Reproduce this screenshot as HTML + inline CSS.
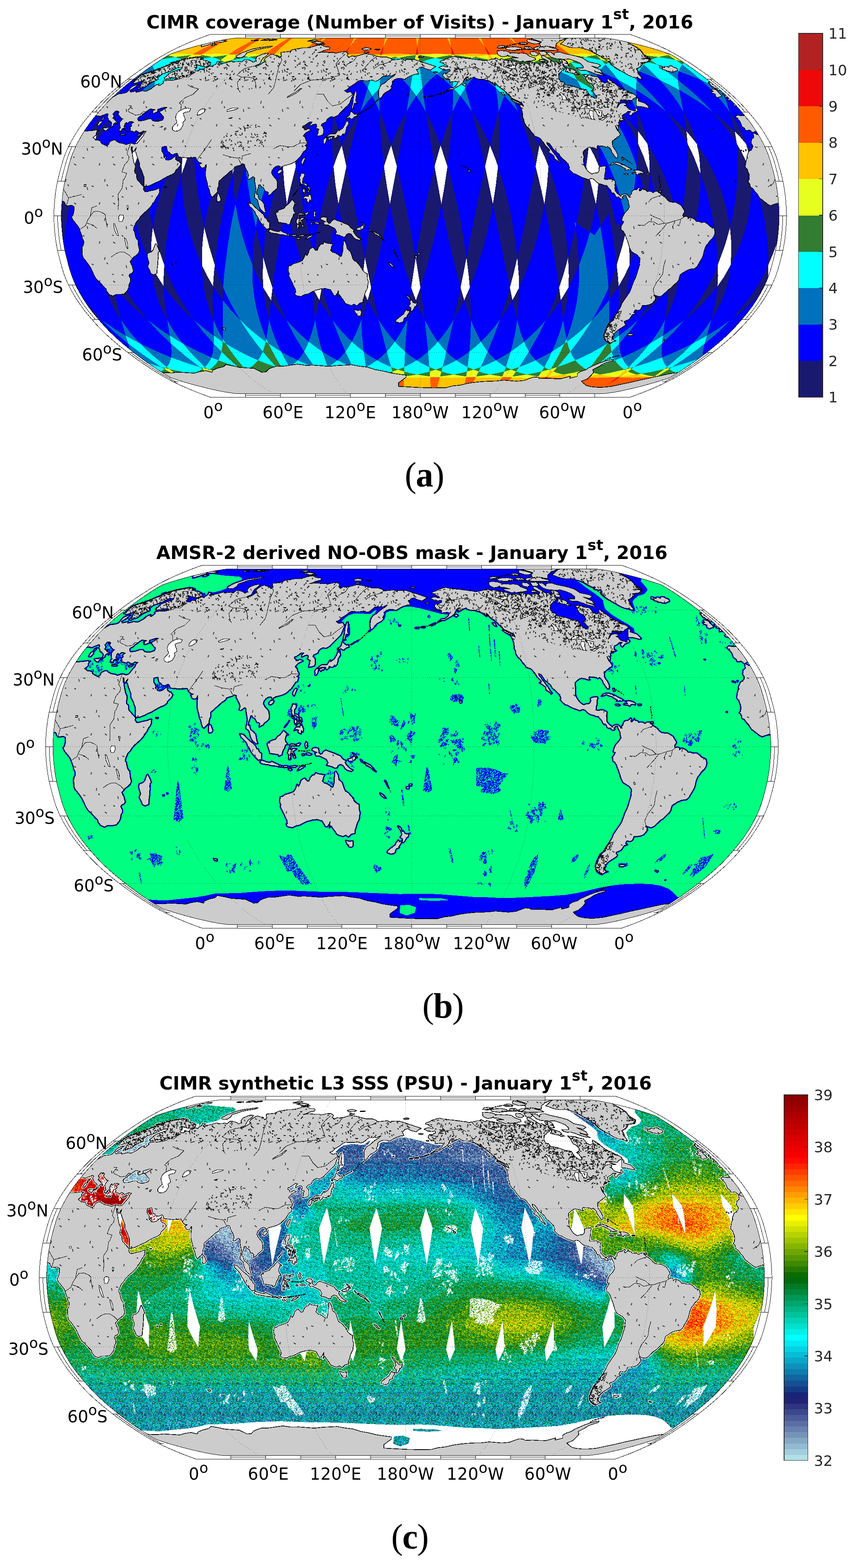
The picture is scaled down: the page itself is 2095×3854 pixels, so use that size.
<!DOCTYPE html>
<html lang="en"><head><meta charset="utf-8"><title>CIMR coverage, AMSR-2 NO-OBS mask and synthetic L3 SSS</title>
<style>
html,body{margin:0;padding:0;background:#fff}
body{width:2095px;height:3854px;overflow:hidden}
svg{display:block}
.t{font-family:"DejaVu Sans","Liberation Sans",sans-serif;font-weight:bold;font-size:45px;fill:#000;text-anchor:middle}
.l{font-family:"DejaVu Sans","Liberation Sans",sans-serif;font-size:40.3px;letter-spacing:0.6px;fill:#000}
.ll{letter-spacing:0}
.c{font-family:"DejaVu Sans","Liberation Sans",sans-serif;font-size:36px;fill:#262626}
.cap{font-family:"Liberation Serif","DejaVu Serif",serif;font-size:86px;fill:#000;text-anchor:middle;letter-spacing:-1.5px}
</style></head>
<body>
<svg width="2095" height="3854" viewBox="0 0 2095 3854">
<rect width="2095" height="3854" fill="#fff"/>
<defs>
<clipPath id="clip"><path d="M-882.6,-0 -882.5,-5.6 -882.4,-11.3 -882.1,-16.9 -881.8,-22.6 -881.4,-28.2 -880.9,-33.9 -880.4,-39.5 -879.9,-45.1 -879.2,-50.8 -878.6,-56.4 -877.8,-62.1 -876.9,-67.7 -876,-73.4 -875,-79 -873.8,-84.7 -872.6,-90.3 -871.3,-95.9 -869.9,-101.6 -868.5,-107.2 -867,-112.9 -865.5,-118.5 -864,-124.2 -862.4,-129.8 -860.7,-135.4 -858.9,-141.1 -857,-146.7 -854.9,-152.4 -852.6,-158 -850.2,-163.7 -847.6,-169.3 -844.9,-175 -842,-180.6 -838.9,-186.2 -835.8,-191.9 -832.5,-197.5 -829.1,-203.2 -825.6,-208.8 -821.9,-214.4 -818.1,-220 -814.1,-225.7 -809.9,-231.3 -805.6,-236.9 -801.1,-242.4 -796.5,-248 -791.8,-253.6 -787.1,-259.1 -782.3,-264.6 -777.4,-270.1 -772.3,-275.6 -767.1,-281.1 -761.7,-286.6 -756.1,-292 -750.3,-297.4 -744.4,-302.8 -738.3,-308.1 -732.2,-313.5 -725.9,-318.7 -719.5,-324 -713,-329.2 -706.5,-334.4 -699.8,-339.6 -693.1,-344.7 -686.2,-349.8 -679.3,-354.8 -672.4,-359.8 -665.3,-364.8 -658.2,-369.7 -651.1,-374.6 -643.8,-379.4 -636.4,-384.1 -628.9,-388.8 -621.2,-393.4 -613.3,-398 -601,-402.1 -588.7,-406 -576.3,-409.8 -564,-413.3 -551.7,-416.7 -539.3,-419.9 -527,-423 -514.7,-425.9 -502.3,-428.7 -490,-431.3 -477.7,-433.6 -465.3,-435.4 -453,-437 453,-437 465.3,-435.4 477.7,-433.6 490,-431.3 502.3,-428.7 514.7,-425.9 527,-423 539.3,-419.9 551.7,-416.7 564,-413.3 576.3,-409.8 588.7,-406 601,-402.1 613.3,-398 621.2,-393.4 628.9,-388.8 636.4,-384.1 643.8,-379.4 651.1,-374.6 658.2,-369.7 665.3,-364.8 672.4,-359.8 679.3,-354.8 686.2,-349.8 693.1,-344.7 699.8,-339.6 706.5,-334.4 713,-329.2 719.5,-324 725.9,-318.7 732.2,-313.5 738.3,-308.1 744.4,-302.8 750.3,-297.4 756.1,-292 761.7,-286.6 767.1,-281.1 772.3,-275.6 777.4,-270.1 782.3,-264.6 787.1,-259.1 791.8,-253.6 796.5,-248 801.1,-242.4 805.6,-236.9 809.9,-231.3 814.1,-225.7 818.1,-220 821.9,-214.4 825.6,-208.8 829.1,-203.2 832.5,-197.5 835.8,-191.9 838.9,-186.2 842,-180.6 844.9,-175 847.6,-169.3 850.2,-163.7 852.6,-158 854.9,-152.4 857,-146.7 858.9,-141.1 860.7,-135.4 862.4,-129.8 864,-124.2 865.5,-118.5 867,-112.9 868.5,-107.2 869.9,-101.6 871.3,-95.9 872.6,-90.3 873.8,-84.7 875,-79 876,-73.4 876.9,-67.7 877.8,-62.1 878.6,-56.4 879.2,-50.8 879.9,-45.1 880.4,-39.5 880.9,-33.9 881.4,-28.2 881.8,-22.6 882.1,-16.9 882.4,-11.3 882.5,-5.6 882.6,-0 882.5,5.6 882.4,11.3 882.1,16.9 881.8,22.6 881.4,28.2 880.9,33.9 880.4,39.5 879.9,45.1 879.2,50.8 878.6,56.4 877.8,62.1 876.9,67.7 876,73.4 875,79 873.8,84.7 872.6,90.3 871.3,95.9 869.9,101.6 868.5,107.2 867,112.9 865.5,118.5 864,124.2 862.4,129.8 860.7,135.4 858.9,141.1 857,146.7 854.9,152.4 852.6,158 850.2,163.7 847.6,169.3 844.9,175 842,180.6 838.9,186.2 835.8,191.9 832.5,197.5 829.1,203.2 825.6,208.8 821.9,214.4 818.1,220 814.1,225.7 809.9,231.3 805.6,236.9 801.1,242.4 796.5,248 791.8,253.6 787.1,259.1 782.3,264.6 777.4,270.1 772.3,275.6 767.1,281.1 761.7,286.6 756.1,292 750.3,297.4 744.4,302.8 738.3,308.1 732.2,313.5 725.9,318.7 719.5,324 713,329.2 706.5,334.4 699.8,339.6 693.1,344.7 686.2,349.8 679.3,354.8 672.4,359.8 665.3,364.8 658.2,369.7 651.1,374.6 643.8,379.4 636.4,384.1 628.9,388.8 621.2,393.4 613.3,398 601,402.1 588.7,406 576.3,409.8 564,413.3 551.7,416.7 539.3,419.9 527,423 514.7,425.9 502.3,428.7 490,431.3 477.7,433.6 465.3,435.4 453,437 -453,437 -465.3,435.4 -477.7,433.6 -490,431.3 -502.3,428.7 -514.7,425.9 -527,423 -539.3,419.9 -551.7,416.7 -564,413.3 -576.3,409.8 -588.7,406 -601,402.1 -613.3,398 -621.2,393.4 -628.9,388.8 -636.4,384.1 -643.8,379.4 -651.1,374.6 -658.2,369.7 -665.3,364.8 -672.4,359.8 -679.3,354.8 -686.2,349.8 -693.1,344.7 -699.8,339.6 -706.5,334.4 -713,329.2 -719.5,324 -725.9,318.7 -732.2,313.5 -738.3,308.1 -744.4,302.8 -750.3,297.4 -756.1,292 -761.7,286.6 -767.1,281.1 -772.3,275.6 -777.4,270.1 -782.3,264.6 -787.1,259.1 -791.8,253.6 -796.5,248 -801.1,242.4 -805.6,236.9 -809.9,231.3 -814.1,225.7 -818.1,220 -821.9,214.4 -825.6,208.8 -829.1,203.2 -832.5,197.5 -835.8,191.9 -838.9,186.2 -842,180.6 -844.9,175 -847.6,169.3 -850.2,163.7 -852.6,158 -854.9,152.4 -857,146.7 -858.9,141.1 -860.7,135.4 -862.4,129.8 -864,124.2 -865.5,118.5 -867,112.9 -868.5,107.2 -869.9,101.6 -871.3,95.9 -872.6,90.3 -873.8,84.7 -875,79 -876,73.4 -876.9,67.7 -877.8,62.1 -878.6,56.4 -879.2,50.8 -879.9,45.1 -880.4,39.5 -880.9,33.9 -881.4,28.2 -881.8,22.6 -882.1,16.9 -882.4,11.3 -882.5,5.6Z"/></clipPath>
<path id="lp" d="M-484.7,279.5 -487.7,275.1 -483.3,275.9 -478.9,276.8 -478.8,280.6 -481.7,280 -484.7,279.5ZM-612,118.4 -609.5,118.4 -609.1,120.7 -611.6,120.7 -612,118.4ZM-602.5,113.9 -600.6,113.9 -600.6,116.2 -602.2,115.6 -602.5,113.9ZM-646.8,130.3 -647.3,136 -647.6,141.7 -651.8,143.4 -656,145.1 -659.1,143.4 -662.2,141.7 -664.1,137.1 -665.9,132.6 -668,128.6 -670.1,124.7 -668.4,119.9 -666.7,115 -668.4,109.9 -670.2,104.8 -670.8,101.4 -671.5,98 -670.8,94.9 -670.2,91.8 -666,90.4 -661.8,89 -659.2,86.4 -656.6,83.9 -655.3,79.9 -653.8,75.9 -652,70.8 -649.9,68 -646.9,73.7 -643.9,79.3 -642.6,83.6 -641.1,87.8 -644.2,90.1 -644.5,94.6 -644.6,99.2 -644,102.6 -644.6,107.4 -645.1,112.2 -645.2,115.6 -645.3,119 -646.1,124.7 -646.8,130.3ZM-319.7,47 -315.7,47.6 -316.6,50.4 -319.1,49.9 -319.7,47ZM-326.8,45.9 -323.7,46.2 -320.7,46.5 -323.1,49.9 -326.7,48.2 -326.8,45.9ZM-326.6,49.3 -330.4,48.2 -334.2,47 -339.2,46.8 -344.2,46.5 -349.2,45.1 -354.3,43.6 -356.8,43.6 -361.8,42.8 -366.8,41.9 -370.1,40.2 -373.5,38.5 -369.6,33.4 -365.6,34.6 -361.1,36.3 -356.5,38 -352,38.5 -347.5,39.1 -344.6,36.3 -340.2,38.5 -335.9,40.8 -331.6,42.5 -327.3,44.2 -326.6,49.3ZM-375.2,13 -370.1,17 -370.2,22.3 -370.2,27.6 -370.2,32.9 -373.2,31.2 -377.1,33.4 -380.9,29.5 -384.7,25.5 -388.5,21.5 -391.9,17 -395.2,12.5 -396.8,9.1 -398.3,5.7 -401.1,1.4 -403.9,-2.8 -405.1,-6.2 -406.3,-9.6 -409.5,-13.3 -412.6,-17 -416.1,-20.1 -419.5,-23.2 -421.3,-27.5 -423.2,-31.7 -418.5,-30.6 -413.7,-29.5 -410.1,-25.5 -406.5,-21.5 -402.6,-17.9 -398.7,-14.2 -395.7,-11.9 -392.8,-9.6 -389.1,-6.2 -385.3,-2.8 -383.3,1.4 -381.3,5.7 -378.3,5.7 -376.8,9.4 -375.2,13ZM-311.6,-36.3 -309.2,-33.4 -306.5,-31.5 -303.8,-29.5 -308.3,-28.3 -310.5,-23.8 -312.1,-18.7 -311.1,-15 -310.2,-11.3 -305.3,-5.7 -308.3,-5.1 -311.3,-4.5 -312.3,-0.6 -313.3,3.4 -316.2,7.4 -317.5,10.8 -318.7,14.2 -320,19.8 -323.5,21.5 -327,23.2 -327.6,19.3 -331.3,18.7 -335.1,18.1 -338.3,17.6 -341.6,17 -345.4,16.7 -349.1,16.4 -349.7,13.3 -350.2,10.2 -352,5.1 -353.8,-0 -355.3,-5.7 -355.3,-7.9 -352,-8.8 -348.7,-9.6 -352.2,-11.3 -348.2,-13.3 -344.1,-15.3 -339.6,-16.7 -335.1,-18.1 -332.5,-21.5 -329.9,-24.9 -324.8,-28.3 -319.7,-34 -315.5,-39.7 -311.6,-36.3ZM-499.9,-45.3 -499,-51 -498.7,-55.5 -494.4,-52.7 -492.7,-48.2 -491.4,-44.8 -490.1,-41.4 -490.9,-36.8 -494.5,-34.6 -498.5,-34 -500,-39.1 -499.9,-42.2 -499.9,-45.3ZM-629.6,-71.4 -626.6,-71.4 -623.6,-71.4 -624.8,-69.7 -628.8,-69.7 -629.6,-71.4ZM-346.5,-113.3 -343.6,-113.6 -340.6,-113.9 -339.4,-111.1 -342.3,-106.5 -347.1,-103.1 -351.4,-104.8 -350.9,-108.8 -346.5,-113.3ZM-796.3,-204 -796.2,-199.5 -799.2,-196.6 -805,-192.1 -801.7,-190.4 -799.8,-188.1 -797.9,-185.9 -793.4,-186.4 -791.2,-185.6 -789,-184.7 -785.8,-183.6 -786,-180.2 -784,-178.5 -781.9,-176.8 -779.3,-175.7 -776.7,-174.5 -774.3,-173.1 -771.8,-171.7 -766.4,-175.1 -764.9,-178.5 -763.2,-181.9 -757.3,-185.3 -752.9,-186.4 -748.9,-185.9 -747.4,-183 -744.2,-181.9 -742,-180.5 -739.7,-179.1 -735.2,-178.5 -730.7,-177.9 -727.3,-176.5 -723.8,-175.1 -718.3,-176.8 -715.2,-177.9 -712,-179.1 -709.3,-178.2 -706.5,-177.4 -702.7,-176.2 -699.7,-177.1 -696.7,-177.9 -692.4,-182.5 -689.9,-185.9 -687.3,-189 -684.7,-192.1 -680.6,-196.6 -678.9,-201.2 -676,-205.1 -673.9,-207.4 -676.7,-207.4 -680.8,-208.5 -686.8,-205.1 -691.6,-204 -693.8,-206.8 -696.3,-208 -698.7,-209.1 -702,-205.7 -704.6,-206.5 -707.1,-207.4 -710.3,-208.5 -713.9,-209.7 -712.1,-213.6 -714.3,-217 -710.3,-219.8 -709.5,-222.6 -711.6,-223.8 -709.3,-226.6 -704.4,-230 -707.7,-230.5 -707.8,-231.1 -711,-231.4 -714.3,-231.6 -718,-228.8 -720.4,-226.6 -721.5,-227.7 -722.3,-230 -725.9,-226.6 -726.6,-222.6 -728.5,-220.4 -727.2,-218.4 -725.8,-216.4 -727.8,-213 -728.8,-215.3 -731.9,-214.7 -732.5,-211.3 -733.7,-212.5 -734.6,-209.4 -735.4,-206.3 -736,-208.5 -738.7,-206.3 -738.7,-209.7 -741.2,-208.5 -740.4,-213 -736.5,-216.4 -738.6,-217.6 -738.4,-220.9 -739.1,-224.9 -738.8,-229.4 -735.7,-233.9 -733.2,-236.7 -735.3,-240.1 -737.8,-242.9 -739,-244.5 -740.3,-246.2 -741.7,-247.9 -743.1,-249.6 -740.5,-254.6 -741.4,-256.3 -745.8,-254 -744.1,-257.4 -742.7,-257.9 -746.5,-257.4 -750.3,-256.8 -751.7,-254 -755.3,-250.7 -755.2,-249 -752.9,-246.8 -753.7,-243.7 -754.5,-240.6 -752.9,-237.3 -750.4,-237.3 -747.9,-237.3 -750.9,-235 -747.9,-232.8 -746.4,-231.4 -744.9,-230 -744.5,-227.1 -746.1,-225.5 -746.5,-228.3 -748.9,-229.4 -754.8,-224.9 -754.7,-221.5 -759.6,-218.1 -763.6,-214.7 -765.5,-215 -764.1,-217 -760.4,-219.8 -758.7,-223.2 -758.7,-226.6 -759.6,-230 -761.5,-231.1 -762.7,-233.3 -765.5,-233.9 -766.6,-236.7 -767.2,-239.5 -768.4,-241.2 -769.6,-242.9 -767.9,-246.2 -767.4,-249.6 -770.1,-251.2 -776,-248.5 -780.5,-247.3 -786,-244.5 -789.6,-244 -790.9,-245.1 -794.1,-245.7 -798.2,-245.7 -803.7,-242.9 -805,-239.5 -808.6,-236.7 -814,-234.5 -817,-233.6 -819.9,-232.8 -823.5,-230.5 -830.2,-226.6 -826.1,-231.9 -821.9,-237.2 -817.6,-242.5 -813.1,-247.8 -808.6,-253.1 -804,-258.3 -799.4,-263.6 -794.7,-268.8 -789.8,-274 -784.8,-279.2 -784.1,-279.5 -777.6,-281.7 -772.7,-284.4 -768,-287.7 -762.6,-288.8 -758.9,-289.9 -753.3,-293.2 -748.3,-295.9 -744.1,-298.6 -739.8,-300.2 -736.3,-300.5 -732.9,-300.7 -729.7,-301.3 -726.6,-301.8 -722.3,-303.4 -718.5,-306.1 -716.8,-308.8 -714.1,-312 -712.3,-314.7 -707.5,-318.4 -703.4,-320.5 -699.2,-321.8 -695,-323.2 -691.5,-323.7 -693.8,-322.1 -698.9,-318.4 -698.2,-316.8 -702.3,-315.7 -704.8,-313.6 -709.4,-310.9 -714.1,-308.3 -713.5,-306.1 -712.5,-304 -709.4,-304.5 -706.3,-305.1 -702,-306.1 -697.7,-307.2 -698.7,-303.4 -695.1,-304.2 -691.5,-305.1 -687.7,-306.1 -683.8,-307.2 -680.6,-306.7 -677.4,-306.1 -674,-306.1 -670.3,-307.7 -665.2,-310.4 -660.1,-313.1 -656,-317.3 -648.7,-322.1 -645.3,-323.2 -641.9,-324.2 -643.7,-320 -640.4,-320 -634.6,-324.2 -630.8,-327.4 -632.5,-329.5 -630.2,-331.5 -627.2,-332.1 -624.2,-332.6 -621,-333.1 -617.8,-333.6 -614.1,-333.4 -610.3,-333.1 -606.6,-333.8 -602.9,-334.5 -599.2,-335.2 -600.5,-336.2 -601.8,-337.3 -600.7,-339.3 -604.6,-338.8 -608.6,-338.3 -613.4,-337.5 -618.3,-336.7 -623.5,-335.7 -628.6,-334.7 -627.9,-337.8 -629.6,-339.3 -623.2,-343.5 -619.6,-348.1 -614.1,-351.6 -609.6,-353.4 -605.1,-355.2 -600.1,-356.9 -595.1,-358.7 -591.2,-359.9 -587.4,-361.2 -585.1,-363.7 -585.8,-365.1 -588.8,-365.1 -591.9,-365.1 -596.1,-364.2 -604.6,-360.2 -614.8,-355.2 -619.7,-353.4 -624.6,-351.6 -629.9,-349.8 -635.3,-348.1 -640.7,-344 -646.3,-339.3 -645.3,-338 -644.2,-336.7 -645.7,-334.2 -651.3,-332.1 -658.2,-328.9 -663.6,-326.3 -668.7,-322.4 -673.8,-318.4 -680,-315.7 -683.1,-315.2 -686.2,-314.7 -690.5,-311.5 -693,-311.5 -695.5,-311.5 -693.2,-314.7 -688.8,-317.9 -687.5,-320.8 -686.2,-323.7 -683.9,-326.8 -681.6,-330 -677.3,-335.2 -682.5,-331.5 -685.8,-330.5 -690.5,-328.9 -695.1,-327.4 -699.6,-325.8 -704.3,-325.3 -704.9,-326.6 -705.6,-327.9 -703.1,-330.5 -701.5,-333.1 -695.5,-337.8 -692.7,-340.9 -686.7,-345.5 -682.3,-347 -677.9,-348.6 -673,-350.1 -668,-351.6 -664.5,-352.6 -661.1,-353.6 -658,-353.6 -654.9,-353.6 -657,-354.6 -652.6,-356.4 -648.1,-358.2 -644,-358.7 -634.6,-363.7 -626.9,-367.6 -620.6,-370.1 -614.2,-372.5 -609.8,-374.2 -605.4,-375.9 -608.4,-375.9 -611.5,-375.9 -614.6,-375.9 -609.7,-377.4 -604.9,-378.8 -602.5,-378.6 -600.1,-378.3 -597.9,-378.1 -595.7,-377.8 -593.1,-380.7 -587,-382.4 -581,-384.1 -576.4,-384.8 -571.8,-385.5 -566.2,-386.9 -561.8,-387.8 -557.4,-388.8 -553.8,-389.6 -550.2,-390.3 -546.6,-391.1 -544.2,-390.6 -541.9,-390.2 -539.9,-389.7 -537.8,-389.2 -536.2,-388.6 -534.6,-388 -532.9,-387.4 -537.1,-386.4 -541.2,-385.5 -541.3,-384.1 -537.4,-384.3 -533.5,-384.5 -533.1,-383.3 -532.6,-382.2 -529.3,-381.9 -526,-381.7 -524.1,-380.9 -522.2,-380.1 -520.3,-379.3 -518.7,-378.3 -517,-377.4 -515.4,-376.4 -516,-373.7 -516.5,-371 -520.1,-368.6 -525.5,-367.1 -528.6,-366.9 -531.7,-366.6 -534.3,-367.1 -536.8,-367.6 -539.4,-368.1 -541.7,-368.8 -544,-369.4 -546.3,-370.1 -547.5,-370.8 -548.6,-371.5 -549,-369.6 -549.3,-367.6 -549.2,-365.6 -549.1,-363.7 -554.9,-358.7 -554.1,-357.4 -553.2,-356.2 -550.6,-355.9 -548,-355.7 -543.4,-357.7 -543.3,-359.7 -543.1,-361.7 -541.1,-360.9 -539.1,-360.2 -536.8,-359.7 -534.5,-359.2 -533.1,-358.7 -529.5,-363.7 -523.2,-365.9 -516.9,-368.1 -514.9,-367.4 -512.9,-366.8 -510.8,-366.1 -509.6,-368.6 -501.4,-373.5 -500.3,-376.4 -499.1,-379.3 -496.6,-378.6 -494,-378 -491.5,-377.4 -497.7,-373.5 -496.8,-371 -492.4,-373 -488,-374.9 -485.6,-374.5 -481.2,-375.6 -476.9,-376.7 -472.6,-377.8 -467.6,-379 -462.6,-380.2 -461.1,-378.3 -458.1,-378.6 -455.1,-378.8 -452.3,-378.8 -449.6,-378.8 -444.9,-379.8 -442.3,-378.8 -439.6,-377.8 -435.5,-381 -431.3,-384.1 -428.6,-384.1 -425.9,-384.1 -423.5,-383.4 -421.2,-382.8 -418.8,-382.2 -416.4,-381 -413.9,-379.8 -412.4,-378.6 -410.8,-377.4 -404.3,-380.2 -404.5,-382.9 -404.6,-385.5 -402.7,-388.5 -400.7,-391.6 -395,-394.1 -389.3,-396.7 -385.2,-398 -381,-399.4 -378.5,-399.1 -375.9,-398.8 -373.4,-398.5 -376,-395.5 -378.6,-392.5 -386.1,-387.8 -388.6,-384.3 -391.1,-380.7 -392.7,-377.1 -394.1,-373.5 -399.8,-371.3 -405.5,-369.1 -405.4,-367.1 -399.9,-369.1 -394.4,-371 -387.1,-375.9 -380.2,-380.7 -382.3,-381.4 -384.3,-382.2 -382.5,-385 -380.7,-387.8 -375.5,-391.3 -370.2,-394.8 -364.4,-397.1 -362.2,-396.7 -360.1,-396.2 -357.9,-394.8 -355.3,-394.5 -352.7,-394.2 -350.1,-393.9 -349,-391.9 -347.9,-389.9 -346.8,-387.8 -340.8,-392.5 -341.7,-394.4 -342.6,-396.2 -342.5,-398.9 -342.4,-401.7 -339.2,-402 -336,-402.3 -332.9,-402.6 -329,-403 -325.1,-403.5 -321.2,-403.9 -313.3,-408.4 -309.2,-409.1 -305.1,-409.8 -301,-410.6 -296.9,-411.3 -292.8,-412 -288.7,-412.8 -285.4,-412.8 -282.1,-412.8 -278.8,-412.8 -274.7,-413.5 -270.7,-414.2 -266.7,-414.9 -262.9,-416.1 -259,-417.2 -255.2,-418.4 -251.7,-418.9 -248.1,-419.5 -244.5,-420 -242.7,-419.5 -240.8,-418.9 -239,-418.4 -237.7,-417.1 -236.4,-415.8 -233.6,-415.7 -230.8,-415.6 -228,-415.5 -225.2,-415.4 -223.8,-414.1 -222.4,-412.8 -223,-409.7 -226.7,-408.8 -230.3,-407.9 -233.9,-407 -237.5,-406.2 -243.3,-403 -247.6,-401.9 -251.9,-400.8 -248.5,-401.2 -245.2,-401.7 -241.8,-402.1 -238.5,-402.6 -235.2,-402.4 -231.8,-402.3 -228.5,-402.1 -227.1,-401.7 -223.7,-401.7 -220.2,-401.7 -216.8,-401.7 -213.3,-401.7 -210.6,-400.5 -207.8,-399.4 -203.7,-400.5 -199.7,-401.5 -195.6,-402.6 -192.5,-402.8 -189.3,-403 -186.2,-403.2 -183.1,-403.5 -181.1,-401.8 -179.2,-400.2 -177.1,-398.5 -178.7,-395.7 -180.2,-393 -178.2,-392 -176.2,-391.1 -174.1,-390.2 -170.7,-391.8 -167.3,-393.4 -166,-392.5 -162.4,-392.7 -158.8,-392.8 -155.2,-393 -151.2,-394 -147.3,-395.1 -143.3,-396.2 -139.4,-397.3 -135.5,-398.5 -132.2,-398 -128.8,-397.6 -125.5,-397.1 -122.2,-396.7 -119,-395.8 -115.7,-395 -112.5,-394.2 -109.2,-393.3 -105.9,-392.5 -103.2,-391.7 -100.5,-391 -97.7,-390.2 -94.5,-390.2 -91.3,-390.2 -88.1,-390.2 -84.9,-390.2 -81.7,-390.2 -78.4,-388.9 -75.1,-387.7 -71.8,-386.4 -68.7,-383.1 -65.1,-383.4 -61.4,-383.7 -57.7,-384.1 -54.1,-384.4 -50.4,-384.8 -46.8,-385.1 -43.2,-385.5 -39.8,-383.1 -36.4,-380.7 -35,-384.1 -31.7,-384.2 -28.5,-384.4 -25.2,-384.5 -21.6,-384.4 -18,-384.2 -14.4,-384.1 -11.3,-383.1 -8.2,-382.2 -5,-381.2 -1.8,-380.2 1.2,-379.3 4.3,-378.3 7.3,-377.4 11,-376.1 14.8,-374.8 18.5,-373.5 22.3,-372.2 26.1,-370.9 29.9,-369.6 32.8,-368.6 35.7,-367.6 38.7,-366.6 36.4,-365.4 34,-364.2 31.3,-362.4 28.5,-360.7 26,-358.2 22.5,-358.9 19.1,-359.7 15.2,-360.9 11.4,-362.2 8.5,-364.2 5.6,-366.1 1.9,-364.9 -1.9,-363.7 -5.7,-359.2 -9.5,-359.7 -7.7,-356.7 -5.8,-353.6 -3.9,-348.6 -7.8,-348.3 -11.7,-348.1 -15,-347 -18.3,-346 -21.6,-345 -25.6,-342.9 -29.7,-340.9 -32.7,-339 -35.7,-337.1 -38.8,-335.2 -41.8,-336.1 -44.8,-336.9 -47.8,-337.8 -51.8,-337.8 -55.7,-337.8 -58.9,-336.5 -62,-335.2 -65.3,-332.9 -68.6,-330.5 -68.3,-327.4 -68.1,-324.2 -70.1,-320.8 -72.2,-317.3 -69.2,-314.7 -72.3,-311.5 -75.3,-308.3 -79.8,-306.1 -84.3,-304 -87.4,-301.3 -90.5,-298.6 -92.4,-295.3 -94.3,-292.1 -97.4,-289.6 -100.6,-287.2 -101.5,-291.5 -102.3,-295.9 -102.2,-300.4 -102.1,-304.9 -102,-309.3 -100.5,-313.3 -99,-317.3 -94.9,-322.6 -91.1,-324.5 -87.4,-326.3 -83.8,-329.7 -80.3,-333.1 -76.9,-335.7 -73.6,-338.3 -69.3,-340.9 -65,-343.5 -60.5,-348.6 -63.5,-347.3 -66.6,-346 -70.9,-343.5 -73.8,-344.2 -76.6,-345 -80.8,-343.5 -84,-343.5 -87.3,-343.5 -90.6,-343.5 -95.2,-339.6 -99.9,-335.7 -104.6,-332.1 -107.8,-331.3 -110.9,-330.5 -114,-332.1 -117.1,-333.6 -120.3,-333.1 -123.5,-332.6 -126.7,-332.1 -130.7,-332.1 -134.8,-332.1 -138.8,-332.1 -141.8,-332.2 -144.9,-332.4 -147.9,-332.6 -150.6,-331.5 -153.3,-330.5 -157.2,-327.4 -161.1,-324.2 -164.9,-321.9 -168.6,-319.6 -172.4,-317.3 -175.9,-313.9 -179.4,-310.4 -182.9,-309.1 -186.4,-307.7 -183.8,-305.9 -181.2,-304 -179.4,-302.9 -174.9,-304 -170.4,-305.1 -168.6,-302.1 -166.8,-299.1 -164.4,-298.6 -166.4,-294.5 -168.4,-290.4 -170.2,-285.9 -171.9,-281.3 -173.6,-276.8 -178.3,-271.2 -183.9,-265.7 -189.5,-260.2 -195.1,-254.6 -198.6,-251 -202,-247.3 -206.6,-244.8 -211.2,-242.3 -214,-242.3 -218.1,-244 -221,-242.6 -223.8,-241.2 -229.3,-236.7 -231,-231.1 -234.7,-229.2 -238.3,-227.3 -241.9,-225.5 -243.6,-222.1 -239.7,-218.1 -237.8,-213.6 -237.8,-208.8 -237.7,-204 -240,-198.9 -243.5,-197.8 -247,-196.6 -250.2,-196.1 -253.4,-195.5 -252.5,-200.6 -250.9,-204 -251.4,-208.5 -249.2,-212.5 -253.1,-214.2 -256.9,-215.9 -254.4,-219.3 -255.1,-224.3 -257.6,-225.5 -260.5,-224.9 -263.4,-224.3 -267.1,-222.4 -270.8,-220.4 -270.8,-224.3 -268.2,-227.4 -265.6,-230.5 -268.3,-230.8 -271,-231.1 -274.8,-228.6 -278.7,-226 -281.8,-223.8 -284.9,-221.5 -288.8,-220.9 -289.3,-217 -286.9,-215.3 -284.5,-213.6 -285.1,-210.8 -281.4,-210.8 -275.9,-214.2 -273.1,-213.3 -270.3,-212.5 -268.3,-210.8 -271.1,-209.4 -274,-208 -277.2,-206.3 -280.4,-204.6 -285.8,-198.9 -287.3,-196.1 -285,-194.4 -282.8,-192.7 -282,-189.3 -281.2,-185.9 -279.4,-182.8 -277.5,-179.6 -278.7,-175.7 -283.5,-172.8 -279,-170.6 -279.8,-165.5 -282,-160.4 -286.1,-158.7 -289.8,-153 -293.4,-147.3 -296.9,-142.8 -301.7,-138.8 -306.1,-134.3 -309.3,-132 -312.4,-130.3 -315.5,-128.6 -318.8,-127.5 -322.1,-126.4 -325.7,-125.2 -329.4,-124.4 -333.2,-123.5 -337.1,-121.8 -340.9,-120.1 -342.9,-115 -343.8,-118.4 -344.7,-121.8 -347.5,-122.4 -350.4,-123 -355.6,-120.7 -359.3,-117.9 -363.9,-112.2 -364.7,-109.1 -365.5,-106 -364.1,-102.9 -362.7,-99.7 -360.3,-96.6 -357.9,-93.5 -355.2,-91.2 -352.2,-86.1 -351.7,-82.2 -351.3,-78.2 -351.3,-74.8 -351.3,-71.4 -352.1,-67.4 -357.4,-62.3 -360.2,-60.4 -363.1,-58.4 -365.8,-53.8 -368.6,-52.4 -371.4,-51 -375,-48.7 -374.2,-54.4 -373.1,-56.7 -377.4,-60.1 -380.9,-60.1 -383.1,-64.6 -385.3,-69.1 -388.1,-70.6 -391,-72 -392.7,-75.9 -394.6,-76.5 -397.2,-75.4 -397.6,-70.8 -400,-65.2 -402.3,-59.5 -402.5,-56.1 -402.7,-52.7 -399.2,-52.7 -398.5,-47.6 -397.4,-44.2 -396.3,-40.8 -392.9,-39.1 -388.6,-35.1 -384.2,-30 -383.6,-25.8 -383,-21.5 -382.1,-17.6 -381.2,-13.6 -379.3,-7.9 -382.8,-7.4 -386,-9.9 -389.2,-12.5 -393.1,-17 -394.8,-20.4 -396.4,-23.8 -397.3,-27.2 -398.2,-30.6 -398.8,-34 -399.5,-37.4 -402.8,-41.4 -407.6,-44.8 -407.5,-47.9 -407.3,-51 -405.5,-56.7 -405,-60.9 -404.4,-65.2 -404.6,-70.3 -405.4,-75.1 -406.2,-79.9 -406.9,-83.9 -407.5,-87.8 -407.4,-93.5 -411,-96.3 -414.2,-94.1 -417.4,-91.8 -420.6,-89.5 -424.5,-90.7 -423.3,-94.9 -422,-99.2 -423.2,-103.4 -424.4,-107.7 -426.2,-110.8 -428.1,-113.9 -429.8,-117.6 -431.5,-121.3 -431.8,-126.4 -434.9,-127.2 -437.9,-128.1 -440.8,-124.7 -445.9,-123.5 -450,-122.4 -453.1,-121.3 -456.2,-120.1 -457.7,-116.2 -462.2,-112.2 -467.5,-109.4 -472.3,-104.8 -477.1,-100.3 -482.7,-95.8 -486.1,-92.7 -489.4,-89.5 -494.9,-85 -495.1,-79.6 -495.1,-74.2 -496.7,-70.8 -498.3,-67.4 -498.7,-62.9 -499,-58.4 -503.3,-53.8 -507.6,-49.9 -511.3,-45.9 -514.2,-48.2 -515.7,-52.1 -517.1,-56.1 -517.8,-59.8 -518.5,-63.5 -520.6,-68.3 -522.6,-73.1 -523.1,-77.1 -523.7,-81 -524.7,-84.4 -525.8,-87.8 -526.7,-92.1 -527.6,-96.3 -527.7,-102 -527.8,-107.7 -527.5,-111.1 -527.2,-114.5 -526.3,-120.1 -526.4,-125.8 -528.2,-123.5 -529.9,-119 -535.1,-117.3 -539.8,-119 -541.2,-122.4 -543.5,-125.8 -540.2,-127.8 -536.9,-129.8 -539.8,-130.1 -542.7,-130.3 -546,-133.7 -549,-136 -550.5,-140.5 -552.7,-143.9 -557.2,-143.4 -561.7,-142.8 -565.4,-142.6 -569.2,-142.4 -573,-142.2 -577,-142.8 -581,-143.4 -584.8,-143.7 -588.7,-143.9 -591.4,-144.5 -594.2,-145.1 -595.3,-148.5 -596.4,-151.9 -599.1,-154.1 -603,-152.4 -606.9,-150.7 -610.2,-151 -613.5,-151.3 -616.6,-155.8 -618.9,-157 -621.2,-158.1 -622.8,-163.8 -623.5,-167.5 -624.2,-171.1 -627.2,-170.6 -630.3,-170 -634.6,-168.9 -635.4,-166.6 -635.2,-162.6 -635.1,-158.7 -633.3,-155.8 -631.4,-153 -630,-149.6 -630.8,-144.5 -629.1,-141.7 -628.3,-145.1 -625.6,-147.9 -624.8,-143.4 -626.7,-139.4 -624.3,-137.1 -619.6,-136.6 -615.9,-137.7 -612.2,-138.8 -606.8,-143.4 -602.7,-146.2 -599.9,-149.6 -600.8,-145.9 -601.7,-142.2 -601.2,-138.3 -597,-134.9 -592.9,-133.7 -590.2,-129.8 -588.2,-127.5 -591.3,-121.8 -596.2,-116.2 -601.5,-111.6 -602.3,-107.1 -605.7,-104.6 -609.1,-102 -612.5,-100.6 -616,-99.2 -619.2,-97.8 -622.4,-96.3 -627.3,-93.5 -632.3,-90.7 -636.9,-87.8 -641.6,-85 -645.3,-83.6 -649,-82.2 -653.3,-79.9 -657.6,-77.6 -661.9,-75.9 -666.3,-74.2 -670.7,-72.5 -674.4,-72.3 -678.2,-72 -679.2,-75.4 -679.4,-79.6 -679.4,-83.9 -679.4,-87.3 -679.3,-90.7 -679.3,-95.8 -680.7,-98.9 -682.1,-102 -682.9,-105.1 -683.8,-108.2 -685.4,-111.4 -686.9,-114.5 -688.6,-118.2 -690.3,-121.8 -690.2,-125.5 -690.1,-129.2 -691.5,-132.9 -692.8,-136.6 -693.9,-139.7 -695,-142.8 -697.3,-148.5 -698,-151.6 -698.7,-154.7 -701.3,-158.7 -699.5,-162.9 -697.7,-167.2 -700.9,-163.8 -702.2,-161.5 -704.9,-157.1 -707.2,-159.8 -707.9,-163.2 -708,-166.6 -708.5,-169.7 -710.2,-167.2 -710.4,-161.5 -709.3,-157.8 -708.1,-154.1 -707.7,-150.2 -707.2,-146.2 -706.2,-141.1 -705.1,-136 -704.1,-130.3 -700.9,-124.7 -700.7,-119 -701.6,-115 -702.4,-111.1 -701.6,-105.4 -697.4,-102 -697.2,-97.8 -697.1,-93.5 -695.5,-88.4 -691.2,-84.4 -688.8,-81.3 -686.3,-78.2 -681.9,-73.7 -679.5,-69.7 -681,-65.7 -679.1,-62.6 -677.2,-59.5 -672.3,-58.9 -668.4,-60.1 -664.6,-61.2 -660.7,-62.1 -656.9,-62.9 -653.9,-63.5 -650.8,-64 -647.4,-65.7 -644,-67.4 -640,-66.9 -641.5,-62.3 -640.4,-58.9 -642.3,-55 -644.1,-51 -648.6,-45.3 -650.1,-41.9 -651.5,-38.5 -654.3,-34.6 -657,-30.6 -659.8,-26.6 -662.5,-22.7 -667.7,-17 -670.8,-14.2 -673.9,-11.3 -677.2,-8.5 -680.6,-5.7 -684.4,-1.7 -688.1,2.3 -690.3,6 -692.5,9.6 -695.9,13 -699.2,17 -701.5,22.7 -704.1,28.3 -704.7,31.7 -705.2,35.1 -702.5,38.5 -702,41.9 -701.4,45.3 -700.3,49.6 -699.2,53.8 -696.2,58.4 -694,60.6 -693.7,65 -693.3,69.3 -692.9,73.7 -691.5,79.3 -690.1,85 -691.5,88.4 -692.9,91.8 -695.8,94.6 -698.8,97.5 -702,99.7 -705.3,102 -709.1,107.1 -711.3,109.7 -713.5,112.2 -711.7,115.6 -710,119 -707.8,124.7 -706.6,130.1 -705.3,135.4 -707.5,140 -710.9,141.7 -714.3,143.4 -716.1,147.3 -714.3,150.7 -712.5,154.1 -712.4,157.8 -712.3,161.5 -714.5,164.9 -716.1,169.4 -716.5,173.1 -716.8,176.8 -718.3,179.9 -719.8,183 -721.5,185 -723.2,187 -725.2,189.3 -727.1,191.5 -731.3,192.7 -735,193 -738.6,193.2 -743.3,193.2 -748.1,193.2 -751.8,195.2 -755.4,197.2 -761.4,194.9 -765.4,192.7 -768.7,188.1 -771.1,185.3 -771.8,182.5 -772.4,179.6 -776,176.2 -779.4,172.8 -782.7,169.2 -786,165.5 -788.8,162.1 -795.2,157 -797.3,153.9 -799.4,150.7 -801.7,146.2 -803.9,141.7 -805.8,137.7 -807.6,133.7 -809.3,129.8 -811.8,125.8 -814.3,121.8 -818.4,116.2 -822.5,110.5 -825.3,107.4 -828,104.3 -829.5,100.3 -830.9,96.3 -831,91.2 -831.1,86.1 -831.1,81.3 -831,76.5 -827.8,71.4 -827.5,66.9 -827.2,62.3 -829.2,58.4 -831.2,54.4 -831.7,49.9 -833.1,46.2 -834.4,42.5 -836,38.3 -837.6,34 -839.6,28.3 -844,22.7 -846.7,19.3 -849.3,15.9 -854.1,10.2 -855.7,6.8 -857.2,3.4 -853.7,-2.3 -852.7,-6.2 -851.6,-10.8 -851.4,-13.9 -851.3,-17 -851.5,-22.7 -855.8,-25.5 -858.3,-25.5 -861.5,-25.2 -864.8,-24.9 -869.8,-24.4 -873.1,-28.3 -874.2,-32.9 -877,-35.7 -879.4,-36 -881.9,-36.3 -886.9,-35.7 -890,-35.1 -893,-34.6 -896.7,-32.9 -899.3,-31.7 -898.8,-37.2 -898.3,-42.8 -897.7,-48.3 -897,-53.9 -896.3,-59.4 -895.5,-65 -894.6,-70.5 -893.6,-76.1 -892.5,-81.7 -891.3,-87.2 -890,-92.8 -888.7,-98.3 -887.3,-103.9 -885.8,-109.4 -884.3,-115 -882.8,-120.6 -881.3,-126.1 -879.7,-131.7 -878,-137.2 -876.1,-142.8 -874.1,-148.3 -871.9,-153.9 -869.6,-159.4 -867.1,-165 -864.5,-170.6 -861.7,-176.1 -858.8,-181.7 -855.7,-187.2 -852.5,-192.8 -849.2,-198.3 -845.7,-203.9 -840,-206.3 -836.3,-207 -832.5,-207.8 -828.7,-208.5 -824,-208.5 -819.4,-208.5 -814.7,-208.8 -810.1,-209.1 -805.5,-209.7 -802.1,-210.2 -798.6,-210.8 -795.1,-211.3 -794.5,-208.5 -790.2,-210.2 -794.5,-206.3 -796.3,-204ZM-634.5,-246.8 -635.9,-248.7 -637.3,-250.7 -638.9,-252.9 -641.9,-255.2 -637.4,-257.7 -633,-260.2 -628,-263.2 -623,-266.3 -626.1,-266.8 -630.9,-266.3 -635.3,-264.9 -639.6,-263.5 -645.2,-261.8 -646.1,-257.4 -642.1,-256.8 -645.3,-255.7 -648.5,-254.6 -652.4,-252.9 -656.2,-251.2 -658.6,-252.4 -656.7,-255.7 -659.9,-256.8 -655.9,-258.8 -651.8,-260.7 -655.2,-261.3 -658.6,-261.8 -661,-262.4 -663.5,-262.9 -669.5,-259 -673.3,-255.7 -681.8,-250.1 -685.1,-246.2 -689.4,-244.5 -694,-240.6 -694.4,-236.7 -692.1,-233.3 -688.3,-233.5 -684.5,-233.7 -680.7,-233.9 -675.1,-235.9 -669.4,-237.8 -665.1,-237.8 -660.8,-237.8 -659.5,-235.9 -658.3,-233.9 -654.9,-233 -651.5,-232.2 -647.6,-232.2 -643.7,-232.2 -638.3,-233.9 -633,-235.6 -630.6,-240.1 -630.8,-243.4 -632.6,-245.1 -634.5,-246.8ZM-688.8,-198.3 -694.6,-196.1 -696.8,-198.3 -692.7,-200 -688.3,-201.2 -684,-202.3 -688.8,-198.3ZM-724.2,-200 -726.5,-198.3 -730.1,-198.3 -733.6,-198.3 -737.7,-199.5 -736.8,-201.2 -731.8,-201.7 -728,-200.9 -724.2,-200ZM-780.5,-215.3 -775.1,-216.4 -771.6,-216.6 -768.1,-216.8 -764.5,-217 -769.9,-211.3 -772.4,-208 -775.1,-209.7 -777.3,-211.1 -779.5,-212.5 -780.5,-215.3ZM-834.6,-219.3 -836,-218.6 -834.2,-221.1 -834.6,-219.3ZM-821.2,-224.3 -815.8,-226 -816.1,-224.3 -819.2,-222.6 -821.2,-224.3ZM-783,-229.4 -786,-225.7 -789,-222.1 -792.6,-220.9 -794.6,-222.1 -791.7,-226.9 -788.7,-231.6 -782.4,-233.9 -783,-229.4ZM-782,-234.5 -783,-236.1 -780.4,-240.1 -774.2,-243.4 -778.1,-237.8 -782,-234.5ZM-769.6,-288.3 -772.5,-287.2 -777,-286.1 -778,-286 -773.5,-290.3 -768.9,-294.6 -764.1,-298.9 -759.3,-303.2 -760.4,-301.8 -762.4,-299.1 -763.8,-298 -759.6,-298 -760,-295.9 -766,-292.1 -770.3,-290.4 -767.9,-289.9 -769.6,-288.3ZM-362.6,-417.1 -370,-414.1 -374.1,-413.4 -378.3,-412.8 -382.5,-412.1 -386.7,-411.5 -390.7,-410.7 -394.7,-409.9 -398.6,-409.1 -402.6,-408.4 -408.9,-406.2 -415.2,-403.9 -420.9,-402.1 -426.7,-400.3 -428.3,-397.6 -429.9,-394.8 -434,-392 -438.1,-389.2 -442.2,-388.8 -446.3,-388.3 -449.1,-389 -451.8,-389.7 -452.5,-391.1 -453.1,-392.5 -444.6,-397.1 -438.2,-400.8 -432.9,-402.6 -427.7,-404.4 -422.5,-406.2 -417.5,-407.9 -412.6,-409.7 -407.8,-410.7 -403,-411.8 -398.2,-412.8 -394.2,-413.3 -390.1,-413.9 -386,-414.4 -382,-414.9 -377.5,-415.8 -373,-416.7 -369.6,-416.8 -366.1,-416.9 -362.6,-417.1ZM-509.4,-422.1 -506.2,-422.1 -503,-422.1 -499.8,-422.1 -508.8,-418.4 -511.7,-418.6 -514.5,-418.8 -509.4,-422.1ZM-257.2,-421.3 -253.6,-421.6 -250.1,-422 -246.5,-422.3 -243,-422.6 -239.5,-422.9 -236.9,-422.3 -234.3,-421.7 -237.9,-421.3 -241.5,-420.9 -245.1,-420.5 -248.7,-420 -251.6,-420.5 -254.4,-420.9 -257.2,-421.3ZM-538.4,-414.9 -538.3,-416.4 -538.2,-417.8 -538,-419.2 -533.5,-422.1 -534.4,-422.9 -535.3,-423.8 -536.1,-424.6 -531.5,-427.4 -527.2,-428.5 -524.1,-428.5 -521,-428.5 -517.9,-428.5 -513.9,-428.9 -509.9,-429.3 -508.1,-428.7 -506.2,-428.1 -505.6,-427 -505,-425.8 -504.4,-424.6 -509.7,-423.6 -515,-422.5 -523.4,-419.2 -530.9,-417.1 -538.4,-414.9ZM-249.9,-422.1 -252.5,-422.7 -255.1,-423.4 -257.6,-424 -260.1,-424.6 -262.7,-425.1 -265.3,-425.6 -267.9,-426.2 -264.2,-426.7 -260.5,-427.1 -256.8,-427.6 -253.2,-428.1 -249.6,-428.5 -247.1,-427.9 -244.6,-427.3 -242.2,-426.7 -239.7,-426 -237.1,-425.4 -241.4,-424.3 -245.6,-423.2 -249.9,-422.1ZM-487.6,-426.6 -490.3,-426.7 -493,-426.7 -495.6,-426.8 -498.3,-426.9 -500.9,-427 -501.3,-428 -501.7,-429 -502,-430.1 -498.3,-430.4 -494.6,-430.6 -490.9,-430.9 -487.2,-431.2 -484.7,-430.9 -482.3,-430.6 -479.8,-430.3 -477.4,-430 -474.9,-429.7 -481.2,-428.1 -487.6,-426.6ZM-415.5,-431.6 -412.1,-431.8 -408.6,-432 -405.1,-432.2 -401.6,-432.5 -398.2,-432.7 -398.4,-430.8 -402,-430.5 -405.6,-430.3 -409.2,-430 -412.8,-429.7 -414.2,-430.6 -415.5,-431.6ZM-276.7,-429.3 -272.2,-430.5 -267.8,-431.6 -263.4,-432.7 -259,-433.8 -256.7,-433.2 -254.3,-432.6 -252,-432 -256.6,-430.6 -261.2,-429.3 -264.3,-429.3 -267.4,-429.3 -270.5,-429.3 -273.6,-429.3 -276.7,-429.3ZM-371.2,-430.5 -363.9,-433.1 -360.2,-433.4 -356.5,-433.8 -352.9,-434.1 -352.2,-432.7 -356,-432.2 -359.8,-431.8 -363.6,-431.4 -367.4,-430.9 -371.2,-430.5ZM-373.6,-434.5 -371.6,-433.9 -369.6,-433.3 -367.5,-432.7 -371.5,-432.1 -375.5,-431.6 -378.9,-431.4 -382.2,-431.3 -385.5,-431.1 -388.9,-431 -392.2,-430.8 -385.3,-433.1 -381.3,-433.5 -377.5,-434 -373.6,-434.5ZM-161.8,233.3 -162.2,230.5 -157.9,231.6 -153.6,232.8 -149.6,232.2 -145.5,231.6 -145.1,234.7 -144.7,237.8 -145.1,241.2 -145.5,244.5 -149.2,246.8 -153.8,246.2 -157.9,240.6 -159.9,237 -161.8,233.3ZM-151.1,119.6 -147.7,123.3 -144.4,126.9 -142.7,132.6 -140.1,135.4 -137.3,138 -134.5,140.5 -130.5,141.7 -130.3,146.2 -130,150.7 -129.7,155.3 -128.6,158.7 -127.4,162.1 -128.3,166.9 -129.1,171.7 -129.4,174.8 -129.6,177.9 -131.9,182.2 -134.1,186.4 -136,192.1 -136.9,195.5 -137.7,198.9 -139.2,202.9 -140.6,206.8 -140,212.5 -144.6,213.6 -149.1,214.7 -152.4,218.1 -155.7,221.5 -159.2,219.3 -162.8,217 -166,218.7 -169.3,220.4 -173.9,219 -178.5,217.6 -181.5,216.2 -184.5,214.7 -186.4,211.6 -188.2,208.5 -190.8,205.1 -193.4,201.7 -195.9,197.8 -198.8,193.8 -202.7,199.5 -202,196.1 -201.3,192.7 -201.2,188.4 -201,184.2 -202.5,187.3 -204,190.4 -206.2,193.5 -208.3,196.6 -212.7,195.5 -215.3,190.7 -217.9,185.9 -220.9,181.9 -225.2,180.8 -229.5,179.6 -233.8,178.5 -237.2,178.9 -240.7,179.3 -244.1,179.6 -248.5,180.8 -253,181.9 -257.4,183 -261.8,185 -266.3,187 -269.3,188.7 -272.3,190.4 -275.3,192.1 -278.9,192.9 -282.6,193.6 -286.2,194.4 -289.6,196.4 -293,198.3 -297.6,197.8 -302.2,197.2 -306.9,194.9 -308.5,189.8 -305.9,188.7 -306.4,185 -306.8,181.3 -309.6,175.7 -312.3,170 -313.8,166.6 -315.4,163.2 -316.8,160.1 -318.3,157 -320.7,152.2 -323.1,147.3 -321.4,141.7 -322.9,141.1 -323.9,137.1 -324.8,133.2 -324.1,128.4 -323.4,123.5 -320.8,123 -318.1,122.4 -314.5,119.9 -310.8,117.3 -306.2,116.2 -301.6,115 -297.9,113.5 -294.1,112 -290.3,110.5 -287.7,106.3 -285.1,102 -283.7,97.5 -282.3,92.9 -278.5,98 -276.5,94.4 -274.6,90.7 -273.6,87 -272.6,83.3 -267.9,79.3 -263.5,77.6 -260.3,81.3 -257.1,85 -252.7,84.4 -251.2,80.5 -249.7,76.5 -247.1,73.4 -244.5,70.3 -241.6,69.7 -238.6,69.1 -236.4,63.5 -231.3,66.9 -227.5,67.4 -223.7,68 -219.2,68.6 -214.8,69.1 -216.6,72.8 -218.4,76.5 -218.6,82.2 -221,83.9 -218.2,86.7 -215.3,89.5 -210.3,90.7 -206.4,92.9 -202.6,95.2 -197.4,99.7 -193.5,99.2 -192.1,93.5 -190.6,87.8 -190.6,82.2 -190.6,76.5 -189.3,71.4 -189.2,66.9 -189.1,62.3 -186.7,60.6 -184,65.7 -181.4,70.8 -180.5,75.9 -179.5,81 -175.7,84.4 -171.8,87.8 -170.4,91.8 -169,95.8 -167.5,100.3 -166.1,104.8 -163.4,109.4 -159.8,111.4 -156.3,113.3 -153.7,116.5 -151.1,119.6ZM-298.8,58.4 -303.9,55.5 -304,53.3 -301,53.3 -298,53.3 -294.9,56.7 -298.8,58.4ZM-276.6,52.1 -271.8,48.7 -267.3,48.2 -262.8,47.6 -266.7,51 -270.4,53 -274,55 -278.9,57.8 -281.4,58.4 -279,55.3 -276.6,52.1ZM-306.6,50.4 -310.4,50.7 -314.1,51 -315.7,47.6 -312.5,47 -309.3,46.5 -304.2,47.6 -306.6,50.4ZM-285.3,46.5 -285.2,49.9 -289.7,50.2 -294.2,50.4 -297.2,50.2 -300.2,49.9 -300.2,48.7 -297.2,48.2 -294.3,47.6 -289.8,47 -285.3,46.5ZM-205.1,11.3 -200.9,12.8 -196.6,14.2 -193.6,15.3 -189.7,17 -185.9,18.7 -182,20.4 -179,21.5 -176,22.7 -173.4,26.1 -170.9,29.5 -167.9,31.5 -164.8,33.4 -160.8,34 -164.8,38 -162.2,43.1 -159.6,46.2 -157.1,49.3 -152,53.8 -148.5,55.8 -144.9,57.8 -149.4,60.1 -154.4,58.7 -159.4,57.2 -163.5,53.8 -166.5,49.6 -169.6,45.3 -172.6,44.2 -175.7,43.1 -178.9,44.8 -182.1,46.5 -183.4,51.6 -186.4,51.9 -189.4,52.1 -193.5,50.2 -197.5,48.2 -201,47.3 -204.5,46.5 -209.5,45.3 -205.7,39.7 -207.8,35.4 -209.8,31.2 -214.9,28.6 -219.9,26.1 -223.7,24.1 -227.5,22.1 -231.2,22.4 -235,22.7 -236.8,19.6 -238.6,16.4 -235.6,15.3 -232.6,14.2 -236.4,12.8 -240.2,11.3 -242.9,9.6 -245.7,7.9 -244.2,4.5 -241,3.4 -237.7,2.3 -233.7,3.4 -229.7,4.5 -229.4,9.4 -229.1,14.2 -225,18.7 -221.1,18.1 -217.6,12.5 -214.4,10.5 -211.2,8.5 -208.1,9.9 -205.1,11.3ZM-136.4,27.2 -138.5,24.7 -139.2,27.9 -139.9,31.2 -143.6,33.2 -147.3,35.1 -151.1,35.1 -154.8,35.1 -157.4,31.2 -153.7,29.8 -149.9,28.3 -146.2,26.1 -142.5,23.8 -138.8,24.3 -142.5,19.8 -146.1,14.7 -143,16.7 -140,18.7 -137.5,22.1 -135,25.5 -136.4,27.2ZM-270.1,18.1 -265.1,17.6 -264,20.4 -269,21.5 -270.1,18.1ZM-250,20.4 -254.5,19.8 -259,19.3 -260.1,16.4 -256.3,16.2 -252.6,15.9 -249.3,17.3 -246.1,18.7 -250,20.4ZM-276.2,-9.1 -274.2,-7.9 -277.7,-2.8 -281.5,-2.6 -285.3,-2.3 -289,-2.6 -292.8,-2.8 -297.8,-2.3 -298.3,1.4 -298.7,5.1 -296.2,7.9 -292.2,5.1 -288.7,5.1 -285.2,5.1 -283.2,5.7 -286.7,7.9 -290.2,10.2 -292.7,11.3 -289.8,17 -287,22.7 -285.9,27.2 -289.9,27.2 -292,22.7 -293.6,19 -295.1,15.3 -299.1,17 -298.5,21.3 -297.9,25.5 -298.3,31.2 -302.8,31.2 -302.7,25.5 -302.5,19.8 -305.6,15.3 -303.5,9.6 -301.3,4 -300.8,-0 -300.3,-4 -296.2,-6.8 -293.2,-6.2 -290.2,-5.7 -285.2,-5.1 -280.7,-7.1 -276.2,-9.1ZM-260.1,-12.5 -256.7,-8.5 -258.7,-2.8 -255.7,-1.7 -258,1.4 -260.2,4.5 -261.7,-0 -262.7,-5.7 -261.4,-9.1 -260.1,-12.5ZM-272.8,-31.7 -276.2,-33.7 -279.7,-35.7 -278.5,-40.8 -283,-42.5 -286.3,-41.1 -289.5,-39.7 -286.9,-43.9 -284.3,-48.2 -280.3,-48.2 -276.3,-48.2 -273.9,-51.9 -271.5,-55.5 -269.5,-50.4 -267.4,-45.3 -267.1,-39.7 -268.7,-35.7 -271.6,-39.7 -272.2,-35.7 -272.8,-31.7ZM-304.8,-58.4 -302.9,-61.5 -301,-64.6 -303.7,-60.1 -306.4,-55.5 -309.8,-51.6 -313.2,-47.6 -311.6,-51 -308.2,-54.7 -304.8,-58.4ZM-282.8,-59.5 -283.5,-55.8 -284.1,-52.1 -287,-55.5 -288.8,-59.5 -288.6,-63.2 -288.4,-66.9 -283.6,-65.2 -282.8,-59.5ZM-274,-56.7 -277.3,-61.2 -277,-66 -276.8,-70.8 -271.8,-70.8 -271.1,-66.6 -270.3,-62.3 -274,-56.7ZM-295.9,-75.9 -291,-74.8 -291.8,-69.7 -294.2,-71.4 -295.9,-75.9ZM-277.8,-71.4 -280.4,-73.1 -283,-74.8 -287.8,-78.2 -292.8,-77.6 -294.6,-81 -295.9,-83.9 -295.9,-87.3 -295.9,-90.7 -297.7,-92.4 -295.9,-96.1 -294.1,-99.7 -292.7,-104.8 -287.8,-104.3 -284.8,-104.8 -284.9,-100.6 -285,-96.3 -288.9,-90.7 -289,-85.9 -289.1,-81 -285.9,-80.2 -282.8,-79.3 -278.9,-78.2 -278.3,-74.8 -277.8,-71.4ZM-284.7,-143.4 -282.4,-141.7 -285,-136 -287.2,-130.3 -289.5,-124.7 -292.5,-129.2 -292.6,-133.2 -290.8,-136.3 -289,-139.4 -287.3,-141.7 -284.7,-143.4ZM-252.4,-149.6 -254,-148.5 -250.7,-151.9 -252.4,-149.6ZM-235.3,-190.4 -232.7,-192.1 -229.1,-190.4 -230,-188.1 -231,-184.5 -232,-180.8 -236.1,-175.7 -238.3,-176.8 -237.6,-181.9 -238.9,-185.3 -235.3,-190.4ZM-227.9,-189.3 -224.1,-192.1 -220.9,-193.2 -217.6,-194.4 -215,-193.2 -217.6,-188.1 -220.7,-189.8 -223.7,-185.3 -225.7,-188.1 -227.9,-189.3ZM-191,-214.7 -187.9,-219.8 -184.8,-224.9 -183.4,-229.1 -182,-233.3 -180,-231.6 -176.7,-234.5 -176.7,-229.4 -175.6,-224.3 -178.5,-220.7 -181.4,-217 -181.9,-213.3 -182.4,-209.7 -183.4,-206 -184.4,-202.3 -189.3,-197.8 -189.2,-201.7 -194.2,-196.1 -197.5,-196.1 -200.7,-196.9 -203.9,-197.8 -203.9,-194.4 -206.9,-191.8 -209.8,-189.3 -212.5,-193.8 -211.2,-196.1 -214.3,-196.1 -217.4,-196.1 -221.3,-195.2 -225.2,-194.4 -229.7,-192.7 -232.6,-192.7 -229.8,-194.9 -225.6,-198.1 -221.3,-201.2 -218.5,-201.2 -215.6,-201.2 -211.8,-201.5 -208,-201.7 -204.6,-207.1 -201.2,-212.5 -199.3,-212.5 -200.4,-208.5 -195.7,-211.6 -191,-214.7ZM-156.3,-250.7 -154.9,-245.1 -158.2,-244.3 -161.5,-243.4 -164.8,-240.3 -168,-237.3 -171.3,-239.2 -174.6,-241.2 -177.7,-239.5 -180.7,-240.6 -179.5,-236.7 -182.5,-237.8 -182.8,-241.2 -179.8,-242.9 -176.8,-244.5 -173.3,-248.5 -172.4,-252.6 -171.4,-256.8 -170.4,-257.4 -167.3,-254.6 -164.2,-251.8 -161.1,-249 -156.3,-250.7ZM-146,-252.9 -149.4,-251.2 -144.5,-254.3 -139.5,-257.4 -142.8,-255.2 -146,-252.9ZM-134,-258.5 -136.1,-259 -131.3,-261.3 -134,-258.5ZM-166.6,-263.5 -169.4,-260.2 -168.6,-264.3 -167.8,-268.5 -166.8,-272.6 -165.7,-276.8 -165.3,-282.2 -164.7,-287.7 -164,-291.8 -163.3,-295.9 -161.2,-301.3 -159.7,-305.6 -156.6,-306.1 -156.8,-301 -156.9,-295.9 -157.5,-291.3 -158,-286.8 -158.5,-282.2 -156.5,-279.2 -154.5,-276.2 -158.1,-276.5 -161.8,-276.8 -163.3,-271.2 -164.8,-265.7 -162.7,-262.9 -166.6,-263.5ZM-136.9,-403.5 -134,-403.1 -131.2,-402.8 -128.3,-402.5 -125.4,-402.1 -128.3,-401.2 -131.3,-400.3 -134.6,-400.8 -137.8,-401.2 -136.9,-403.5ZM-111.3,-407.9 -110.8,-409.3 -107.9,-409.3 -105,-409.3 -102,-409.3 -99.1,-409.3 -101.4,-407.5 -104.7,-407.6 -108,-407.8 -111.3,-407.9ZM-124.8,-407.9 -128.3,-407.7 -131.8,-407.5 -135.3,-407.3 -138.7,-407 -141.3,-408.8 -143.8,-410.6 -140,-411.6 -136.1,-412.6 -132.3,-413.6 -129.4,-412.9 -126.4,-412.1 -123.4,-411.4 -120.4,-410.6 -124.8,-407.9ZM-542.6,383.1 -539.6,382.6 -536.6,382.2 -533.6,381.7 -530.6,381.2 -527.6,380.7 -522.3,382 -517.1,383.3 -511.9,384.5 -511.2,382.2 -510.6,379.8 -508.2,378.7 -505.8,377.7 -503.4,376.6 -500.9,375.5 -498.5,374.5 -495.6,373.8 -492.6,373.1 -489.7,372.4 -486.7,371.7 -483.8,371 -482,369.2 -480.1,367.4 -478.3,365.6 -473.6,366.5 -469,367.4 -464.3,368.2 -459.7,369.1 -454.8,370.2 -449.9,371.4 -445.1,372.5 -441.1,372.8 -437.1,373.1 -433.1,373.4 -429.1,373.7 -425.1,374 -421.2,374.2 -417.2,374.5 -413.3,374.7 -409.4,374.9 -402.5,378.3 -395.9,381.4 -389.3,384.5 -386,384.2 -382.7,383.9 -379.4,383.6 -377.5,381.7 -375.6,379.8 -373.7,377.8 -371.3,376.4 -368.8,374.9 -366,374 -363.1,373 -360.2,372 -357.2,371 -354.3,370.1 -350.6,370 -347,369.9 -343.3,369.8 -339.7,369.7 -336,369.6 -332.6,369.1 -329.3,368.6 -325.9,368.1 -322.5,367.6 -319.1,367.1 -315.6,366.6 -312.2,366.1 -308.8,365.6 -305.4,365.1 -301.9,364.6 -297.8,365.2 -293.6,365.8 -289.5,366.4 -285.3,367 -281.2,367.6 -277.5,367.5 -273.8,367.4 -270.1,367.3 -266.5,367.2 -262.8,367.1 -258.8,367.4 -254.9,367.7 -251,368 -247.1,368.3 -243.2,368.6 -239.3,368.9 -235.4,369.2 -231.5,369.5 -227.6,369.8 -223.8,370.1 -220.2,369.7 -216.7,369.3 -213.1,368.9 -209.6,368.5 -206,368.1 -202.3,367.9 -198.7,367.7 -195,367.5 -191.4,367.3 -187.7,367.1 -184,366.9 -180.3,366.7 -176.6,366.5 -173,366.3 -169.3,366.1 -165.3,366.8 -161.3,367.5 -157.3,368.2 -153.3,368.9 -149.3,369.6 -145.4,370.1 -141.6,370.6 -137.7,371 -133.8,371.5 -130,372 -125.9,373.3 -121.8,374.6 -117.8,375.8 -113.8,377.1 -109.8,378.3 -106,379 -102.1,379.7 -98.3,380.3 -94.5,381 -90.8,381.7 -86.9,382.6 -83.1,383.6 -79.3,384.5 -75.5,385.5 -71.8,386.4 -68.1,387 -64.4,387.6 -60.7,388.1 -57.1,388.7 -53.4,389.2 -50.3,389.6 -47.2,390 -44,390.4 -40.9,390.8 -37.8,391.2 -34.7,391.6 -34.8,394.4 -34.9,397.1 -38.1,399.4 -41.3,401.7 -44.4,403.9 -47.5,406.2 -50.5,408.4 -53.5,410.6 -53.5,414.9 -53.5,419.2 -50.5,419.4 -47.6,419.5 -44.6,419.7 -41.7,419.9 -38.8,420 -35.5,420.2 -32.3,420.4 -29,420.6 -25.8,420.8 -22.5,420.9 -19.3,421.1 -16.1,421.3 -12.8,421.5 -9.6,421.6 -6.4,421.8 -3.2,422 0,422.1 3.2,422.2 6.4,422.3 9.6,422.4 12.8,422.5 16,422.5 19.2,422.6 22.4,422.7 25.6,422.8 28.8,422.9 31.9,422.9 35.1,422.9 38.3,422.9 41.5,422.8 44.7,422.8 47.9,422.7 51.1,422.7 54.4,422.7 57.6,422.6 60.8,422.6 64,422.5 67.4,421.5 71,420.5 74.4,419.6 77.9,418.8 81.4,417.9 84.8,417.6 88.2,417.3 91.5,416.9 94.9,416.6 98.3,416.2 101.9,415.4 105.5,414.5 109.2,413.6 112.8,412.8 116.5,411.9 120.1,411.4 123.6,410.8 127.2,410.3 130.8,409.8 134.4,409.3 137.9,408.9 141.4,408.6 145,408.2 148.5,407.8 152,407.5 155.5,407.3 159,407.1 162.5,407 165.9,406.8 169.4,406.6 172.9,406.5 176.3,406.4 179.7,406.3 183.2,406.2 186.6,406.2 190.3,405.7 194,405.3 197.7,404.8 201.3,404.4 205,403.9 208.3,404.2 211.5,404.5 214.8,404.7 218,405 221.2,405.3 224.4,405.5 227.6,405.8 230.8,406.1 234,406.3 237.2,406.6 240.9,406.2 244.5,405.9 248.2,405.5 251.9,405.2 255.6,404.8 260.4,403 265.3,401.2 270.2,399.4 274.9,397.8 279.7,396.2 282.9,396.5 286.2,396.8 289.4,397.1 291.6,398.7 293.7,400.3 297.3,400.1 300.9,399.9 304.5,399.8 308.1,399.6 311.8,399.4 315.1,399.6 318.4,399.8 321.6,399.9 324.9,400.1 328.2,400.3 331.6,400.4 334.9,400.5 338.3,400.6 341.7,400.7 345,400.8 349.7,399.5 354.4,398.3 359.1,397.1 364.3,395.5 369.4,393.9 368.3,396.7 367.2,399.4 371.9,398.3 376.6,397.1 381.3,396 386,394.8 386.1,391.3 386.1,387.8 390.6,385 395.2,382.2 399.5,380.9 403.7,379.6 408,378.3 414.5,373.5 421,370.6 427.5,367.6 433.8,364.9 440.1,362.2 445.8,360.2 451.4,358.2 456.7,356.7 461.9,355.2 466.6,354.3 471.2,353.5 475.9,352.6 474.4,356.2 469.1,357.7 463.9,359.2 459.1,360.8 454.3,362.5 449.6,364.2 444.3,367.6 439.1,371 431.8,374.7 424.5,378.3 425.1,380.7 425.6,383.1 426.1,385.5 421.9,390.2 417.6,394.8 413.6,398.3 409.5,401.7 403,404.1 396.5,406.6 397.9,408.1 399.3,409.6 400.7,411 402.3,412.2 403.9,413.5 405.4,414.7 406.9,415.9 408.4,417.1 410.7,417.7 413.1,418.3 415.4,418.9 417.7,419.5 419.9,420 422.8,420.3 425.6,420.5 428.4,420.8 431.2,421 434,421.3 437.2,421.3 440.4,421.3 443.6,421.3 446.8,421.3 450,421.3 453.8,421 457.7,420.6 461.5,420.3 465.3,420 469.2,419.6 474.5,418.4 480,417.3 485.4,416.1 490.8,414.9 496.3,413.6 501.4,412.6 506.5,411.6 511.6,410.6 517.3,409.3 523,407.9 528.6,406.6 534.3,405.3 539.9,403.9 545.2,402.8 550.5,401.7 555.9,400.5 561.2,399.4 566.6,398.2 572.1,397 577.5,395.7 582.8,394.7 588,393.6 593.3,392.5 598.6,391.3 604,390.2 609.4,389 614.9,387.8 619.4,387.2 623.9,386.7 628.4,386.1 632.9,385.5 637.3,385 641.6,384.5 646,384.1 650.4,383.6 642.9,388.2 635.3,392.7 627.5,397.2 619.5,401.6 611.2,406 602.6,410.3 593.7,414.5 584.6,418.7 575.4,422.7 566.1,426.6 557,430.4 548,434 539.2,437.4 530.6,440.6 522.3,443.7 514.3,446.5 506.5,449.1 499.2,451.4 492.2,453.5 485.6,455.4 479.4,457 476.7,457 474.1,457 471.4,457 468.8,457 466.1,457 463.4,457 460.8,457 458.1,457 455.4,457 452.8,457 450.1,457 447.4,457 444.8,457 442.1,457 439.5,457 436.8,457 434.1,457 431.5,457 428.8,457 426.1,457 423.5,457 420.8,457 418.1,457 415.5,457 412.8,457 410.2,457 407.5,457 404.8,457 402.2,457 399.5,457 396.8,457 394.2,457 391.5,457 388.9,457 386.2,457 383.5,457 380.9,457 378.2,457 375.5,457 372.9,457 370.2,457 367.5,457 364.9,457 362.2,457 359.6,457 356.9,457 354.2,457 351.6,457 348.9,457 346.2,457 343.6,457 340.9,457 338.2,457 335.6,457 332.9,457 330.3,457 327.6,457 324.9,457 322.3,457 319.6,457 316.9,457 314.3,457 311.6,457 309,457 306.3,457 303.6,457 301,457 298.3,457 295.6,457 293,457 290.3,457 287.6,457 285,457 282.3,457 279.7,457 277,457 274.3,457 271.7,457 269,457 266.3,457 263.7,457 261,457 258.3,457 255.7,457 253,457 250.4,457 247.7,457 245,457 242.4,457 239.7,457 237,457 234.4,457 231.7,457 229,457 226.4,457 223.7,457 221.1,457 218.4,457 215.7,457 213.1,457 210.4,457 207.7,457 205.1,457 202.4,457 199.8,457 197.1,457 194.4,457 191.8,457 189.1,457 186.4,457 183.8,457 181.1,457 178.4,457 175.8,457 173.1,457 170.5,457 167.8,457 165.1,457 162.5,457 159.8,457 157.1,457 154.5,457 151.8,457 149.1,457 146.5,457 143.8,457 141.2,457 138.5,457 135.8,457 133.2,457 130.5,457 127.8,457 125.2,457 122.5,457 119.9,457 117.2,457 114.5,457 111.9,457 109.2,457 106.5,457 103.9,457 101.2,457 98.5,457 95.9,457 93.2,457 90.6,457 87.9,457 85.2,457 82.6,457 79.9,457 77.2,457 74.6,457 71.9,457 69.2,457 66.6,457 63.9,457 61.3,457 58.6,457 55.9,457 53.3,457 50.6,457 47.9,457 45.3,457 42.6,457 40,457 37.3,457 34.6,457 32,457 29.3,457 26.6,457 24,457 21.3,457 18.6,457 16,457 13.3,457 10.7,457 8,457 5.3,457 2.7,457 0,457 -2.7,457 -5.3,457 -8,457 -10.7,457 -13.3,457 -16,457 -18.6,457 -21.3,457 -24,457 -26.6,457 -29.3,457 -32,457 -34.6,457 -37.3,457 -40,457 -42.6,457 -45.3,457 -47.9,457 -50.6,457 -53.3,457 -55.9,457 -58.6,457 -61.3,457 -63.9,457 -66.6,457 -69.2,457 -71.9,457 -74.6,457 -77.2,457 -79.9,457 -82.6,457 -85.2,457 -87.9,457 -90.6,457 -93.2,457 -95.9,457 -98.5,457 -101.2,457 -103.9,457 -106.5,457 -109.2,457 -111.9,457 -114.5,457 -117.2,457 -119.9,457 -122.5,457 -125.2,457 -127.8,457 -130.5,457 -133.2,457 -135.8,457 -138.5,457 -141.2,457 -143.8,457 -146.5,457 -149.1,457 -151.8,457 -154.5,457 -157.1,457 -159.8,457 -162.5,457 -165.1,457 -167.8,457 -170.5,457 -173.1,457 -175.8,457 -178.4,457 -181.1,457 -183.8,457 -186.4,457 -189.1,457 -191.8,457 -194.4,457 -197.1,457 -199.8,457 -202.4,457 -205.1,457 -207.7,457 -210.4,457 -213.1,457 -215.7,457 -218.4,457 -221.1,457 -223.7,457 -226.4,457 -229,457 -231.7,457 -234.4,457 -237,457 -239.7,457 -242.4,457 -245,457 -247.7,457 -250.4,457 -253,457 -255.7,457 -258.3,457 -261,457 -263.7,457 -266.3,457 -269,457 -271.7,457 -274.3,457 -277,457 -279.7,457 -282.3,457 -285,457 -287.6,457 -290.3,457 -293,457 -295.6,457 -298.3,457 -301,457 -303.6,457 -306.3,457 -309,457 -311.6,457 -314.3,457 -316.9,457 -319.6,457 -322.3,457 -324.9,457 -327.6,457 -330.3,457 -332.9,457 -335.6,457 -338.2,457 -340.9,457 -343.6,457 -346.2,457 -348.9,457 -351.6,457 -354.2,457 -356.9,457 -359.6,457 -362.2,457 -364.9,457 -367.5,457 -370.2,457 -372.9,457 -375.5,457 -378.2,457 -380.9,457 -383.5,457 -386.2,457 -388.9,457 -391.5,457 -394.2,457 -396.8,457 -399.5,457 -402.2,457 -404.8,457 -407.5,457 -410.2,457 -412.8,457 -415.5,457 -418.1,457 -420.8,457 -423.5,457 -426.1,457 -428.8,457 -431.5,457 -434.1,457 -436.8,457 -439.5,457 -442.1,457 -444.8,457 -447.4,457 -450.1,457 -452.8,457 -455.4,457 -458.1,457 -460.8,457 -463.4,457 -466.1,457 -468.8,457 -471.4,457 -474.1,457 -476.7,457 -479.4,457 -485.6,455.4 -492.2,453.5 -499.2,451.4 -506.5,449.1 -514.3,446.5 -522.3,443.7 -530.6,440.6 -539.2,437.4 -548,434 -557,430.4 -566.1,426.6 -575.4,422.7 -584.6,418.7 -593.7,414.5 -602.6,410.3 -611.2,406 -619.5,401.6 -627.5,397.2 -635.3,392.7 -642.9,388.2 -650.4,383.6 -646.2,384 -641.9,384.3 -637.7,384.7 -633.5,385.1 -629.3,385.5 -625.6,385.6 -621.8,385.7 -618.1,385.8 -614.4,385.9 -610.6,386 -607.5,385.7 -604.3,385.4 -601.1,385.1 -598,384.8 -594.8,384.5 -590.9,384.7 -587,384.9 -583.1,385.1 -579.3,385.3 -575.4,385.5 -571.4,385.8 -567.4,386 -563.4,386.3 -559.4,386.6 -555.4,386.9 -552.9,386.1 -550.3,385.4 -547.8,384.6 -545.2,383.9 -542.6,383.1ZM-40.3,255.2 -41.5,259.6 -45.4,262.4 -48.7,262.9 -52,263.5 -55.7,261.3 -59.7,261.3 -60.3,258.5 -58.3,254.6 -54.8,252.4 -51.4,249 -49.7,248.5 -45.3,244.5 -40.9,241.7 -40.1,240.1 -38.4,236.1 -36.2,233.3 -33.6,229.4 -30.7,233.9 -26.2,232.2 -26.1,236.1 -28.7,240.1 -30.6,243.1 -32.6,246.2 -31.2,247.9 -35.2,249.6 -39.2,251.2 -40.3,255.2ZM-7,213.6 -9.3,219.3 -9.7,222.1 -14.3,223.8 -13.4,224.3 -15.2,227.7 -17,231.1 -21.5,235.6 -23.8,233.9 -23,231.6 -23.1,226 -25.9,224.3 -28.7,222.6 -27.3,220.9 -24.2,215.9 -25,212.8 -25.7,209.7 -27.2,206.3 -31.1,200.6 -33,197.8 -34.5,194.9 -33.1,194.9 -30.2,197.2 -27.3,199.5 -25.9,202.9 -24.3,208.5 -21.1,206.8 -19.4,209.9 -17.7,213 -15.2,213.9 -12.6,214.7 -9.8,214.2 -7,213.6ZM-68.6,125.2 -72.3,122.1 -76.1,119 -78.6,113.9 -74.9,115.9 -71.2,117.9 -67.4,122.1 -63.6,126.4 -68.6,125.2ZM-13.3,98.6 -10.1,98.9 -6.9,99.2 -7.4,103.1 -10.4,102.9 -13.3,102.6 -13.3,98.6ZM-5.9,92.4 -3,92.1 0,91.8 -1,95.8 -3.7,95.8 -6.4,95.8 -5.9,92.4ZM-57.2,100.9 -59.5,96.6 -61.8,92.4 -64.4,87.8 -66.9,83.3 -63.4,85 -61.9,89.3 -60.3,93.5 -58.8,97.2 -57.2,100.9ZM-102.3,45.3 -98.5,49.6 -94.7,53.8 -91.4,57.5 -88.1,61.2 -93.1,58.4 -96.9,54.7 -100.7,51 -104.6,49.1 -108.4,47.2 -112.3,45.3 -114.8,41.7 -117.3,38 -112.3,40.4 -107.3,42.9 -102.3,45.3ZM-126.9,31.2 -122.4,34 -120.3,38.5 -123.8,37.4 -125.4,34.3 -126.9,31.2ZM48.4,-377.4 50.3,-380.2 53.4,-381.2 56.6,-382.2 59.7,-383.1 62.3,-385 64.9,-386.9 67.6,-387.7 70.3,-388.5 73,-389.2 76.4,-390.2 79.8,-391.1 83.1,-392 86.9,-390.9 90.7,-389.7 93.7,-389.6 96.7,-389.4 99.7,-389.2 103.5,-388.5 107.2,-387.8 110,-387.6 112.7,-387.4 115.8,-387.1 118.9,-386.7 122,-386.4 125.7,-386 129.5,-385.5 133.3,-384.8 137.1,-384.2 140.9,-383.6 144.6,-383.3 148.3,-383.1 152.4,-381.9 156.5,-380.7 158.9,-381.4 161.4,-382.2 164.2,-382.5 167.1,-382.8 170,-383.1 173.1,-384.3 176.2,-385.5 178.9,-385.5 181.6,-385.5 183.6,-386.9 185.7,-388.3 190.6,-385.5 194,-384.1 197.4,-382.6 198.4,-386.4 202,-385.2 205.7,-384.1 209.6,-383.6 213.4,-383.1 217.5,-382.3 221.5,-381.5 225.6,-380.7 229.1,-379.9 232.5,-379.1 236,-378.3 239.4,-374.9 242.3,-374.8 245.2,-374.7 248.2,-374.6 251.1,-374.5 254.5,-374.9 257.9,-375.4 261.4,-374.2 264.9,-373 268.5,-370.1 268.3,-373.5 264.1,-377.4 267,-378.6 269.9,-379.8 273.8,-377.8 277.8,-375.9 281.1,-375.6 284.4,-375.3 287.7,-374.9 291.4,-374.9 295.1,-374.9 298.8,-374.9 302.4,-374.9 299.7,-378.8 300.4,-378.7 296.6,-379.7 292.9,-380.7 293.8,-384.5 296.8,-384.5 299.8,-384.5 302.8,-384.5 307.4,-380.7 304.9,-379.6 302.3,-378.5 303.7,-378.3 307.6,-375.4 311.5,-372.5 311,-375.9 312.8,-377.1 314.7,-378.3 309.3,-383.1 304.2,-385.5 299.2,-387.8 298.4,-392.5 300.1,-394.4 304,-393 308,-391.6 312.8,-387.8 319.4,-384.1 323.8,-380.7 330.1,-377.4 332.5,-377.8 334.8,-378.3 339.5,-375.9 344.2,-373.5 345.9,-375.9 343.9,-379.5 341.8,-383.1 344.2,-384.5 348.3,-384.1 352.3,-383.6 358.4,-380.7 363.2,-375.9 363.5,-372.5 366.7,-368.6 363.3,-368.1 360,-367.6 357,-367.9 354,-368.3 351,-368.6 355.5,-363.7 354.5,-361.2 353.5,-358.7 350.6,-357.4 347.7,-356.2 346.6,-354.4 345.5,-352.6 343.9,-351.4 342.2,-350.1 341,-346 340.1,-341.4 340.5,-338.6 340.9,-335.7 343.8,-332.6 346.8,-329.5 349.3,-329.2 351.9,-328.9 354.8,-325 357.5,-321 361.2,-321 364.9,-321 369.7,-320 374.6,-318.7 379.6,-317.3 384,-315.7 388.4,-314.1 392.9,-312.5 396.6,-312 400.2,-311.5 403.9,-310.9 407.6,-310.4 409.6,-307.2 411.6,-304 415,-298.6 421,-294.2 427.3,-289.3 430,-289.1 432.8,-288.8 433.9,-290.4 431.5,-295.9 428.5,-299.9 425.5,-304 420.1,-307.2 423.1,-309.1 426,-310.9 426.3,-314.1 426.6,-317.3 423,-321.3 419.3,-325.3 416.1,-326.6 413,-327.9 410.3,-331.8 407.6,-335.7 405.7,-340.9 402.2,-344.5 398.6,-348.1 401.9,-347.7 405.2,-347.4 408.4,-347 411.4,-346.7 414.5,-346.4 417.5,-346 422.9,-344.2 428.2,-342.4 432.4,-341.9 436.6,-341.4 439.5,-337.8 442.5,-334.2 445.4,-330.5 449.6,-328.2 453.9,-325.8 456.2,-327 458.5,-328.2 460.7,-329.5 459.7,-334.7 460.2,-337.8 467.8,-333.1 476.2,-327.9 482.1,-322.6 488.1,-317.3 494.3,-313.9 500.6,-310.4 506.5,-308.3 513.2,-305.1 510.4,-304.5 507.7,-304 511.6,-303.4 515.6,-302.9 519.5,-302.4 524.8,-299.1 530,-295.9 532.5,-293.2 530.5,-291.5 528.4,-289.9 526.2,-288.8 523.9,-287.7 522.2,-285.5 520.5,-283.3 516,-283.5 511.6,-283.7 507.1,-283.9 503.5,-283.7 499.9,-283.6 496.3,-283.5 492.7,-283.3 491.9,-280.9 491,-278.4 488.3,-277.9 486.8,-274.8 485.3,-271.8 484.2,-267.4 482.6,-264.6 484.4,-266.3 486.1,-267.9 487.7,-271 489.3,-274 492.3,-276.2 496.2,-277 500.1,-277.9 503.4,-276.8 506.7,-275.7 506.3,-271.2 501.9,-271.2 507.9,-268.5 509.5,-265.7 514.3,-261.3 518.2,-260.2 522.2,-259 525.9,-258.5 529.6,-257.9 528.9,-262.9 529.4,-265.7 534.3,-261.3 535.7,-259.6 534.2,-257.9 532.8,-256.3 529.6,-255 526.5,-253.7 523.3,-252.4 520.6,-249 517.9,-245.7 514.5,-247.9 513.4,-252.4 515.5,-254.3 517.5,-256.3 513.7,-256.3 509.9,-256.3 507.4,-253.5 505.5,-252.1 503.5,-250.7 499.9,-249 496.5,-246.8 497.6,-241.2 496.6,-239.5 499.5,-237.3 502.8,-236.1 500.1,-235 496.9,-235 494.3,-233.9 491.5,-233 488.6,-232.2 492.1,-232.2 495.5,-232.2 492.6,-231.1 489.7,-230 487.4,-230 487.9,-228.8 488.5,-223.2 487.4,-220.4 483.4,-223.2 486.7,-219.8 487.8,-217 487.1,-213.6 486.3,-210.2 484.6,-213.3 482.9,-216.4 479.7,-222.1 480.9,-218.7 482,-215.3 485.1,-209.7 488,-206.8 490.3,-203.1 492.6,-199.5 489.1,-196.1 486.3,-194.4 483.6,-192.7 483.5,-191.5 479.5,-189.3 476.3,-185.9 474.4,-183.6 472.4,-181.3 472.9,-176.5 473.2,-171.7 475,-168.6 476.8,-165.5 480.3,-160.9 482.7,-156.1 485,-151.3 485.6,-146.2 484.8,-142.8 481.5,-142.2 477,-147.9 474.1,-152.4 470.6,-157 469.6,-161.5 467.3,-164.9 461.1,-170.6 457,-167.7 452.9,-170.6 449.2,-171.1 445.4,-171.7 441.6,-171.7 436.6,-172.3 434.7,-168.3 437.6,-164.3 433.7,-164.3 431,-165.5 425.8,-167.2 420.9,-167.7 416.8,-168.9 413.5,-167.5 410.2,-166 407.8,-164.1 405.3,-162.1 402.9,-159.5 400.5,-157 400.5,-151.9 402.3,-146.8 402,-141.4 401.6,-136 402.1,-130.9 402.5,-125.8 404.2,-122.1 405.9,-118.4 410,-112.8 413,-108.8 417.8,-105.4 422.1,-102.6 426.3,-104.3 431.1,-105.4 434.6,-105.4 438.2,-107.7 440.1,-112.2 439.9,-115.6 439.7,-119 442.9,-120.7 446.9,-121.6 451,-122.4 455.4,-122.4 457.2,-119.6 455,-114.5 455.2,-109.4 454.9,-106.3 454.6,-103.1 453.1,-99.2 453.3,-94.1 452.3,-90.1 455.8,-89.5 458.5,-89.5 461.2,-89.5 465.1,-90.7 470.1,-90.1 475.3,-87.8 479.6,-85 479.2,-79.3 479.3,-73.7 478.8,-68 479.1,-64.9 479.3,-61.8 483.2,-56.7 487.5,-52.7 491.1,-50.4 493.6,-49.9 496.3,-51.6 498.9,-53.3 503.3,-54.4 508.4,-52.7 511.6,-49.3 514.4,-45.3 515.6,-49.9 519.3,-53.3 520.4,-58.9 523.5,-62.9 526.4,-64 530.9,-64 532.8,-65.2 536,-68 538.3,-70.3 540.6,-66.9 537.9,-63.5 539.7,-60.6 542,-61.8 545.7,-65.2 546.8,-69.1 548.8,-64.6 551.8,-64 554.8,-63.5 557.7,-59.5 560.4,-59.8 563.1,-60.1 567.6,-60.1 571.8,-57.2 574.3,-57.2 576.6,-59.5 579.5,-60.1 582.5,-60.6 585.2,-60.6 587.9,-60.6 585.2,-57.8 590.5,-54.4 593.3,-51 598.5,-48.2 603.7,-44.2 608.1,-38.5 611.2,-36.3 614.4,-34 618.9,-33.7 623.4,-33.4 626.4,-33.2 629.4,-32.9 633.8,-30.3 638.2,-27.8 642.4,-24.9 645.1,-19.8 648.8,-14.2 650.5,-9.6 646.5,-4.5 645.6,-0 648.1,2.8 653.1,1.1 658.1,2.8 658,7.9 663.1,3.4 666.8,4.8 670.5,6.2 673.5,8.2 676.5,10.2 678.8,14.2 681.6,13.9 684.4,13.6 687.8,15 691.3,16.4 695.8,16.2 700.3,15.9 703.9,18.4 707.5,21 710.4,23.8 713.2,26.6 716.4,27.8 719.6,28.9 723,31.2 724.1,36.8 724.8,40.2 723.8,45.9 721.4,51 719,55 715.4,58.4 711.8,61.8 709.4,65.5 706.9,69.1 702.8,73.7 700.8,78.8 698.8,83.9 697.7,88.4 696.7,92.9 695.7,96.6 694.7,100.3 692.8,104 690.8,107.7 688.6,111.4 686.3,115 683.6,119.9 680.9,124.7 674.8,129.8 671.8,130.1 668.8,130.3 665,131.2 661.1,132 656.8,134 652.4,136 648.9,138.3 645.5,140.5 639.6,144.5 637.6,150.2 636.9,153.3 636.2,156.4 633.2,161.5 628.7,165.8 624.1,170 620.7,173.4 617.3,176.8 613.8,179.1 610.3,181.3 605.4,186.2 600.3,191 595.6,195.5 589.7,198.3 587,198.1 584.3,197.8 581,196.6 577.7,195.5 575.5,193.8 574.6,196.1 576.5,197.8 578.4,199.5 578.4,201.7 578.5,205.7 574.5,210.5 570.5,215.3 566.9,217 563.3,218.7 558.7,219.5 554.1,220.4 550.2,220.4 546.3,220.4 544.4,224.9 542.4,229.4 537.4,232.8 534.4,232.2 531.3,231.6 528.2,231.1 526.5,234.5 524.8,237.8 527.3,239.2 529.7,240.6 524.4,242.9 522.4,242.3 520.5,245.1 518.2,248.5 516,251.8 513.5,254.6 507.7,257.1 501.8,259.6 502.2,262.9 503.7,264.6 505.2,266.3 503,270.1 496.5,274.3 490.1,278.4 484.3,282.2 480,286.6 475.7,291 476.6,294.8 473.8,296.4 474.1,299.7 473.9,302.9 475.3,304.5 476.7,306.1 479.2,306.7 481.7,307.2 478,308.3 474.3,309.3 467.4,314.1 464.6,313.1 461.9,312 459.7,310.2 457.5,308.5 455.3,306.7 454,304 452.6,301.3 452.2,297.2 451.6,293.2 453.2,287.7 454.7,282.2 456.7,278.1 458.5,274 460.9,269.3 463.1,264.6 468.5,261 474,257.4 476.4,251.8 478.7,246.2 482,241.5 485.2,236.7 488.2,231.1 492.1,225.5 494.1,220.4 496,215.3 498.3,211.9 500.5,208.5 503.6,204 506.7,199.5 509.7,195.3 512.5,191.2 515.4,187 517.1,182.8 518.7,178.5 520.2,174.3 521.7,170 523.2,165.8 524.6,161.5 526.9,157.3 529.2,153 531.2,147.3 533.2,141.7 534.2,137.7 535.2,133.7 536.8,129.2 538.3,124.7 538.9,119.6 539.5,114.5 540.1,109.7 540.6,104.8 536.4,99.7 533.5,96.3 530.1,94.4 526.7,92.4 522.8,89.8 518.9,87.3 516.8,82.7 514.6,78.2 513.1,73.1 511.6,68 510.3,63.8 508.9,59.5 507.2,55.5 505.5,51.6 503.8,45.9 501.8,42.2 499.8,38.5 496.9,36.3 494,34 494.2,28.9 493.3,26.6 495.5,23.2 497.6,19.8 500.7,14.2 498,13.3 495.3,12.5 496.1,8.8 496.9,5.1 497.9,2.3 500.4,-2.8 501.9,-5.7 506.3,-10.2 510.2,-14.7 512.4,-18.4 514.5,-22.1 513.3,-26.6 512.1,-31.2 512.4,-35.1 509.6,-40.8 506.8,-45.9 506,-51 501,-51 498.8,-47.6 496.4,-45.9 499.1,-42.5 494.7,-40.8 490.5,-43.1 487.8,-46.5 484.4,-45.3 480.3,-47.6 478.4,-53.3 474.2,-56.7 472.9,-54.4 469,-59.5 468.8,-62.3 465,-66.9 461.2,-70.8 458.3,-74.8 455.6,-74.8 452.9,-74.8 447.7,-77.1 443.4,-78.2 439,-79.3 433.7,-82.7 429.6,-86.7 425.5,-90.7 422.4,-91.2 419.4,-91.8 416.3,-90.4 413.3,-89 409.4,-90.4 405.6,-91.8 400.7,-93.5 395.8,-95.2 391.4,-97.5 386.9,-99.7 383.7,-102 380.4,-102.9 377.1,-103.7 372.7,-107.7 368.8,-111.6 365,-115.6 366.7,-117.3 366.2,-121.8 363.1,-127.5 359.7,-131.5 355.2,-136 350.8,-140 347.8,-142.5 344.8,-145.1 343.3,-148.2 341.9,-151.3 338,-154.7 334.1,-158.1 330.4,-161.2 326.7,-164.3 324.7,-167.7 322.6,-171.1 320.4,-174.3 318.1,-177.4 314.7,-178.8 311.4,-180.2 312.2,-175.7 317.1,-170 320.5,-164.3 325.3,-158.7 327.8,-154.7 330.8,-151 333.8,-147.3 337.4,-141.7 340,-137.1 344.5,-132 342.8,-129.8 340.5,-133.2 337.3,-135.4 334,-137.7 330.4,-139.4 329.7,-143.4 328.9,-147.3 325.7,-149.6 322.4,-151.9 318.1,-154.7 313.8,-157.5 318,-158.7 318,-162.1 312.8,-167.2 308,-172.3 305.4,-176.5 302.7,-180.8 299,-184.7 296.8,-188.7 291.9,-192.1 287.3,-193.8 284.3,-194.7 281.3,-195.5 278.8,-200.6 275.5,-204 272.3,-207.4 270.1,-210.8 268,-214.2 265.1,-217 261.1,-220.4 258.5,-224.6 255.9,-228.8 255.4,-232.8 254.9,-236.7 251.7,-242.3 252.2,-245.7 251.8,-249.6 251.5,-253.5 250.4,-257.4 249.3,-261.3 247.8,-264.3 246.3,-267.4 244.6,-270.4 242.8,-273.4 246.8,-272.6 250.8,-271.8 254.2,-269 252.8,-272.3 251.4,-275.7 247.9,-278.4 243.8,-280.3 239.8,-282.2 235.4,-284.4 231,-286.6 226.4,-287.7 224.1,-291 221.8,-294.2 217.9,-297.2 214,-300.2 208.9,-305.6 205.3,-308.3 201.7,-310.9 198,-313.6 194.2,-316.3 189.7,-321.6 185.1,-326.8 184.3,-323.7 183.4,-320.5 179.9,-323.4 176.4,-326.3 172.9,-328.4 169.4,-330.5 165.6,-331.8 161.8,-333.1 157.8,-334.4 153.9,-335.7 150.5,-335.7 147.2,-335.7 143.9,-335.7 139.9,-337 136,-338.3 133.3,-341.4 130.2,-340.1 127.2,-338.8 124.7,-337.5 122.2,-336.2 119.2,-334.7 116.2,-333.1 113.1,-331.5 113.5,-334.9 113.8,-338.3 116.4,-340.1 118.9,-341.9 115.9,-341.4 112.8,-340.9 109.7,-336.7 108.4,-333.1 106.6,-330 104.7,-326.8 102,-324.6 99.3,-322.3 96.5,-320 92.9,-318.1 89.3,-316.3 86,-314.3 82.6,-312.4 79.3,-310.4 75.7,-310.4 72.2,-310.4 69.5,-308.3 66.6,-307.5 63.8,-306.7 66.3,-308.3 68.9,-309.9 72.6,-313.6 76.7,-314.1 80.8,-314.7 84.4,-317.1 88,-319.5 89.8,-322.4 91.6,-325.3 93,-328.9 89.9,-329.7 86.7,-330.5 83.8,-330 80.8,-329.5 77.9,-329.1 75,-328.8 72.1,-328.4 73.2,-332.1 71.9,-335.7 67.9,-335.7 63.9,-335.7 59.5,-339.9 55,-345 56.6,-348.1 58.2,-351.1 62.1,-351.1 66,-351.1 69.5,-353.6 71.7,-354.6 73.8,-355.7 72.4,-360.2 68.7,-359.4 65,-358.7 61.9,-358.7 58.9,-358.7 55.8,-358.7 53.5,-360.4 51.2,-362.2 48.1,-363.2 45,-364.2 47.8,-365.6 50.7,-367.1 54.3,-367.9 58,-368.6 62,-366.6 65.2,-366.6 68.4,-366.6 64.8,-370.6 62.5,-371 60.2,-371.5 57.7,-373.7 55.2,-375.9 51.8,-376.6 48.4,-377.4ZM119.7,-107.1 118.1,-109.4 117.5,-112.2 120.2,-112.2 122.9,-112.2 123,-109.4 119.7,-107.1ZM231.5,-285 235.9,-282.8 240.3,-280.6 244.3,-277.3 248.4,-274 246,-273.7 243.7,-273.4 240.4,-275.1 237,-276.8 232.5,-279.5 228,-282.2 222.8,-286.6 227.2,-285.8 231.5,-285ZM-104.1,-283.3 -106.2,-283.9 -102.4,-286.6 -104.1,-283.3ZM8.6,-291 8.6,-292.6 12.8,-292.9 17.1,-293.2 17.2,-291 12.9,-291 8.6,-291ZM23.5,-294.8 27.7,-295.1 32,-295.3 32.1,-293.2 27.8,-293.2 23.5,-293.2 23.5,-294.8ZM-31.9,-298.6 -27.6,-298.6 -28.5,-297 -31.5,-297 -31.9,-298.6ZM198,-304 200.8,-304 203.5,-304 205.8,-299.9 208.1,-295.9 203.3,-297.5 200.7,-300.7 198,-304ZM57.1,-301.3 53,-299.7 48.9,-298 44.6,-298.6 48.7,-300.5 52.8,-302.4 55.5,-303.2 58.1,-304 57.1,-301.3ZM103.1,-322.6 106.5,-323.9 109.9,-325.3 113.7,-322.6 111.4,-320.8 109,-318.9 106,-320.8 103.1,-322.6ZM50.7,-336.7 53.2,-337.3 55.7,-337.8 57.6,-335.2 55.2,-334.9 52.9,-334.7 50.7,-336.7ZM31.7,-353.1 35.1,-353.9 38.5,-354.6 41.1,-353.6 43.7,-352.6 41.3,-351.9 38.8,-351.1 35.2,-352.1 31.7,-353.1ZM202.3,-390.6 197.8,-392.5 193.3,-394.4 190,-397.1 189.5,-401.2 188.9,-405.3 191.7,-405.5 194.6,-405.7 197.4,-405.9 200.2,-406.2 203.9,-405.7 207.6,-405.3 211.3,-404.8 215,-403.5 218.8,-402.1 222.5,-400.8 220.5,-399.1 222.9,-399.7 225.3,-400.2 227.7,-400.8 231.4,-400.4 235.1,-400.1 238.8,-399.7 242.5,-399.4 245.6,-399.8 248.7,-400.3 252.7,-399.7 256.6,-399.1 260.5,-398.5 264.4,-395.5 268.4,-392.5 273,-391 277.7,-389.4 282.4,-387.8 284,-383.1 281.2,-382.5 278.4,-381.9 275.7,-381.3 272.9,-380.7 269.6,-380.2 266.2,-379.8 262.9,-379.3 259.3,-379.1 255.8,-378.9 252.3,-378.7 248.7,-378.5 245.2,-378.3 240.6,-380 236,-381.7 231.4,-383.3 226.8,-385 223.4,-387.8 226.9,-388.1 230.3,-388.3 234,-388.1 237.6,-388 241.3,-387.8 237.6,-388.8 233.9,-389.7 230.2,-390.6 226.6,-391.6 222.8,-391.9 219.1,-392.2 215.4,-392.5 215.5,-395.3 213.7,-393.9 211.9,-392.5 208.7,-391.9 205.5,-391.3 202.3,-390.6ZM7.1,-389.2 3.6,-389.2 0,-389.2 -3.6,-389.2 -5.3,-390.2 -2.7,-391.3 0,-392.5 2.9,-392.2 5.9,-391.9 8.9,-391.6 7.1,-389.2ZM271.7,-403.9 275.4,-403.6 279,-403.3 282.7,-403 286.9,-400.1 291.1,-397.1 288.9,-395.6 286.6,-394 284.3,-392.5 280.7,-393.3 277.2,-394 273.7,-394.8 270.2,-399.4 271,-401.7 271.7,-403.9ZM311.8,-399.4 310.3,-397.1 308.8,-394.8 305.7,-394.8 302.7,-394.8 299.6,-394.8 296.5,-394.8 293.6,-399.4 290.5,-403.9 293.4,-404.1 296.3,-404.3 299.2,-404.5 302.1,-404.6 305,-404.8 308.4,-402.1 311.8,-399.4ZM209.1,-412.8 212,-413.4 214.8,-413.9 217.7,-414.5 220.8,-414.8 223.9,-415 226.9,-415.3 230,-415.5 233.1,-415.8 237,-415.1 241,-414.3 244.9,-413.5 248.9,-412.8 249.3,-408.4 246.2,-408 243.2,-407.6 240.1,-407.3 237,-406.9 233.9,-406.5 230.8,-406.2 227,-406.6 223.3,-407 219.6,-407.5 215.9,-407.9 212.2,-408.4 209.1,-412.8ZM269.6,-415.4 273.6,-413 277.6,-410.6 274.9,-409.8 272.2,-409.1 269.5,-408.4 266,-408.6 262.4,-408.8 258.8,-409 255.3,-409.3 255.9,-412.3 256.5,-415.4 259.7,-415.4 263,-415.4 266.3,-415.4 269.6,-415.4ZM214,-414.9 211.3,-414.2 208.6,-413.4 205.8,-412.7 203.1,-411.9 199.6,-412.1 196.1,-412.3 192.6,-412.6 189.2,-412.8 191,-414.9 192.8,-417.1 195.7,-417.5 198.7,-417.9 201.6,-418.4 204.5,-418.8 209.3,-416.9 214,-414.9ZM264.6,-423.4 262.4,-422.4 260.2,-421.4 258,-420.5 254.6,-420.7 251.1,-420.9 247.7,-421.1 244.3,-421.3 243.5,-425.4 246.3,-425.7 249.2,-426 252,-426.3 254.8,-426.6 259.7,-425 264.6,-423.4ZM622.7,328.4 622.7,327.4 623.9,327.4 622.7,328.4ZM598.3,304 601.8,304.8 605.2,305.6 603.6,308.3 601.3,306.9 598.9,305.6 598.3,304ZM518.9,294.8 514.8,294.5 510.7,294.2 511.7,289.9 516.1,289.6 520.6,289.3 522.9,290.2 525.1,291 518.9,294.8ZM587.9,-60.6 592.4,-61.2 592.7,-57.2 588.3,-57.2 587.9,-60.6ZM775.5,-84.4 772.8,-85.6 775.6,-86.1 775.5,-84.4ZM508.2,-100.9 505.1,-101.4 502.1,-102 500.8,-103.7 504.2,-104 507.6,-104.3 511.9,-102 508.2,-100.9ZM556,-104.3 559.9,-104.3 563.8,-104.3 563.7,-102 560,-102 556.3,-102 556,-104.3ZM536.9,-103.1 536,-99.7 533,-101.4 530,-103.1 526.8,-103.1 523.6,-103.1 520.1,-103.7 521.7,-105.7 526.2,-105.5 530.6,-105.4 528,-109.9 524.2,-112.2 527.1,-112.2 530.1,-112.2 532.9,-112.8 537.4,-112.2 541.4,-110.8 545.3,-109.4 550.3,-105.4 549.2,-103.1 545.9,-104 542.6,-104.8 539.7,-104 536.9,-103.1ZM889.2,-26.6 884.5,-28.9 879.4,-30 875.7,-29.5 872,-28.9 868.4,-27.5 864.7,-26.1 861.3,-24.9 857.9,-26.6 854.6,-28.3 849.2,-32.9 845,-35.7 841.2,-39.1 835.9,-42.5 831.9,-48.2 828.7,-53.8 823.6,-58.9 821.2,-62.3 817.5,-67.4 814.6,-68.9 811.6,-70.3 811.4,-73.4 811.1,-76.5 808.2,-81.6 805.4,-83.3 808.1,-87.3 808.9,-90.7 809.1,-96.3 808.9,-99.5 808.7,-102.6 807.2,-106 805.6,-109.4 804.4,-114.5 800.1,-117.9 799.1,-121.8 800.1,-127.5 800.7,-130.9 801.2,-134.3 802.4,-138 803.4,-141.7 803.7,-144.8 803.8,-147.9 805.2,-151 806.4,-154.1 807.8,-158.1 810.5,-159.8 813.2,-161.5 815.3,-164.1 817.3,-166.6 817.6,-172.3 815.6,-175.4 813.6,-178.5 814.2,-183 814.8,-188.1 817.8,-190.4 820.4,-192.7 819.5,-198.3 818.6,-202.9 821.1,-203.4 828.2,-199.5 831.1,-199.8 834,-200 839.4,-198.9 841.7,-200.6 843.9,-202.3 845.7,-203.9 849.2,-198.3 852.5,-192.8 855.7,-187.2 858.8,-181.7 861.7,-176.1 864.5,-170.6 867.1,-165 869.6,-159.4 871.9,-153.9 874.1,-148.3 876.1,-142.8 878,-137.2 879.7,-131.7 881.3,-126.1 882.8,-120.6 884.3,-115 885.8,-109.4 887.3,-103.9 888.7,-98.3 890,-92.8 891.3,-87.2 892.5,-81.7 893.6,-76.1 894.6,-70.5 895.5,-65 896.3,-59.4 897,-53.9 897.7,-48.3 898.3,-42.8 898.8,-37.2 899.3,-31.7 898.3,-31.2 894.5,-28.9 891.8,-27.8 889.2,-26.6ZM515.2,-112.8 512.2,-113.3 507.6,-112.8 503,-112.2 505.4,-115.6 501.7,-117.3 498.1,-119 492.5,-123 487.4,-124.7 483.8,-125.8 480.9,-127.2 477.9,-128.6 475.2,-127.2 472.5,-125.8 469.2,-125 465.9,-124.1 468.9,-126.9 471.9,-129.8 474.5,-130.3 477.1,-130.9 480,-131.2 482.9,-131.5 486.6,-130.3 490.4,-129.2 494.2,-128.1 498.2,-126.1 502.2,-124.1 507,-121.6 511.8,-119 516.1,-116.7 520.4,-114.5 517.8,-113.6 515.2,-112.8ZM494.5,-142.8 497.4,-142.8 499.4,-137.7 496.7,-136 495.6,-139.4 494.5,-142.8ZM795.5,-157.5 793.4,-159.2 795.3,-159.2 795.5,-157.5ZM790.2,-158.7 787.4,-160.9 790.5,-161.5 790.2,-158.7ZM800.6,-159.2 799.7,-162.6 801.9,-162.1 800.6,-159.2ZM720.5,-213.6 718.4,-214.7 721.6,-214.2 720.5,-213.6ZM822.5,-208 820.2,-204.6 819.4,-204 814.3,-206.8 812.5,-209.1 808.6,-210.8 805.1,-209.7 802.5,-209.7 799.9,-209.7 797.3,-215.3 791.4,-219.3 789.7,-223.2 788.3,-227.7 785.5,-232.8 780.8,-237.8 775,-242.9 776.9,-245.7 778.7,-247.3 783.7,-246.8 788.7,-246.2 793,-246.2 797.3,-246.2 801.8,-245.1 804.5,-245.1 807.2,-245.1 807.7,-246.2 805.5,-249.6 803.4,-252.9 799.5,-257.9 796.1,-261.3 791.2,-264.3 786.2,-267.4 781.3,-268.5 777.7,-269.3 774,-270.1 771.7,-271.2 769.3,-273.4 771.1,-274.5 772.9,-275.7 778,-274 780.5,-274.5 782.7,-274.5 779.6,-277.6 776.5,-280.6 779.8,-279 784.3,-278.4 784.8,-279.2 789.8,-274 794.7,-268.8 799.4,-263.6 804,-258.3 808.6,-253.1 813.1,-247.8 817.6,-242.5 821.9,-237.2 826.1,-231.9 830.2,-226.6 830.9,-223.8 834.2,-221.1 836,-218.6 834.8,-217 835.3,-214.2 835.1,-213 833.4,-211.3 832.8,-208 828.2,-208 825.3,-208 822.5,-208ZM559.1,-271.2 564,-265.7 561.5,-265.2 558.9,-264.6 554.9,-265.7 550.9,-266.8 545.8,-267.9 540.7,-269 536.9,-269 533.2,-269 531.3,-270.7 531.3,-273.7 531.4,-276.8 531.3,-280.9 531,-285 531.7,-288 532.4,-291 536.9,-287.7 536.4,-282.2 540.6,-280.9 544.8,-279.5 549,-278.1 553.2,-276.8 559.1,-271.2ZM502,-281.7 506.2,-280.8 510.4,-279.9 514.7,-279 517,-277.3 512.7,-277.9 508.5,-278.4 502,-281.7ZM725.4,-293.7 726,-296.4 725.1,-299.7 722,-300.2 718.9,-300.7 715.8,-304 714.5,-305.6 717.7,-305.6 720.8,-305.6 717.6,-307.7 716.3,-310.4 718.8,-311.5 722.1,-310.9 725.5,-310.4 730.8,-307.2 732.3,-304 736.8,-300.2 739.6,-297.2 742.3,-294.2 739.2,-293.2 736,-292.1 733.6,-291.3 731.2,-290.4 725.4,-293.7ZM759.6,-290.4 755.6,-291 752,-291.8 748.3,-292.6 749.2,-294.2 750,-295.9 745.3,-297.5 743.2,-300.2 746.3,-300.5 749.4,-300.7 745.6,-304.5 740.6,-306.7 737.7,-308.8 735.9,-308 734.1,-307.2 731.5,-308.8 730.1,-311.5 726.1,-314.1 726.1,-310.9 723.3,-313.9 720.5,-316.8 715.8,-318.4 715.5,-320 712.4,-322.6 711.2,-325.3 708.6,-328.4 712.6,-328.4 716.7,-328.4 717.6,-327.4 718,-324.7 718.9,-322.6 721.5,-323 724.1,-323.3 726.6,-323.7 728.7,-322.6 730.1,-320.5 733.1,-316.3 732.6,-314.7 735.7,-314.1 738.8,-313.6 746.3,-309.3 752.8,-306.7 757.4,-304.5 759.3,-303.2 764.1,-298.9 768.9,-294.6 773.5,-290.3 778,-286 775.4,-285.8 772.9,-285.5 770.8,-285.3 768.6,-285 766.9,-284.2 765.1,-283.3 761.4,-284.4 759,-283.6 756.5,-282.8 756.7,-285.3 756.8,-287.7 760,-288.8 761.7,-290.4 759.6,-290.4ZM359.2,-358.7 357.4,-362.4 355.5,-366.1 359.3,-364.9 363.1,-363.7 368.1,-362 373.2,-360.3 378.4,-358.7 384.2,-353.6 381.9,-352.2 379.6,-350.8 381.9,-350.9 384.2,-351.1 387.9,-349.3 391.6,-347.5 388.2,-347.4 384.8,-347.2 381.4,-347 377.9,-349.8 377.6,-349.6 373.7,-350.4 369.9,-351.3 366,-352.1 361.2,-353.4 356.4,-354.6 357.9,-356.7 359.2,-358.7ZM600.1,-366.6 603.2,-366.9 606.2,-367.1 611,-364.6 611.4,-365.9 611.8,-367.1 612.9,-368.6 616.2,-368.3 619.5,-368.1 622.8,-365.1 626.7,-363.9 630.6,-362.7 633.2,-358.2 632.6,-357.2 630,-356.2 627.5,-355.2 624.9,-354.1 622.3,-353.1 619.5,-353.4 616.7,-353.6 610.7,-355.7 608.1,-355.4 605.5,-355.2 605.7,-357.2 600,-358.7 594.3,-360.2 595.3,-361.7 596.3,-363.2 592.2,-363.4 588.1,-363.7 588.1,-365.9 588.1,-368.1 589.6,-368.3 595.5,-366 601.3,-363.7 600.1,-366.6ZM400.9,-363.7 400.3,-368.6 396.1,-372.3 391.9,-375.9 386.1,-378.3 380.2,-380.7 375.1,-382.3 370.1,-383.9 365,-385.5 362.1,-385.2 359.1,-385 356.2,-384.8 353.3,-384.5 349.4,-384.8 345.5,-385.2 341.6,-385.5 338.4,-385.8 335.1,-386.1 331.9,-386.4 326.7,-388.3 321.6,-390.2 317.7,-393.7 313.8,-397.1 312,-400.1 310.1,-403 314,-402.6 317.9,-402.1 321.7,-401.7 325.8,-398.3 329.9,-394.8 329.1,-399.4 331.5,-400.5 333.9,-401.5 336.3,-402.6 339.7,-402.6 343.2,-402.6 348.5,-400.8 353.8,-398.9 358.2,-398 362.6,-397.1 367.1,-396.2 371.1,-395.3 375.1,-394.4 379.1,-393.4 383.2,-392.5 388.3,-391 393.4,-389.4 398.6,-387.8 406.1,-383.1 413.5,-378.3 417.3,-377.5 421.2,-376.7 425.1,-375.9 428.9,-375.1 432.8,-374.3 436.7,-373.5 443.6,-369.1 441.8,-367.9 440,-366.6 438.2,-365.4 436.3,-364.2 431.3,-365.5 426.3,-366.8 421.4,-368.1 426.2,-365.9 431.1,-363.7 437.2,-361.2 443.3,-358.7 446,-354.6 448.7,-350.6 444.4,-351.1 439.5,-352.3 434.6,-353.5 429.7,-354.6 434.2,-353.1 438.8,-351.6 443.3,-350.1 448.5,-347 453.8,-344 449.8,-344.5 445.8,-345 440.9,-346.2 435.9,-347.4 431,-348.6 425,-351.1 419,-353.6 414.6,-355 410.3,-356.3 406,-357.7 402.9,-357.5 399.8,-357.3 396.8,-357.2 392.7,-358.2 388.7,-359.2 383.9,-363.7 387.3,-363.7 390.7,-363.7 394.1,-363.7 397.5,-363.7 400.9,-363.7ZM465.5,-375.9 464,-379.3 466.2,-380.5 468.3,-381.7 464.5,-385 460.8,-385.5 457.1,-386 453.4,-386.4 449.7,-386.9 447.2,-388.8 448.8,-389.6 450.4,-390.3 451.9,-391.1 448,-391.9 444.2,-392.7 440.3,-393.4 435.3,-396 430.3,-398.5 426.2,-401.2 422,-403.9 416.5,-406.2 411,-408.4 405.6,-409.8 400.3,-411.3 394.9,-412.8 391.9,-412.8 388.8,-412.8 385.8,-412.8 382.8,-412.8 379.7,-412.8 376.7,-412.8 372.7,-413.5 368.8,-414.2 364.9,-414.9 359,-417.1 353.3,-419.2 348.8,-420.7 344.4,-422.1 345.8,-423.2 347.2,-424.3 348.5,-425.3 349.9,-426.3 351.2,-427.4 352.3,-428.7 353.5,-429.9 354.6,-431.2 355.7,-432.4 356.7,-433.7 357.8,-434.9 359.8,-435.5 361.7,-436.1 363.7,-436.7 365.6,-437.3 368.4,-437.4 371.2,-437.6 373.9,-437.7 376.7,-437.8 379.4,-438 382.2,-438.1 384.9,-438.2 387.7,-438.3 390.1,-438.6 392.6,-438.9 395.1,-439.1 397.5,-439.4 399.9,-439.7 402.4,-439.9 404.9,-440 407.4,-440.2 409.8,-440.4 412.3,-440.6 414.7,-440.8 417.2,-441 419.6,-441.2 422.1,-441.4 424.5,-441.5 426.9,-441.7 429.4,-441.9 432.3,-441.8 435.3,-441.6 438.3,-441.5 441.3,-441.4 444.3,-441.2 447.3,-441.1 450.3,-441 454.2,-440.5 458.2,-440.1 462.2,-439.7 466.1,-439.2 470.1,-438.8 474.2,-438.3 477.9,-438 481.6,-437.6 485.3,-437.2 489.1,-436.8 492.8,-436.5 496.6,-436.1 500.4,-435.7 504.1,-435.3 508,-434.9 511.8,-434.5 510.6,-433.9 509.4,-433.2 508.1,-432.5 506.9,-431.9 505.7,-431.2 506.8,-429.3 507.9,-427.4 512.8,-424.4 517.5,-421.3 523.1,-418.8 528.7,-416.2 534,-412.3 539,-408.4 542.3,-405 545.4,-401.7 548,-398.9 550.6,-396.2 557.8,-392 564.8,-387.8 561.5,-387.7 558.1,-387.5 554.8,-387.4 550.8,-387.6 546.9,-387.8 551.6,-387.1 556.3,-386.3 561,-385.5 563.7,-385.5 566.4,-385.5 565.7,-383.7 565.1,-381.9 564.3,-380.1 563.5,-378.3 560.4,-377.9 557.2,-377.6 554.1,-377.2 550.9,-376.8 547.7,-376.4 546.9,-374.1 546,-371.9 545.1,-369.6 543.3,-368.3 541.5,-367.1 539.6,-365.9 537.8,-364.6 536,-363.5 534.1,-362.3 532.3,-361.2 534.5,-357.4 536.7,-353.6 537.9,-349.8 539,-346 542,-342.2 544.9,-338.3 545,-334.7 540.6,-336.2 536.3,-337.8 532,-339.3 527.2,-340.1 522.5,-340.9 516.6,-343.5 510.8,-346 502.6,-351.1 497.2,-354.1 491.9,-357.2 486.5,-360.2 481.2,-363.2 475.8,-366.9 470.5,-370.6 468,-373.2 465.5,-375.9ZM272.9,-434.9 274.7,-435.8 276.5,-436.7 278.3,-437.7 280.8,-438 283.3,-438.3 285.8,-438.7 288.3,-439 290.8,-439.3 293.3,-439.7 295.8,-440 298.7,-440 301.6,-440.1 304.5,-440.1 307.3,-440.2 310.2,-440.2 313.1,-440.2 316,-440.3 318.9,-440.3 322.1,-440.2 325.2,-440.1 328.4,-439.9 331.5,-439.8 334.7,-439.7 337.9,-439.6 341,-439.5 344.2,-439.3 348.7,-438.4 353.3,-437.5 357.8,-436.6 356.3,-435.8 354.8,-434.9 353.2,-434 351.6,-433.1 349.7,-432.3 347.8,-431.6 345.9,-430.8 344,-430.1 342,-429.3 340.8,-428 339.6,-426.7 338.3,-425.4 336.5,-424.4 334.8,-423.4 334.3,-421.3 333.8,-419.2 333.8,-416.7 333.6,-414.1 330.6,-414.1 327.6,-414.1 324.6,-414.1 321.6,-414.1 318.6,-414.1 322.5,-413.2 326.5,-412.3 330.4,-411.5 334.4,-410.6 340.1,-407 337.1,-406.9 334.1,-406.8 331,-406.7 328,-406.5 325,-406.4 322,-406.3 319,-406.2 315.5,-406.2 312,-406.3 308.6,-406.4 305.1,-406.4 301.7,-406.5 298.2,-406.6 294.8,-407 291.4,-407.3 288,-407.7 284.7,-408 281.3,-408.4 278.8,-412.8 281.2,-413.6 283.6,-414.5 286,-415.4 288.6,-415.6 291.2,-415.7 293.8,-415.9 296.4,-416.1 294.9,-419.2 293.3,-423.4 294.9,-424.7 296.4,-426 297.9,-427.4 292.3,-429.3 286.7,-431.2 282.1,-432.4 277.5,-433.7 272.9,-434.9ZM262.1,-431.2 263.4,-432.7 264.7,-434.1 268.6,-433.4 272.6,-432.7 276.6,-432 280.6,-431.2 284.7,-429.9 288.9,-428.7 293.2,-427.4 293.3,-425.4 293.3,-423.4 290.3,-423.2 287.3,-423 284.3,-422.9 281.3,-422.7 278.3,-422.5 273.3,-424.2 268.3,-425.8 263.4,-427.4 262.1,-431.2Z" fill-rule="evenodd" clip-rule="evenodd" stroke-linejoin="round"/>
<pattern id="sp1" width="96" height="96" patternUnits="userSpaceOnUse" shape-rendering="crispEdges"><path d="M12,48l1,0M89,7l-1,4M35,49l2,1M76,64l-1,3M94,20l1,2M57,23l3,1M45,27l1,4M14,65l3,2" stroke="#000" stroke-width="1.6" fill="none" stroke-linecap="square"/></pattern><pattern id="sp4" width="96" height="96" patternUnits="userSpaceOnUse" shape-rendering="crispEdges"><path d="M3,19l-2,1M67,33l-1,0M44,66l-1,1M56,30l1,1M2,81l-1,1M19,6l4,0M77,18l1,1M70,47l3,4M25,94l1,6M30,72l0,1M24,81l-1,2M66,75l-2,4M14,43l-3,3M3,35l4,2M23,34l-2,3M15,48l2,2M4,11l2,2M62,34l1,2M88,11l-3,0M87,67l-2,3M14,45l-2,3M77,73l2,2M13,37l-1,2M58,23l-1,2M28,77l-1,2M50,25l2,4M53,3l-3,2M61,87l-1,2M33,72l-1,1M66,71l1,3M54,6l-2,3M77,48l-4,2M36,9l1,2M82,13l0,2M48,13l3,2M1,6l4,1M95,51l2,1M69,52l-2,1M74,42l-3,0M8,15l2,1M5,21l-1,3M3,4l-3,1M35,85l-4,4M35,15l-1,1M78,88l-1,0M84,93l1,3M18,28l-1,2M48,43l0,5M15,90l2,1M57,38l0,1M56,50l-8,2M77,46l1,2M4,77l0,1M69,42l3,1M1,57l1,3M75,2l2,2M6,12l0,2M85,35l3,0M37,30l0,1M60,72l-3,5" stroke="#000" stroke-width="1.6" fill="none" stroke-linecap="square"/></pattern><pattern id="sp2" width="96" height="96" patternUnits="userSpaceOnUse" shape-rendering="crispEdges"><path d="M42,21l-8,1M79,88l1,1M40,66l-2,2M7,65l-1,1M66,39l2,3M3,24l3,1M94,20l2,2M36,10l1,1M87,27l-3,1M28,36l-1,3M17,17l-3,1M75,40l-2,3M55,65l0,2M46,68l3,8M36,89l3,1M43,50l3,2M59,60l-1,3M92,18l-1,2M58,49l1,2M86,44l1,1M92,30l-7,0M16,90l-2,2M69,43l2,0M65,46l-4,3M95,86l4,2M22,35l1,0M90,35l-2,2M77,37l1,1M21,30l1,2M31,80l1,0M83,61l3,2M88,23l-2,2M24,46l-2,0M87,56l2,3M94,43l-1,2M67,64l-3,1M64,94l3,1M86,42l-2,5M81,68l4,1M10,53l4,6M10,43l-1,2M26,85l1,1M90,15l2,3M81,4l4,3M71,95l-7,2M95,53l1,3M30,48l1,1M57,72l-8,1M61,70l1,0M73,19l2,0M54,43l1,1M33,68l-1,2M91,11l1,1M16,7l0,2M62,35l1,1M16,46l6,5M3,6l-1,2M8,24l0,3M87,11l-1,3M94,94l-2,3M13,58l2,1M1,82l2,3M40,17l-3,2M90,25l0,1M11,52l1,2M68,46l1,1M81,93l-3,1M21,26l-2,0M35,70l-1,1M32,11l-1,2M26,81l4,0M25,15l1,2M82,56l-2,1M48,72l1,7M25,88l3,2M42,85l0,3M21,36l-2,2M3,29l0,2M77,55l-3,3M54,32l2,1M12,4l-1,2M56,57l0,1M8,40l1,0M37,73l2,2M28,45l-1,2M79,5l-1,3M5,84l0,3M87,58l-3,5M55,49l1,2M62,8l2,1M55,64l2,0M57,8l0,2M3,91l2,2M57,34l-1,2M57,66l1,1M31,58l2,1M57,11l-1,3M15,34l-2,4M42,59l0,1M1,83l0,2M51,94l1,2M76,70l0,1M39,11l1,2M26,50l-2,0M46,24l-3,2M65,86l1,3M14,70l2,3M84,21l9,1M31,96l7,3M1,24l2,8M73,87l2,3" stroke="#000" stroke-width="1.6" fill="none" stroke-linecap="square"/></pattern><pattern id="sp3" width="96" height="96" patternUnits="userSpaceOnUse" shape-rendering="crispEdges"><path d="M32,4l3,0M52,16l1,1M26,56l-2,2M65,52l-1,1M39,62l2,1M34,70l3,1M37,39l-1,1M85,78l1,2M55,8l-2,0M2,40l-3,2M17,30l2,2M89,81l-3,1M21,87l-4,6M66,52l0,2M65,47l-2,1M69,9l2,0M12,31l2,1M74,36l-3,4M34,82l3,1M72,34l3,1M1,73l2,8M80,2l0,3M79,22l2,3M39,58l-3,4M40,38l-1,2M38,49l-1,3M37,92l-1,0M26,15l1,2M82,28l-2,0M41,35l0,4M78,25l2,2M26,18l-3,2M11,33l-1,4M70,23l1,3M23,3l3,0M50,90l1,0M42,37l4,3M90,2l2,0M28,58l-1,3M59,3l2,2M40,23l5,3M76,73l2,7M46,53l3,3M74,2l3,3M49,88l-1,2M94,90l1,1M14,73l1,0M31,66l-1,2M88,85l-2,2M87,40l1,2M38,77l-1,3M14,6l-2,3M76,60l-2,3M83,93l3,1M3,89l2,1M61,3l-1,1M87,66l-3,1M68,24l-1,3M6,53l-2,1M23,14l-2,1M63,12l-1,1M82,9l1,1M72,94l1,2M6,58l-2,2M14,57l2,3M66,62l-1,1M34,74l-1,2M33,73l-2,3M91,39l0,4M40,67l-3,3M62,28l-3,2M88,9l0,4M8,52l-1,0M80,61l0,3M12,28l2,2M12,33l3,2M38,52l0,2M5,91l-1,0M16,70l1,2M46,36l0,2M66,19l3,1M61,53l-5,2M13,16l0,1M65,12l-2,0M1,8l1,2M87,33l0,1M74,73l2,1M21,19l6,2M61,44l-4,1M25,80l-1,3M70,42l1,3M42,73l1,4M61,8l1,1M43,22l2,6M87,76l-3,3M29,92l1,4M32,46l-3,2M72,22l-1,1M4,38l-3,1M28,84l2,2M43,59l0,2M76,96l2,0M20,2l3,1M62,28l0,2M43,11l4,0M8,56l-2,0M30,88l1,1M7,52l4,0M3,26l-3,3M90,56l2,2M63,28l3,2M17,82l1,1M27,86l0,4M90,88l2,3M11,58l-1,2M74,86l0,4M60,44l2,0M80,64l1,1M60,72l-1,2M14,43l0,3M69,67l8,1M64,36l-2,1M76,10l-3,0M7,9l-2,2M19,47l1,2M3,77l-1,2M82,83l1,3M81,76l0,3M55,16l0,2M0,38l-1,3M24,63l1,3M15,53l2,3M27,43l-4,0M79,55l1,6M16,41l-1,7M51,61l0,2M10,43l1,1M77,13l3,1M29,87l-3,2M2,21l2,5M90,11l-3,7M0,61l2,0M13,7l3,1M39,38l0,3M20,76l-2,0M68,16l3,6M23,7l1,2M95,57l0,2M8,45l1,4M66,65l0,3M16,2l-4,2M35,8l2,7M80,68l-2,2M17,69l-6,4M95,76l-2,2M61,7l-2,1M21,31l1,1M25,5l1,2M32,6l1,1M69,33l0,2M30,44l0,1M78,96l-1,2M64,70l1,6M75,21l4,0M86,88l2,3M26,94l2,8M95,55l8,1M77,80l7,1M83,41l1,1M78,7l-3,3M22,49l3,2M45,58l1,1M90,12l-3,1M66,45l6,0M42,51l4,1M82,50l1,2M32,26l-2,1M17,43l-2,3M60,65l-3,2M54,11l1,1M28,79l1,2M18,55l-1,4M94,82l1,1M11,71l2,2M46,73l1,1M91,53l1,0M32,59l-3,0M55,33l-1,1M85,75l-2,2M40,81l0,3M76,40l3,1M35,45l0,2M65,65l-1,6M2,18l0,2M19,55l1,1M48,4l1,3M87,55l1,2M82,59l5,2M65,12l-1,2M35,72l0,2M58,14l-1,0M51,20l1,1M55,64l-1,2M53,28l-1,2M13,61l-1,1M78,74l-2,0M58,87l-5,0M8,61l0,1M20,75l2,0M66,61l-2,1M2,88l-1,0M9,72l-3,2M11,31l6,3M8,12l-2,1M43,9l0,2M62,65l3,0M74,75l-2,1M9,71l3,1M93,3l-1,2M17,28l1,6M11,55l2,2M35,63l6,5M6,32l-1,1M25,12l3,2M32,25l3,0M59,60l1,0M49,47l-1,1M31,69l-2,1M19,39l2,3M62,21l1,1M6,10l-2,2M94,18l2,3M7,44l-1,3M29,16l2,1M29,85l-1,1M34,49l-1,1M55,95l1,3M42,69l2,1M54,42l1,2M51,9l2,3M6,14l2,1M16,80l3,1M95,24l-2,0M61,53l0,3M44,15l-1,0M88,50l1,1M67,35l3,5M65,84l1,1M69,74l-5,4M65,53l1,1M30,37l-6,6M86,37l7,5M36,30l1,4M83,57l-2,1M31,28l-2,0M2,85l-2,1M89,93l-1,2M85,34l2,0M81,44l-2,2M68,32l0,2M78,1l-1,3M37,46l3,1M76,53l1,4M74,29l1,1M32,14l1,2M56,22l-1,3M41,71l-2,9M93,90l-1,1M51,67l2,4M96,27l2,2M39,64l-1,4M92,27l3,1M76,79l-2,3M35,77l-3,0M67,75l2,0M7,45l-6,1M28,14l-4,0M52,36l1,2M73,8l4,1M75,2l-2,0M5,44l-2,0M23,87l-2,2M65,78l5,1M44,10l0,4M16,11l-3,2M73,45l-4,6M0,47l1,1M55,7l2,1M92,63l0,1M74,49l1,1M76,15l2,7M18,45l3,3M7,69l4,5M93,56l5,3M7,26l0,3M26,86l-2,2M64,23l4,2" stroke="#000" stroke-width="1.6" fill="none" stroke-linecap="square"/></pattern><clipPath id="lc"><use href="#lp"/></clipPath><pattern id="pb" width="36" height="36" patternUnits="userSpaceOnUse"><path d="M4,1h14M22,1h4M32,1h4M2,3h6M10,3h2M16,3h2M22,3h2M26,3h10M2,5h4M8,5h2M12,5h4M18,5h8M28,5h2M32,5h2M0,7h2M4,7h4M14,7h4M20,7h2M26,7h2M30,7h4M0,9h2M4,9h2M14,9h2M20,9h6M28,9h8M6,11h2M10,11h2M14,11h6M24,11h12M2,13h12M18,13h4M26,13h2M30,13h4M0,15h2M6,15h16M24,15h6M0,17h2M4,17h2M8,17h2M12,17h2M16,17h14M32,17h4M0,19h4M6,19h12M20,19h2M28,19h8M0,21h4M6,21h2M10,21h6M18,21h10M30,21h2M34,21h2M0,23h6M8,23h14M26,23h4M32,23h2M0,25h2M4,25h2M8,25h4M16,25h4M22,25h2M26,25h10M0,27h12M14,27h4M20,27h4M26,27h4M34,27h2M0,29h4M8,29h8M20,29h8M32,29h4M0,31h4M6,31h8M16,31h4M22,31h2M26,31h2M30,31h4M0,33h8M10,33h2M14,33h2M22,33h2M26,33h10M0,35h2M4,35h2M8,35h6M18,35h2M22,35h8M32,35h4" stroke="#0000ff" stroke-width="2" fill="none" shape-rendering="crispEdges"/></pattern><pattern id="pw" width="36" height="36" patternUnits="userSpaceOnUse"><path d="M4,1h14M22,1h4M32,1h4M2,3h6M10,3h2M16,3h2M22,3h2M26,3h10M2,5h4M8,5h2M12,5h4M18,5h8M28,5h2M32,5h2M0,7h2M4,7h4M14,7h4M20,7h2M26,7h2M30,7h4M0,9h2M4,9h2M14,9h2M20,9h6M28,9h8M6,11h2M10,11h2M14,11h6M24,11h12M2,13h12M18,13h4M26,13h2M30,13h4M0,15h2M6,15h16M24,15h6M0,17h2M4,17h2M8,17h2M12,17h2M16,17h14M32,17h4M0,19h4M6,19h12M20,19h2M28,19h8M0,21h4M6,21h2M10,21h6M18,21h10M30,21h2M34,21h2M0,23h6M8,23h14M26,23h4M32,23h2M0,25h2M4,25h2M8,25h4M16,25h4M22,25h2M26,25h10M0,27h12M14,27h4M20,27h4M26,27h4M34,27h2M0,29h4M8,29h8M20,29h8M32,29h4M0,31h4M6,31h8M16,31h4M22,31h2M26,31h2M30,31h4M0,33h8M10,33h2M14,33h2M22,33h2M26,33h10M0,35h2M4,35h2M8,35h6M18,35h2M22,35h8M32,35h4" stroke="#fff" stroke-width="2" fill="none" shape-rendering="crispEdges"/></pattern><path id="rp" d="M-750,-252l-1,21 10,8 3-4 4-14-4-5 1-5-3-3-2,0-3-6-1,9zM-716,-204l6,5-4-7 5,4-2-3 2-1 1-10 3-1-5-5-6-3-3-6-3,5-10,23zM-762,-215l0-1-6-1 0,3-6,1 5,10 1-7 4,6 1-3 0-4 1,2 5,0-1-1-2-1 2-3zM-777,-211l-5,0 0,2 2,1zM-787,-203l-3-2 0,5-2-1-1,2 2,1 2-1 1,1 3-3-1-1 3,0 0-3 1-1-1-4-3,2 0-2zM-705,-206l-4,3 2,2zM-763,-206l-1,4 0,1 3-2zM-705,-199l2,0-3,2 1,0-1,0 2,9 4-1 0-3-1-5 0-3 1,1 6-3-1-1 0-3-6,0 0,6-1,0 0-4-4,2zM-694,-201l-1,4 1,1 2-1zM-766,-196l2,1-2,6-3-9-1,0-1,3-1,0 1-7-4,1-2,3 1,1-1,3 4,1-2,2 3,5-2,3 3,2 4-5 0-3 3,3 4-2 0-4-4,0-2,2 1-2 3-1-2-1 2,0 0-1 2-2 0-2-1-1zM-788,-198l0,1-1-1 1,1-1,2 3,1 1-2zM-792,-197l-3,1 3,2 3,0-1-3zM-789,-189l5,6 0,1 2-4 0-5zM-774,-184l-3-2-4,2 1,1 6,1zM-767,-181l-2,1 3,1 2-1-3-3zM-777,-181l-1,3 3,0zM-760,-179l1,4 0-1 2,0-1-2zM-607,-130l-3-10 14-3-7-15 8-4-11,4 3-10-31,18-6,2 16,7 8,9zM-549,-51l-1,2 3,3 5-2-2-4 0-1zM-539,-45l-6-1 1,5 3,0 0,2-2-1-4,16 3,0 3-3-3-5 3-1 1,2 1-4 1,5 5-1 0-4 2,0 2-3-1-3 1-1 2,1 0,6-1,0-2,3-3,2 0-1 1,5-2,0 2,2 4-1 1,3 4-8-1-2 1,0-4-3 5-5-1-4-3,1 0-1-2,0-2-2-1,2-3-7-1,6-3,4 2,1-2-1 3,6-6-6 3-2zM-637,-39l0,10 1-2 2-1-2-2 2-1-1-2 3,0 0-3zM-625,-38l-4,1 2,1 4-1zM-628,-33l-1,0 0,1-1,1 1,4-3-1 5,5 1-6-1-2 2-1zM-618,-33l-1,2-1-1 2,3 1,0 1-2zM-625,-27l1-1 0,1 0-8zM-546,-18l-2,5 4,0 1,1 6-1 1-3-2-2 0-1 0,1 4,1 0-2 3,1 0-2 2,1-4-5-2-1-3-2 0,2-1,0-2,2 3,1-3,3-3-4-2,2-1,1 4,2zM-541,35l5-2 0-3 1,0-1,2 2,2 2,0 0-3 4,3 0-3-3-2 0-3-2,2 0-1-4,1 1,1-2-3-2,2zM-541,49l-2,2 0,3 6-1-2-3zM-638,59l6-1-1-2-5,1zM-637,63l-2-3-2,0-2,4 3,0zM-632,65l4,1-1-2 1-4-2-1-2,2-1-1 0,4 1,0zM-562,175l-11-90-4,0-9,95 13,5zM-797,227l4,1 5-1 0,1 3-3-1-4 2-2-5-2-10,4-1,1 3,0 2,2zM-581,246l2,3 4-3-1,0zM-683,253l0,3 2,4 5-8zM-575,256l-4-1-1,3 3,0zM-575,265l-3-7 0,8 1,2 2-2 4,0 0-2 2-3-1-1 2-1-1-4-3-1zM-685,258l-9-2 0,5 7,5 0-5zM-671,271l-1,7 6-1 1-5-5-1 3-6-1-4-7,1-3,8 1,0 0,3 4,1 0-4zM-687,271l-2,2-2,6 2,2 2-2zM-623,289l6,3 5-9-4-1 2-14-24-8-8,1 4,11-12,6 9-1 12,20 3-8 8,4zM-663,335l-5-25-4,0 5,25zM-290,-81l-1-4-3,1-8-9-5,13 0,5 11,3 8-5-3-4zM-536,-58l-1,0 1,7 6-6-7-2zM-413,-14l-4,0 1,4 3,0zM-535,-17l1,10 5-2-1-4zM-520,-4l-1,1 1,1-1,0 3,4 7-8-2-3-2,1-1-1 0,4-2,2zM-536,-7l5,3 1-1-1-3zM-505,-7l-4,5 2,3 1,0 1,2 2-1 1,1 0-2 1,3 4-1-1-10-2-1-3,3 0,4-1-2 1-1zM-511,-6l0,2 2,0 0-2zM-526,-7l-3,3 0,5 5-2 0-5zM-395,0l1-4-5,6 6,8 3-5-3-3 0-2zM-400,7l-2-4-2-1-2,5-3-1-4,3 2,5 4,2 5-8zM-522,4l-2,2 2,3 1-6zM-417,6l-4,3 1,3 4,1 2-3zM-398,19l-4,1 0,2 2,5 2-1zM-416,21l2,8 0,5 3-3 2-9-6-7zM-407,27l-2,7 7,0-2-8 1-1zM-422,26l-5,4 3,4 9-3 0-4zM-529,35l-3,0 0,2 1,0zM-529,46l-7-2-1,2 2,1 2-1 1,1 2,1zM-536,52l4-2-5-2 0,4zM-528,65l0-4 3,0-1-5 1-5-1,0-2,2 0-2-4,0 1,3-2,1 2,0-1,2zM-529,70l-3-5 1,0-1-2-3-1-2,1 1,4 4-2 0,4zM-442,103l-9-56-3,0-8,59 11,4zM-378,291l5-1-1-2-2,0 3-3-3-5 0-1-3,4zM-418,283l-1,6 1-1 3,1-2-6zM-397,276l-4,6 4,14 2-4-1-4 2-2zM-391,285l-4,4 4,0zM-451,287l1,3 2,0 3-2 0-2zM-455,294l1,3 1-1-1-4 1-4-2-5-4,10 1,0 1,2zM-420,287l-3,3 0,4 4,0 0-7zM-444,304l-1,3-3-6 0,3-1-1 1,8 4,0 0-4 8,4 1-7-2-5 4-3 1-10-9,5 0,5-3,4 1,1-2,1zM-404,294l-3-2 0,3 2,3zM-411,295l-2,7 1,0 4-2-1-6zM-401,307l1-1 4,0 1-1-1-2-6,1zM-452,305l-5,0 2,3 3-1zM-269,-153l3,7 0,1 1-2-2-7zM-276,-149l-5-4 0,5 1,4 2,0zM-156,-141l0-3-2-7-3,1-1,7 2,5 1,0 1,1zM-144,-142l-3-1-3,5 5,2zM-272,-135l2-3-1-3 2-1-6,2-3,4zM-163,-142l-3,5 2,4 3,1 0-7zM-170,-139l-1-1 1,7 2,3-1-9zM-276,-135l-3-1 0,4 3-2zM-263,-130l-1-1 2-1-1-3-3,1-2,2 1,1zM-282,-105l-2,4 2,1 2-1 0-4zM-259,-101l4,4 1,2 0-5 1,0 1-3-3-1-3,3 1,1zM-239,-97l3-5-4-3-7,1 0,3-3,0 1,4-1,0 8-1zM-274,-103l-2,2-3,7-1,2 0,6-1,5 1-1 0,2-2,0-7,10-5,1 1,2 9,8 5-21 2,1 2-3 1-2 0-2 3-3 2,5 6,1 2-5-5-14-6,10 1,3-3-1 0-5-1,1 6-3-1-4zM-167,-75l-7-45-2,0 7,45zM-237,-96l4,2-1-3 3-1zM-235,-51l1-5-1-11 5-4-4-4-6,4-6,0 0,22 4,0 0,7zM-155,-50l-1,1 3,1 0-2zM-158,-42l3,6 8-4 0-2 2,1 1,2 1-1-2,4 1,1-3,7 5,1-5,0 0,3 4,0 0,4-3,1 3,1-1,4 4,1 3-3 1,4 6-6 1,0 2-3-6,1-4-2 0,3-1-3-2,1-1,0 0-2 1,2 2-3 1,2 1-5 3-1 3-3 1,5 3,0 2-3-2-5-1,1 0,2-2-2-3,0-2,5 1-4-1-2-3,1 0,1-2-5-1,0 1-1 4,0-3,3 3,1 2-6-2,1-2-3 4,0 0-5 0,1 4-3-4-2-2,1 0-2-1,0-1,8 1,0-2,2-4-1 2-2-1-4-2,1 0-1-6-2 1,5 1,1-2,0-2-2-3,5zM-169,-42l7,4 3,1-2-3 1-1-8-5zM-177,-36l-1,1 1,2-2,3 4,1 2-3 0,3 1-1 2,1 2,5 1-2 0-2-2-1 0-4 1,0-1-2 1-1-2-3 1-1-3-3-5,5zM-157,-39l-3,6 2,3 4-4zM-168,-32l3-1-1-2zM-161,-27l0,4 4-1-1-3zM-168,-21l3,3 2-2 6,2 0-2-5-1 0-4-1-3-2,2-1,4zM-150,-29l-5,1 5,7 2-7zM-176,-19l5,6 0-4 4,0-4-5 0,4 0-3-3,0zM-153,24l5,5 4,0-1,0 0,2 3,1 4-2-2,0 1-1 1,0 0,1 3,0-1-1 2-1 1,1 2-2-3,0 0,1-4-2 1-1 4,0-3-6 3,0 0-3-1-2-3,1 0,2-1-3-4,3 0,3-1,1-5,0 0,4-1-4 0,1 1-1 1-6-2,1 0-1-1,6-1-4 1-3-2-1 0,3-1,0 2,1zM-141,23l1,2-2,3-1-4zM-158,31l-1,3 4-1-1-1zM-155,40l2-3-1,3 3,3 3,1 0-4 4,1-7-10-2,5-2-1-1,1 0,2zM-158,45l-2,2-1,1 5-1 0-2zM-145,50l3,2 1-4-5-2-1-1-1,1-1,4 3,1zM-156,48l-1,2 2,4 1-5zM-202,64l1,6 3,1 1-5-2-1 1-3-4-5-1,2-2-1 0,3 1,0 0-1 1,0 0,5zM-196,64l0,2 3,0 0-4zM-214,68l3,2 0-2 4,0 3,1 1-4-2-2-6,4-2,0 0,1zM-204,79l-4-2 2,6-1,2 1,2 4,0-2-5 1-1 1,1-2-4 1,0 0,1 4,0 1,2 1-6-4,0 0-2-1,1-1-2-1,4-2,1zM-198,93l0-3 1,4 3,0 0-4-2-3 2-2-5,2 0-1-3-1 0,4zM-205,91l-3-4-5,4 3,1-1,0 5,2zM-295,305l9,18 2-3 13,18 20,2-4-6 9,5-39-54-12-20-10,0-2,8-19-8 21,42zM-44,-317l-1,9-1-2-2,1 2,4 1-3 5,0-1-5-1,1 0-4zM-60,-313l2,2 0-1 1,1 0-3-2,0zM-55,-312l2,6-1,1-1,2 3,2 1,2 2-2 0-3-4-3 1,0-1-4 2-2zM-77,-234l-1,4-1-1 2,11 3-7 0-6zM-84,-227l-4,4 3,6 6-6zM-97,-222l-2-1-4,10 6,5 1-7zM-92,-214l2,4-5-1 4,10 0-2 2,0-2,7 1,1-2,2-5,0 0,1 1,2 3,0-1-2 1,0 3,3 4-3 4,3 3-2-2-4-4,2-4-10 1-2-1-3 1,1 4-3 1-3-2-2zM-100,-201l1,5 0,1 1-1 1-8zM-79,-202l-3,1 0,5 4-2zM-94,-190l1,3 3-1-2-1zM-73,-192l-2,3-3,1 5,4 0-1 2-2-2-3zM-137,-140l-5-1-1,1 6,3-1-2zM-53,-78l-3,19 4-3 2,11 5-7 0,6 1,0 8,4 4-5 1-11-9-5-2-4-8-5zM-129,-43l-3,9 6,0 2-2 2,5 0-9-1,0 0-4-2,4-2-2 1-1 0-2-3-1zM-122,-23l-3,1 2,2 2-2zM-56,-28l3,18 13-4 1-7-10-8zM-48,9l-3,1 0,7 6-6-2-1zM-133,20l4,2 0-8-1,2 0-1-3,4zM-61,148l0,6 3,0 0-3zM-66,151l0,3 3-2-1,0 1-2zM-54,150l-2,0 3,5-1-1 2,0-1-1 1-1zM-65,158l-1,3 1,2 2,0 2-3zM-60,169l4-1-1,1 2,0 1-1-1-3 1-1-1-5-2,0 0,6-1-1zM-58,178l-3,0 2,5 3-4-1-2zM-60,207l0-1-2,3 0,3 4-3-1-1 5-2 1,1 2-3 2,1 0-4-4-1 0-3-2,1-8-3-3,8 4,3 2-4zM-65,209l-4,5 2,0 0,3 4-6zM-61,219l5,8 3-5-1-2 2-1-3,0 0-1-1,1-9-1 3,4zM-95,297l7,13 10-5 3-3-1-7-6,0-7-7-2,2-2-1zM37,-318l1,2 4-1 1,3 5-5-5-6-5,2zM-32,-315l-4,1 0,2 2,0 2,0zM-40,-308l1,5 3-3-2,0 1-3-2-2zM-33,-299l1-3-2-6-2,3 2,0-1,6zM93,-231l-5,3 0,5 5,12 3,0 5-9zM-10,-219l-2,5 3,1 3-2zM-33,-216l2,2 2-1-1-2-2-1zM-24,-218l0,6 4-1 1-2-4-5zM-29,-216l0,3 2-1zM-18,-217l0,5 3-2 0-2zM-37,-214l-2,2 1,1 3-1zM-21,-209l1-1 0,2 4,1 1-1-1-1 1-1-4-1-1,1 0-1-5,2 2,5-1,2zM-28,-205l2-1-4-4-3,0 0,3 3-1 0,2zM-9,-211l0-2-3,8 1,1zM112,-191l-9-3 0,7 4,8zM100,-160l3-2-1-1 0-7-5,2 0,5 0,1-1,2 3-1zM76,-168l2,1 4-2-5-1zM66,-167l0,3 2,1 4-5zM81,-162l-4,0 1,2 3,1zM110,-154l-1-3 1-1-4,2 1-4-3,4 1,1-1,3 4,0 1-2zM-6,-85l6,31 8-5-1-8 3-16-7,5zM-9,-65l-1,7 1,2 4-6zM-16,-59l-2-7-3,1-8,24 11-10zM86,-28l6-7-1-1 0-11-8,2-1-2-6,0-1,3 1,6-6,8 0,5-4,6-1,10 11-6 3-5 3-4 4-1zM106,-34l-1,2-1-2 0,2-1,0 3,8 2-2 2,0 2,3 2-12-4-4-3-1 0,9zM-13,-21l-3,0 3,1 9,9 2,8 0-6 2-1 1-11 8-14-14-5 1,5-1-1-2,3-3-1-1,5-2,2 1,1zM103,-31l-8-1 0,7 7-1 3-1zM-17,-15l2,0 1-1-1-1zM104,-20l-3,4-8-1 7,9 0-1 6,5 1-3-2-2 1-2 1,4 3,0 1-5 2,4-5,7 4,1-3,3 6,0 0,3 11,9 0-4 5-4-1-4 1-1-6-4 0-4-5-1 1-2 8-1-8-5-1-6-7,3-1,2 1-6-7,6-2,0zM-36,-12l-3,9 5,0 3-6 2-1-3,0-1-3 2,1-2-5-3,1 2,3-1,0zM70,1l13-3 5-3-2-2 6-12-2,0-4,2-2-3-1,11-5-5-9,12zM-19,5l1,1-2,1 5,6 3-4-2-6-4,0 5-1-3-2-5,1 2,1-5-2 3-9-5-3-3-4 3,20 1-3 3,4zM88,-7l2,5 2-4zM79,2l-1,1 5,3 2-4zM-33,1l-4,3 2,3 4-4zM109,5l-7,1-3,3 3,2 2,0 6-2zM97,17l0-1-6-7 0,11 3,0 1-1 1,5 3,2 1-6-2-3zM115,18l2,0-1-2-3,0 2,0 2-3-3,0 0-2-1,1 0-1-3,2-2-2 0,3-3,1 2,2 1,5 2,0 1-1 2,1-1-3zM65,18l2,2 2,3-1-8zM82,19l-3,6 1,2 2-4 2,0-1-3zM-4,22l8,9 0-2 1,1 4-10-13,1zM104,44l0-3 5-3 3,1-1-2 2,0 0,3 1,0 1,2 3-6-4,0-1,1-1-1 3,0-5-10-4,5-1,4 0-3 1,0 2-7-5,1-5,3 3,1 1,0-1,16zM-33,41l2-4 7-1-12-4 2-13-8,2-8,18 8,4 3,6 2-7 1-7 3,2zM-3,33l-4,4-1,2 8,1-1-8zM79,40l-3,2 4,2 0-2zM50,106l-10-56-4,0-9,59 13,3zM-18,145l-5-40-4,0 5,40zM-6,215l4,0-5-23-4,0zM103,285l-8-35-5,0 8,35zM143,-285l-2-30-3,0 3,30zM191,-300l-3,0 3,50 4,40 2,0-5-57zM204,-220l3,0-3-45-3,0zM168,-220l-3-30-2,0 3,30zM109,-198l-2,3 4-3 2,3 5-3-9-19-2,14zM109,-159l4,2-1-5 1,0 0-3-4,0 2,2-1-1 0,4zM116,-156l-3,0-1,1 4,3 1-3zM190,-130l2,0-2-25-2,0zM99,-113l3,3 17-3 6,2 3-11-5-6-8-2-13,1-3,1-5,6 0,7zM205,-58l-2,1-2,6 2-1-1,6-4,0-2-3-1,5-1-8-1,2-1,0-1-3-4,0-1-6-3,4 1,3-2,1 2,4 1,5 4-2 0,3-1,4-1,2-3-3-3,1-2-3-3,7-2,1 1,3 2-1 3,3 8,3 0-1 1,1-4,5 2,1 0,6 4,1-3,4 4,4 4-3 3,1-7-9-1,2 0-8 2,0 3-6 6,7-4-2-3,1 0,2 3,3 5,0-5,5-1,2 4,2 5-5 0,2 2,0 0,2 2,0 0,5 2,0-1-3 5-2-1-1 1,0 0-1-2,0 1-7-1,0-5,3 2-7-7,6-1-1 0-2 3-3 4,0-1-3 1,1 0,1 1,0 2-3-1-2-3,0 1,3-3-6-2-2 1,1-2-6 0,1-3,2-1-4 1,2 2,0 0-2-3-2-1-3 4-2 0,3 2,1 1,4 1-3 0,2 4-1-1-2 2-1 2-5-1-2 4-1 1-5-1,0-1-3-2,0-4-3 0,3-3,1 2-2-1,0 1-2-1-2-3,0zM208,-46l-1-7-2-1 2-2 2,1 0,6zM198,-29l-2,2 2-3-1-2 4-2 0,4-2,2zM194,-60l-2,2 2,2zM182,-56l-3,0 0,2 2,2zM170,-21l1,3 4,1 3,3 1-2 3,0-1-2-3,0 1-6-6-1zM125,-24l-1,8 4-1zM185,-19l-2,1 2,2 2-2zM185,-16l-4,1 1,2 3-2zM174,-1l4-1 2-3 4-4-4-1-1,1 2-2-8,6zM174,99l-6,12 29,5 1,2 22-10-7-10 25-33-13,0-22-11-7,0-8-3-30,1 0,44zM199,252l-4,0 2,13 3-5 0-9zM189,255l-3,3 3,6 3,1-1-9 0,1zM164,277l6,4 6-10 8,3-1-4 2-1-1-11-8,0-4,2 0,4-7,7 3,2zM183,276l1-1-1,0 0-1-1,1-4-2-3,8 0,5 8,3 1-4zM193,293l-4,10 3,2-1,4 5,1 0-17zM179,304l-5,9 5,7 3-4 2,1 1-7-2-1zM170,334l-6-1-4,4 16,2 1-1zM195,336l-4-2-4,2 6,9zM218,-200l-2-35-3,0 3,35zM491,-192l2-2 2,1-2-4 1-3 1,2 0-9-4-1-1,1-5,1 2,4-1,7zM490,-185l3-1 1,3 1,1-1,2 0,2 3,0-2-4 1-1-2-9-3,1-6-4-3,2 2,3-1,5 4,2 2-3zM491,-182l1,6 1-1 1,1-2-6zM309,-108l-2-2 2,3-2,1 1,2 0,3 1,2 2,1 2-1 0,1 1-3 3,0 0-3 2-2 2,1-2-2 0-10-4,1-5,0 0,2 0,4-1-1zM256,-85l2,3 7-3-1-3 3-3-2-2 1-3 0-1 2-2-4,0-2-5-2,2-3-4-11,4-3-1-2,6 5,9 0,1 2,1 3,5zM212,-33l0,6 2-1 2,1 0-2 2-1-1-5zM299,-36l4,2-12,8 3,2-2,0 1,2 8,11 2-1 0,1-2,2 16,0 4,2 1-2 2,0 4,2 4-9 8-2-7-5 11,0-12-5 4-7 1-5-7,0 0-1-7,2-3-4-9,1zM452,-22l0,3 2,0 0-3zM458,-19l-1-2 0,3-3,5 7,0 2-3zM421,-16l-3,7 0,3 7,1-2-3 1-4zM443,-8l-3-1-4,0 0,7 4,3 2-4 0,3 4,5 5-1 2-3-1-4 8-3 1-3-4-4-4,6-3,1-7-3zM470,-3l-6-4-2,5 1,4 6-4zM457,9l4,0-1-1 3,0-2-3-5-1zM430,8l3,3-1,3 1-3 3,0-2-7zM290,142l-2-3-2,2 2,4 2,0zM321,153l8-1 3-2-2-1 0-2-2-3-2,3 4-7-5,1-1-5-3-2-2,9-3-6-5-1 1,3-2,4 2,2-3,1 3,0-3,8-1-2-2,1 0,1-1-2-1,0 0-3-1-2-3,2 1,2-1,1-4-4-2,9-3,4 0,2 4-1 7,8 0,1 2,1-1-1 3,0-1,4 2,2-2,4 3,5 4-1-1-3 1-1-2-2 2,1 3-1-2-3 0-7-6-3-1,3-2-1-2-7-3,0 3-3 0,2 3-3 3,3 0-3 2-1 0,1 4,1-1,3 3-1-3,11 3-3 1,3 4-4 0-12-1-2-1-2 1,1 0-5 2,0-1,1zM285,155l-3,9-1,1 0,2-2,1 5,4 0,1-1,2 2,1 1-1 1,2 2,0 2,14 7-6 1-7-3-6 1,1 3-2 0-1-3-1-1,3-2-5-3,3-1,0 2-2-4-1-1-2 1-5-3-2zM373,178l-6-23-3,0-5,24 8,2zM240,187l4,6 3-5 0-3 2,10-2,1 2,1 1,3 2,0 0-3 1,1 0-3-2,1-9-41-2,0 6,27-6,2 1,2zM303,177l-3,1 0,2 2-1zM327,183l-1,0 2,1 1-1 0-1-3,1zM254,197l1,1 4,0 1-2-2-7zM244,199l-6-3-3,5 9,3zM256,204l-3,3 0,2 2,0-1,2 1-2 3,2 3-3-2-3 0-4zM392,285l10-3 8-14-2,2 2-3-2-2-2,1 0-1-12,9-1,4 1,1zM312,259l-7,13 0-5-12,18-5,11 1,3-5,5 1,8-9,15 1,18 3-6-2,11 9-12 12-27 1,1 10-33-2,0zM427,321l2-7 7-13 2-15-10,17-5,14 1,1-1,8 3-7zM567,-344l-3-2-2,2-3-1 1,3 1-1 1,2zM578,-346l-3-1-2,7 4,1zM547,-344l-5-1-1,2 1,2zM550,-342l3,2 1-1 0-3-3-2zM540,-345l0,2-3,0 1,4 3-2zM600,-344l-2,1 3,3 1-3zM566,-335l2,0 4,4-2,0 2,2 1-1 2,1 1,1 0-7-4,4 2-5-2-3 1-3-5-3 1,5zM557,-339l-3-3 0,1 1,4zM559,-337l-2,4 2,2 1-4-1,0zM590,-334l0,1 3,0-2-2zM539,-334l1,1-1,1 3-1 1-1zM583,-331l-1-3-2,1zM603,-331l-3-4-2,0-1,3 2,5 2,0 1,1-1-4zM561,-327l2,3 2,0 0-5 2,1 3-1-1-2-3,0 0-4-3,3 1-1 0,2 1,3zM546,-336l-2,5-2-1-1,2 3,3 0-2 4,2-1-2 1-1zM550,-332l4,2 2-2-5-1zM650,-220l-15-50-3,0 15,50zM595,-234l8,5-1-1 3-1-8-6zM565,-241l0,14 1-1 2,2 4-5-2-7zM547,-231l0,8 5,2 1-7-3-8zM588,-229l2,8 2-5 0-1 1,0-4-6zM580,-219l3,0 0-2 2,1 1-2 1,0 2,0-1-1 0-1-2,0-3-9-1,2-2-1 0,3-3-2 1,11 1,2zM596,-224l0-1-1,1 1,3 2,0-1-4zM569,-223l-4,2 5,5 1,0 1-7zM606,-221l-2,2 7,1 2,6 7-10-1-5-3,2-1-2-5,6zM589,-217l0-1-1,0-3,5-2,0 0,2 0,1 3,4-3,1 2,1-1,2 5,2 2,4 2-12-3,1 1-5 1,1-1,1 1,1 2,4 1-3 2,1 0-3 4-2-3,0-5-2 3-5-5-2-2,2zM553,-211l0,2 2-1 0,2 0-2-1-6zM574,-206l1,0 1-4-3,2zM606,-208l-3,3 6,6 0-2 5-3-4-4zM600,-199l2-2-2-1 2-5-9,4zM512,-201l-2-1-3,4 3,2zM497,-200l0,6 4,4 0-3 3-2-3-6-2-1zM507,-188l-2-2-2,4 5,4 1-1-2,0zM551,-130l2,0-2-20-3,0zM673,-125l-2-25-3,0 3,25zM682,-26l-1,0-1,4 6,1 0-5-1,0 3,0 1-4-2-3-2-1-3,1-2,4 2,1zM670,-28l3,2 1-1 2,0-2,5 0,3-2,1-2-3 2-4-4,3 0,4-3,1 2,6 4-1 1,5 6-4 1,6 2,3 7,0 1-3 3-3-1-3-2-2 1-1-1-1 0-3 1-1-1,2 3-2 3-6-5-3 1,2-3,0 1,8-2-1-2,3-1,0-1,0-3,4-3-5 0-2-2-1 2-2-1-5 1,1 1-4-2,2-3-5 0,2-3,0zM696,-15l1-1 2,5 4-3 0,1 3,1 1-2-1-4 4-1-3-2 2-1-2,0 1-2-2,0 1-2 5-1 0-1-5,0 0-1 6-4 0-9-13,3 3,3-1,5 2,3-2,5-3,1 4,4-1,1-5-6 0,3-1,0-1-2-2,4 3,1zM604,283l10-3 7-8 4-2-2-1 3-5-9,2-7,7-6,2 2,0-11,13zM520,296l7-1 3-2 2,0-2-8-22,1 1,2-2,0 0,2 4,5 6,1 1,2zM671,311l7-5 7-9 5-9-7,2-6,7 0,3-3,0-9,14 3-1-2,5zM698,-312l0,4 1,3 6-9-2,1 0-2-2-5 2,0 0-2-3,0 0,3-3,2 4,5zM723,-313l4,0 2-2-2-2-2-2-3,4-1,0 0,3 1,1 1-3zM724,-302l1-5-1-5 0,2-4,0 1,3-1,1zM704,-310l0,8 2,7 3-7zM723,-301l0,5 2-2 0,2 1-3zM700,-299l1,1 0,1 1,1 2-4-1-1zM714,-298l-2,0 2,1 0,3 3-5-3,0zM714,-281l-3-7-5,4 4,9zM719,-278l3,6 0,2 1,0 1,2 0-3 4-4-3-5-2,2-1-2-1,1-1,0zM711,-273l-6,1 2,1-1,0 3,2zM715,-269l-3-3-5,7 6,3 2,5 1-9 2-2-1,1zM724,-266l-2-1-2,3 1,11 5-2-2-12zM711,-261l-2-1 0,2 1,2 2-4zM781,-259l3,7 2-1-1-4 4,1 2,4 3-4-3-3-1,1-1-2 0,1-3,1-2-3-1,4zM757,-259l0,3 2,0 0-3-1-1zM769,-257l-1,1 4,2 1-1 0-1zM712,-259l-1,3 2,5 1-3 0-4zM763,-257l-1,4 1-1 3,0zM800,-251l-1-3-3,2 5,2 0-1zM790,-244l1,4 3-4-2-3 3-4-3-1-3,2 1,1-2,1-1-2-1,6 0,1zM801,-246l-1-3-1,3zM769,-247l-2,3 3,3 3-2zM697,-33l-3,0-1,5 2,0 0,4 4-3 0-4zM798,-19l-3-3-1,3 1,2 1,1zM806,-15l1,1-2,1 3,4 2-3 0-2zM802,-14l-1,6 2-1 0,1 1-9zM790,-6l-3,7 1-1 4,3 0-1-1,4 8-2-5-12-1,4zM807,0l-2-1-1,2 1,1-1,1zM806,18l0-4 3,1-3-5 0-3-2-2-2,5-1,0 0,2 0,2 3,1zM791,13l-2,6 0,1 2,0zM798,25l1-14 0-1-2,1-5,11zM814,21l-2-3 0,4zM796,146l-1-6-1,1-1-3-3,4 3,2-1,1zM782,140l-1,2 0,6 0,2 1,0 1-7 2-1 0-1-3,0zM771,144l2,2 1-3-1,0zM775,142l0,1 0,5 4-2-1-4zM795,149l1,2 3-2-1-5-2,2zM768,146l-2,2 3,1 2-1zM788,147l1,3 2,0 1-1zM776,151l1,2 1,1 1-2-1-3zM790,154l0,1 4,2-1-5-2,0zM719,225l2,0-5-50-2,0zM744,214l13,0 2-9-10-1-9,3 6,3-3,1 5,0zM688,319l1,2 32-25 6-8 16-26-15,7-18,3-8,13-11,6 8,2-12,6 6-2-10,21 11-7z"/>
<g id="land" shape-rendering="crispEdges"><use href="#lp" fill="#cccccc" stroke="#000" stroke-width="1.6"/><path d="M-724.4,68 -725.5,63.5 -726.5,58.9 -727.5,54.4 -723.8,56.7 -721.9,62.3 -720,68 -719.7,72.3 -719.4,76.7 -719.1,81 -721.8,79.3 -723.2,73.7 -724.4,68ZM-754.1,19.3 -751.1,20.4 -749.3,25.9 -747.4,31.4 -745.5,36.8 -744.4,40.8 -743.2,44.8 -742,48.7 -745.6,48.2 -747.7,43.4 -749.7,38.7 -751.7,34 -752.6,29.1 -753.4,24.2 -754.1,19.3ZM-741.6,2.8 -738.1,-2.3 -734.4,-2 -730.6,-1.7 -729.9,2 -729.1,5.7 -731,9.9 -732.9,14.2 -736.6,14.2 -740.4,14.2 -741,8.5 -741.6,2.8ZM-717.4,-24.4 -718.1,-19.6 -718.8,-14.7 -720.3,-15.9 -720.6,-20.7 -720.8,-25.5 -717.4,-24.4ZM-822.2,-72.5 -826.7,-72.5 -826.5,-76.5 -821.5,-76.5 -822.2,-72.5ZM-627.7,-210.8 -629.8,-211.3 -628.7,-215.3 -624.7,-215.9 -627.7,-210.8ZM-635.4,-217.6 -638.8,-218.1 -633,-220.4 -635.4,-217.6ZM-581.4,-246.2 -580.2,-243.4 -578.8,-240.6 -577.9,-235 -584.2,-229.4 -582.6,-223.8 -585.9,-218.1 -589,-212.5 -593,-210.5 -597,-208.5 -600.6,-208.2 -604.3,-208 -606.8,-209.9 -609.4,-211.9 -609.4,-217.6 -606.9,-220.7 -604.3,-223.8 -598.3,-228.8 -599,-233.3 -601,-237.8 -601.3,-243.4 -600.1,-247.1 -599,-250.7 -595.7,-254 -592.5,-257.4 -587.3,-260.2 -582.2,-262.9 -577,-264 -571.9,-265.2 -568.2,-264 -564.4,-262.9 -566.1,-259.6 -567.7,-256.3 -572.4,-255.4 -577.2,-254.6 -582.5,-251.8 -581.4,-246.2ZM-547.9,-251.8 -545.6,-255.4 -543.2,-259 -539.2,-261.3 -535.2,-263.5 -531.3,-262.7 -527.3,-261.8 -529.4,-258.2 -531.5,-254.6 -535.8,-251.8 -540,-249 -544.3,-247.9 -548.5,-246.8 -547.9,-251.8ZM-474.6,-256.3 -474.8,-260.2 -469.2,-262.4 -463.6,-264.6 -459.7,-264.6 -455.8,-264.6 -451.9,-264.6 -448,-264.6 -451.7,-261.8 -456.1,-260.7 -460.6,-259.6 -465,-258.5 -469.5,-257.4 -474.6,-256.3ZM-590.1,-342.4 -586.5,-342.9 -583,-343.5 -583.8,-339.9 -588.6,-337.8 -593.5,-335.7 -596.5,-335.7 -599.5,-335.7 -594.8,-339.1 -590.1,-342.4ZM-562,-347.5 -566,-344.2 -570,-340.9 -573,-340.9 -576,-340.9 -570.5,-345 -565,-349.1 -563.5,-348.3 -562,-347.5ZM550,91.8 547.3,92.9 544.5,88.4 546.7,86.7 550,91.8ZM444.4,-238.9 448.4,-240.3 452.3,-241.7 455.6,-242 458.8,-242.3 455.4,-239.9 451.9,-237.4 448.4,-235 444.9,-235.9 441.3,-236.7 444.4,-238.9ZM-471.5,-239.5 -467.1,-240.6 -462.7,-241.7 -464.9,-238.9 -468.2,-239.2 -471.5,-239.5ZM460.2,-249 464.2,-249 468.3,-249 466.6,-245.1 462.4,-245.1 458.1,-245.1 453.9,-245.1 457.1,-247.1 460.2,-249ZM421.2,-236.7 419.1,-241.7 416.9,-246.8 414.7,-251.8 415.9,-255.7 417.1,-259.6 420.9,-258.5 424.8,-257.4 425.1,-251.8 425.3,-246.2 426.3,-241.5 427.1,-236.7 424.2,-236.7 421.2,-236.7ZM435.4,-249 434.3,-252.4 433.2,-255.7 429.5,-257.9 425.7,-260.2 430.1,-260.4 434.4,-260.7 438.6,-259.6 442.9,-258.5 447.2,-257.4 446,-252.4 445.8,-248.5 445.6,-244.5 442.2,-244 435.4,-249ZM415.5,-262.9 410.5,-264.3 405.4,-265.7 401.3,-264.9 397.3,-264 393.8,-264.3 390.4,-264.6 393.1,-266.8 395.8,-269 398.4,-271.2 401.1,-272.6 403.7,-274 408.9,-272.3 414.1,-270.7 418.5,-267.9 422.9,-265.2 419.2,-264 415.5,-262.9ZM350.6,-285 349.7,-289.1 348.8,-293.2 345.7,-296.4 342.6,-299.7 344.4,-301.3 346.1,-302.9 351.7,-298 357.4,-293.2 358.5,-288.8 359.5,-284.4 355,-284.7 350.6,-285ZM-304.6,-301.3 -309.1,-299.1 -313.6,-297 -318.1,-294.8 -322.8,-292.6 -327.4,-290.4 -325.3,-293.2 -320.9,-295.9 -316.4,-298.6 -310.9,-301.3 -305.5,-304 -300.3,-308.3 -295.2,-312.5 -291.9,-312.5 -296.1,-308.8 -300.3,-305.1 -304.6,-301.3ZM285.1,-333.1 285.2,-330.5 282.4,-329.2 279.6,-327.9 277.1,-328.9 279.8,-330.3 282.4,-331.7 285.1,-333.1ZM266.6,-346 263.9,-343.5 261.3,-340.9 257.3,-340.9 253.3,-340.9 249.4,-340.9 251.1,-343.5 252.8,-346 256.3,-346 259.7,-346 263.1,-346 266.6,-346ZM206.9,-366.1 210.3,-366.9 213.7,-367.6 216.9,-368.8 220.1,-369.9 223.3,-371 226.5,-370.7 229.8,-370.4 233.1,-370.1 233.8,-366.9 234.5,-363.7 231.1,-362.8 227.7,-362 224.3,-361.2 219.9,-362.4 215.6,-363.7 211.2,-364.9 206.9,-366.1Z" fill="#fff" stroke="#000" stroke-width="1.3"/><g clip-path="url(#lc)"><path d="M-524,-443l1048,0 50,20 41,19 44,26 50,35 46,36 32,30 34,39 21,28 20,34 15,37 14,51 6,37 4,45-2,43-5,40-13,51-11,31-21,39-25,37-39,44-39,36-1492,0-44-41-42-50-30-48-17-43-16-65-6-68 6-68 15-62 17-43 27-45 39-48 39-38 56-45 62-41 52-27z" fill="url(#sp1)"/><path d="M-508,-376l84-9 45-17 138-19 54,15 49,4 67,12 64,5 45,19-30,2-39,18-129,10-64,11-58-6-91,16-66,6-54-11-59-16z" fill="url(#sp4)"/><path d="M438,-443l-122,6 28,14 59,12 41,21 34,24 47,28 25,5-15-26 40-26-66-50zM44,-378l4,47 34,11 38-13 51,8 65,48 26,0 7-38-49-21-47-30 6-22-35,3-59-8zM422,-263l-101-30-52-22 9,33 32,16 51,17 100,22 35-5-3-23-28-11zM-490,-187l-1,20 36,9 30-1 42-17 12-28-18-17-36-3-43,14zM-305,-11l0,45 35,0 0-45z" fill="url(#sp2)"/><path d="M-683,-349l-34,24 14,2 4,11 15-3 30-16 52-2 32-8 40-15 14-13 4-9-24-10-34-1-48,13zM251,-381l-72-7-6,22 47,30 93,40 59,19 50,14 43-3 30-16 26,0 8-17-60-39-61-13-24-15-44-22-31,7zM-290,-77l-2,26 25,0 1-26zM496,232l-21,0-25,50-3,27 16,7 20-7-6-16z" fill="url(#sp3)"/><path d="M648.1,2.8 640.5,8.5 625.4,12.5 610.2,17.6 600.2,18.1 585,21.5 575.2,15.3 562.8,14.2 549.9,23.8 535,22.7M600.2,18.1 590.4,8.5 575.5,2.8 565.5,-2.8M606.1,19.3 594.4,34 578.3,51M626.3,13.6 619.7,28.3M640.5,9.1 637.5,22.7M-837.6,34 -823.3,24.4 -818,11.3 -810.7,0 -803,-10.2 -794.7,-11 -790.5,-11.3 -778.1,-5.7 -774.2,-1.7 -773,11.3 -769.6,28.3M-811.7,2.8 -807.6,-19.8 -794.9,-24.4M-819.2,18.1 -805,22.7 -794.4,31.2M-869.8,-25.5 -864.7,-43.6 -877.8,-66.9 -886.1,-76.5 -890.5,-90.7M874.6,-95.2 868.2,-79.3 854.8,-70.8M-864.7,-44.2 -847.8,-48.2 -832.4,-52.7M-712.5,-177.9 -721.1,-153 -716,-144.5 -717.8,-136 -727.4,-124.7 -733.6,-107.7 -721.9,-104.8 -727.3,-90.7 -730.2,-88.4 -732.9,-68 -742.5,-53.8 -742.1,-28.3 -742.9,-14.2M-402.2,-368.6 -417.6,-366.1 -433.4,-361.2 -450.8,-346 -439.4,-340.9 -423.6,-340.9 -409.7,-338.3 -405.3,-327.9 -403.6,-312M-439.4,-340.9 -449.8,-327.9 -447.1,-309.3 -442.4,-304M-344.3,-392.5 -340,-383.1 -348,-366.1 -356.6,-327.9 -360.5,-314.7 -373.8,-298.6M-184.8,-397.1 -197.8,-385.5 -207.2,-373.5 -198,-346 -218.8,-338.3 -239.8,-335.7 -269,-333.1 -294.4,-322.6 -310.5,-306.7M-165.6,-298.6 -183.9,-285 -197.5,-274 -216,-270.1 -228,-282.2 -237.8,-298.6 -254.8,-298.6M-588.5,-260.2 -588,-274 -592.6,-276.8 -577.9,-290.4 -558.5,-298.6 -545.1,-312 -562.1,-316.3 -572.5,-322.6M-279.7,-178.5 -296.4,-178.5 -312.3,-170 -326.7,-170 -345.3,-172.8 -361.4,-164.3M-440.4,-127.5 -448,-141.7 -466.9,-144.5 -485.2,-150.2M-439.2,-136 -437.2,-147.3 -416.8,-153M-549,-136 -541.7,-147.3 -522.8,-172.8 -513.5,-187M163.7,-380.7 170.2,-373.5 206.4,-358.7 220.4,-348.6 237.1,-341.9M62.2,-350.1 78.4,-346 84.1,-358.7 135.4,-366.1 149.1,-358.7M575.5,192.7 572.6,181.3 580.7,164.3 588.3,154.7 596.1,143.4 598.6,124.7 603.2,107.7M593.3,-51 568.9,-42.5 561.9,-34M-708.1,104.8 -716.3,96.3 -727.5,89.5 -739.8,89.5 -749,93.5 -759.6,101.4M-674.2,-255.7 -680.5,-256.3 -688,-249 -700.5,-247.3 -708.5,-251.8 -715.4,-254.6 -718.6,-259 -709.7,-270.1 -717.6,-271.2M-68.7,-383.1 -81,-375.9 -100.5,-371 -114.1,-361.2M-106.2,-391.6 -119.4,-383.1 -130.2,-371 -142.1,-356.2M-155.4,-392.5 -163.7,-380.7 -182.3,-371" fill="none" stroke="#000" stroke-width="1.1"/></g><path d="M-710.5,-326.8 -686,-346 -630.1,-366.1 -596.7,-380.7 -579,-385.5 -564.1,-388.3 -547.2,-390.2 -538.5,-388.8M484.6,237.8 476,249 459.9,274 451.6,293.2 452.6,301.3 457.4,306.7 463.1,310.4 469.8,312.5" fill="none" stroke="#000" stroke-width="3.0" stroke-linejoin="round" stroke-dasharray="5,2,3,1.5,7,2"/><path d="M243.5,-274 234.5,-282.2 223.4,-290.4 213.6,-301.3 204.8,-309.3 193.9,-317.3 184,-322.6 176.3,-327.9 162.3,-334.2M491.7,-356.2 473.3,-368.6 464.7,-378.3 434.1,-397.1 417.4,-406.2M566.2,-386.9 550.9,-392.5 542.9,-406.2 530.2,-414.9 514.9,-423.4M538.3,-348.6 532.3,-361.2 541.7,-366.1 544.7,-375.9 559.9,-378.3 564.6,-385.5M-295.4,-76.5 -281.1,-65.2 -276.4,-59.5 -281.6,-53.8M-284.3,47.6 -274.4,46.5 -254.5,42.5 -244.6,39.7M-280.2,10.2 -270.2,10.2 -260.2,11.3 -250.2,8.5M453.3,356.2 461.8,351.1 478.2,346 488.5,343.5M286.4,-408.4 296.4,-414.9 310.4,-417.1 331.9,-412.8M199.1,-412.8 220.4,-419.2 239.1,-423.4 263.6,-421.3M235.8,-408.4 267.5,-410.6 288.4,-406.2" fill="none" stroke="#000" stroke-width="2.5" stroke-linejoin="round" stroke-dasharray="5,2,3,1.5,7,2"/><path d="M8.6,-292.1 25.6,-294.2 42.5,-297.5 59.1,-302.9 71.2,-308.3M-153.2,-250.1 -124.1,-265.7 -113.7,-276.8 -103.9,-285M718.9,-314.7 708.5,-326.8M-119.8,39.7 -109.8,45.3 -89.6,59.5M-66.9,82.2 -61.8,90.7 -51.6,112.2M587.4,-99.2 587.7,-87.8 590.7,-76.5 589.2,-68M-728.1,-212.5 -722,-206.8 -717.3,-206.8M496.1,-144.5 521.2,-127.5M119,-113.3 115.4,-117.9 100.4,-124.7" fill="none" stroke="#000" stroke-width="2.0" stroke-linejoin="round" stroke-dasharray="5,2,3,1.5,7,2"/></g>
<path id="cov1" d="M-519.6,444.6l1039.2,0 35.2-13.3 35.5-15.2 20.1-9.8 20.8-11.2 23-13.9 22.1-14.5 25.1-17.7 23.7-17.7 22.7-18.3 18.6-16.1 14.3-13.6 15.6-16.3 19.3-22.1 13.4-16.7 10.1-14.2 10.8-16.9 9.7-16.9 8.3-16.9 4.8-11.3 5-14.1-12,18-13.1,17 2.8-26.1 .4-25.6 11.3-27.1 7-18.4 6.9-21 7.2-25.6 2.5,32.2 .1,15.7-.6,15 4-19.1 3.2-21.9 3.1-38.3-1.2,.3 1.2-.3 .3-11.3-.6-19.7-1.7-22.6-2.4-19.7-2.9-17.4-4.4-19.8-8.1-30.4-5.4-16.9-5.6-14.1-6.9-14.8-8.8-16.2-10.3-16.9-9.6-14.1-10.6-14-13.9-16.7-15.3-17.3-13.2-13.8-14.3-13.5-15.9-13.9-18.8-15.4-19.9-15.4-42.9-30.2-20.3-13-18.7-11.2-22.7-12.2-25.5-11.9-31.8-13.4-30.7-11.5-1039.2,0-26.1,9.7-30.6,12.6-24.5,11.2-21,10.7-22.6,13.1-24.5,15.7-25.8,17.7-25.1,18.5-21.6,17-20.3,17.3-17.4,16.2-15.2,15.7-20.1,22.9-15.6,19.5-13.2,18.9-12,19.8-9.3,17.6-8.4,19.1-5.9,16.9-6.5,23.2-6.2,24.8-3.7,19.8-2.9,22.5-2.1,25.9-.6,22.5 .3,8.5 .9-.2-.9,.2 .3,5.5 2.2,27.3 2.9,21.9 4.9,24.6 12.3,29.2 .2,16.7 3.9,11.3 7.2,16.9 8.6,16.9 9.8,16.9 11,16.9 10.2,14 11.4,14.1 16.8,19.4 15.3,16.3 14.1,13.6 15.3,13.5 19,15.7 20.2,15.7 24,17.5 21.6,14.8 18.9,12.2 20.2,12 22.3,12 25.8,12.2 31.9,13.3zM-815.5,-185.2l20.8-22.2-5.6,30.8-9.3,15.7-8.3,15.7-7.2,15.8-11,26.4 3-30.8 4.5-23.7 5.7-19.1zM558.8,-176.6l2.8,18.3 1.5,15.8 .9,39.5-14.1-41.3-13.7-32.3-.1-30.8 11.7,15.3zM-385.8,103.3l12,42.1 10.5,31.2-3.5,30.8-19.1-30.8-1.4-32.5zM680.1,-176.6l4.5,20.9 2.2,15.8 2.2,36.9-15.8-41.3-7.2-15.8-8.5-16.5-2.7-30.8 13.1,15.3zM638.9,121.2l-15.4,29.5-14,22.2-.4-26.1-1.8-25.6 15.2-45.5 12.5-46.6 3.2,29.5 1.3,29zM483.3,120.4l13.4-44.7 10.6-42.1 1.9,1.3 3.5,31.6 1.5,23.7 .5,31-12.7,26.9-14.1,24.8-1.4-20.9zM431.9,-29.1l-12.6-52.1-11.3-40 4-28 2.6-23.7 13,24.5 12.1,27.2-.9,26-1.4,21-2.2,21.1zM-314.7,-172.9l8.8,51.7-11.8,47-10.1,45.1-6.3-46.9-3.4-45.2 10.3-25.4zM-261,103l10.4,42.4 8.6,31.2-6,30.8-16.6-30.8 .6-32.5zM-193.1,-172.9l11.5,51.7-19.6,92.1-7.1-46.9-4.9-45.2 9.2-25.4zM-136,103l15.2,73.6-8.5,30.8-14-30.8 2.5-32.5zM801.3,-176.6l6.5,23.5 2.4,13.2 3.7,36.9-17.5-41.3-8.1-15.8-9.6-16.5-5.1-30.8 14.4,15.3zM763.2,121.2l-16.7,29.5-15.5,22.2 1.3-26.1-.8-25.6 16.8-45.5 6.4-21 6.9-25.6 2.9,32.2 .4,28.9zM-71.6,-172.9l14.2,51.7-17.2,92.1-7.9-46.9-6.5-45.2 8.1-25.4zM-11.1,103l11.6,73.6-11.1,30.8-11.5-30.8zM50,-172.9l16.9,51.7-7,47-7.8,45.1-16.8-92.1zM113.8,103l5.5,45 2.5,28.6-13.6,30.8-9-30.8zM-687.3,-160.9l-10.8,23.6-13.1,34.3 1.4-25.5 1.6-15.8 2.6-15.8 4-16.5 13-16.3 12.7-14.5-3.1,30.8zM-753.6,121.2l-.4,32.1 1.4,19.6-9.6-13.2-8.6-12.9-14.5-25.6-1.8-27.1-.3-18.4 .8-21 2.5-25.6 6.6,24.3 6.4,21 6.5,18.4zM171.5,-172.9l11.9,29.7 7.8,22-5.5,47-7,45.1-19.2-92.1zM238.8,103l3.5,45 .8,28.6-16.2,30.8-6.4-30.8 8.6-32.5zM-566.1,-158.3l-8.4,21-11.7,34.3 .4-25.5 .9-15.8 1.7-15.8 2.9-16.5 11.7-16.3 11.4-14.5-.6,30.8zM-629.4,121.2l-1.8,34.7 .1,17-16.5-26.1-13.4-25.6-.8-27.1 .2-18.4 1.3-21 2.8-25.6 12.3,45.3zM293,-172.9l14.8,32.3 7.6,19.4-3.8,47-6.3,45.1-10.4-46.9-11.1-45.2zM363.7,103l1.7,45-1.1,28.6-18.6,30.8-4-30.8 10.6-32.5zM-444.6,-155.7l-7.1,21.1-9.6,31.6-.4-41.3 .9-15.8 1.7-16.5 20.7-30.8 1.9,30.8zM-507.3,140.3l-2.2,32.6-15-26.1-12.2-25.6 .1-27.1 .8-18.4 1.7-21 3.2-25.6 11.5,45.3 14.3,46.8z" fill-rule="evenodd" clip-rule="evenodd"/>
<clipPath id="covclip"><use href="#cov1"/></clipPath>
<g id="msk" shape-rendering="crispEdges"><use href="#lp" fill="none" stroke-width="4.6"/><path d="M575.6,-392.5l-12.3-13.7 .9-6.6-.3-6.4-4.3-6.2-18.2-5.1-46.4,0 23.7,15.6 11,11 10.4,13.7-12.5,9.5-12.2,14.6 8.5,15 2.6,10.2 13.1,7.3 10,0-1.7-7.3-5.5-15.3 3.2-5 10.7-9.8 9.9-2.5 6.6-3.4 4.4-4.8 1.4-2.8 .8-1.9zM-535.1,-355.2l28.1-18.3-1.6-4.8-24.3,4.8-14.8,0-8.3,19.9zM-613.2,-351.1l22.7-7.6 10.4-7.4-14.3,0-15.2,7.4-9.4,7.6zM-54.2,-333.6l10.1,0 8.3-5.2 20.1-5.2 15.7,0 19.8,3.6 53.3,14.1 16.5,1 8.4-20.7 55.7-10.2 89.8,11.1 84.2,9.4 8,0 15.3,26.4 12.5,24.3 69.3,0 4.5,8.2 49.7,1.6-2.7,4 6.1,11 48.1,2.3-7.6-10.6-.6-3.5 9.5,5.2 7.8-1.7-1.1-21.9-15.6-10.9-19.1-10.7-21.2-13.3-15.3-13-3.3-10.3-2.5-12.6-18.7-14.7-20.9-14.3-18.1-13.7-16.9-8.9-24.1-3.3 8.5-5.2 2.9-11.8 22.4-4.2 42-1.4 70.5,7.1 39.8,1.1-40.6-15.3-1032.6,0-40.6,15.3 31.9-.3 16.8,.7 13.6,2.3 10.8,4 17.7,2.5 42.7,3.4 6.5,4.3-3.8,6.1-26.7,12.7-8.5,5.6-13.8,5.6-20.1,4.8-10,3.9-10,3.9-12.1,7.3 3.3,7.5 39,20.5 299.8,0-11.3,37.1 12.4-2.1 13.2-15 10.2-7.5 13.3-4.2 16.4-.5 11.8,1.6 12.2,0 8.5-7.3 3.9-2.1 2.4,0-12.6,21-3.2,27 3.1,2.2 12.2-10.9 7.4-9.2 9-4.8 6-9.6 1-9.5zM-592.9,-339.9l-13.9,0-8.1,7.3 14,0zM-162.8,-266.8l9-6.1 2.1-6.6-1.1-23.4-11.2,1.1-7.1,38.9 4.2,3.9 4.8-2.3zM-590.7,-266.8l-10.9,16.7 31.5,0 10.4-16.7zM-534.5,370.6l-70,7.2-27.1-.9-33.8-2.9 34.1,21 29.4,15.6 41.8,18.5 43.8,16.7 1032.6,0 43.8-16.7 41.8-18.5 29.4-15.6 34.1-21-13.7-5.9-9-9.9-11.4-9.1-18.9-7.2-23.2-4.1-30.7-1.1-33,1.1-25.8,2.1-40,7.1-46.5,11.2-35.4,6-40,2.9-77.3,3.9-37.7,1-36.3-1.9-37-1-73.8-5.9-37.7-2-68.4,1-122.9-5-38.8-1-38.4,0-78.7-3.1-60.2,2.3-50.6,3.8-66.6,2-21.2,4.9zM-7.1,388.3l17.6,6.5-3.8,13.6-19.9,6.5-17.1-6.5 1.9-18.2zM18.6,372l55.5,1 17.7,3.9-37,1.9-36.4-1.9z" stroke="none"/></g>
<path id="grat" d="M-719.4,335.7 H719.4M-864.8,170 H864.8M-900.8,-0 H900.8M-864.8,-170 H864.8M-719.4,-335.7 H719.4M-343.6,446.1 -357.9,438.3 -373.1,429.3 -388.9,419.2 -404.3,408.4 -418.4,397.1 -431.5,385.5 -444.1,373.5 -456.2,361.2 -468.1,348.6 -479.6,335.7 -490.7,322.6 -501.4,309.3 -511.7,295.9 -521.2,282.2 -530,268.5 -538.2,254.6 -546.1,240.6 -553.5,226.6 -560.1,212.5 -566.1,198.3 -571.6,184.2 -576.5,170 -580.8,155.8 -584.3,141.7 -587.3,127.5 -589.8,113.3 -592.3,99.2 -594.5,85 -596.3,70.8 -597.8,56.7 -598.9,42.5 -599.7,28.3 -600.3,14.2 -600.5,-0 -600.3,-14.2 -599.7,-28.3 -598.9,-42.5 -597.8,-56.7 -596.3,-70.8 -594.5,-85 -592.3,-99.2 -589.8,-113.3 -587.3,-127.5 -584.3,-141.7 -580.8,-155.8 -576.5,-170 -571.6,-184.2 -566.1,-198.3 -560.1,-212.5 -553.5,-226.6 -546.1,-240.6 -538.2,-254.6 -530,-268.5 -521.2,-282.2 -511.7,-295.9 -501.4,-309.3 -490.7,-322.6 -479.6,-335.7 -468.1,-348.6 -456.2,-361.2 -444.1,-373.5 -431.5,-385.5 -418.4,-397.1 -404.3,-408.4 -388.9,-419.2 -373.1,-429.3 -357.9,-438.3 -343.6,-446.1M-171.8,446.1 -178.9,438.3 -186.6,429.3 -194.5,419.2 -202.1,408.4 -209.2,397.1 -215.8,385.5 -222,373.5 -228.1,361.2 -234,348.6 -239.8,335.7 -245.4,322.6 -250.7,309.3 -255.8,295.9 -260.6,282.2 -265,268.5 -269.1,254.6 -273,240.6 -276.7,226.6 -280.1,212.5 -283.1,198.3 -285.8,184.2 -288.3,170 -290.4,155.8 -292.2,141.7 -293.6,127.5 -294.9,113.3 -296.2,99.2 -297.3,85 -298.2,70.8 -298.9,56.7 -299.4,42.5 -299.8,28.3 -300.1,14.2 -300.3,-0 -300.1,-14.2 -299.8,-28.3 -299.4,-42.5 -298.9,-56.7 -298.2,-70.8 -297.3,-85 -296.2,-99.2 -294.9,-113.3 -293.6,-127.5 -292.2,-141.7 -290.4,-155.8 -288.3,-170 -285.8,-184.2 -283.1,-198.3 -280.1,-212.5 -276.7,-226.6 -273,-240.6 -269.1,-254.6 -265,-268.5 -260.6,-282.2 -255.8,-295.9 -250.7,-309.3 -245.4,-322.6 -239.8,-335.7 -234,-348.6 -228.1,-361.2 -222,-373.5 -215.8,-385.5 -209.2,-397.1 -202.1,-408.4 -194.5,-419.2 -186.6,-429.3 -178.9,-438.3 -171.8,-446.1M0,446.1 0,438.3 0,429.3 0,419.2 0,408.4 0,397.1 0,385.5 0,373.5 0,361.2 0,348.6 0,335.7 0,322.6 0,309.3 0,295.9 0,282.2 0,268.5 0,254.6 0,240.6 0,226.6 0,212.5 0,198.3 0,184.2 0,170 0,155.8 0,141.7 0,127.5 0,113.3 0,99.2 0,85 0,70.8 0,56.7 0,42.5 0,28.3 0,14.2 0,-0 0,-14.2 0,-28.3 0,-42.5 0,-56.7 0,-70.8 0,-85 0,-99.2 0,-113.3 0,-127.5 0,-141.7 0,-155.8 0,-170 0,-184.2 0,-198.3 0,-212.5 0,-226.6 0,-240.6 0,-254.6 0,-268.5 0,-282.2 0,-295.9 0,-309.3 0,-322.6 0,-335.7 0,-348.6 0,-361.2 0,-373.5 0,-385.5 0,-397.1 0,-408.4 0,-419.2 0,-429.3 0,-438.3 0,-446.1M171.8,446.1 178.9,438.3 186.6,429.3 194.5,419.2 202.1,408.4 209.2,397.1 215.8,385.5 222,373.5 228.1,361.2 234,348.6 239.8,335.7 245.4,322.6 250.7,309.3 255.8,295.9 260.6,282.2 265,268.5 269.1,254.6 273,240.6 276.7,226.6 280.1,212.5 283.1,198.3 285.8,184.2 288.3,170 290.4,155.8 292.2,141.7 293.6,127.5 294.9,113.3 296.2,99.2 297.3,85 298.2,70.8 298.9,56.7 299.4,42.5 299.8,28.3 300.1,14.2 300.3,-0 300.1,-14.2 299.8,-28.3 299.4,-42.5 298.9,-56.7 298.2,-70.8 297.3,-85 296.2,-99.2 294.9,-113.3 293.6,-127.5 292.2,-141.7 290.4,-155.8 288.3,-170 285.8,-184.2 283.1,-198.3 280.1,-212.5 276.7,-226.6 273,-240.6 269.1,-254.6 265,-268.5 260.6,-282.2 255.8,-295.9 250.7,-309.3 245.4,-322.6 239.8,-335.7 234,-348.6 228.1,-361.2 222,-373.5 215.8,-385.5 209.2,-397.1 202.1,-408.4 194.5,-419.2 186.6,-429.3 178.9,-438.3 171.8,-446.1M343.6,446.1 357.9,438.3 373.1,429.3 388.9,419.2 404.3,408.4 418.4,397.1 431.5,385.5 444.1,373.5 456.2,361.2 468.1,348.6 479.6,335.7 490.7,322.6 501.4,309.3 511.7,295.9 521.2,282.2 530,268.5 538.2,254.6 546.1,240.6 553.5,226.6 560.1,212.5 566.1,198.3 571.6,184.2 576.5,170 580.8,155.8 584.3,141.7 587.3,127.5 589.8,113.3 592.3,99.2 594.5,85 596.3,70.8 597.8,56.7 598.9,42.5 599.7,28.3 600.3,14.2 600.5,-0 600.3,-14.2 599.7,-28.3 598.9,-42.5 597.8,-56.7 596.3,-70.8 594.5,-85 592.3,-99.2 589.8,-113.3 587.3,-127.5 584.3,-141.7 580.8,-155.8 576.5,-170 571.6,-184.2 566.1,-198.3 560.1,-212.5 553.5,-226.6 546.1,-240.6 538.2,-254.6 530,-268.5 521.2,-282.2 511.7,-295.9 501.4,-309.3 490.7,-322.6 479.6,-335.7 468.1,-348.6 456.2,-361.2 444.1,-373.5 431.5,-385.5 418.4,-397.1 404.3,-408.4 388.9,-419.2 373.1,-429.3 357.9,-438.3 343.6,-446.1" fill="none" stroke="#000" stroke-width="0.8" stroke-dasharray="1,4.5" shape-rendering="crispEdges"/>
<g id="frame" shape-rendering="crispEdges"><path d="M-515.4,-446.1 -523.8,-443.1 -532.4,-440 -541.3,-436.6 -550.4,-433.1 -559.7,-429.3 -569.1,-425.4 -578.6,-421.3 -588.1,-417.1 -597.4,-412.8 -606.4,-408.4 -615.1,-403.9 -623.5,-399.4 -631.7,-394.8 -639.6,-390.2 -647.3,-385.5 -654.9,-380.7 -662.4,-375.9 -669.8,-371 -677.1,-366.1 -684.3,-361.2 -691.5,-356.2 -698.6,-351.1 -705.6,-346 -712.5,-340.9 -719.4,-335.7 -726.1,-330.5 -732.8,-325.3 -739.4,-320 -745.8,-314.7 -752.2,-309.3 -758.4,-304 -764.5,-298.6 -770.4,-293.2 -776.2,-287.7 -781.8,-282.2 -787.2,-276.8 -792.4,-271.2 -797.5,-265.7 -802.4,-260.2 -807.3,-254.6 -812.1,-249 -816.8,-243.4 -821.4,-237.8 -825.9,-232.2 -830.2,-226.6 -834.3,-220.9 -838.2,-215.3 -842,-209.7 -845.7,-204 -849.2,-198.3 -852.6,-192.7 -855.8,-187 -859,-181.3 -861.9,-175.7 -864.8,-170 -867.4,-164.3 -869.9,-158.7 -872.3,-153 -874.5,-147.3 -876.5,-141.7 -878.3,-136 -880.1,-130.3 -881.7,-124.7 -883.2,-119 -884.8,-113.3 -886.3,-107.7 -887.7,-102 -889.2,-96.3 -890.5,-90.7 -891.8,-85 -893,-79.3 -894,-73.7 -895,-68 -895.9,-62.3 -896.7,-56.7 -897.4,-51 -898,-45.3 -898.6,-39.7 -899.1,-34 -899.5,-28.3 -899.9,-22.7 -900.3,-17 -900.6,-11.3 -900.7,-5.7 -900.8,-0 -900.7,5.7 -900.6,11.3 -900.3,17 -899.9,22.7 -899.5,28.3 -899.1,34 -898.6,39.7 -898,45.3 -897.4,51 -896.7,56.7 -895.9,62.3 -895,68 -894,73.7 -893,79.3 -891.8,85 -890.5,90.7 -889.2,96.3 -887.7,102 -886.3,107.7 -884.8,113.3 -883.2,119 -881.7,124.7 -880.1,130.3 -878.3,136 -876.5,141.7 -874.5,147.3 -872.3,153 -869.9,158.7 -867.4,164.3 -864.8,170 -861.9,175.7 -859,181.3 -855.8,187 -852.6,192.7 -849.2,198.3 -845.7,204 -842,209.7 -838.2,215.3 -834.3,220.9 -830.2,226.6 -825.9,232.2 -821.4,237.8 -816.8,243.4 -812.1,249 -807.3,254.6 -802.4,260.2 -797.5,265.7 -792.4,271.2 -787.2,276.8 -781.8,282.2 -776.2,287.7 -770.4,293.2 -764.5,298.6 -758.4,304 -752.2,309.3 -745.8,314.7 -739.4,320 -732.8,325.3 -726.1,330.5 -719.4,335.7 -712.5,340.9 -705.6,346 -698.6,351.1 -691.5,356.2 -684.3,361.2 -677.1,366.1 -669.8,371 -662.4,375.9 -654.9,380.7 -647.3,385.5 -639.6,390.2 -631.7,394.8 -623.5,399.4 -615.1,403.9 -606.4,408.4 -597.4,412.8 -588.1,417.1 -578.6,421.3 -569.1,425.4 -559.7,429.3 -550.4,433.1 -541.3,436.6 -532.4,440 -523.8,443.1 -515.4,446.1 515.4,446.1 523.8,443.1 532.4,440 541.3,436.6 550.4,433.1 559.7,429.3 569.1,425.4 578.6,421.3 588.1,417.1 597.4,412.8 606.4,408.4 615.1,403.9 623.5,399.4 631.7,394.8 639.6,390.2 647.3,385.5 654.9,380.7 662.4,375.9 669.8,371 677.1,366.1 684.3,361.2 691.5,356.2 698.6,351.1 705.6,346 712.5,340.9 719.4,335.7 726.1,330.5 732.8,325.3 739.4,320 745.8,314.7 752.2,309.3 758.4,304 764.5,298.6 770.4,293.2 776.2,287.7 781.8,282.2 787.2,276.8 792.4,271.2 797.5,265.7 802.4,260.2 807.3,254.6 812.1,249 816.8,243.4 821.4,237.8 825.9,232.2 830.2,226.6 834.3,220.9 838.2,215.3 842,209.7 845.7,204 849.2,198.3 852.6,192.7 855.8,187 859,181.3 861.9,175.7 864.8,170 867.4,164.3 869.9,158.7 872.3,153 874.5,147.3 876.5,141.7 878.3,136 880.1,130.3 881.7,124.7 883.2,119 884.8,113.3 886.3,107.7 887.7,102 889.2,96.3 890.5,90.7 891.8,85 893,79.3 894,73.7 895,68 895.9,62.3 896.7,56.7 897.4,51 898,45.3 898.6,39.7 899.1,34 899.5,28.3 899.9,22.7 900.3,17 900.6,11.3 900.7,5.7 900.8,-0 900.7,-5.7 900.6,-11.3 900.3,-17 899.9,-22.7 899.5,-28.3 899.1,-34 898.6,-39.7 898,-45.3 897.4,-51 896.7,-56.7 895.9,-62.3 895,-68 894,-73.7 893,-79.3 891.8,-85 890.5,-90.7 889.2,-96.3 887.7,-102 886.3,-107.7 884.8,-113.3 883.2,-119 881.7,-124.7 880.1,-130.3 878.3,-136 876.5,-141.7 874.5,-147.3 872.3,-153 869.9,-158.7 867.4,-164.3 864.8,-170 861.9,-175.7 859,-181.3 855.8,-187 852.6,-192.7 849.2,-198.3 845.7,-204 842,-209.7 838.2,-215.3 834.3,-220.9 830.2,-226.6 825.9,-232.2 821.4,-237.8 816.8,-243.4 812.1,-249 807.3,-254.6 802.4,-260.2 797.5,-265.7 792.4,-271.2 787.2,-276.8 781.8,-282.2 776.2,-287.7 770.4,-293.2 764.5,-298.6 758.4,-304 752.2,-309.3 745.8,-314.7 739.4,-320 732.8,-325.3 726.1,-330.5 719.4,-335.7 712.5,-340.9 705.6,-346 698.6,-351.1 691.5,-356.2 684.3,-361.2 677.1,-366.1 669.8,-371 662.4,-375.9 654.9,-380.7 647.3,-385.5 639.6,-390.2 631.7,-394.8 623.5,-399.4 615.1,-403.9 606.4,-408.4 597.4,-412.8 588.1,-417.1 578.6,-421.3 569.1,-425.4 559.7,-429.3 550.4,-433.1 541.3,-436.6 532.4,-440 523.8,-443.1 515.4,-446.1ZM-882.6,-0 -882.5,-5.6 -882.4,-11.3 -882.1,-16.9 -881.8,-22.6 -881.4,-28.2 -880.9,-33.9 -880.4,-39.5 -879.9,-45.1 -879.2,-50.8 -878.6,-56.4 -877.8,-62.1 -876.9,-67.7 -876,-73.4 -875,-79 -873.8,-84.7 -872.6,-90.3 -871.3,-95.9 -869.9,-101.6 -868.5,-107.2 -867,-112.9 -865.5,-118.5 -864,-124.2 -862.4,-129.8 -860.7,-135.4 -858.9,-141.1 -857,-146.7 -854.9,-152.4 -852.6,-158 -850.2,-163.7 -847.6,-169.3 -844.9,-175 -842,-180.6 -838.9,-186.2 -835.8,-191.9 -832.5,-197.5 -829.1,-203.2 -825.6,-208.8 -821.9,-214.4 -818.1,-220 -814.1,-225.7 -809.9,-231.3 -805.6,-236.9 -801.1,-242.4 -796.5,-248 -791.8,-253.6 -787.1,-259.1 -782.3,-264.6 -777.4,-270.1 -772.3,-275.6 -767.1,-281.1 -761.7,-286.6 -756.1,-292 -750.3,-297.4 -744.4,-302.8 -738.3,-308.1 -732.2,-313.5 -725.9,-318.7 -719.5,-324 -713,-329.2 -706.5,-334.4 -699.8,-339.6 -693.1,-344.7 -686.2,-349.8 -679.3,-354.8 -672.4,-359.8 -665.3,-364.8 -658.2,-369.7 -651.1,-374.6 -643.8,-379.4 -636.4,-384.1 -628.9,-388.8 -621.2,-393.4 -613.3,-398 -601,-402.1 -588.7,-406 -576.3,-409.8 -564,-413.3 -551.7,-416.7 -539.3,-419.9 -527,-423 -514.7,-425.9 -502.3,-428.7 -490,-431.3 -477.7,-433.6 -465.3,-435.4 -453,-437 453,-437 465.3,-435.4 477.7,-433.6 490,-431.3 502.3,-428.7 514.7,-425.9 527,-423 539.3,-419.9 551.7,-416.7 564,-413.3 576.3,-409.8 588.7,-406 601,-402.1 613.3,-398 621.2,-393.4 628.9,-388.8 636.4,-384.1 643.8,-379.4 651.1,-374.6 658.2,-369.7 665.3,-364.8 672.4,-359.8 679.3,-354.8 686.2,-349.8 693.1,-344.7 699.8,-339.6 706.5,-334.4 713,-329.2 719.5,-324 725.9,-318.7 732.2,-313.5 738.3,-308.1 744.4,-302.8 750.3,-297.4 756.1,-292 761.7,-286.6 767.1,-281.1 772.3,-275.6 777.4,-270.1 782.3,-264.6 787.1,-259.1 791.8,-253.6 796.5,-248 801.1,-242.4 805.6,-236.9 809.9,-231.3 814.1,-225.7 818.1,-220 821.9,-214.4 825.6,-208.8 829.1,-203.2 832.5,-197.5 835.8,-191.9 838.9,-186.2 842,-180.6 844.9,-175 847.6,-169.3 850.2,-163.7 852.6,-158 854.9,-152.4 857,-146.7 858.9,-141.1 860.7,-135.4 862.4,-129.8 864,-124.2 865.5,-118.5 867,-112.9 868.5,-107.2 869.9,-101.6 871.3,-95.9 872.6,-90.3 873.8,-84.7 875,-79 876,-73.4 876.9,-67.7 877.8,-62.1 878.6,-56.4 879.2,-50.8 879.9,-45.1 880.4,-39.5 880.9,-33.9 881.4,-28.2 881.8,-22.6 882.1,-16.9 882.4,-11.3 882.5,-5.6 882.6,-0 882.5,5.6 882.4,11.3 882.1,16.9 881.8,22.6 881.4,28.2 880.9,33.9 880.4,39.5 879.9,45.1 879.2,50.8 878.6,56.4 877.8,62.1 876.9,67.7 876,73.4 875,79 873.8,84.7 872.6,90.3 871.3,95.9 869.9,101.6 868.5,107.2 867,112.9 865.5,118.5 864,124.2 862.4,129.8 860.7,135.4 858.9,141.1 857,146.7 854.9,152.4 852.6,158 850.2,163.7 847.6,169.3 844.9,175 842,180.6 838.9,186.2 835.8,191.9 832.5,197.5 829.1,203.2 825.6,208.8 821.9,214.4 818.1,220 814.1,225.7 809.9,231.3 805.6,236.9 801.1,242.4 796.5,248 791.8,253.6 787.1,259.1 782.3,264.6 777.4,270.1 772.3,275.6 767.1,281.1 761.7,286.6 756.1,292 750.3,297.4 744.4,302.8 738.3,308.1 732.2,313.5 725.9,318.7 719.5,324 713,329.2 706.5,334.4 699.8,339.6 693.1,344.7 686.2,349.8 679.3,354.8 672.4,359.8 665.3,364.8 658.2,369.7 651.1,374.6 643.8,379.4 636.4,384.1 628.9,388.8 621.2,393.4 613.3,398 601,402.1 588.7,406 576.3,409.8 564,413.3 551.7,416.7 539.3,419.9 527,423 514.7,425.9 502.3,428.7 490,431.3 477.7,433.6 465.3,435.4 453,437 -453,437 -465.3,435.4 -477.7,433.6 -490,431.3 -502.3,428.7 -514.7,425.9 -527,423 -539.3,419.9 -551.7,416.7 -564,413.3 -576.3,409.8 -588.7,406 -601,402.1 -613.3,398 -621.2,393.4 -628.9,388.8 -636.4,384.1 -643.8,379.4 -651.1,374.6 -658.2,369.7 -665.3,364.8 -672.4,359.8 -679.3,354.8 -686.2,349.8 -693.1,344.7 -699.8,339.6 -706.5,334.4 -713,329.2 -719.5,324 -725.9,318.7 -732.2,313.5 -738.3,308.1 -744.4,302.8 -750.3,297.4 -756.1,292 -761.7,286.6 -767.1,281.1 -772.3,275.6 -777.4,270.1 -782.3,264.6 -787.1,259.1 -791.8,253.6 -796.5,248 -801.1,242.4 -805.6,236.9 -809.9,231.3 -814.1,225.7 -818.1,220 -821.9,214.4 -825.6,208.8 -829.1,203.2 -832.5,197.5 -835.8,191.9 -838.9,186.2 -842,180.6 -844.9,175 -847.6,169.3 -850.2,163.7 -852.6,158 -854.9,152.4 -857,146.7 -858.9,141.1 -860.7,135.4 -862.4,129.8 -864,124.2 -865.5,118.5 -867,112.9 -868.5,107.2 -869.9,101.6 -871.3,95.9 -872.6,90.3 -873.8,84.7 -875,79 -876,73.4 -876.9,67.7 -877.8,62.1 -878.6,56.4 -879.2,50.8 -879.9,45.1 -880.4,39.5 -880.9,33.9 -881.4,28.2 -881.8,22.6 -882.1,16.9 -882.4,11.3 -882.5,5.6Z" fill="#fff" fill-rule="evenodd" stroke="none"/><path d="M-515.4,-446.1 -523.8,-443.1 -532.4,-440 -541.3,-436.6 -550.4,-433.1 -559.7,-429.3 -569.1,-425.4 -578.6,-421.3 -588.1,-417.1 -597.4,-412.8 -606.4,-408.4 -615.1,-403.9 -623.5,-399.4 -631.7,-394.8 -639.6,-390.2 -647.3,-385.5 -654.9,-380.7 -662.4,-375.9 -669.8,-371 -677.1,-366.1 -684.3,-361.2 -691.5,-356.2 -698.6,-351.1 -705.6,-346 -712.5,-340.9 -719.4,-335.7 -726.1,-330.5 -732.8,-325.3 -739.4,-320 -745.8,-314.7 -752.2,-309.3 -758.4,-304 -764.5,-298.6 -770.4,-293.2 -776.2,-287.7 -781.8,-282.2 -787.2,-276.8 -792.4,-271.2 -797.5,-265.7 -802.4,-260.2 -807.3,-254.6 -812.1,-249 -816.8,-243.4 -821.4,-237.8 -825.9,-232.2 -830.2,-226.6 -834.3,-220.9 -838.2,-215.3 -842,-209.7 -845.7,-204 -849.2,-198.3 -852.6,-192.7 -855.8,-187 -859,-181.3 -861.9,-175.7 -864.8,-170 -867.4,-164.3 -869.9,-158.7 -872.3,-153 -874.5,-147.3 -876.5,-141.7 -878.3,-136 -880.1,-130.3 -881.7,-124.7 -883.2,-119 -884.8,-113.3 -886.3,-107.7 -887.7,-102 -889.2,-96.3 -890.5,-90.7 -891.8,-85 -893,-79.3 -894,-73.7 -895,-68 -895.9,-62.3 -896.7,-56.7 -897.4,-51 -898,-45.3 -898.6,-39.7 -899.1,-34 -899.5,-28.3 -899.9,-22.7 -900.3,-17 -900.6,-11.3 -900.7,-5.7 -900.8,-0 -900.7,5.7 -900.6,11.3 -900.3,17 -899.9,22.7 -899.5,28.3 -899.1,34 -898.6,39.7 -898,45.3 -897.4,51 -896.7,56.7 -895.9,62.3 -895,68 -894,73.7 -893,79.3 -891.8,85 -890.5,90.7 -889.2,96.3 -887.7,102 -886.3,107.7 -884.8,113.3 -883.2,119 -881.7,124.7 -880.1,130.3 -878.3,136 -876.5,141.7 -874.5,147.3 -872.3,153 -869.9,158.7 -867.4,164.3 -864.8,170 -861.9,175.7 -859,181.3 -855.8,187 -852.6,192.7 -849.2,198.3 -845.7,204 -842,209.7 -838.2,215.3 -834.3,220.9 -830.2,226.6 -825.9,232.2 -821.4,237.8 -816.8,243.4 -812.1,249 -807.3,254.6 -802.4,260.2 -797.5,265.7 -792.4,271.2 -787.2,276.8 -781.8,282.2 -776.2,287.7 -770.4,293.2 -764.5,298.6 -758.4,304 -752.2,309.3 -745.8,314.7 -739.4,320 -732.8,325.3 -726.1,330.5 -719.4,335.7 -712.5,340.9 -705.6,346 -698.6,351.1 -691.5,356.2 -684.3,361.2 -677.1,366.1 -669.8,371 -662.4,375.9 -654.9,380.7 -647.3,385.5 -639.6,390.2 -631.7,394.8 -623.5,399.4 -615.1,403.9 -606.4,408.4 -597.4,412.8 -588.1,417.1 -578.6,421.3 -569.1,425.4 -559.7,429.3 -550.4,433.1 -541.3,436.6 -532.4,440 -523.8,443.1 -515.4,446.1 515.4,446.1 523.8,443.1 532.4,440 541.3,436.6 550.4,433.1 559.7,429.3 569.1,425.4 578.6,421.3 588.1,417.1 597.4,412.8 606.4,408.4 615.1,403.9 623.5,399.4 631.7,394.8 639.6,390.2 647.3,385.5 654.9,380.7 662.4,375.9 669.8,371 677.1,366.1 684.3,361.2 691.5,356.2 698.6,351.1 705.6,346 712.5,340.9 719.4,335.7 726.1,330.5 732.8,325.3 739.4,320 745.8,314.7 752.2,309.3 758.4,304 764.5,298.6 770.4,293.2 776.2,287.7 781.8,282.2 787.2,276.8 792.4,271.2 797.5,265.7 802.4,260.2 807.3,254.6 812.1,249 816.8,243.4 821.4,237.8 825.9,232.2 830.2,226.6 834.3,220.9 838.2,215.3 842,209.7 845.7,204 849.2,198.3 852.6,192.7 855.8,187 859,181.3 861.9,175.7 864.8,170 867.4,164.3 869.9,158.7 872.3,153 874.5,147.3 876.5,141.7 878.3,136 880.1,130.3 881.7,124.7 883.2,119 884.8,113.3 886.3,107.7 887.7,102 889.2,96.3 890.5,90.7 891.8,85 893,79.3 894,73.7 895,68 895.9,62.3 896.7,56.7 897.4,51 898,45.3 898.6,39.7 899.1,34 899.5,28.3 899.9,22.7 900.3,17 900.6,11.3 900.7,5.7 900.8,-0 900.7,-5.7 900.6,-11.3 900.3,-17 899.9,-22.7 899.5,-28.3 899.1,-34 898.6,-39.7 898,-45.3 897.4,-51 896.7,-56.7 895.9,-62.3 895,-68 894,-73.7 893,-79.3 891.8,-85 890.5,-90.7 889.2,-96.3 887.7,-102 886.3,-107.7 884.8,-113.3 883.2,-119 881.7,-124.7 880.1,-130.3 878.3,-136 876.5,-141.7 874.5,-147.3 872.3,-153 869.9,-158.7 867.4,-164.3 864.8,-170 861.9,-175.7 859,-181.3 855.8,-187 852.6,-192.7 849.2,-198.3 845.7,-204 842,-209.7 838.2,-215.3 834.3,-220.9 830.2,-226.6 825.9,-232.2 821.4,-237.8 816.8,-243.4 812.1,-249 807.3,-254.6 802.4,-260.2 797.5,-265.7 792.4,-271.2 787.2,-276.8 781.8,-282.2 776.2,-287.7 770.4,-293.2 764.5,-298.6 758.4,-304 752.2,-309.3 745.8,-314.7 739.4,-320 732.8,-325.3 726.1,-330.5 719.4,-335.7 712.5,-340.9 705.6,-346 698.6,-351.1 691.5,-356.2 684.3,-361.2 677.1,-366.1 669.8,-371 662.4,-375.9 654.9,-380.7 647.3,-385.5 639.6,-390.2 631.7,-394.8 623.5,-399.4 615.1,-403.9 606.4,-408.4 597.4,-412.8 588.1,-417.1 578.6,-421.3 569.1,-425.4 559.7,-429.3 550.4,-433.1 541.3,-436.6 532.4,-440 523.8,-443.1 515.4,-446.1Z" fill="none" stroke="#000" stroke-width="1"/><path d="M-882.6,-0 -882.5,-5.6 -882.4,-11.3 -882.1,-16.9 -881.8,-22.6 -881.4,-28.2 -880.9,-33.9 -880.4,-39.5 -879.9,-45.1 -879.2,-50.8 -878.6,-56.4 -877.8,-62.1 -876.9,-67.7 -876,-73.4 -875,-79 -873.8,-84.7 -872.6,-90.3 -871.3,-95.9 -869.9,-101.6 -868.5,-107.2 -867,-112.9 -865.5,-118.5 -864,-124.2 -862.4,-129.8 -860.7,-135.4 -858.9,-141.1 -857,-146.7 -854.9,-152.4 -852.6,-158 -850.2,-163.7 -847.6,-169.3 -844.9,-175 -842,-180.6 -838.9,-186.2 -835.8,-191.9 -832.5,-197.5 -829.1,-203.2 -825.6,-208.8 -821.9,-214.4 -818.1,-220 -814.1,-225.7 -809.9,-231.3 -805.6,-236.9 -801.1,-242.4 -796.5,-248 -791.8,-253.6 -787.1,-259.1 -782.3,-264.6 -777.4,-270.1 -772.3,-275.6 -767.1,-281.1 -761.7,-286.6 -756.1,-292 -750.3,-297.4 -744.4,-302.8 -738.3,-308.1 -732.2,-313.5 -725.9,-318.7 -719.5,-324 -713,-329.2 -706.5,-334.4 -699.8,-339.6 -693.1,-344.7 -686.2,-349.8 -679.3,-354.8 -672.4,-359.8 -665.3,-364.8 -658.2,-369.7 -651.1,-374.6 -643.8,-379.4 -636.4,-384.1 -628.9,-388.8 -621.2,-393.4 -613.3,-398 -601,-402.1 -588.7,-406 -576.3,-409.8 -564,-413.3 -551.7,-416.7 -539.3,-419.9 -527,-423 -514.7,-425.9 -502.3,-428.7 -490,-431.3 -477.7,-433.6 -465.3,-435.4 -453,-437 453,-437 465.3,-435.4 477.7,-433.6 490,-431.3 502.3,-428.7 514.7,-425.9 527,-423 539.3,-419.9 551.7,-416.7 564,-413.3 576.3,-409.8 588.7,-406 601,-402.1 613.3,-398 621.2,-393.4 628.9,-388.8 636.4,-384.1 643.8,-379.4 651.1,-374.6 658.2,-369.7 665.3,-364.8 672.4,-359.8 679.3,-354.8 686.2,-349.8 693.1,-344.7 699.8,-339.6 706.5,-334.4 713,-329.2 719.5,-324 725.9,-318.7 732.2,-313.5 738.3,-308.1 744.4,-302.8 750.3,-297.4 756.1,-292 761.7,-286.6 767.1,-281.1 772.3,-275.6 777.4,-270.1 782.3,-264.6 787.1,-259.1 791.8,-253.6 796.5,-248 801.1,-242.4 805.6,-236.9 809.9,-231.3 814.1,-225.7 818.1,-220 821.9,-214.4 825.6,-208.8 829.1,-203.2 832.5,-197.5 835.8,-191.9 838.9,-186.2 842,-180.6 844.9,-175 847.6,-169.3 850.2,-163.7 852.6,-158 854.9,-152.4 857,-146.7 858.9,-141.1 860.7,-135.4 862.4,-129.8 864,-124.2 865.5,-118.5 867,-112.9 868.5,-107.2 869.9,-101.6 871.3,-95.9 872.6,-90.3 873.8,-84.7 875,-79 876,-73.4 876.9,-67.7 877.8,-62.1 878.6,-56.4 879.2,-50.8 879.9,-45.1 880.4,-39.5 880.9,-33.9 881.4,-28.2 881.8,-22.6 882.1,-16.9 882.4,-11.3 882.5,-5.6 882.6,-0 882.5,5.6 882.4,11.3 882.1,16.9 881.8,22.6 881.4,28.2 880.9,33.9 880.4,39.5 879.9,45.1 879.2,50.8 878.6,56.4 877.8,62.1 876.9,67.7 876,73.4 875,79 873.8,84.7 872.6,90.3 871.3,95.9 869.9,101.6 868.5,107.2 867,112.9 865.5,118.5 864,124.2 862.4,129.8 860.7,135.4 858.9,141.1 857,146.7 854.9,152.4 852.6,158 850.2,163.7 847.6,169.3 844.9,175 842,180.6 838.9,186.2 835.8,191.9 832.5,197.5 829.1,203.2 825.6,208.8 821.9,214.4 818.1,220 814.1,225.7 809.9,231.3 805.6,236.9 801.1,242.4 796.5,248 791.8,253.6 787.1,259.1 782.3,264.6 777.4,270.1 772.3,275.6 767.1,281.1 761.7,286.6 756.1,292 750.3,297.4 744.4,302.8 738.3,308.1 732.2,313.5 725.9,318.7 719.5,324 713,329.2 706.5,334.4 699.8,339.6 693.1,344.7 686.2,349.8 679.3,354.8 672.4,359.8 665.3,364.8 658.2,369.7 651.1,374.6 643.8,379.4 636.4,384.1 628.9,388.8 621.2,393.4 613.3,398 601,402.1 588.7,406 576.3,409.8 564,413.3 551.7,416.7 539.3,419.9 527,423 514.7,425.9 502.3,428.7 490,431.3 477.7,433.6 465.3,435.4 453,437 -453,437 -465.3,435.4 -477.7,433.6 -490,431.3 -502.3,428.7 -514.7,425.9 -527,423 -539.3,419.9 -551.7,416.7 -564,413.3 -576.3,409.8 -588.7,406 -601,402.1 -613.3,398 -621.2,393.4 -628.9,388.8 -636.4,384.1 -643.8,379.4 -651.1,374.6 -658.2,369.7 -665.3,364.8 -672.4,359.8 -679.3,354.8 -686.2,349.8 -693.1,344.7 -699.8,339.6 -706.5,334.4 -713,329.2 -719.5,324 -725.9,318.7 -732.2,313.5 -738.3,308.1 -744.4,302.8 -750.3,297.4 -756.1,292 -761.7,286.6 -767.1,281.1 -772.3,275.6 -777.4,270.1 -782.3,264.6 -787.1,259.1 -791.8,253.6 -796.5,248 -801.1,242.4 -805.6,236.9 -809.9,231.3 -814.1,225.7 -818.1,220 -821.9,214.4 -825.6,208.8 -829.1,203.2 -832.5,197.5 -835.8,191.9 -838.9,186.2 -842,180.6 -844.9,175 -847.6,169.3 -850.2,163.7 -852.6,158 -854.9,152.4 -857,146.7 -858.9,141.1 -860.7,135.4 -862.4,129.8 -864,124.2 -865.5,118.5 -867,112.9 -868.5,107.2 -869.9,101.6 -871.3,95.9 -872.6,90.3 -873.8,84.7 -875,79 -876,73.4 -876.9,67.7 -877.8,62.1 -878.6,56.4 -879.2,50.8 -879.9,45.1 -880.4,39.5 -880.9,33.9 -881.4,28.2 -881.8,22.6 -882.1,16.9 -882.4,11.3 -882.5,5.6Z" fill="none" stroke="#000" stroke-width="1"/><path d="M-606.4,408.4 L-594.2,408.4M-600.3,408.4 -608.9,403.9 -617.2,399.4 -625.3,394.8 -633.1,390.2 -640.8,385.5 -648.3,380.7 -655.7,375.9 -663,371 -670.3,366.1 -677.4,361.2 -684.5,356.2 -691.5,351.1 -698.5,346 -705.3,340.9 -712.1,335.7M-719.4,335.7 L-704.8,335.7M-807.3,254.6 L-791,254.6M-799.1,254.6 -803.9,249 -808.5,243.4 -813.1,237.8 -817.5,232.2 -821.8,226.6 -825.9,220.9 -829.8,215.3 -833.5,209.7 -837.1,204 -840.6,198.3 -844,192.7 -847.2,187 -850.3,181.3 -853.2,175.7 -856,170M-864.8,170 L-847.3,170M-891.8,85 L-873.8,85M-882.8,85 -883.9,79.3 -885,73.7 -885.9,68 -886.8,62.3 -887.6,56.7 -888.3,51 -888.9,45.3 -889.5,39.7 -890,34 -890.4,28.3 -890.8,22.7 -891.2,17 -891.5,11.3 -891.6,5.7 -891.7,-0M-900.8,-0 L-882.6,-0M-891.8,-85 L-873.8,-85M-882.8,-85 -881.5,-90.7 -880.2,-96.3 -878.8,-102 -877.3,-107.7 -875.8,-113.3 -874.3,-119 -872.8,-124.7 -871.2,-130.3 -869.5,-136 -867.6,-141.7 -865.6,-147.3 -863.5,-153 -861.1,-158.7 -858.7,-164.3 -856,-170M-864.8,-170 L-847.3,-170M-807.3,-254.6 L-791,-254.6M-799.1,-254.6 -794.3,-260.2 -789.4,-265.7 -784.4,-271.2 -779.2,-276.8 -773.9,-282.2 -768.4,-287.7 -762.6,-293.2 -756.8,-298.6 -750.7,-304 -744.6,-309.3 -738.3,-314.7 -731.9,-320 -725.4,-325.3 -718.8,-330.5 -712.1,-335.7M-719.4,-335.7 L-704.8,-335.7M606.4,408.4 L594.2,408.4M600.3,408.4 608.9,403.9 617.2,399.4 625.3,394.8 633.1,390.2 640.8,385.5 648.3,380.7 655.7,375.9 663,371 670.3,366.1 677.4,361.2 684.5,356.2 691.5,351.1 698.5,346 705.3,340.9 712.1,335.7M719.4,335.7 L704.8,335.7M807.3,254.6 L791,254.6M799.1,254.6 803.9,249 808.5,243.4 813.1,237.8 817.5,232.2 821.8,226.6 825.9,220.9 829.8,215.3 833.5,209.7 837.1,204 840.6,198.3 844,192.7 847.2,187 850.3,181.3 853.2,175.7 856,170M864.8,170 L847.3,170M891.8,85 L873.8,85M882.8,85 883.9,79.3 885,73.7 885.9,68 886.8,62.3 887.6,56.7 888.3,51 888.9,45.3 889.5,39.7 890,34 890.4,28.3 890.8,22.7 891.2,17 891.5,11.3 891.6,5.7 891.7,-0M900.8,-0 L882.6,-0M891.8,-85 L873.8,-85M882.8,-85 881.5,-90.7 880.2,-96.3 878.8,-102 877.3,-107.7 875.8,-113.3 874.3,-119 872.8,-124.7 871.2,-130.3 869.5,-136 867.6,-141.7 865.6,-147.3 863.5,-153 861.1,-158.7 858.7,-164.3 856,-170M864.8,-170 L847.3,-170M807.3,-254.6 L791,-254.6M799.1,-254.6 794.3,-260.2 789.4,-265.7 784.4,-271.2 779.2,-276.8 773.9,-282.2 768.4,-287.7 762.6,-293.2 756.8,-298.6 750.7,-304 744.6,-309.3 738.3,-314.7 731.9,-320 725.4,-325.3 718.8,-330.5 712.1,-335.7M719.4,-335.7 L704.8,-335.7M-429.5,446.1 V437M-429.5,441.5 H-343.6M-343.6,446.1 V437M-257.7,446.1 V437M-257.7,441.5 H-171.8M-171.8,446.1 V437M-85.9,446.1 V437M-85.9,441.5 H0M0,446.1 V437M85.9,446.1 V437M85.9,441.5 H171.8M171.8,446.1 V437M257.7,446.1 V437M257.7,441.5 H343.6M343.6,446.1 V437M429.5,446.1 V437M-429.5,-446.1 V-437M-429.5,-441.5 H-343.6M-343.6,-446.1 V-437M-257.7,-446.1 V-437M-257.7,-441.5 H-171.8M-171.8,-446.1 V-437M-85.9,-446.1 V-437M-85.9,-441.5 H0M0,-446.1 V-437M85.9,-446.1 V-437M85.9,-441.5 H171.8M171.8,-446.1 V-437M257.7,-446.1 V-437M257.7,-441.5 H343.6M343.6,-446.1 V-437M429.5,-446.1 V-437" fill="none" stroke="#000" stroke-width="1"/></g>
<path id="n1" d="M6,.75h1.5M12,.75h1.5M16.5,.75h1.5M46.5,.75h1.5M13.5,2.25h1.5M16.5,2.25h1.5M37.5,2.25h1.5M40.5,2.25h1.5M0,3.75h1.5M3,3.75h1.5M7.5,3.75h1.5M39,3.75h1.5M42,3.75h3M9,5.25h1.5M13.5,5.25h1.5M27,5.25h1.5M43.5,5.25h3M22.5,6.75h1.5M30,6.75h1.5M45,6.75h1.5M18,8.25h1.5M21,8.25h1.5M28.5,8.25h1.5M36,8.25h3M1.5,9.75h1.5M25.5,9.75h4.5M31.5,9.75h1.5M36,9.75h1.5M33,11.25h1.5M36,11.25h1.5M6,12.75h1.5M31.5,12.75h1.5M43.5,12.75h1.5M0,14.25h1.5M16.5,14.25h1.5M31.5,14.25h3M42,14.25h1.5M19.5,15.75h1.5M36,15.75h1.5M46.5,15.75h1.5M9,17.25h1.5M13.5,17.25h1.5M25.5,17.25h1.5M39,17.25h1.5M45,17.25h1.5M12,18.75h1.5M22.5,18.75h1.5M30,18.75h1.5M1.5,20.25h1.5M10.5,20.25h1.5M39,20.25h1.5M28.5,21.75h1.5M43.5,21.75h1.5M13.5,23.25h1.5M33,23.25h3M1.5,24.75h1.5M30,24.75h3M46.5,24.75h1.5M7.5,26.25h1.5M18,26.25h1.5M25.5,26.25h1.5M42,26.25h1.5M0,27.75h1.5M13.5,27.75h1.5M19.5,29.25h1.5M34.5,29.25h3M40.5,29.25h1.5M7.5,30.75h1.5M15,30.75h1.5M25.5,30.75h1.5M45,30.75h1.5M1.5,32.25h1.5M7.5,32.25h3M45,32.25h1.5M15,33.75h1.5M30,33.75h1.5M36,33.75h1.5M4.5,35.25h1.5M10.5,35.25h1.5M22.5,35.25h1.5M7.5,36.75h1.5M22.5,36.75h1.5M33,36.75h1.5M18,38.25h1.5M22.5,38.25h4.5M28.5,38.25h1.5M34.5,38.25h1.5M37.5,38.25h3M10.5,39.75h1.5M22.5,39.75h1.5M27,39.75h1.5M39,39.75h1.5M42,39.75h1.5M3,41.25h1.5M6,41.25h1.5M15,41.25h3M19.5,41.25h1.5M25.5,41.25h1.5M30,41.25h3M45,42.75h1.5M25.5,44.25h1.5M31.5,44.25h1.5M39,44.25h1.5M3,45.75h1.5M6,45.75h1.5M21,45.75h1.5M34.5,45.75h1.5M37.5,45.75h1.5M3,47.25h1.5M7.5,47.25h1.5M21,47.25h1.5M25.5,47.25h1.5M36,47.25h1.5" stroke-width="1.5" fill="none" shape-rendering="crispEdges"/>
<path id="n2" d="M37.5,.75h1.5M19.5,2.25h3M24,2.25h1.5M10.5,3.75h1.5M18,3.75h1.5M0,5.25h1.5M6,5.25h1.5M15,5.25h1.5M22.5,5.25h1.5M28.5,5.25h3M12,6.75h3M16.5,6.75h1.5M19.5,6.75h1.5M19.5,8.25h1.5M34.5,8.25h1.5M42,8.25h1.5M46.5,8.25h1.5M0,11.25h1.5M21,11.25h1.5M34.5,11.25h1.5M4.5,12.75h1.5M12,12.75h1.5M19.5,12.75h3M40.5,12.75h1.5M1.5,14.25h3M7.5,14.25h1.5M12,14.25h1.5M33,15.75h1.5M37.5,15.75h1.5M0,17.25h1.5M7.5,17.25h1.5M36,17.25h1.5M25.5,18.75h1.5M31.5,18.75h1.5M39,18.75h3M45,18.75h1.5M3,20.25h1.5M7.5,20.25h3M24,20.25h1.5M27,20.25h1.5M43.5,20.25h3M10.5,21.75h1.5M24,21.75h1.5M42,21.75h1.5M45,21.75h1.5M6,23.25h1.5M15,23.25h1.5M25.5,23.25h1.5M31.5,23.25h1.5M36,23.25h1.5M45,23.25h3M3,24.75h1.5M7.5,24.75h1.5M22.5,24.75h1.5M16.5,26.25h1.5M22.5,26.25h1.5M33,26.25h1.5M39,26.25h1.5M46.5,26.25h1.5M4.5,27.75h1.5M10.5,27.75h3M30,27.75h1.5M39,27.75h3M46.5,27.75h1.5M3,29.25h3M37.5,29.25h3M4.5,30.75h1.5M18,30.75h1.5M33,30.75h3M46.5,30.75h1.5M19.5,32.25h1.5M25.5,32.25h3M30,32.25h3M43.5,32.25h1.5M1.5,33.75h1.5M13.5,33.75h1.5M1.5,35.25h1.5M6,35.25h1.5M46.5,35.25h1.5M1.5,36.75h1.5M9,36.75h3M13.5,36.75h1.5M27,36.75h3M6,38.25h1.5M21,38.25h1.5M31.5,38.25h3M0,39.75h3M4.5,39.75h1.5M19.5,39.75h1.5M25.5,39.75h1.5M34.5,39.75h1.5M43.5,39.75h1.5M10.5,41.25h1.5M45,41.25h1.5M13.5,42.75h1.5M25.5,42.75h1.5M7.5,44.25h3M13.5,44.25h1.5M30,44.25h1.5M34.5,44.25h1.5M42,44.25h1.5M45,44.25h1.5M27,45.75h1.5M6,47.25h1.5M22.5,47.25h1.5M27,47.25h3" stroke-width="1.5" fill="none" shape-rendering="crispEdges"/>
<path id="n3" d="M24,.75h1.5M39,.75h1.5M43.5,.75h3M0,2.25h1.5M3,2.25h1.5M10.5,2.25h1.5M27,2.25h1.5M31.5,2.25h1.5M34.5,2.25h1.5M42,2.25h1.5M4.5,3.75h3M9,3.75h1.5M27,3.75h1.5M30,3.75h1.5M36,3.75h1.5M40.5,3.75h1.5M24,5.25h1.5M39,5.25h1.5M6,6.75h1.5M18,6.75h1.5M0,8.25h3M22.5,8.25h1.5M30,9.75h1.5M28.5,11.25h1.5M31.5,11.25h1.5M7.5,12.75h4.5M13.5,12.75h1.5M24,12.75h1.5M27,12.75h1.5M18,14.25h1.5M3,15.75h1.5M9,15.75h1.5M15,15.75h1.5M21,15.75h1.5M34.5,15.75h1.5M45,15.75h1.5M3,17.25h1.5M10.5,17.25h1.5M27,17.25h1.5M31.5,17.25h1.5M37.5,17.25h1.5M42,17.25h1.5M13.5,18.75h1.5M27,18.75h1.5M33,18.75h1.5M0,21.75h1.5M33,21.75h1.5M36,21.75h1.5M16.5,23.25h1.5M27,23.25h1.5M40.5,23.25h1.5M43.5,23.25h1.5M9,24.75h1.5M21,24.75h1.5M28.5,24.75h1.5M43.5,24.75h1.5M0,26.25h3M7.5,27.75h1.5M16.5,27.75h1.5M42,27.75h1.5M45,27.75h1.5M0,29.25h1.5M10.5,29.25h1.5M13.5,29.25h1.5M27,29.25h1.5M30,29.25h1.5M3,30.75h1.5M24,30.75h1.5M27,30.75h1.5M30,30.75h1.5M16.5,32.25h1.5M0,33.75h1.5M9,33.75h1.5M19.5,33.75h1.5M39,33.75h1.5M45,33.75h1.5M9,35.25h1.5M15,35.25h1.5M33,35.25h4.5M39,35.25h3M18,36.75h1.5M21,36.75h1.5M25.5,36.75h1.5M31.5,36.75h1.5M36,36.75h4.5M1.5,38.25h1.5M10.5,38.25h1.5M13.5,38.25h1.5M27,38.25h1.5M30,38.25h1.5M40.5,38.25h1.5M7.5,39.75h3M18,39.75h1.5M21,39.75h1.5M31.5,39.75h3M46.5,39.75h1.5M4.5,41.25h1.5M9,41.25h1.5M24,41.25h1.5M36,41.25h1.5M0,42.75h1.5M12,42.75h1.5M15,42.75h1.5M21,42.75h1.5M24,42.75h1.5M39,42.75h1.5M4.5,44.25h1.5M22.5,44.25h1.5M15,45.75h3M36,45.75h1.5M39,45.75h1.5M15,47.25h1.5M30,47.25h1.5M45,47.25h1.5" stroke-width="1.5" fill="none" shape-rendering="crispEdges"/>
<path id="n4" d="M4.5,.75h1.5M19.5,.75h1.5M25.5,.75h1.5M36,.75h1.5M1.5,2.25h1.5M6,2.25h1.5M9,2.25h1.5M18,2.25h1.5M22.5,2.25h1.5M28.5,2.25h1.5M36,2.25h1.5M43.5,2.25h1.5M22.5,3.75h1.5M4.5,5.25h1.5M25.5,5.25h1.5M33,5.25h1.5M37.5,5.25h1.5M9,6.75h1.5M37.5,6.75h1.5M42,6.75h3M3,8.25h1.5M9,8.25h3M31.5,8.25h3M40.5,8.25h1.5M4.5,9.75h1.5M12,9.75h1.5M18,9.75h1.5M37.5,9.75h1.5M42,9.75h1.5M39,11.25h1.5M45,11.25h1.5M16.5,12.75h3M28.5,12.75h1.5M33,12.75h1.5M36,12.75h1.5M45,12.75h1.5M9,14.25h1.5M25.5,14.25h1.5M43.5,14.25h3M6,15.75h1.5M10.5,15.75h1.5M28.5,15.75h1.5M31.5,15.75h1.5M6,17.25h1.5M15,17.25h1.5M18,17.25h1.5M21,17.25h1.5M40.5,17.25h1.5M46.5,17.25h1.5M4.5,18.75h1.5M7.5,18.75h1.5M15,18.75h1.5M18,18.75h4.5M37.5,18.75h1.5M42,18.75h3M15,20.25h1.5M36,20.25h1.5M40.5,20.25h1.5M9,21.75h1.5M15,21.75h1.5M22.5,21.75h1.5M25.5,21.75h3M30,21.75h1.5M0,23.25h1.5M28.5,23.25h3M6,24.75h1.5M12,24.75h3M25.5,24.75h1.5M33,24.75h1.5M36,24.75h1.5M39,24.75h1.5M3,26.25h3M12,26.25h1.5M15,26.25h1.5M30,26.25h3M15,27.75h1.5M19.5,27.75h1.5M6,29.25h1.5M19.5,30.75h1.5M37.5,30.75h1.5M43.5,30.75h1.5M15,32.25h1.5M34.5,32.25h1.5M42,32.25h1.5M4.5,33.75h3M16.5,33.75h3M31.5,33.75h1.5M42,33.75h1.5M27,35.25h1.5M43.5,35.25h1.5M42,36.75h1.5M46.5,36.75h1.5M4.5,38.25h1.5M36,38.25h1.5M43.5,38.25h1.5M46.5,38.25h1.5M3,39.75h1.5M6,39.75h1.5M15,39.75h1.5M24,39.75h1.5M30,39.75h1.5M27,41.25h1.5M4.5,42.75h1.5M16.5,42.75h1.5M42,42.75h1.5M10.5,44.25h1.5M16.5,44.25h1.5M27,44.25h1.5M0,45.75h1.5M13.5,45.75h1.5M33,45.75h1.5M45,45.75h1.5M37.5,47.25h1.5" stroke-width="1.5" fill="none" shape-rendering="crispEdges"/>
<path id="n5" d="M3,.75h1.5M9,.75h1.5M22.5,.75h1.5M30,.75h1.5M40.5,.75h1.5M25.5,2.25h1.5M30,2.25h1.5M33,2.25h1.5M46.5,2.25h1.5M12,3.75h3M16.5,3.75h1.5M34.5,3.75h1.5M45,3.75h1.5M3,5.25h1.5M18,5.25h1.5M42,5.25h1.5M46.5,5.25h1.5M10.5,6.75h1.5M15,6.75h1.5M24,6.75h3M33,6.75h1.5M4.5,8.25h3M15,8.25h1.5M25.5,8.25h1.5M30,8.25h1.5M39,8.25h1.5M7.5,9.75h1.5M19.5,9.75h1.5M22.5,9.75h1.5M46.5,9.75h1.5M4.5,11.25h1.5M10.5,11.25h1.5M16.5,11.25h3M37.5,11.25h1.5M40.5,11.25h1.5M15,12.75h1.5M42,12.75h1.5M46.5,12.75h1.5M15,14.25h1.5M37.5,14.25h1.5M40.5,14.25h1.5M1.5,15.75h1.5M13.5,15.75h1.5M22.5,15.75h1.5M25.5,15.75h1.5M43.5,15.75h1.5M1.5,17.25h1.5M4.5,17.25h1.5M16.5,17.25h1.5M19.5,17.25h1.5M22.5,17.25h1.5M28.5,17.25h1.5M6,18.75h1.5M24,18.75h1.5M13.5,20.25h1.5M25.5,20.25h1.5M28.5,20.25h1.5M33,20.25h3M1.5,21.75h1.5M12,21.75h1.5M18,21.75h1.5M40.5,21.75h1.5M19.5,23.25h3M0,24.75h1.5M19.5,24.75h1.5M34.5,24.75h1.5M24,26.25h1.5M27,26.25h1.5M34.5,26.25h1.5M27,27.75h3M33,27.75h6M21,29.25h1.5M31.5,29.25h1.5M43.5,29.25h1.5M0,30.75h1.5M9,30.75h1.5M12,30.75h1.5M4.5,32.25h1.5M24,32.25h1.5M28.5,32.25h1.5M33,32.25h1.5M39,32.25h1.5M46.5,32.25h1.5M21,33.75h1.5M27,33.75h1.5M33,33.75h1.5M7.5,35.25h1.5M19.5,35.25h1.5M24,35.25h1.5M4.5,36.75h1.5M34.5,36.75h1.5M40.5,36.75h1.5M45,36.75h1.5M9,38.25h1.5M16.5,38.25h1.5M45,38.25h1.5M1.5,41.25h1.5M13.5,41.25h1.5M18,41.25h1.5M39,41.25h1.5M46.5,41.25h1.5M9,42.75h1.5M18,42.75h1.5M22.5,42.75h1.5M6,44.25h1.5M21,44.25h1.5M24,44.25h1.5M37.5,44.25h1.5M40.5,44.25h1.5M22.5,45.75h3M30,45.75h3M40.5,45.75h1.5M43.5,45.75h1.5M16.5,47.25h1.5M42,47.25h3" stroke-width="1.5" fill="none" shape-rendering="crispEdges"/>
<path id="n6" d="M7.5,.75h1.5M15,.75h1.5M21,.75h1.5M28.5,.75h1.5M31.5,.75h3M7.5,2.25h1.5M21,3.75h1.5M24,3.75h1.5M31.5,3.75h1.5M7.5,5.25h1.5M12,5.25h1.5M1.5,6.75h1.5M4.5,6.75h1.5M7.5,6.75h1.5M31.5,6.75h1.5M34.5,6.75h1.5M40.5,6.75h1.5M6,9.75h1.5M15,9.75h1.5M21,9.75h1.5M33,9.75h1.5M43.5,9.75h1.5M3,11.25h1.5M6,11.25h1.5M9,11.25h1.5M13.5,11.25h3M19.5,11.25h1.5M22.5,11.25h1.5M25.5,11.25h1.5M42,11.25h3M0,12.75h1.5M22.5,12.75h1.5M30,12.75h1.5M37.5,12.75h1.5M6,14.25h1.5M21,14.25h3M27,14.25h1.5M30,14.25h1.5M4.5,15.75h1.5M7.5,15.75h1.5M16.5,15.75h3M24,15.75h1.5M30,17.25h1.5M0,18.75h1.5M9,18.75h1.5M36,18.75h1.5M19.5,20.25h1.5M22.5,20.25h1.5M30,20.25h1.5M37.5,20.25h1.5M42,20.25h1.5M3,21.75h6M13.5,21.75h1.5M19.5,21.75h1.5M3,23.25h3M24,23.25h1.5M27,24.75h1.5M40.5,24.75h1.5M6,26.25h1.5M6,27.75h1.5M21,27.75h3M25.5,27.75h1.5M31.5,27.75h1.5M15,29.25h1.5M24,29.25h3M28.5,29.25h1.5M33,29.25h1.5M46.5,29.25h1.5M10.5,30.75h1.5M22.5,30.75h1.5M36,30.75h1.5M39,30.75h1.5M3,32.25h1.5M21,32.25h3M7.5,33.75h1.5M25.5,33.75h1.5M37.5,33.75h1.5M46.5,33.75h1.5M0,35.25h1.5M3,35.25h1.5M30,35.25h1.5M45,35.25h1.5M0,36.75h1.5M12,36.75h1.5M19.5,36.75h1.5M7.5,38.25h1.5M15,38.25h1.5M19.5,38.25h1.5M42,38.25h1.5M16.5,39.75h1.5M36,39.75h1.5M45,39.75h1.5M12,41.25h1.5M22.5,41.25h1.5M28.5,41.25h1.5M33,41.25h1.5M40.5,41.25h1.5M43.5,41.25h1.5M10.5,42.75h1.5M19.5,42.75h1.5M33,42.75h1.5M40.5,42.75h1.5M43.5,42.75h1.5M46.5,42.75h1.5M0,44.25h1.5M12,44.25h1.5M15,44.25h1.5M36,44.25h1.5M43.5,44.25h1.5M4.5,45.75h1.5M12,45.75h1.5M18,45.75h1.5M4.5,47.25h1.5M24,47.25h1.5M34.5,47.25h1.5M40.5,47.25h1.5" stroke-width="1.5" fill="none" shape-rendering="crispEdges"/>
<path id="n7" d="M1.5,.75h1.5M10.5,.75h1.5M13.5,.75h1.5M18,.75h1.5M27,.75h1.5M4.5,2.25h1.5M39,2.25h1.5M1.5,3.75h1.5M19.5,3.75h1.5M25.5,3.75h1.5M28.5,3.75h1.5M33,3.75h1.5M46.5,3.75h1.5M19.5,5.25h1.5M39,6.75h1.5M12,8.25h1.5M16.5,8.25h1.5M24,8.25h1.5M43.5,8.25h3M0,9.75h1.5M3,9.75h1.5M9,9.75h1.5M13.5,9.75h1.5M34.5,9.75h1.5M45,9.75h1.5M7.5,11.25h1.5M12,11.25h1.5M27,11.25h1.5M30,11.25h1.5M46.5,11.25h1.5M1.5,12.75h1.5M4.5,14.25h1.5M19.5,14.25h1.5M34.5,14.25h3M12,15.75h1.5M39,15.75h4.5M43.5,17.25h1.5M10.5,18.75h1.5M16.5,18.75h1.5M34.5,18.75h1.5M46.5,18.75h1.5M0,20.25h1.5M4.5,20.25h3M12,20.25h1.5M16.5,20.25h3M21,20.25h1.5M16.5,21.75h1.5M21,21.75h1.5M37.5,21.75h3M46.5,21.75h1.5M7.5,23.25h1.5M22.5,23.25h1.5M39,23.25h1.5M10.5,24.75h1.5M15,24.75h1.5M37.5,24.75h1.5M42,24.75h1.5M45,24.75h1.5M36,26.25h1.5M43.5,26.25h3M1.5,29.25h1.5M7.5,29.25h3M16.5,29.25h1.5M22.5,29.25h1.5M42,29.25h1.5M45,29.25h1.5M28.5,30.75h1.5M42,30.75h1.5M6,32.25h1.5M10.5,32.25h1.5M13.5,32.25h1.5M18,32.25h1.5M37.5,32.25h1.5M3,33.75h1.5M10.5,33.75h3M28.5,33.75h1.5M43.5,33.75h1.5M12,35.25h1.5M18,35.25h1.5M21,35.25h1.5M31.5,35.25h1.5M42,35.25h1.5M15,36.75h3M30,36.75h1.5M0,38.25h1.5M3,38.25h1.5M12,39.75h1.5M28.5,39.75h1.5M0,41.25h1.5M34.5,41.25h1.5M42,41.25h1.5M1.5,42.75h1.5M6,42.75h3M27,42.75h6M36,42.75h3M1.5,44.25h3M18,44.25h3M33,44.25h1.5M1.5,45.75h1.5M7.5,45.75h4.5M19.5,45.75h1.5M25.5,45.75h1.5M28.5,45.75h1.5M0,47.25h1.5M9,47.25h1.5M19.5,47.25h1.5M31.5,47.25h1.5M39,47.25h1.5" stroke-width="1.5" fill="none" shape-rendering="crispEdges"/>

<path id="s1" d="M-906,-450l775,0-3,6-7,5-21,1-15,5-9,11-17,8-19,12-9,11-15,26-13,26-1,3 1,3 19,0 48-41 15-6 12,3 54,1 9,3 12-2 18,7 9-3 15,4 15-5 12,1 18-9 15,4 27,0 15,5 12-4 6-1 6,3 6,4 6,2 15,0 12-3 9,3 18,0 12,5 15,0 9,4 12,1 21,9 15,2 9,4 12,0 12-2 12,4 6,3 19,22 32,41 12,10 21,7 33,0 21,0 12-5 12-2 12-16 2-11-1-6-31-30-9-15-18-21-18-5-9-1-12-4-9-1-42-23-21-30-20-23 641,0 0,900-1812,0zM-585,-366l-24,5-36,15-19,13-19,15-16,9-12,14-6,11 3,2 9,0 6,2 9,7 1,3-2,6-8,12-1,3 1,9 4,9 1,9 13,1 12-4 8,6 10,13 5,2 4,0 90-42 28-21 2-3-1-3-17-19-43-29 5-27-5-15zM-450,-231l-6,11-5,13-10,15-9,30 3,10 15,21 3-3 6-34-1-12 2-12 0-12 3-12 0-12zM-437,-120l-16,3-1,3 7,10 6,5 6,2 2-5-2-15zM-378,-72l-6,5-9,2-3,2-1,12 4,4 6,1 9-10 5-13-2-2zM-285,-322l-72,33-12,6-2,4-2,21 3,12 0,18 6,21 12,15 22,10 5-1 10-9 30-17 12,0 5-4 0-6-9-15-2-6 1-36 6-42-1-4-3-2zM507,-42l-15,5-14,1 4,6 12,12 4,6 3,3 6,0 6-3 2-6-4-9zM-348,-7l-5,4 5,6 3,0 1-6-1-4zM-288,-187l-12,7 0,1 3,2 12,0 3-3 0-6z"/>
<path id="s2" d="M-906,-450l772,0-7,8-18,1-19,6-11,12-41,21-18,30-17,33-2,6 7,3 17,0 6-1 45-39 15-7 12,4 54,1 9,3 12-3 18,6 9-3 12,4 18-5 9,2 6,0 15-8 12,4 30,0 15,5 6-1 6-3 6-1 18,7 15,1 12-4 9,3 18,0 12,5 13,0 11,4 12,1 21,9 12,1 12,5 21,0 15,4 5,3 25,30 18,25 21,17 12,2 9,4 36,1 21-1 9-5 12-1 6-6 8-12 3-12-1-6-33-33-7-12-18-24-18-7-12-1-21-6-39-21-16-16-8-12-18-21 639,0 0,900-1812,0zM-585,-367l-24,5-34,14-56,36-14,18-6,9 1,3 16,2 9,5 3,5-2,6-7,10-1,5 0,9 4,9 0,9 3,1 12,0 12-3 7,5 11,14 3,1 6,0 87-39 33-24 0-7-18-20-42-27 0-6 3-6 1-18-5-15zM-501,-101l-2,5 2,3 3,0 1-3-1-3zM-444,-241l-9,10-10,24-8,10-9,26-2,12 1,6 19,33-1,6-4,6 2,11 9,9 32,25 4,8 2,19 8,6 8,12 6,2 3-2-1-6-2-3-9-4-3-5 2-12-3-9-2-19-5-14-6-6-6-9-7-18-15,1-6-4 6-42-1-12 2-12 0-12 3-12 1-12 3-9 0-3zM-378,-75l-6,4-12,5-2,3-2,12 2,3 8,5 6,1 3-3 10-21-1-6-3-3zM-285,-325l-21,10-9,2-42,20-12,8-3,4-2,23 3,12 1,18 5,21 11,16 24,11 6-1 9-10 30-16 3-1 9,1 7-3 1-3-2-6-11-21 1-36 6-45-2-6zM453,-68l-3,2 0,3 3,15 3,6 15,17 21,17 9,4 15-3 3,1 6,8 7,4 11,2 13,1-1-11-3-7-6-6-24-2-7-7-8-20-12,4-12-1-17-13-7-10zM528,-277l-6,4-10,3 4,4 6,2 3-3 4-9zM-501,-80l-3,2-2,6 2,4 3,1 3-11 0-2zM-345,-10l-10,4-2,3 6,7 6,1 3-3 0-8zM-288,-190l-21,12-5,1 5,3 27-2 3-3 1-4-1-6-3-1z"/>
<path id="s3" d="M-906,-450l587,0-2,3 3,3 12-2 6-4 163,0-1,3-6,3-15,1-21,7-9,11-33,18-6-1-6-9-12,3-33,0-9,3-9,9-11,18-37,54-28,48-2,24 3,12 1,18 5,24 9,14 6,3 12,3 9,5 7,2 11,5 31-2 5-6 1-9-1-3-3-2-3,0-9,3-18,10-9,1-2-3 5-7 33-17 9,5 6,1 13-6 3-3-4-3-6,0-3-3-9-15-4-9 2-51 6-36 5-2 24,1 6-2 40-36 14-8 15,3 54,1 9,4 12-4 18,6 9-3 12,3 15-3 9,2 12,0 12-8 12,4 27-1 12,6 6,1 18-7 12,6 9,1 12,1 12-3 6,2 21,0 12,5 12,0 12,4 12,1 21,10 12,0 12,5 21,0 15,5 29,33 5,9 12,15 23,17 12,2 9,3 54,0 6-1 6-4 12-1 6-5 9-14 3-18-33-33-21-30-6-14-16-16-5-3-30-11-12,0-33-5-9-8-8-12-18-21 638,0 0,900-1812,0zM-585,-368l-24,5-30,12-18,11-22,10-23,16-5,11-13,18 0,3 18,3 9,6 2,3-2,6-6,9-2,6 1,9 4,9 0,10 12,1 15-3 6,4 6,9 6,6 9,1 88-40 33-24 1-3-2-5-16-19-26-18-16-9-1-3 3-9 2-18-6-16zM-501,-103l-3,4 0,6 5,6-8,12 0,3 3,8 3,4 2-3 6-18-2-6 1-9-4-6zM-441,-248l-15,20-9,21-7,9-11,34 0,17 12,22 1,5-4,9 0,8-6,7 0,5 13,13 38,27 3,3 4,12 11,8 6,10 6,4 6,1 2-5 0-6-2-3-12-9 0-6 3-4 3,0 15,9 6,7 4,0 1-3-3-12 8-21-2-6-5-6-3-1-9,7-14,6-1,3-10-27-8-8-7-10-5-15-5-3-13,1-4-4 5-39 0-12 2-12 0-12 3-12 1-12 4-12zM-345,-13l-15,6-2,4 2,3 9,7 6,1 3-2 2-3 0-9-2-5zM-9,-359l0,3 3,2 0-5zM450,-75l-15,0-2,6 1,12 4,9 14,18 24,21 15,9 22,4 9,5 30,3 9,3-3-17-5-10-6-6-7-3-15,0-6-2-6-9-4-13-2-1-15,5-9-2-16-14-5-10-5-5zM411,-430l-2,1 15,24 23,11 23,16 11,3 0-3-4-5-12-13zM528,-280l-9,7-6,0-4,3 8,6 8,1 8-13-2-3z"/>
<path id="s4" d="M-336,-447l4,0 6-3-11,0zM17,-363l19,11 3,0 3-1 1-4-2-6-5-4-15,0-2,1zM-282,-205l-31,16-3,3 0,3 7,0 24-12 5-6 0-3zM-906,-450l0,900 1812,0 0-900-637,0 31,37 6,2 27,1 3-1 1-3-1-9 1-3 2,0 18,13 24,11 9,12 12,12 1,12 3,6 22,30 32,33-4,21-8,12-7,5-12,1-6,4-6,1-51,1-15-5-9-1-12-8-15-7-44-57-37-4-6-5-6-2-12,1-19-11-14-1-9-3-15,0-9-5-3,0-12,0-6,3 2,9 4,4 12,5 18,1 18,6 6,5 18,7 5,8 4,15 12,5 3,10 7,9 0,3-31-2-27-5-42-11-39-15-1-3 7-5 6-7 2-9-2-4-18-14-2-6 2-6-1-3-13-6-4,0-7,6 1,12 1,3 8,5 6,10 12,4 3,2 2,6-1,3-58,20-24-3-9-8-15-9-22-18 0-6 4-5 3-1 9,2 4-2 1-6-5-10-12,0-6-2-33,4-9-2-9-5-15,4-12-5-27,0-39-4-10,5-18,15-6,6-8,12-9,7-30-2-6,2-2,2-5,33-3,51 4,8 9,13 3,2 9,2 4,5-1,2-6,4-9,13-6,4-6,11-6,3-33,3-27-12-6-1-3,1-3,8 5,36 2,9-1,9-6,0-6,3-9,12-6,5-3-2-6-24 3-28 8-14 6-30-2-21-3-9-1-18-2-12 0-24 27-48 37-54 5-10 10-14 14-8 39-1 9-3 3,1 4,8 5,2 30-15 10-11 4-3 22-7 12-1 4-4-155,0-11,8-42,6-8-2 0-3 11-6 2-3zM-582,-368l7,20-2,15-3,9 1,3 9,4 33,23 16,18 2,6-1,3-33,24-89,40-9-1-6-5-6-9-6-4-15,3-12-1-1-2 0-9-4-9-1-9 2-6 7-9 1-6-2-3-8-6-19-3 0-3 13-18 6-15 24-15 21-8 23-13 25-10 21-5zM-434,-258l-3,9-1,9-4,12 0,12-4,12 1,9-3,15 1,9-4,36 0,6 4,2 12-1 3,2 6,17 15,16 9,21 3,1 6-2 12-9 3-1 6,5 5,6 1,6-4,9-2,12 18,27 9,1 5,5 1,18-3,6-9-1-18-10-5-7-5-15-8-15-9-6-6,0-1,3 1,4 9,5 5,6 0,9-2,3-3,1-10-4-9-12-10-6-13-12-48-27-6-1-3,2-6,14-6-3-3-9-1-6 5-9-2-9 1-9 3-3 3,1 9,11 3-2 7-13 1-9-6-18-1-21 2-12 9-28 8-11 10-24 8-9 13-21zM-70,-339l2,3 1,6-4,9-7,6-3,0-6-3-2-3 2-6 9-11 3-2zM258,-262l39-1 6,2-2,3-19,9-21,2-7-2-3-6 1-3zM420,-94l16,13 14,4 9,4 6,7 5,9 13,13 9,2 9-2 6-3 3,1 3,11 6,9 6,2 15,1 9,5 6,6 9,27-3,3-9-4-30-2-12-5-24-2-24-14-27-24-14-18-4-12-1-18-6-9 1-3zM402,-437l21,11 45,30 18,21-1,3-5,1-11-4-22-15-27-12-6-15-15-18zM525,-280l9,1 2,3-8,12-3,2-9-2-8-6 0-3 11-2zM588,188l1,7-7,3-1-3 1-5 3-4z"/>
<path id="s5" d="M-285,-201l-11,6 8-2 3-1zM-393,-34l1-2-3-3-5,0 1,3zM-183,-366l-23,18-2,3 1,2 21,12 10,7 8,0 11-12 7-27-27-4zM213,-315l1,6 2,3 3,0 2-6-2-14zM-89,-306l5,4 2-4-5-4-2,1zM246,-298l-10,10 1,4 6,5 3,0 3-5 6-15 0-5zM-906,-450l0,900 1812,0 0-900-635,0 26,33 6,4 21,1 6-2 1-3 0-9-6-9 2-2 30,21 12,6 42,6 4-4-1-6-19-24 1-2 6,1 23,13 42,27 19,21 3,6-3,3-6,0-12-4-24-14-18-5-18,2-2,3 5,6-6,12 2,9 22,29 26,25 7,9-5,21-8,12-5,4-15,3-11,5-55,0-12-5-9,0-12-8-6-1-12,8-30,15-24,5-2,1-4,9-3,1-24-4-63-22-57-16-30-7-12-1-9-3-15,2-8-10-7-2-13,2-14,5-12,1-9-1-15-6-27,1-21-3-24,2-6,3-9,7-8,12-16,8-9,2 0-7 6-12 0-6-5-9-2-9-2-2-15,6-18,10-6,0-15-8-5-6-10-9-4-12-3-3-8-2-18,0-3,1-1,4-6,30-2,51 6,12 6,7 3,2 6-2 6,6 3,5-1,3-9,6-3,15-8,4-9,9-6,2-21,0-20,6-4,24-3-5-8-28-4-4-3,0-2,4 2,6-1,9 7,42-6,8-12,7-12,5-6,7 2,6 8,12 3,9-4,6 0,2 3,3 3-2 3,16 13,8 7,15 2,33 9,15-7,0-9,3-4,0-17-9-1-9-14-17-6-10-6,1-12-5-6-5-6-9-3-1-9-4-12-3-30-18-12-3-6,1-3,13-3,1-3-1-2-9-7-7-5-14 4-12-1-12 1-6 4-4 3,0 9,6 3-2 3-6 1-9-4-15 0-25 3-14 9-27 8-9 10-24 7-9 11-21 3-3 3,1 0,5-3,9-1,12-4,12 0,9-4,12 1,9-3,15 1,9-3,39 1,2 12-1 3,2 4,6 3,12 14,15 9,18 3,3 6-2 12-13-1-15-6-21 4-30 8-15 8-33-2-15-3-9-1-18-2-9-1-27 26-47 38-55 12-21 11-9 11-4 36-1 12-3 6,11 6,0 28-15 11-12 15-5 9-5 6,0 6-2-148,0-14,11-39,5-10-1-5-3 1-3 12-9zM-579,-366l5,18-2,15-3,9 42,29 17,19 2,3-2,6-32,24-90,41-9-1-6-5-6-10-6-4-12,3-15-1-2-2 0-9-4-9 0-9 2-6 6-9 2-6-10-8-18-2-3-2 14-21 5-15 29-18 15-4 18-11 33-14 24-5 3,1zM-324,-9l0,6-3,1-4-7 0-6 4-2zM363,-164l6,11-1,3-5,8-3,0-6-8 0-3zM393,-96l28,0 17,13 20,8 7,6 6,12 13,12 5,2 6,0 12-5 3,1 4,11 5,7 18,3 10,5 8,8 6,13 4,18-4,1-12-5-27-1-18-5-9,0-9,4-3,0-26-15-42-33-9-9-5-9-3-12 2-18zM537,-279l2,3-6,6-2,6-6,4-11-4-7-6-1-3 13-3 9-6zM590,189l0,6-1,3-7,3-3,0 0-6 6-12z"/>
<path id="s6" d="M-354,-95l-12,2-4,3 0,3 4,10 6,7 3,1 6-2 3-4 1-12 4-9-2-2zM-906,-450l0,900 1812,0 0-900-595,0 1,5-6-2-3-3-30,0 24,31 6,4 18,0 6-2 0-9-1-3-13-15 2-1 9,4 33,23 12,6 18,2 12,0 12,2 2-3-2-6-20-24 2-1 7,1 23,12 45,30 20,21 3,6-1,3-4,3-6-1-33-14-12-2-18,4-6,4-4,6 0,6 1,3 18,23 36,37 1,3-4,18-12,18-4,3-14,2-9,4-54,1-6-1-9-4-9,0-12-8-6,0-9,7-18,8-12,7-12,4-9,7-2,6 1,6 7,9 4,9-1,9-6,2-15-2-15-5-57-30-33-12-51-13-39-7-18,0-15-5-12,1-18-2-42,0-51,3-24-2-18,5-18,6-4-2-1-6 7-18-2-5-6-5-9-4-21,10-9-1-13-7-14-14-7-16-3-3-8-2-15,1-4,4-5,30-2,51 5,11 6,6 3,1 6-2 3,0 7,14 0,3-9,6-2,3 2,12-2,6-8,1-12,8-30,2-8,4-1,3-1,12 7,15-5,9 3,9-5,9 1,3 6,5 6-1 3,2 1,6-3,9 2,12-17,24 1,12-8,12 4,24-10,4-2,11 2,6 9,7 6-1 9-9 3,0 3,3 0,3-3,10-3,4-18,1-9-2-15,0-16-7-2-3-2-9-16-19-21-12-8-11-4-3-9-2-9,3-6,0-33-19-6,0-9,7-3,0-5-4-2-9-7-9-4-12 4-12-1-12 1-6 5-5 6,0 6,3 3-4 1-6-3-15 1-30 10-32 3-8 7-8 11-26 8-10 10-20 3-3 3,0 3,2 1,3-10,35 0,10-4,12-3,66 1,3 9,1 3,2 5,6 4,15 8,6 16,24 3,0 9-8 2-4 1-12-7-21 6-33 7-12 8-33-1-15-3-9-1-18-2-9-1-27 13-27 22-36 28-39 14-24 8-6 14-6 36,0 12-4 3,3 3,7 3,2 3,0 27-14 12-13 15-5 8-6-133,0-13,13-45,4-9-1-6-4 0-3 13-9zM-588,-371l6,0 2,2 7,18-2,18-3,9 41,27 18,21 1,3-1,6-33,24-90,41-9-1-6-5-6-9-6-4-12,3-15-1-3-3 1-9-4-8-1-10 2-6 7-9 1-6-9-7-18-3-4-2 14-21 4-15 28-18 18-5 24-14 27-10zM363,-169l9,16 0,3-6,11-6,2-9-8-1-5 10-16zM384,-104l6,0 6,4 27,3 17,13 19,8 6,5 8,14 13,12 9,1 12-5 3,1 5,12 4,5 21,4 15,12 6,13 5,20-5,2-9-4-30-2-18-5-10,3-5,8-9-1-18-10-64-42-19-15-6-12 0-9 9-21-4-12zM528,-283l9,3 4,4-13,16-3,1-6-2-10-6-5-6 14-3zM585,180l3,2 3,6 1,7-4,6-9,5-2-5 1-6 4-11z"/>
<path id="s7" d="M276,-450l24,30 6,3 9,0 6-1 2-2-3-12-6-6-11-7-4-5zM-906,-450l0,900 1812,0 0-900-525,0-3,1-3-1-62,0 50,34 12,3 21,0 12,3 2-1-1-6-22-27 6,0 9,3 22,12 46,30 19,21 4,6-2,6-8,2-42-13-12-1-12,1-9,8 0,6 1,3 17,21 15,13 23,26-5,24-8,12-7,6-12,2-12,5-57,1-12-5-9,1-15-9-42,24-9,2-9,9-1,6 13,16 5,11 14,9 9,9 4,9 9,3 1,3-3,3-6,2-9-6-27,10-9,0-9-2-18-11-46-35-23-13-36-13-51-11-51-7-42-3-36,0-39,3-21,0-9-2-12-8-6-2-9,1-15,5-6,0-4-4-1-3 1-6 6-15-2-4-12-7-21,9-9,0-15-8-13-14-2-3-5-15-4-3-21,0-3,4-5,29-2,51 4,9 6,7 3,0 9-2 5,4 4,12-1,3-9,6-1,3 2,8 6,7 6-9 3-2 2,2 1,3-3,7-6,2-9,10-3,1-6-4-3,0-9,4-27,0-6,1-4,3-1,3 3,9 8,10 6,5 1,9-3,9 1,27-1,12 3,15-17,18-2,6 1,9-7,6-3,9 1,9 2,5 3,2 11,2 4,3 3,18-5,18-4,2-18,1-12-4-15-1-15-6-5-13-9-9-6-9-19-12-12-13-6-1-9,7-12,1-6-2-21-16-6-1-15,1-6-6-3-9-6-9-3-12 3-12-1-12 3-9 12-9 4-18 2-30 10-30 3-8 7-10 9-21 10-12 10-22 3-3 6,0 9,3 15,0 12-5 0,4-13,32-12,36-7,24-6,33 1,6 5,9 5,15 10,6 8,16 6,1 6-3 3-5 1-6-7-18 0-6 6-33 7-12 9-36-1-11-3-10-1-18-2-12 0-15-2-9 10-21 23-39 30-42 14-24 8-6 13-6 39-2 12-3 3,1 5,10 4,1 27-14 9-11 18-7 6-5-129,0-9,9 2,6-2,2-21-1-27,2-12-1-9-5-1-3 15-9zM-856,-102l19,6-27,46-3-1 6-36 3-12zM-785,-6l-7,6-27,15-3,1-3-1 6-10 12-5 9-2 8-4zM-588,-371l6-1 3,3 7,18-2,18-3,9 40,26 19,22 1,3-1,6-34,25-90,41-9-1-6-5-6-9-6-5-12,3-16-1-2-3 0-9-3-6-1-12 1-5 7-10 1-6-11-8-16-1-4-3 14-21 3-15 3-3 30-18 15-3 18-11 33-13zM-483,-437l5,2-3,3-8,2-5-2zM-284,-60l4,3 1,3-3,3-6,2-3-5 0-3 3-3zM366,-170l7,20-2,12-5,5-3,0-9-4-7-7 0-3 13-22 3-3zM513,-302l4,2 1,3-10-3-1-3zM531,-284l10,5 2,3 0,3-6,4-4,8-5,3-9-2-11-7-6-6 5-2 9-1 9-8zM588,179l5,13-1,6-4,5-12,9-2-2 4-18 7-15zM372,-116l6,8 3,1 9,1 9,5 24,3 18,12 18,9 6,5 9,15 12,11 9,2 12-5 3,0 3,4 3,9 3,3 18,3 18,14 6,13 6,21-3,3-3,0-12-5-27-1-12-4-6,0-6,1-2,3 2,4 6,2 2,3-2,1-12,3-15-3-15-7-54-32-60-28-10-6-7-6-3-6 1-9 8-9 29-22 2-5 1-9zM495,289l1,5-5,9-5,2-6-4-1-4 1-3 9-5 3-1zM-330,12l0,6 6,6 6,1 5-4 1-6-6-7-3-1-6,0z"/>
<path id="s8" d="M316,-450l41,29 12,5 12,2 15-2 9,3 3-1-5-9-19-20-11-7zM-384,-278l-27,71-10,33-6,33 0,6 4,6 6,17 6,2 9-3-2,14 2,6 3,1 6-1 4-6 0-6-7-15 0-3 7-36 6-12 10-36-1-12-3-9-4-45zM-906,-450l0,900 599,0-47-32-39-34-15-6-18-5-20-1-22-5-24,4-11,10-1,3 6,7 18,14 0,1-18-7-24-14-6-2-33-1-21-4-4-3-3-12 1-12 3-3 7-3 14-1 39,2 24,0 42-7 21-1 72,7 30,0 39-4 21,1 36,6 26,9 3,3-14,3-117,2-6,1-20,12-1,3 2,6 19,18 22,18 35,24 2,3 1195,0 0-900-522,0 4,3 14,5 12,6 57,37 22,24 2,9 15,12 3,6-3,2-3,0-15-10-6-3-9-1-12,1-6-1-18-12-9-4-15,1-7,6-1,3 2,6 18,21 6,3 14,3 6,3 2,9 9,21-7,24-9,14-6,5-12,1-9,5-21,2-39-1-12-4-12,0-9-6-3-1-39,23-12,4-6,9 7,12 6,6 4,9 13,8 12,11 3,7 6,3 3,3 0,4-5,12 3,12-9,15 0,6 2,2 6,1 6,0 9-3 5-3 1-3-9-9-1-3 7-2 6,5 3,0 1-3-6-9 1-3 19-28 3,2 9,20-1,12-2,10-3,6-3,1-9-5-6,0 6,12 3,1 3-1 3-5 6,0 3,2 4,9 2,2 9,0 9,6 24,4 41,24 9,15 13,13 9,2 12-5 3,0 3,2 3,10 3,4 21,4 16,15 6,12 6,18-2,6-5,1-12-5-30-1-15-4-5,3 2,3 7,3-1,4-3,2-15,4-12,1-6-2-48-26-27-13-21-8-33-10-33-14-12-3-30-2-12-5-6-6-4-9 3-9 14-21 1-6-4-9-55-63-21-18-21-12-18-7-27-7-66-11-39-3-48-1-51,4-15-1-10-4-26-15-21,1-3-1-5-3-3-6 0-6 6-12-1-4-12-3-6,1-12,5-9,0-15-9-12-12-5-8-3-12-4-4-9-2-12,1-5,14-2,18-3,51 4,8 6,6 12-2 7,3 2,3 2,6 0,6-3,6-8,5 0,5 3,2 3,0 12-6 2,6-5,14-11,13-3,9-4,3-3-2-6-10-9,0-12-3-16,0-6,3 1,6 6,9 11,9-4,21 1,12-2,30 8,12 7,6 2,6-11,13-12,2-3,6-12,7-3,3-1,11 1,4 3,3 15-2 4,1 2,30-6,17-6,2-18,1-12-4-15-1-15-6-3-3-3-11-9-8-8-11-7-6-12-6-9-10-5,1 0,9-4,4-9,2-6,0-15-6-18-15-18-7-6-5-3-10-6-9-4-14 3-12-1-9 2-9 10-12 2-8 4-10 5-36 10-30 8-10 11-26 8-9 11-25 6-4 30-2 9-4 9-1 7-18 21-36 53-78 21-10 39-2 12-4 3,1 4,9 2,2 3,0 27-14 9-10 18-7 4-4-126,0-8,9 4,6 0,3-6,2-24-2-33,1-6-1-9-6 0-4 14-8zM-855,-107l9,4 12,2 4,2-1,3-17,27-16,29-6,5-4-4 0-6 7-46 5-14zM-780,-9l0,4-45,25-6,5-3,0 13-22 14-6 9-1 9-5zM-582,-373l5,4 6,18-4,27 38,25 20,23 1,3-1,6-35,25-90,41-9,0-7-6-5-9-6-4-15,2-14-1-2-3 1-9-3-6-2-12 2-6 7-9 1-6-11-8-18-1-3-3 14-21 2-15 5-5 30-17 15-3 15-9 36-15zM-480,-439l4,1 1,3-3,3-11,4-8-1 0-3 4-3zM540,241l0,17 3,0 6-5 3,0 2,2-12,18-12,9-11,5-3,4-1,6 3,15-5,10-12,15-16,14-5,2-12,1-3-3 5-9 0-9 5-18-3-12 1-9 16-16 11-5 9-12 19-15zM510,-307l12,7 1,3-1,4-12-4-5-3-1-7zM525,-285l15,3 5,6 0,3-7,6-3,6-4,3-3,1-6,0-15-10-6-6 3-3 12-1zM588,174l6,18 0,6-12,17-3,2-3,0-6-4 1-3 11-31 3-5zM654,-19l9,4 8,12-2,1-6,0-13-7-2-3-1-6 1-1zM-328,18l7,5 6-2 0-3-3-6-6-3-4,3z"/>
<path id="s9" d="M-267,-313l-5,37-1,36 3,6 6,6 9-2 12,1 2-2 7-21 1-36-7-27-3-6-15-2-6,2zM-240,-205l-10,7 1,2 8-2 4-6zM-384,-264l-24,60-9,32-6,30 0,5 4,5 5,13 3,3 6-4 6-8 7-34 7-12 9-33zM-399,-98l3,1 3-2 0-6-3-1-1,1-2,3zM-318,-15l3,7 5-1 3-6 0-6-2-3-3-1-3,2zM-327,16l6,6 3-1 1-3-4-6-3-1-3,3zM318,-450l39,27 13,6 14,1 9-4 9,3 0-3-2-3-13-14-17-13zM-216,-258l-3,15 3,3 3,0 3-4 1-5-4-12zM-906,-450l0,746 183,1 117-2 45-3 60,0 12-3 9-5 21,5 18,2 78,4 63,0 108,15 30-1 57,2 48-2 216-19 189-9 33-7 69-23 15-1 5,2 1,3-3,9 0,12 12-1 18-6 8-14 7-2 21-18 9-5 4-5 3-6-1-12 3-5 12,8 3,0 6-8 9-26 3-4 3,0 8,23-2,21-4,15-18,42-1,6 2,6 3,4 7,5 11,4 9,9 6,1 12-6 6-2 42-3 72-2 165,1 0-746-519,0 24,11 60,39 23,25 4,9 14,12 5,9-4,4-3,1-18-5-15,2-6-1-12-6-24-22-9-2-9,1-6,6 0,4 15,19 6,4 27,3 2,4-1,9 8,24-5,9-3,15-10,14-6,5-12,2-9,5-18,1-42,0-12-5-12,2-9-5-3-1-36,23-12,3-4,7 5,9 8,6 3,9 24,19 5,8 4,4 2,8-3,9 1,4 6,6 3,2 6-1 21-32 3-3 3,1 5,14 5,9 0,21 5,20 3,1 6-1 9,8 26,5 34,19 7,5 8,15 12,12 9,2 12-5 3,0 3,3 6,12 21,5 15,13 8,15 5,18-1,6-3,2-6-1-9-4-30-1-9-3-6,0-1,1 7,6-3,6-24,10-9,1-15-5-48-24-33-14-33-9-39-12-12-2-30,2-9-2-12-5-35-21-9-9 2-9 16-21 5-12 0-9-2-9-10-21-13-18-17-17-18-12-18-8-36-9-60-8-72-3-60,3-15,0-30-10-21-9-3-2-3-6-15-8-3,1-8,10-1,12-6,12-15,5-9,7-6,1-9,7-10,25 0,9-4,6-4,3-12,7-3-1-6-8-6-1-5-9-4-2-15,0-7,2 1,6 6,9 11,6 1,3-5,21 1,12-4,27 3,6 15,18 0,3-6,9-1,3 3,12 6,12-9,18-9,3 0,21-4,9 1,6-3,3-6,2-21,1-6,0-6-4-15-1-18-7-4-12-10-9-9-12-10-7-5,1 7,24-2,4-18,0-21-7-24-18-16-18-18-18-3-9-6-9-4-15 4-12-1-9 1-9 10-12 3-12 3-6 4-30 12-36 8-12 10-24 8-9 8-15 2-9-1-3-3-2-42-1-3,0 0-3 33-47 54-61 1-6-8-6-2-3 3-4 18-6 6,0 2,1-12,12-2,6 5,15 7,3 6-3 22-21 10-6 15-6 28-6 21-9 42-2 9-3 3,0 3,2 3,9 3,1 26-13 10-12 17-6 3-3-122,0-7,9 3,6 1,3-3,3-6,1-63-2-9-5-5-6 3-3 11-6zM-852,-108l9,5 13,1 2,3-1,3-12,18-23,41-6,5-3,0-4-4-1-6 5-36 6-24 1-3 5-3zM-777,-9l0,3-3,3-45,25-9,7-3-1 0-4 9-12 3-9 3-2 24-7 9-5 9-1zM-582,-374l6,5 6,18-2,18-2,6 1,3 39,26 19,22 0,3-2,6-5,5-30,21-90,41-9-1-7-6-5-8-6-4-15,2-9,0-6-2-1-12-3-6-1-12 2-6 6-9 1-6-10-7-18-2-4-3 14-21 1-12 3-6 34-20 17-4 10-7 12-5 27-11zM-480,-441l10,3-1,3-6,5-9,3-9,1-5-3 0-3 4-3zM510,-312l15,10 2,5-3,6-2,1-16-7-3-3-2-6 0-5 3-2zM660,-28l9,7 5,6 5,9 1,6-8,2-12-2-13-9-3-6 1-9 9-5zM-849,3l-3,1-3-4 3,0zM525,-288l15,4 3,3 4,5 0,3-1,3-5,3-4,7-6,5-9-1-19-14-5-6 18-1 5-5zM-168,375l-28,3-1,3 17,32 26,37 47,0-27-69-4-1-7,7-2,16-3-3-12-23z"/>
<path id="s10" d="M323,-450l34,24 12,6 12,1 1-1 1-6 7,0 1-3-5-6-14-9-5-6zM420,-372l-7,6 1,6 15,16 6,1 15,0 1-2-3-6-9-9-5-9-8-3zM-264,-319l-6,28-2,48 2,7 6,6 18-4 1-3 3-12 0-27 3-24-2-15-4-6-16,0zM-177,-241l0,6 3,2 9-5 2-5-2-3-6-2zM-302,-162l8,12 9,1 3-4 2-9-2-3-3-1-15,1zM-906,-450l0,722 114,0 135,5 114-5 57,6 33-5 30-1 99,3 126,14 39-5 15,3 48,1 39-8 3-4 0-9 2-3 4-4 6-2 3,0 2,3 1,7 6,3 27,6 30-1 147-18 45-4 102-12 42-9 75-21 24-4 30-1 6,2 8,10-5,21 4,6 5,4 12-7 7-9 0-3-3-12 2-5 4,2 5,10 3,1 5-5 1-6-2-21 2-5 3,1 12,14 6,2 3-2 2-4 2-9 7-18 4-4 3,0 3,4 7,30 7,9 0,12-4,24 1,12 4,7 9,5 15,3 12,1 114-5 150,0 0-722-516,0 24,11 57,38 22,23 8,12 21,20 10,4 2,3-3,11-15,7 0,3 12,10 5,8 0,3-5,6 2,3 10,1 8,8 1,6-2,9 4,6-2,2-3-3-3,0-4,4 5,6-8,6-5,1-3,0 2-7-28-21-8-9 10,2 12-1 5-4 1-6-6-5-12-4-4-6-6-15-3-3-20-11-3,0-3,1-2,7 7,24-6,9-5,18-12,15-6,3-9,1-9,4-15,2-45-1-12-4-5,1-4,3 0,3 4,15-1,8-19,34-4,9 6,15-3,12 5,7 6,2 6-6 18-27 3-2 3,1 10,25 2,18 6,21 6,0 9,9 27,5 24,13 17,12 8,15 12,12 11,1 9-5 3,0 4,4 5,10 21,6 18,17 5,12 6,21-2,4-3,2-6-1-9-4-33-1-3,1-4,8-18,9-8,8-15,1-18-7-65-29-43-12-27-9-18-3-30,2-12-1-42-18-60-19-9-2-15,3-12-2-8-5-4-9 3-6 6-7 12-3 3,0 9,9 3,1 12-2 18-9 12-8 11-11 5-9 1-9-1-9-8-18-14-18-19-15-14-7-18-6-57-9-24-2-63-2-60,4-21-1-27-4-33-11-9-1-18,7-12,2-12,9-9,2-6,4-5,6-4,15 0,4 6,8-3,9-5,3-14,3-6,6-2,7-3,1-9-5-12,2-3,4-2,9 1,15-5,27 3,6 8,6 7,12 1,3-6,9 1,6 4,7 11,5 2,9-4,9 3,7-3,3-3-2-2-5-4,1-7,14 0,6 4,5 9-1 9,2 6,0 9-5 3,1 3,7 8,9-1,12 1,6 10,11 2,4-2,4-9,10-3,0-5-17 0-6-4-5-18-3-9-3-12,2-12-4-36,3-12-5-15-1-15-5-4-3-2-11-13-10-4-9-4-3-3,0 1,6 21,33 1,6-4,3-25,4-24-2-21-8-15-15-15-24-9-18-3-12-9-12-3-9-5-9-3-15 3-12-1-9 1-9 9-12 2-9 6-11 2-25 12-36 2-6 7-9 10-23 9-11 9-20-1-3-5-3-42,0-3,0-2-3 10-18 24-33 53-60 1-3-1-3-7-3-6-9 3-3 30-9 6,0 6,3 0,3-12,9-4,6 2,12 2,4 3,1 6-4 15-15 12-9 21-8 15-5 15-1 18-6 42-2 12-4 3,1 3,9 3,2 23-11 13-13 18-8-118,0-7,9 4,9-2,3-6,3-60-2-9-1-9-4-6-8 3-5 9-4zM-855,-109l12,4 15,3 1,6-19,30-17,30-12,12 13,9 13,12 6,3 12,1 30-8 9-5 12-2 3,0 2,5-2,6-36,19-12,8-9,7-3,1-3-5 11-18-2-5-15,4-6,0-6-2-4-3-5-10-13-11-4-6 3-9 5-39 6-30 5-6zM-750,172l10,14-1,4-6,2-6-2-1-4 1-13zM-579,-375l7,9 4,15-5,24 39,27 20,24 0,6-2,3-6,6-30,20-90,41-10-1-7-6-4-7-6-5-18,2-12-2-6-30 2-6 7-9 0-6-9-7-18-1-3-1-2-3 14-21-1-12 3-6 34-20 6-2 12-2 24-14 48-16zM-483,-443l21,0 3,2-5,6-16,8-15,3-7-2 0-6 3-3zM-277,117l13,15 0,3-2,3-7,4-7-1-7-9-1-12 6-4zM-256,84l15,33 1,3-3,3-6,1-4-1-16-18-1-12 2-6 7-5zM-210,39l-3,1-1-1 1-5zM-183,102l1,6-8,18-1,15 1,6 7,9 0,6-13,18-4,3-3,0-4-3 0-6 9-30-1-6-8-9 1-3 2-6 15-20 3-3zM-161,201l3,6-1,1-3,3-6,0-1-4 1-7 3-3zM660,-37l12,8 9,11 7,15 1,6-2,3-27-4-12-8-3-4-3-11 2-6 7-10 3-1zM-282,168l5,12-1,3-4,2-3-1-3-7 2-6zM-321,19l1-1-1-3-3-1 0,3zM489,259l-10,2-2,3 0,3 3,2 3-1 6-3 6,0 3-4 0-5-3-2z"/>
<path id="s11" d="M-286,-441l3,6 1,8 42-2 15-5 4,5 2,8 19-8 5-3 12-13 13-5-111,0zM-264,-316l-6,40-1,33 1,4 6,6 4-4 13-45 4-18 0-15-3-4-3-1-12,0zM-294,-153l3,1 4-1 2-3 2-6-8-2-8,2zM-228,18l6,0 1-3-7-5zM-351,48l12,5 8-2-8-7-14,1zM-274,60l7,1 4-4 0-3-4-4-6,1-3,6zM-312,49l-9,2 2,3 10,3 12,8 6,0 7-5 0-6-7-7zM417,-363l12,14 9,1 0-3-6-6-3-9-3-2-3,0-5,2zM-906,-450l0,419 15,1 6-3 3-6 5-39 7-27 2-3 4-1 12-1 9,5 15,2 2,7-40,66-1,6 11,9 8,9 5,2 27-1 15-4 9-4 12-4 3,0 3,2 1,6-1,6-9,3-39,23-15,11-3-1-2-6 9-15-1-3-18,2-24-4-8-10-7-7-15,0 0,262 99,0 141,10 48-3 75-2 39,2 57-2 93,2 153,14 6,0 12-5 30-5 12,4 9-1 45,3 27-6 18-10 9-9 6-2 12,2 15,9 30-1 66-10 39-3 45-7 45-3 75-10 60-11 57-16 36-5 51-3 3,2 5,9 4,1 3-2 6-10 3-3 18,0 6,4 9,16 6,4 4-4 1-9 8-21 5-3 3,0 4,3 2,9 6,18 3,4 12,8 4,27 3,9 5,6 12,5 24,2 111-7 132,0 0-262-6-2-5-6 0-3 5-8 6-2 0-419-511,0 22,11 22,16 32,21 23,24 7,10 15,15 6,4 15,5 12,12 15,11 10,12 0,3-7,9-7,15-8,5-1,7 1,6 13,6 3,3-1,3-9,9-15,10-18,6-9,0-5-4 1-15 1-3 6,0 3-3-5-6-16-12-9-9 3-2 9,3 12-1 5-6 0-3-8-5-11-4-7-10-9-9-18-11-2,3 6,18 1,6-8,9-5,18-13,16-6,2-9,1-9,5-15,1-45,0-12-4-3,0-3,3 4,18 0,9-22,42 3,15-2,12 5,6 3,0 3-2 21-30 3-2 3,2 6,16 4,7 3,21 5,15 8,6 5,6 17,5 12,2 27,14 16,12 7,15 10,10 9,3 12-5 3,0 5,4 5,9 20,6 18,18 6,12 6,18 0,3-3,5-6,2-15-6-30,1-6,7-16,9-8,15-6,3-12,0-12-3-69-29-72-22-18-3-30,2-12-1-45-16-45-10-42,0-39-5-12,2-27,9-12,0-21-4-12,0-36,10-15,2-10-1-17-6-12-6-2-3 3-6 9-9 13-9 31-16 18-4 30-3 87-14 6-4 7-10 5-3 6,0 9,10 6,2 9,0 15-6 12-9 5-9 0-12-4-12-6-9-8-9-20-13-24-8-39-6-30-3-60-1-66,4-45-1-36-7-18-5-6-5-9-2-6,1-12,10-11,3-7,6-3,15 10,9 1,3 0,9-2,6-3,4-6,3-12-5-6,2-2,5 3,15-1,6-6,7-6,4-12-2-9,6-3,3-3,18 2,3 7,3 11,15 0,6-8,9 3,6 3,2 3-1 9-6 15-6 12-1 23,15 8,9 3,6 4,27-2,3-3,1-6,0-3,1 0,4 9,2 5,10 1,3-10,18 1,3 11,9 4,8 5,13-1,12 5,12-1,6-7,18-1,15 7,12 0,6-14,21-5,4-3,0-6-2-4-8 8-33-1-3-7-6-2-6 2-9 14-18 2-6-6-19-5-5-4,0-3,2-23,25-1,6 3,12-1,6-11,6-18,15-6,2-6,1-6-3-21-14-7-10 4-5 18-6 6-13 1-6-2-6-11-8-9-3-15-3-81,3-30-2-24-5-18-5-14-7-9-9-4-12-3-39 3-21-11-27-4-15 3-15-1-12 3-9 7-9 3-11 5-10 3-27 12-36 9-12 10-24 9-11 6-13 1-6-1-3-3-1-45-1-4-1-1-3 1-3 18-27 18-24 49-57 1-3-4-1-3,0-9,6-6,2-4-1-4-3 3-3 13-6 0-3-6-9 4-6 18-6 15-2 12,0 9,4 2,4-1,3-13,10-4,5 0,6 4,7 6-3 24-23 6-4 33-11 14-2-94-6 8-3 4-3 0-6-4-6 1-3-29,0-44,20-30,9-12,1-3,0-3-3 1-6 3-6 17-11 10-4zM-732,-314l9,2-5,9-4,3-3,1-9-3-9,0 0-2 6-8zM-521,-381l-4,6-12,7-24,20-6,9-2,9 1,3 34,23 19,22 3,6 0,3-6,9-34,24-21,8-69,32-6,1-5-2-6-6-4-7-6-4-24,2-7-3-1-12-3-6-1-12 2-6 6-9 1-6-9-6-18-2-4-1-2-3 1-3 12-18-1-8-5-4 6-6 19-9 22-14 15-3 21-12 51-18 9,0 12,9 39-17 6,1zM-477,-383l3,2-9,3-6,0-2-3 5-2zM-279,165l6,12 1,6-4,3-9,2-4-5-1-9 1-3 7-8zM-165,191l12,14 2,5-5,3-15,1-2-4 1-6 4-13zM-143,24l-4,2-5-2 1-3 4-1 5,1zM573,39l15,15 4,12 5,7 0,8-1,6-23,8-21-1-5-7-8-6 13-15 17-27zM654,-47l17,8 13,13 6,10 4,10 1,9-2,5-9,1-9-3-17-3-13-11-4-10 0-9 1-6-2-9 2-4 3-2zM848,-72l-11,17-4,1-2-3 6-10 9-5zM-750,167l15,16 1,3 0,3-4,4-12,2-5-3-2-3 2-18 2-3zM-147,246l2,6-2,4-6-5-3-5 1-3 2-1zM510,201l-3-1-2,4 2,2 2-2zM529,204l5,6 6,9 2-3-2-16-3-2-3,0zM510,225l-5,15 2,4 6,2 9-6 3-9-6-14-3-1z"/>
<path id="s12" d="M-520,-429l-1,3 5,2 3-1 2-4-2-4zM-547,-423l3-3-2-3-6,3 1,3zM-366,-408l-18,15 0,4 3,3 17-16 2-3-1-3zM-906,-408l0,76 168,0 27,3 8-1 7-3 21-14 12-1 18-11 21-7 21-9 9-7 30-8 3-3-6-5-21-8-21-2-48,0zM-264,-309l-3,33 0,34 3-4 18-59 0-10-3-3-9,0-3,2zM-294,57l3-1 2-2-2-4-6-1-5,2 1,3zM487,-432l5,5 6,3 6,0 3-2-3-9-6-4-12,0-1,1zM557,-264l13,0 2-3 0-3-17-4-2,4 0,3zM-205,-198l-14,5-6,4-3,6 1,6 2,1 18,1 6-5 9-11 3-7 1-6-4-2-3,0zM-15,-179l-114,7-45-2-18,1-4,5-15,42-5,4-6,1-1,4 10,15 15,7 51,14 21,2 102-15 84-10 42-6 12-3 24,2 10-6 5-6 2-6-1-12-9-12-13-9-18-7-39-6-24-3zM438,-426l36,25 22,23 8,11 15,14 6,3 6-1 8-6 5-6 11-7 9-1 3-1 9-9 9,2 21,10 2,3-3,3-5,1-30-2-3,3-1,4 1,6 4,6 20,18 8,9 7,21 0,9-10,21-8,12-34,30-8,4-24,5-24,1-1-1 4-9 1-9 9-15 5-3 2-3-27-24 1-3 12,3 9,0 6-3 1-3-1-3-3-3-15-5-9-9-15-10-1,15-11,9-4,18-9,12-8,6-12,2-9,4-18,2-42,0-12-4-4,2 4,18 0,12-3,9-18,33 3,12-1,12 4,2 3-2 21-30 6,2 3,5 3,11 5,9 3,21 5,12 14,15 15,5 12,1 30,15 14,12 7,14 12,12 9,1 6-4 6-1 4,2 8,12 18,5 18,18 7,13 1,9 4,9 0,6-3,4-6,1-15-6-29,1-7,8-13,7-4,6-1,12-5,6-7,3-12,0-24-5-63-25-72-22-15-1-30,1-12-1-42-14-36-6-18-1-30,4-33,0-12,2-13,5-65,41-42,15-9,5-18,11 0,9-6,10-3,2-6-4-8-11 2-9-3-9-12-9-18-9-15-6-9,6-6,1-15-1-9-3-11,3-2,3 7,12 0,12 5,12-1,9 5,15-1,9-6,18-2,12 8,18-2,6-13,18-8,7-3,0-6-3-6-5-3-5-1-9 4-24-6-8-4-10-5-4-6,0-12,5-11,14-2,6 2,21-2,3-5,2-3-2-1-15-2-6-12-4-38-26-2-6 2-9-3-3-13-7-24-5-105-9-21-4-42-11-12-7-6-8-1-9 3-9 12-21 22-48-7-36 3-15-1-12 3-9 7-9 3-12 5-9 1-15 3-15 11-33 9-12 10-24 10-12 6-15 0-4-3-1-48-2-4-2-1-6 24-36 48-60-1-1-24,24-22,25-26,36-10,18-8,8-33,22-21,9-69,32-6,0-5-2-7-6-3-6-6-5-24,2-7-3-1-12-3-6-1-12 1-6 8-12-1-3-8-6-18-1-5-2-3-3 0-3 8-12 0-3-21,17-2-2 2-6-1-3-14,2-6-7-6-2-135,0 0,262 12,6 6-1 3-2 7-45 6-24 2-3 6-2 12-1 9,5 15,2 2,2 1,6-39,66-1,6 11,6 8,9 3,2 27-1 15-3 9-5 15-4 5,2 2,9-1,6-3,2-9,2-39,23-15,13-4-1-3-6 0-3 5-9 0-3-1-1-9-1-18,3-9,5-6,1-18-12-6-1 0,223 105,1 123,16 51-4 39,1 42-2 48,2 54-2 42,3 51,0 141,12 12,0 30-11 8-8 7-2 18,6 24,5 18,1 21,0 12,8 14-6 10-11 12-4 9-12 6-2 3,1 6,6 3,1 15,0 87-13 183-15 78-14 54-16 33-5 66-4 15,4 21,8 3,0 12-9 6-11 3-1 4,7 10,6 7,24 9,7 12,5 5,6 10,22 6,5 9,4 15,2 21-1 117-9 102-1 0-224-6-1-6-5-13-14-1-6 11-7 4-5-3-12-5-36-5-21 0-5 3-1 8,6 2,6 8,48 3,5 0-261-138,0-32-11-5-6-5-9 0-3 6-1 174-1 0-76-288,0-30-2-27,2-9,3-18-7-6,0-1,1 8,12 10,9-2,3-7-3-20-14-66-26-15-4-2,2zM653,-54l10,3 11,6 16,15 7,12 3,12 2,9-3,6-12,2-27-6-5-2-10-9-3-6-4-21-4-12 3-6 5-4zM854,-75l-17,24-6,3-3-1-3-5 1-3 11-14 18-10zM861,-36l-2,6-1,1-3-1-2-3 0-3 5-10zM-750,164l21,16 1,3-1,6-5,6-4,2-9,1-9-2-4-4-1-3 3-9 1-12 4-4zM-278,156l5,12 7,9-2,6-2,3-6,3-9,1-3-1-4-12 0-6 10-14zM-165,182l18,19 1,12-4,2-21,3-3-1-2-4 3-18-2-9 4-5zM576,35l15,14 12,23 0,6-2,12-4,4-12,2-9,5-27,0-6-1-2-7-10-7 0-5 17-18 4-9 7-9 5-9 3-3 3,0zM495,-209l-3,2-1-3 1-4 3-1 2,2zM564,201l4,0 1-3-2-4-3,2zM510,231l-3,9 2,3 4,1 7-4 2-6-3-10-3-1z"/>
<path id="s13" d="M442,-426l35,25 22,23 6,9 14,13 6,1 2-2 6-12 6-6 1-3-6-6-29-18-43-19-15-5zM-18,-161l-45,6-33,2-18,4-29,11-3,3-2,6 7,9 12,6 15,3 24,0 69-5 39-6 36-3 21-7 9-6 1-3-2-6-8-6-21-6-39,0zM621,-353l10,8 8,22 0,14-4,15-7,12-25,30-24,20-10,10-14,7-27,7-24,3-9,3-3-1-3-3 0-9 8-10 2-9 11-17 6-4-5-6-19-15-2-3 0-3 5-1 9,3 9,1 5-3 1-3-1-3-4-3-11-3-14-8-6,0-15,9-3,5-4,15-8,12-9,7-12,1-9,5-15,2-45-1-12-3-3,1 0,3 5,15 2,21 4,15 2,6 8,10 4,14 5,9 4,21 5,12 12,14 15,5 12,1 30,14 15,13 6,13 11,12 7,2 12-5 6,1 9,11 6,4 12,3 15,14 5,6 5,12 2,9 4,9-1,6-3,6 18,12 6,6 5,6 3,9 6,9 1,6-1,12-2,6-3,3-24,9-33,0-5-3-3-6-10-9 1-6 18-18 6-12 15-21-16-8-24-1-9,3-6,7-9,4-4,4 0,6 3,12-2,7-12,9-12,3-18-2-21-6-54-21-69-21-60-4-54-9-21-1-18,2-39,10-42,18-48,29-18,10-24,18-6,1-9-3-15,7-6,1-12-4-1,13-5,3-9-4-15-14-9-1-9-4-9,0-38,8 0,6 4,6 6,6 1,3-1,3-11,4-9,6-7,8-1,6 2,3 12,2 15,6 7,7 1,6-5,18 2,24-2,4-15-1-11,3-2,3 4,6 3,3 6,1 12-2 6-5 3-1 33,4 36-6 12,6 12-4 6,7 6,1 6-3 9-11 21-12 54-9 48-5 114-2 75-5 75-15 66-22 30-5 63-8 1,9-4,6 0,6 15,8 12,3 8-5 5-6-1-6-2-3 20-5 3-10 9,3 16,30 2,6-1,12 1,6 7,3 5,7 12,8 11,12 13,5 12,2 18-1 144-16 69-1 0-188-6-1-6-3-27-23-18-12-5-8 0-3 8-13 3-9 3-2 3,5 3,18 3,3 15,0 10-5-6-42-7-33 6-3 21,2 0-188-132,0-9-1-24-10-15,4-3-2-5-6-5-18-8-6-24-10-15-3-18-1-10-7-8-3-7,0zM859,-81l-7,14-19,25-1,6 4,9 0,6-5,6-3,1-4-1-10-9-3-9 2-12 5-9 19-20 18-11 3-1zM642,-62l13,2 14,5 13,7 11,10 8,11 5,12 2,18-2,6-7,3-15,0-12-4-15-3-12-9-3-5-6-24-9-9-4-6 7-12zM-906,-294l0,188 15,1 2,3-7,39-2,24 4,3 3,1 5-4 6-39 6-27 2-3 5-2 15-1 9,4 15,2 3,3 1,6-39,66-1,3 3,4 12,4 6,0 51-50 3,1 3,5 7,27 8,8 33,1 19-3 11,6 23,18-2,5-9,9-10,25 0,6 4,9-1,6-11,7-9,2-39-12-2-15-5-9-2-21-3-4-9,0-39,23-18,16-12-1-18-10-9,4-6,0-12-8-9-3 0,188 93-1 30,2 24,3 54,16 21,3 45-3 42,2 42-2 48,3 48-3 54,3 42-1 51,5 36,1 54,7 21-1 12-3 4-2 5-12 4-3-2-9 1-14-3-2-18,2-4-1-3-3-11-21-5-42-4-6-3-1-12,2-5,5-2,9 3,27-2,6-15,5-9,8-18,3-4-4-3-15 3-6 5-6 5-12-7-6-23-14-9-1-9-7-9-5-30-7-39-7-57-3-66-9-45-2-9,1-11,6-7,5-3,7-6,1-4-1-2-3-2-6-7-11-18-9-3-4 2-6 10-16 18-12 33-16 21-14 18-17 30-37 3-8-2-21 3-12 0-15 4-9 5-6 3-12 5-9 1-24 16-42 7-9 10-24 11-14 5-13 0-3-5-2-42,0-15-4-45,31-21,8-66,31-9,1-6-2-6-6-3-6-6-5-24,2-6-1-2-2 0-9-3-9-2-12 2-6 7-12-1-3-7-5-21-2-9-6-12,5-15-1-10,3-1-3 3-6 0-6-7-2zM-762,150l2,9-11,10-3,1-2-5 8-15 3-3zM-749,162l25,18-1,6-2,6-8,8-21,1-6-2-4-4 0-6 6-9 2-18 5-1zM-846,21l1-3-5,0 1,4zM-174,49l6,8 15,5 3-1 4-4 1-3-2-3-9-4-15-3-2,1zM603,186l4-3-1-3-3,2zM510,236l0,4 3,1 3-1 3-3 0-6-3-3-3,2z"/>
<path id="s14" d="M483,-402l24,18 6,2 2-2 0-3-7-6-25-11zM-747,-276l-12,1-12,4-18,2-6-4-6-1-105,0 0,165 18,1 3,3 0,3-8,42-1,20 3,2 3-4 5-33 7-30 2-3 6-3 10-1 6,0 12,5 12,1 4,4 1,6-38,66 0,4 6,3 6,1 6-3 51-50 3,1 6,9 5,14 1,12 9,9 30,1 21-5 12,5 9,8 21,13 9-4 5,9 13,3 30,1 30-7 15-7 12-7 31-25 11-4 4-8-1-15 4-30 3-6 5-6 3-12 6-12-3-12 1-6 11-24 7-21 8-10 10-23 11-16 4-8-1-5-45-2-12-3-6,1-42,28-20,8-67,32-9,1-6-3-6-5-4-7-5-4-24,2-6-2-2-2-1-9-3-9-1-12 2-6 6-9 1-3-2-4-9-5-15,0-12-5zM-655,-45l-5,26-3,5-8-10 0-12 7-9 7-2zM729,-295l-30,1-15,4-15,6-18,9-18,13-51,43-30,14-30,8-18,1-12-5-4-3-1-6 1-6 6-9 4-11 11-16 5-3-1-3-3-3-19-15-2-6 3-2 12,3 9,1 4-2 1-3-1-3-4-3-12-2-9-6-6-1-18,8-3,5-3,14-9,12-9,7-12,2-9,4-18,3-42-1-12-3-2,3 13,51 9,18 4,14 4,7 4,21 6,12 10,12 15,6 12,1 18,7 12,6 16,13 7,15 8,9 8,4 12-5 6,1 12,12 18,8 17,19 12,30-2,12 22,15 7,9 3,9 6,9 2,9-3,15-4,6-8,6-3,21 10,12 4,12 14,24 2,12 11,12 12,4 18,11 12,2 12,1 84-11 84-16 51,0 0-152-9-2-36-22-12,0-7-1-23-7-15-8-9-7-6-8-4-9-2-9 3-12 7-9 8-4 24-4 9-10 24-14 3,5-1,6-8,15-12,15-1,6 1,3 3,2 3,0 3-3 5-11 4-5 3,4 4,19 2,4 12,2 9-3 2-3-5-36-8-36 1-3 4-2 24,1 0-165-102,0-15-1-12,1-12-6-3-2-6-12-12-7-6,0zM807,-243l0,8-3,0-8-8 8-2zM640,-69l17,3 18,7 15,9 13,11 8,12 5,12 0,18-1,6-3,3-10,2-18,0-13-5-15-3-13-9-10-31-16-8-15-12-1-3 2-4 3-1 12-2 12-5zM513,30l-10,6-1,3 8,15 4,3 0,9 5,12 7-3 14-13 3-5 0-6 12-11 4-10-10-6-18-1-12,1zM-657,91l2,2 10,4 3-1 0-6-6-5-6,0zM-780,3l-43,24-14,16-6,5-3,9-3,2-12,1-36-22-9-1 0,152 48,0 21-6 18-8 18-12 18-6 18-17 4,1 8,16 21,15 11,2 1,6-4,21 1,2 12,6 15,4 45,0 45,5 48-1 48,3 48-2 51,2 51-2 42,4 33,0 39,9 21,2 12-1 15-4 4-3 2-6 9-4 2-5-1-3-1-1-15,3-6-3-4-5-9-21-6-42-2-6-3-2-12,2-4,6 2,36-1,5-14,4-13,10-18,4-9,6-3-1-3-1-2-6 2-4 7-5 1-3-5-9 0-3 11-9 4-12-6-5-21-11-24,6-48-16-21-5-24-2-42-1-46-5-68,1-27,4-6-1-12-9-9-3-6,4-15-11-3-1-9,2-6,11-10-6-3-15-5-7-21-12-9,0-24-10-12-2-3-4-2-13-5-12-2-21-2-3zM-718,156l1,3-3,4-3-1-6-6 3-3 3,0zM207,37l-36,3-33,10-52,25-44,30-18,8-9,1-6-1-6-8-3-2-3,0-9,5-2,9-3,3-16,8-15-1-9,1-30-5-36,8-3,2-3,11-3,3-11,6 12,15 1,9-2,9 1,3 5,5 15,3 18-2 39-7 15,2 17,17 1,6-4,6 1,4 15-14 3-11 0-15 3-4 3-1 33-5 36-2 144,8 63-2 27-2 66-15 18-6 20-10 33-21 12-9 4-6-1-6-5-6-31-18-35-16-54-16-24-5-51-5zM-162,140l-5,7 2,2 12,1 6-9 1-6-7,0z"/>
<path id="s15" d="M-906,-264l96,0 6-1 4-2-7-1-99,0zM-744,-276l-36,7-21,14-12,6-93,0 0,136 18,0 9,4 15-3 12-1 9,5 15,2 3,2 2,5-1,9-22,36-13,24 0,3 7,2 6-1 46-46 8-6 3,0 8,15 4,10 2,14 7,7 6,1 27,0 17-5 16,2 12-7 18-2 6-5 9-4 12-11 3,0 0,6-6,15 3,6 24,7 24,3 15-3 12-5 33-20 16-3 2-3 2-9 3-30 3-9 7-9 2-9 5-9-1-8-3,0-21,19-3,1 0-7 9-16 18-16 6-8 12-31 9-12 10-24 8-9 6-15-6-2-39,0-12-3-6,0-42,28-19,7-68,32-9,1-6-2-15-17-24,2-6-1-3-3 0-9-3-9-2-12 2-6 6-9 1-3-1-3-9-5-15-1-12-4zM-624,-112l10,1 0,3-7,5-3-1-2-4zM-780,4l-41,23-11,12-7,12-1,24 3,5 4,1-4,3-6-1-18-9-33-22-12-2 0,116 33,0 9-2 13-11 23-23 12-4 9-6 16-18 8-6 6-2 9,2 3,3 4,12-2,9-2,3-6,2-33,0-5,4 2,5 15,4 3,6 3,3 18-13 6-1 6,5 6,15 18,13 3-1-11-12 0-6 5-3 9,4 12-1 7-6 2-3-1-3-14-11-2-7 2-3 15-12 6-12 0-3-18-12-12-3-33-12-5-6-2-15-4-9-3-24zM-662,114l-2,15 4,9-6,18 1,12 5,6 15,10 12,6 18,5 99,8 48-2 48,1 24-4 33-7 11-5 4-6 0-3-5-6-15-12-17-9-26-8-102-9-60,1-12-3-12-8-6-1-13,1-8,5-12,1-5-3-4-6-3-2-3-10-3-4-6-1-3,2zM-317,141l4,9-8,9 6,21 3,6 3,0 1-3-2-6 0-9 4-3 14-3 4-9-3-5-18-10-4,0zM-241,135l-2,6 3,33-1,6-2,2-12,3-9,9-11,7 8,6 21,8 15,2 15-2 5-2 2-3-11-33-5-40-3-5-3-1-6,1zM738,-294l12,7 4-1 0-3-4-3-9-3zM786,-262l9,1 15-3 96,0 0-4-99,0-18-4-7,2-2,3zM846,-52l-3,7 3,3 3-3 3-12zM489,-297l-21,6-6,20-9,11-9,7-10,1-11,5-18,3-42-1-9-2-3,1 14,54 6,12 4,15 6,9 3,21 6,12 9,10 15,6 15,3 15,4 15,8 16,14 5,12 10,12 5,2 9-4 9,0 15,14 12,5 21,22 11,30 0,12 16,9 9-1 27-29 4-3 8-1 3-6-1-14-5-13-6-4-12-3-6-7-13-9-5-18 2-3 43-1 21,4 18,6 22,12 25,18 7,9 5,12 0,6-7,15-5,9-5,3-33-3-18-6-12-2-9-5-5,1-1,6-6,13-20,38 0,9 2,5 3,2 27,5 6,8 2,7 15,27-2,2-18,2-15,12-15,2-9-2-2,2-1,3 3,7 6,11 7,6 8,15 9,7 10,2 17,9 12,3 15,0 45-6 57-10 36-9 36-12 39-1 0-116-9-2-27-14-51-14-24-10-12-7-15-12-8-9-3-9 1-6 4-9 12-16 6-12 2-2 16-2 12,3 15-1 8-6 25-13 3,1 2,9-6,12 0,6 4,6 6,24 3,3 6,1 6-1 5-3-4-42-4-17-6-16 2-3 4-2 27,0 0-136-90,0-4,3-2,12-2,3-4,1-24-17-30-13-24-4-21-1-36,4-12,4-18,9-40,29-38,20-30,10-24,3-6-3-4-6-11-7-1-8 1-6 6-9 5-12 14-18 1-3-22-18-2-6 4-4 12,5 9,0 4-4-4-5-12-2zM516,-105l19,0 5,3 3,4 13,2 4,3 1,6-6,1-6-1-9-7-21-4-5-4zM243,50l-72,12-15,5-16,8-21,15-16,15-6,12 0,6 2,6 7,9 14,9 15,5 30,6 30,5 27,3 63-1 30-4 63-19 12-6 8-7 8-9 4-9 1-6-2-9-4-6-9-8-15-7-42-14-24-5-57-6z"/>
<path id="s16" d="M489,-295l-21,5-6,20-15,17-15,2-6,4-9,1-12,5-51-4 0,5 12,44 11,31 5,9 4,21 7,12 9,10 12,5 30,3 3,0 4-3 2-8 3,5-3,9 1,3 8,6 8,9 4,1 12-2 9-9 3-5 1-9 2-4 6,0 18,5 9,0 15,6 13,2 14,10 54,5 18,4 27,8 39,17 15,3 12-2 9-4 25-23 5-3 15,0 18,9 9,1 18-8 15-9 6-2 3,3 0,9-5,15 4,9 4,20 3,4 3,1 9-1 3-2 0-13-3-22-6-27-3-4-15-6-10-7-13-12-13-20-1-4 7,0 37,18 9,6 8,9 24,1 0-131-87,0-6,4-3,14-9,4-6-9-15-7-12,1-54-6-39,1-12,3-18,7-26,16-67,33-24,8-24,2-6-5-4-14-10-6-1-3 3-15 4-6 5-12 16-21-22-18-2-6 2-4 3-1 16,5 5,0 3-3-3-4-12-1zM488,-126l-2,4-3,0-2-4 2-4 3-1zM-750,-273l-9,1-9,3-12,2-18,12-15,8-93,0 0,131 21,1 9,3 24-1 12,5 12,1 3,2 4,9 0,6-19,30-12,22-4,8 1,1 3,1 5-2 46-46 9-4 4,2 8,13 4,11 3,15 5,5 6,2 24,0 9-1 9-4 18,0 12-7 15-2 15-8 15-14 9-4 6,3 4,9 14,13 9,3 24-3 15-5 21-10 21-5 3-3 1-5-2-12 1-6 6-15 6-7 7-20-1-2-3,2-15,14-6,2-3-1-2-3 2-9 8-15 22-19 6-7 10-28 8-9 10-24 11-14 4-10-1-3-42,0-18-3-21,12-21,14-19,7-68,32-9,1-6-1-15-17-27,1-6-4 0-9-4-9-1-12 2-6 7-12-6-6-4-2-18-1-9-3zM-645,-95l1,8-4,3-6-6 0-6 3-3 3,0zM-625,-114l16,1 0,5-9,9-6,1-5-7-1-3 1-3zM536,-66l-4,6-8,6 0,3 9,9 10,6 17,18 12,30 1,13 9,7 6,2 3-1 32-33 13-6 1-12-5-12-5-3-9-2-6-3-6-6-13-10-3-9-5-4-6-2-12,4-21-6zM-780,6l-42,23-9,13-1,6 4,6 0,12 7,9-1,3-10,12-1,6 2,4 9,10 6,3 6-2 12-9 15-13 12-2 2-3-1-9 5-12-4-9-2-15-5-9-2-21zM648,7l-29,59 0,3 8,6 15,1 6,4 5,7 3,9 16,27-3,5-21,5-12,9-12,3-5,5 1,3 7,3 2,3 1,12 12,10 33,12 15,1 18-1 60-11 42-10 33-12 33-16 30-1 0-79-12-3-15-10-13-6-56-14-54-21-9,1-21,13-4,3 0,9-5,4-2-1-1-3 3-9-3-3-15-6-21-3-12-5zM-906,64l0,79 24,0 6-1 9-10 7-15 1-9-2-9-11-15-22-18zM246,64l-66,17-15,6-11,9-7,9-2,9 2,6 5,6 8,6 19,9 19,6 36,5 48,1 27-3 24-8 36-17 9-6 5-8 0-9-6-9-15-9-29-11-15-3-57-7zM-301,156l6,0-1-3-3,0zM-241,138l4,42-3,6-7,3 1,3 9,3 15,1 2-4-8-57-3-1-8,1z"/>
<path id="s17" d="M-747,-273l-33,7-20,14-13,6-93,0 0,128 21,0 12,5 21-1 9,4 12,2 6,2 9,15 9,6 18,4 3,3 11,24 3,15 4,4 6,2 27,0 15-6 18-1 15-9 12-2 12-6 17-18-8-6-4-9 1-6 9-10 7,1 3,6-2,21 10,1 27,14 12,1 15-1 47-15 6-18 14-24-1-3-7,6-5,2-9-3-2-5-1-18 3-5 18-13 21-20 8-22 10-15 7-18 11-14 3-7-3-3-36,0-12-4-8,1-18,9-22,15-18,6-69,33-9,1-6-2-15-17-27,2-6-4-5-31 1-6 7-12-6-6-21-2-9-3zM-618,-116l12,0 2,2-1,3-3,6-7,8-3,2-6,2-3-2-5-7-1-6 5-6zM-783,10l-36,20-6,6-2,6 5,9-1,12 4,3 39,1 6-1 3-3-2-21-6-12-1-18zM-822,86l-3,2-2,5 2,5 7,4 5,0 12-3 6-6 0-3-6-5-12-1zM-906,86l0,28 15,0 5-3 2-6-1-6-3-6-6-6zM237,84l-25,12-11,9-2,9 5,9 12,7 20,5 28,2 30,0 18-4 15-7 11-9 5-9-2-9-5-6-9-5-9-3-57-6-12,1zM-238,147l4,30 3,4 3,1 2-2 1-4-3-28-3-11-6,1zM513,-284l1-1-1-2-3-1-4,0-1,3zM467,-288l-4,18-16,17-15,3-6,4-12,2-3,4 29,42 8,18 1,6-9,9 0,9-2,3-12,0-12,7-3,0-3-2-2-5 2-5 3-2 9,1 6-2 3-3 0-4-13-27-17-27-6-15-3-3-9-2-24,1 12,45 8,19 1,8 7,13 2,13 3,8 12,18 15,6 24,0 2-3-1-6 2-3 6-5 6-1 9,2 17-8 4,0 3,3 3,13 9,1 18,8 18,2 18,6 54,6 45,11 51,17 21,2 18-4 45-23 9,2 14,13 7,2 6-1 6-4 9-3 6-5 17-7 2-3-3-3-19-12-12-12-4-9-13-18 2-2 15,2 36,18 9,6 6,9 3,1 21,1 0-128-87,1-4,2-4,15-10,8-15-3-12,0-48-5-12,3-21-5-21,2-18,6-45,18-66,32-18,6-18,3-15-9-1-5 2-15-2-3-8-4-2-5 3-15 6-9 3-9 16-21-21-18-2-6 2-6-1-3-16,0zM479,-159l-2,5-3,1-5-3-2-3 1-3 6-3 5,3zM831,-190l24,25 0,6-12-6-13-12-4-6 0-6 2-2zM868,-96l-2,15-5,12 1,3 8,30 3,1 6,0 4-4-1-12-6-38-3-7zM543,-66l-8,15 1,6 26,30 12,30 0,9 8,6 6,1 3-1 30-31 12-5 3-3 0-9-6-12-12-2-6-3-9-9-11-7-2-3-2-6-3-4-6-1-12,4-15-6-6-1zM651,18l-22,42-3,9 4,4 12,1 7,4 5,6 4,12 16,27 0,3-5,4-21,6-12,9-10,2-2,3 6,6 4,9 26,14 21,6 21-1 24-4 60-14 30-9 27-11 18-11 27-20 18-1 0-28-12-1-17-19-9-6-13-6-42-10-48-16-15-3-9,1-9,5-8,8-8,3-6-3-3-9-7-9-4-2-21-2-12-6-8,1z"/>
<path id="s18" d="M467,-285l-3,15-14,16-6,4-9,0-9,5-11,2-1,3 30,40 15,26 6,4 6,1 9-2 9-18 0-3-10-9 0-6 4-12 6-11 4-10 14-18-20-18-4-12-6-2-6,0zM816,-242l-3,14-12,15-3,9-12,1-54-9-30-2-27,2-27,6-45,15-54,30-51,22-5,4-1,9 3,3 6,1 21,11 15,1 21,6 7-1 11-5 12,1 24,5 78,23 21,5 21-1 24-9 12-2 4-2 8-10 6-4 6-1 6,4 8,14 7,7 6,3 6-2 15-7 4-4 8-3 8-6-21-15-9-9-12-21-8-9 0-3 2-3 19,1 27,13 12,8 15,16 21,1 0-124-84,0zM831,-193l26,28 2,6-1,7-3,1-24-16-14-13-2-6 2-6 8-3zM-745,-273l-35,8-18,13-15,7-93,1 0,124 18,0 15,6 21-1 12,6 9,0 6,2 9,13 9,6 21,8 12,26 1,12 5,6 6,2 27,0 15-6 19-2 8-6 14-15 14-9 3-6 2-15 9-14 3-1 12,0 6-6 6-2 18-3 5,2 0,6-6,15 7,3 7,9 5,3 12,1 12-2 27-7 9-6 5-10-1-3-10-9-3-11-11-19 0-6 15-48 25-54-2-1-18,4-24,15-21,8-66,31-9,1-6-1-15-17-27,1-6-3-2-5 1-6-4-9-1-12 2-6 6-9 1-3-3-3-6-4-15,0-12-3zM866,-69l3,12 1,10 3,3 0-10-3-18-3,0zM544,-63l-6,12 1,6 10,14 14,16 7,18 5,9 1,11 6,5 6,1 33-32 13-6 1-9-5-10-3-1-9,0-9-5-6-8-15-9-3-9-3-2-6,1-6,4-3,0-6-5-12-4zM658,15l-25,45-2,9 14,4 6,5 6,9 3,9 15,24 1,6-7,7-19,5-11,7-11,5 8,11 12,1 18,10 18,4 27-2 45-10 42-13 25-10 21-12 17-15 8-12 2-12-4-9-9-9-13-6-98-31-9,1-18,7-15-1-9,4-6,0-2-1 0-3 11-15 0-3-3-3-24-1-5-5-4-2z"/>
<path id="s19" d="M468,-285l-3,17-15,16-3,2-12,1-9,5-6,1-2,3 29,39 12,21 3,4 6,2 6-3 10-15-7-9 0-6 5-15 7-12 2-12 7-4 7-8-2-3-17-15-3-9-3-3-9-1zM816,-240l-2,12-7,15 2,6 7,5 15,5 16,17 13,15 5,18 20,23 3,1 18,0 0-120-81,0-6,0zM-735,-276l-33,10-12,2-18,13-15,7-93,1 0,120 18,1 15,7 21,0 12,5 9,0 6,2 12,14 9,5 18,7 13,28 2,13 5,5 7,1 24,0 15-7 15-1 5-2 16-18 16-12 8-21 9-13 12,0 12-8 27-4 3,1 3,7 3,2 12,5 18,1 13-3 6-3 2-6-1-6-8-16-6-2-27,0-3-1-2-5 2-7 13-17 5-13 9-11 6-13 7-8 14-27 6-6-6,0-21,13-21,7-66,31-12,1-9-6-9-12-27,1-6-2-2-3 0-9-3-9-1-12 1-6 6-9 1-3-3-3-5-3zM717,-199l-42,2-24,3-21,5-26,9-21,12-21,15-16,14-9,4-9,9-6,9 33,10 4-1 5-9 3-2 18-2 87,28 24,6 18,1 18-2 27-8 3-2 4-10 23-12 3,1 10,8 7,24 5,6 5,2 6-1 14-7 4-5 9-3 4-4-7-7-18-8-14-30-9-9-4-6-9-3-2-3 1-9-3-3-32-14-15-4zM546,-61l-5,10 0,6 8,13 13,14 11,23 5,7 1,9 4,3 5-1 17-17 16-12 9-3 3-3 0-6-3-6-3-3-9,4-2-1-10-9-6-9-6-3-6-1-3-4-3-9-6,1-9,6-6-8-9-3-3,0zM657,24l-21,42 12,7 7,8 7,15 16,24 1,6-4,5-9,6-15,4-16,9-1,3 5,4 12-4 3,1 15,9 21,4 21-2 21-5 44-13 29-12 23-15 13-15 2-9-4-9-12-9-19-9-40-16-27-9-24,1-9-1-12,5-9,0-5-4 1-3 10-13 1-5-13-2-9,3-9-7z"/>
<path id="s20" d="M471,-287l-3,11 2,9 7,9 15,5 3,0 4-2 2-3-1-3-16-15-4-9-6-3zM462,-261l-15,13-12,2-12,6 33,50 6,8 3,2 3,0 4-3 6-9-3-9-1-6 4-15 8-12 0-6-6-11-12-9zM818,-240l-7,24 2,7 3,3 15,5 18,19 11,14 8,18 17,22 6,1 15,0 0-115-84,0zM-750,-270l-30,7-18,13-15,8-93,0 0,115 18,1 15,10 21,0 12,5 15,3 9,10 9,6 21,9 14,29 2,12 5,5 6,1 24-1 15-7 12-1 6-3 18-20 12-8 12-22 9-12 15-2 8-5 19-4 14-5 4-3 2-6-1-9 2-9 13-18 7-15 7-9 7-15 8-9 12-24-3-1-3,1-12,8-21,7-66,31-12,1-9-7-9-11-27,1-6-3-2-3 0-9-4-9-1-12 2-6 6-9 0-3-4-4-4-2-26-2zM651,-182l-27,7-18,8-18,14-4,6-1,6 6,6 9,6 51,21 32,9 30,3 21-4 17-8 7-12 17-15 5-9 0-6-2-3-9-9-15-9-16-6-28-6-30-1zM789,-150l9,18 1,9 2,4 6,3 6,0 5-1 3-3-1-12-3-9-4-5-9-6-12,0zM810,-105l1,9 0,9 5,6 3,1 5-1 13-7 6-7 8-4-5-6-12-2-21,0zM549,-61l-7,13 5,12 17,18 9,19 3,0 24-28 2-6-2-6-6-4-6,2-3-1-4-12-2-2-12,9-3-2-3-8-6-4zM615,-15l-2,6 2,3 14-6 1-6-3-4zM696,51l-9,0-9-2-3,1-18,10-8,6-1,3 12,15 3,11 19,28-2,6-13,12-1,3 9,8 15,4 15,0 18-3 24-7 38-17 16-12 6-9 2-9-5-9-10-9-20-12-54-21-12-2z"/>
<path id="s21" d="M470,-279l2,6 8,8 9,5 3,1 2-2-17-23-5-1zM459,-247l15,11 6,1 1-2-2-6-14-12-3-2-3,2-2,3zM819,-239l-2,17 2,6 7,0 17,9 33,61 9,7 21,1 0-103-81,0zM-735,-274l-33,11-12,2-15,10-18,10-93,0 0,103 18,0 3,3 4,12 8,5 24,2 9,4 12,2 4,2 11,11 9,6 18,7 15,30 2,12 4,4 6,1 18,0 10-2 16-12 25-24 12-4 6-3 18-27 3-2 15-2 6-4 21-5 12-7 4-6 1-12 3-9 14-18 5-12 9-12 5-12 8-9 11-21-3-2-12,7-21,7-66,31-12,1-3-1-6-5-9-12-27,1-7-3-6-33 1-6 6-9 0-3-3-3-6-3zM810,-137l3,0 1-4-1-3-6-2-3,2 1,3zM642,-167l-15,5-9,6-6,9 1,6 6,6 14,9 29,12 28,6 12,1 12-2 18-8 4-6 5-12 1-9-4-8-8-7-13-6-15-4-18-2-21,1zM806,-120l7,1 3-1 1-3-4-4-6-1-3,2 0,3zM813,-87l3,4 6,1 13-8-1-3-3-1-12-1-6,5zM544,-48l5,12 17,18 7,15 6-5 19-22 0-6-1-3-3-1-9,8-3,1-3-1-1-4 2-6-1-7-3-1-6,5-6,1-6-13-3-1-6,0zM711,48l-15,6-16,0-20,10-6,5 0,3 11,15 1,6 18,27 1,6-4,9 0,4 6,3 12,2 23-3 25-9 11-6 12-9 5-6 2-9-1-6-7-9-13-10-27-14-9-13zM687,108l-4,0-2-3 3-5 3,0 1,2 1,3z"/>
<path id="s22" d="M820,-237l-1,10 3,5 18,7 66,1 0-26-81,0zM-735,-274l-30,12-12,1-33,20-96,1 0,26 60,0 4,1 2,3-13,15-21,42-6,21 0,6 2,3 8,5 18,0 12,5 15,3 11,11 10,7 18,7 3,2 13,26 2,14 3,3 6,2 21-1 6-2 42-39 12-2 6-4 17-25 16-1 9-6 20-5 10-6 4-6 5-21 14-18 7-15 7-9 7-15 8-9 7-15-2-2-9,5-20,6-67,32-12,1-6-3-12-15-27,1-8-4-6-33 1-6 6-9 0-3-3-3-5-2zM-690,-138l3,3-6,6-7,0 1-6 3-3zM655,-147l-2,3 0,3 4,6 10,6 9,3 11,1 12-1 6-3 3-6 0-6-2-3-4-3-9-3-18-2-13,2zM816,-88l2,4 4,0 4-3-3-3-4,0zM548,-48l4,12 6,5 2-5-5-18-3-1-2,1zM576,-21l-2,6 2,3 11-12-2-1-5,1zM705,54l-9,9-15-2-18,8-2,3 4,3 28,2 6,3 0,4-5,15-2,9-3,6 1,7 3,3 3,1 15-1 15-4 12-9 3-9-2-6-5-6-17-13-5-5 0-9 5-6 0-3-6-3z"/>
<path id="s23" d="M822,-236l0,8 2,3 14,6 68,1 0-19-78,0zM-735,-273l-21,9-12,11-3,1-3-6-6,0-24,16-9,4-93,1 0,19 66,0 6,2 3,6 7,6-2,6-26,24-12,16-8,14-5,12-1,6 2,3 6,4 21,0 9,5 12,2 24,18 9,3 12,6 16,31 2,11 6,2 24-1 42-41 6-2 9,0 6-4 6-7 9-15 6-2 12,0 9-5 18-6 12-8 3-6 4-18 14-18 6-15 9-11 6-13 9-10 5-11-2-1-24,6-69,33-12,1-6-2-13-16-26,1-6-2-3-2-6-33 1-6 6-9 0-3-3-3zM-699,-168l3,3-3,3-7,0 1-4zM-696,-140l12,1 1,4-10,9-9,0-1-3 1-3 3-6z"/>
<path id="s24" d="M-751,-264l16-7 24,1 5,3 1,3-6,9 0,6 6,33 3,3 6,2 24-2 5,3 4,7 9,9 15-2 69-32 12-3 6,0 2,3-11,15-6,13-7,8-7,15-13,18-8,24-9,9-31,12-18-1-6-6-3-1-9,8-1,3 2,6 2,2 9-2 0,6-9,10-3,2-5,0-5-3-5-6-3,0-69,35-6-2-12-23-21-9-24-19-12-3-9-4-18,0-6-4-1-4 7-15 9-12 11-12 30-27 17-21-1-11-12-3 1-4 29-17 1,2-2,9 4,1 6-2 9-7zM-705,-168l-4,3-1,3 2,1 9,1 6-5 0-3-3-1zM-696,-141l-6,5-4,7 1,4 6,2 6-1 10-8 3-6-4-3z"/>
<path id="s25" d="M-741,-267l9-2 23,2 2,3-6,12 7,36 7,5 27-1 3,1 6,9 9,9 18-3 68-32 7-1 4,1-3,6-7,8-6,10-15,18-19,51-6,9-29,11-12,0-4-2-8-10-6,1-13,12-2,9-3,2-9,2-69,36-6-7-5-12-3-3-10-5-9-3-11-7-14-12-2-6 5-15 7-9 4-12 8-9 7-15 0-3-7-6-1-3 2-15 14-12 8-3 0-6 3-3 13-11 15-19zM-702,-171l-9,6-1,3 3,3 10,0 8-6 1-3-3-2zM-699,-142l-8,13-1,4 3,3 9,1 6-2 10-9 3-6-2-3-5-2z"/>
<path id="s26" d="M-729,-240l12-8 3,1 5,19 1,9 3,6 6,3 27-1 3,1 12,18 21-4 66-31 6-1 3,3-9,11-4,7-18,21-18,51-6,9-23,10-12,0-6-3-9-11-6-3-3-8-3-2-9-2-12,1-3,3-7,12-2,6 3,6 12,2 1,1-1,4-67,35-5,1-3-2-4-8-3-3-14-8-9-2-15-10-8-10 2-9 2-6 7-9 4-12 10-12 6-15 1-6-4-6-3-15 10-7 15-2 27-19zM-705,-172l-8,7-1,3 3,4 12,1 7-5 4-6-2-4-9-1zM-735,-220l-4,4 1,4 4-4z"/>
<path id="s27" d="M-750,-227l-16,11-8,9 3,3 9-1 9-6 9-9 4-8-4-1zM-717,-241l-11,13 0,9-2,6-5,8-6,5-3,2-6-4-6-1-18,6-3-5-3-1-3,1-3,4-1,15-6,15-5,9-6,7-6,14-6,9-3,9 0,5 3,4 12,9 6,3 7-3 11-43 9-20 3,15 1,18-4,10-8,11-4,12-1,3 4,3 12-3 29-15 10-2 12-7 13-21 5-5 18,0 9,2 3,9 13,15 5,3 12,0 21-9 6-9 18-51 18-21 12-18-3-1-5,1-67,31-11,2-5,3-5,8-8,7-13,2-8,10-7,5-12,2-6-2-2-5 1-3 7-8 6-3 9,2 6-2 5-7 17-12 1-3-5-11-3-1-24,1-9-2-5-5-4-24z"/>
<path id="s28" d="M-570,-225l-66,31-12,3-3,2-6,10-9,9-6,2-9,2-12,11-4,2 1,3 24,1 3,3 4,11 14,17 12,0 18-8 7-9 20-54 16-18 9-15zM-720,-211l-9,9-6,10-12,6-5,6-2,6 0,18-4,27-12,21-1,3 1,3 11-4 18-10 9-1 15-9 12-20 3-3 4-1-16-4-3-2-2-6 2-6 8-9 4-3 6,0 6,1 3-1 6-7 16-11 1-3-2-6-3-2-27,1-12-3z"/>
<clipPath id="zl"><rect x="-910" y="-204.0" width="1820" height="402.3"/></clipPath>
<pattern id="pl0" width="48" height="48" patternUnits="userSpaceOnUse"><rect width="48" height="48" fill="#a2cddb"/><use href="#n1" stroke="#b0e0e6"/><use href="#n2" stroke="#93bad0"/><use href="#n3" stroke="#b0e0e6"/><use href="#n4" stroke="#7694b9"/><use href="#n5" stroke="#b0e0e6"/><use href="#n6" stroke="#4b5b97"/><use href="#n7" stroke="#b0e0e6"/></pattern>
<pattern id="pl1" width="48" height="48" patternUnits="userSpaceOnUse"><rect width="48" height="48" fill="#85a7c4"/><use href="#n1" stroke="#93bad0"/><use href="#n2" stroke="#7694b9"/><use href="#n3" stroke="#b0e0e6"/><use href="#n4" stroke="#5a6ea3"/><use href="#n5" stroke="#b0e0e6"/><use href="#n6" stroke="#2f3581"/><use href="#n7" stroke="#b0e0e6"/></pattern>
<pattern id="pl2" width="48" height="48" patternUnits="userSpaceOnUse"><rect width="48" height="48" fill="#6881ae"/><use href="#n1" stroke="#7694b9"/><use href="#n2" stroke="#5a6ea3"/><use href="#n3" stroke="#85a7c4"/><use href="#n4" stroke="#3d488c"/><use href="#n5" stroke="#a2cddb"/><use href="#n6" stroke="#182477"/><use href="#n7" stroke="#b0e0e6"/></pattern>
<pattern id="pl3" width="48" height="48" patternUnits="userSpaceOnUse"><rect width="48" height="48" fill="#4b5b97"/><use href="#n1" stroke="#5a6ea3"/><use href="#n2" stroke="#2f3581"/><use href="#n3" stroke="#6881ae"/><use href="#n4" stroke="#202276"/><use href="#n5" stroke="#85a7c4"/><use href="#n6" stroke="#135092"/><use href="#n7" stroke="#b0e0e6"/></pattern>
<pattern id="pl4" width="48" height="48" patternUnits="userSpaceOnUse"><rect width="48" height="48" fill="#202276"/><use href="#n1" stroke="#3d488c"/><use href="#n2" stroke="#182477"/><use href="#n3" stroke="#4b5b97"/><use href="#n4" stroke="#135092"/><use href="#n5" stroke="#6881ae"/><use href="#n6" stroke="#0c91bb"/><use href="#n7" stroke="#93bad0"/></pattern>
<pattern id="pl5" width="48" height="48" patternUnits="userSpaceOnUse"><rect width="48" height="48" fill="#153a84"/><use href="#n1" stroke="#182477"/><use href="#n2" stroke="#135092"/><use href="#n3" stroke="#2f3581"/><use href="#n4" stroke="#0e7cad"/><use href="#n5" stroke="#3d488c"/><use href="#n6" stroke="#07bdd6"/><use href="#n7" stroke="#6881ae"/></pattern>
<pattern id="pl6" width="48" height="48" patternUnits="userSpaceOnUse"><rect width="48" height="48" fill="#1166a0"/><use href="#n1" stroke="#135092"/><use href="#n2" stroke="#0e7cad"/><use href="#n3" stroke="#153a84"/><use href="#n4" stroke="#0aa7c9"/><use href="#n5" stroke="#202276"/><use href="#n6" stroke="#02e9f1"/><use href="#n7" stroke="#4b5b97"/></pattern>
<pattern id="pl7" width="48" height="48" patternUnits="userSpaceOnUse"><rect width="48" height="48" fill="#0c91bb"/><use href="#n1" stroke="#0e7cad"/><use href="#n2" stroke="#07bdd6"/><use href="#n3" stroke="#1166a0"/><use href="#n4" stroke="#05d3e4"/><use href="#n5" stroke="#153a84"/><use href="#n6" stroke="#00f0e7"/><use href="#n7" stroke="#2f3581"/></pattern>
<pattern id="pl8" width="48" height="48" patternUnits="userSpaceOnUse"><rect width="48" height="48" fill="#05d3e4"/><use href="#n1" stroke="#0aa7c9"/><use href="#n2" stroke="#02e9f1"/><use href="#n3" stroke="#0c91bb"/><use href="#n4" stroke="#00f0e7"/><use href="#n5" stroke="#1166a0"/><use href="#n6" stroke="#00c49e"/><use href="#n7" stroke="#182477"/></pattern>
<pattern id="pl9" width="48" height="48" patternUnits="userSpaceOnUse"><rect width="48" height="48" fill="#00ffff"/><use href="#n1" stroke="#02e9f1"/><use href="#n2" stroke="#00f0e7"/><use href="#n3" stroke="#07bdd6"/><use href="#n4" stroke="#00d3b6"/><use href="#n5" stroke="#0aa7c9"/><use href="#n6" stroke="#00a66d"/><use href="#n7" stroke="#1166a0"/></pattern>
<pattern id="pl10" width="48" height="48" patternUnits="userSpaceOnUse"><rect width="48" height="48" fill="#00e1ce"/><use href="#n1" stroke="#00f0e7"/><use href="#n2" stroke="#00d3b6"/><use href="#n3" stroke="#00ffff"/><use href="#n4" stroke="#00b586"/><use href="#n5" stroke="#05d3e4"/><use href="#n6" stroke="#00893d"/><use href="#n7" stroke="#0c91bb"/></pattern>
<pattern id="pl11" width="48" height="48" patternUnits="userSpaceOnUse"><rect width="48" height="48" fill="#00c49e"/><use href="#n1" stroke="#00d3b6"/><use href="#n2" stroke="#00a66d"/><use href="#n3" stroke="#00e1ce"/><use href="#n4" stroke="#009855"/><use href="#n5" stroke="#00ffff"/><use href="#n6" stroke="#006b0c"/><use href="#n7" stroke="#07bdd6"/></pattern>
<pattern id="pl12" width="48" height="48" patternUnits="userSpaceOnUse"><rect width="48" height="48" fill="#009855"/><use href="#n1" stroke="#00b586"/><use href="#n2" stroke="#00893d"/><use href="#n3" stroke="#00c49e"/><use href="#n4" stroke="#006b0c"/><use href="#n5" stroke="#00e1ce"/><use href="#n6" stroke="#3d8900"/><use href="#n7" stroke="#02e9f1"/></pattern>
<pattern id="pl13" width="48" height="48" patternUnits="userSpaceOnUse"><rect width="48" height="48" fill="#007a24"/><use href="#n1" stroke="#00893d"/><use href="#n2" stroke="#006b0c"/><use href="#n3" stroke="#00a66d"/><use href="#n4" stroke="#247a00"/><use href="#n5" stroke="#00b586"/><use href="#n6" stroke="#6da600"/><use href="#n7" stroke="#00e1ce"/></pattern>
<pattern id="pl14" width="48" height="48" patternUnits="userSpaceOnUse"><rect width="48" height="48" fill="#0c6b00"/><use href="#n1" stroke="#006b0c"/><use href="#n2" stroke="#247a00"/><use href="#n3" stroke="#007a24"/><use href="#n4" stroke="#559800"/><use href="#n5" stroke="#009855"/><use href="#n6" stroke="#9ec400"/><use href="#n7" stroke="#00c49e"/></pattern>
<pattern id="pl15" width="48" height="48" patternUnits="userSpaceOnUse"><rect width="48" height="48" fill="#3d8900"/><use href="#n1" stroke="#247a00"/><use href="#n2" stroke="#6da600"/><use href="#n3" stroke="#0c6b00"/><use href="#n4" stroke="#86b500"/><use href="#n5" stroke="#007a24"/><use href="#n6" stroke="#cee100"/><use href="#n7" stroke="#00a66d"/></pattern>
<pattern id="pl16" width="48" height="48" patternUnits="userSpaceOnUse"><rect width="48" height="48" fill="#86b500"/><use href="#n1" stroke="#559800"/><use href="#n2" stroke="#9ec400"/><use href="#n3" stroke="#3d8900"/><use href="#n4" stroke="#cee100"/><use href="#n5" stroke="#0c6b00"/><use href="#n6" stroke="#ffe700"/><use href="#n7" stroke="#00893d"/></pattern>
<pattern id="pl17" width="48" height="48" patternUnits="userSpaceOnUse"><rect width="48" height="48" fill="#b6d300"/><use href="#n1" stroke="#9ec400"/><use href="#n2" stroke="#cee100"/><use href="#n3" stroke="#6da600"/><use href="#n4" stroke="#ffff00"/><use href="#n5" stroke="#559800"/><use href="#n6" stroke="#ffb600"/><use href="#n7" stroke="#0c6b00"/></pattern>
<pattern id="pl18" width="48" height="48" patternUnits="userSpaceOnUse"><rect width="48" height="48" fill="#e7f000"/><use href="#n1" stroke="#cee100"/><use href="#n2" stroke="#ffff00"/><use href="#n3" stroke="#b6d300"/><use href="#n4" stroke="#ffce00"/><use href="#n5" stroke="#86b500"/><use href="#n6" stroke="#ff8600"/><use href="#n7" stroke="#3d8900"/></pattern>
<pattern id="pl19" width="48" height="48" patternUnits="userSpaceOnUse"><rect width="48" height="48" fill="#ffe700"/><use href="#n1" stroke="#ffff00"/><use href="#n2" stroke="#ffb600"/><use href="#n3" stroke="#e7f000"/><use href="#n4" stroke="#ff9e00"/><use href="#n5" stroke="#b6d300"/><use href="#n6" stroke="#ff5500"/><use href="#n7" stroke="#6da600"/></pattern>
<pattern id="pl20" width="48" height="48" patternUnits="userSpaceOnUse"><rect width="48" height="48" fill="#ff9e00"/><use href="#n1" stroke="#ffce00"/><use href="#n2" stroke="#ff8600"/><use href="#n3" stroke="#ffe700"/><use href="#n4" stroke="#ff5500"/><use href="#n5" stroke="#e7f000"/><use href="#n6" stroke="#ff0c00"/><use href="#n7" stroke="#9ec400"/></pattern>
<pattern id="pl21" width="48" height="48" patternUnits="userSpaceOnUse"><rect width="48" height="48" fill="#ff6d00"/><use href="#n1" stroke="#ff8600"/><use href="#n2" stroke="#ff5500"/><use href="#n3" stroke="#ffb600"/><use href="#n4" stroke="#ff2400"/><use href="#n5" stroke="#ffce00"/><use href="#n6" stroke="#ee0000"/><use href="#n7" stroke="#e7f000"/></pattern>
<pattern id="pl22" width="48" height="48" patternUnits="userSpaceOnUse"><rect width="48" height="48" fill="#ff3d00"/><use href="#n1" stroke="#ff5500"/><use href="#n2" stroke="#ff2400"/><use href="#n3" stroke="#ff6d00"/><use href="#n4" stroke="#f90000"/><use href="#n5" stroke="#ff9e00"/><use href="#n6" stroke="#d80000"/><use href="#n7" stroke="#ffe700"/></pattern>
<pattern id="pl23" width="48" height="48" patternUnits="userSpaceOnUse"><rect width="48" height="48" fill="#ff0c00"/><use href="#n1" stroke="#ff2400"/><use href="#n2" stroke="#ee0000"/><use href="#n3" stroke="#ff3d00"/><use href="#n4" stroke="#e30000"/><use href="#n5" stroke="#ff6d00"/><use href="#n6" stroke="#c20000"/><use href="#n7" stroke="#ffb600"/></pattern>
<pattern id="pl24" width="48" height="48" patternUnits="userSpaceOnUse"><rect width="48" height="48" fill="#e30000"/><use href="#n1" stroke="#f90000"/><use href="#n2" stroke="#d80000"/><use href="#n3" stroke="#ff0c00"/><use href="#n4" stroke="#c20000"/><use href="#n5" stroke="#ff3d00"/><use href="#n6" stroke="#a10000"/><use href="#n7" stroke="#ff8600"/></pattern>
<pattern id="pl25" width="48" height="48" patternUnits="userSpaceOnUse"><rect width="48" height="48" fill="#cd0000"/><use href="#n1" stroke="#d80000"/><use href="#n2" stroke="#c20000"/><use href="#n3" stroke="#ee0000"/><use href="#n4" stroke="#ac0000"/><use href="#n5" stroke="#f90000"/><use href="#n6" stroke="#8b0000"/><use href="#n7" stroke="#ff3d00"/></pattern>
<pattern id="pl26" width="48" height="48" patternUnits="userSpaceOnUse"><rect width="48" height="48" fill="#b70000"/><use href="#n1" stroke="#c20000"/><use href="#n2" stroke="#ac0000"/><use href="#n3" stroke="#cd0000"/><use href="#n4" stroke="#960000"/><use href="#n5" stroke="#e30000"/><use href="#n6" stroke="#8b0000"/><use href="#n7" stroke="#ff0c00"/></pattern>
<pattern id="pl27" width="48" height="48" patternUnits="userSpaceOnUse"><rect width="48" height="48" fill="#a10000"/><use href="#n1" stroke="#ac0000"/><use href="#n2" stroke="#8b0000"/><use href="#n3" stroke="#b70000"/><use href="#n4" stroke="#8b0000"/><use href="#n5" stroke="#cd0000"/><use href="#n6" stroke="#8b0000"/><use href="#n7" stroke="#ee0000"/></pattern>
<pattern id="pl28" width="48" height="48" patternUnits="userSpaceOnUse"><rect width="48" height="48" fill="#8b0000"/><use href="#n1" stroke="#960000"/><use href="#n2" stroke="#8b0000"/><use href="#n3" stroke="#a10000"/><use href="#n4" stroke="#8b0000"/><use href="#n5" stroke="#b70000"/><use href="#n6" stroke="#8b0000"/><use href="#n7" stroke="#d80000"/></pattern>
<clipPath id="zn"><rect x="-910" y="-456.8" width="1820" height="252.9"/></clipPath>
<pattern id="pn0" width="48" height="48" patternUnits="userSpaceOnUse"><rect width="48" height="48" fill="#a2cddb"/><use href="#n1" stroke="#b0e0e6"/><use href="#n2" stroke="#93bad0"/><use href="#n3" stroke="#b0e0e6"/><use href="#n4" stroke="#7694b9"/><use href="#n5" stroke="#b0e0e6"/><use href="#n6" stroke="#4b5b97"/><use href="#n7" stroke="#b0e0e6"/></pattern>
<pattern id="pn1" width="48" height="48" patternUnits="userSpaceOnUse"><rect width="48" height="48" fill="#85a7c4"/><use href="#n1" stroke="#93bad0"/><use href="#n2" stroke="#7694b9"/><use href="#n3" stroke="#b0e0e6"/><use href="#n4" stroke="#5a6ea3"/><use href="#n5" stroke="#b0e0e6"/><use href="#n6" stroke="#202276"/><use href="#n7" stroke="#b0e0e6"/></pattern>
<pattern id="pn2" width="48" height="48" patternUnits="userSpaceOnUse"><rect width="48" height="48" fill="#6881ae"/><use href="#n1" stroke="#7694b9"/><use href="#n2" stroke="#4b5b97"/><use href="#n3" stroke="#93bad0"/><use href="#n4" stroke="#3d488c"/><use href="#n5" stroke="#a2cddb"/><use href="#n6" stroke="#153a84"/><use href="#n7" stroke="#b0e0e6"/></pattern>
<pattern id="pn3" width="48" height="48" patternUnits="userSpaceOnUse"><rect width="48" height="48" fill="#4b5b97"/><use href="#n1" stroke="#5a6ea3"/><use href="#n2" stroke="#2f3581"/><use href="#n3" stroke="#6881ae"/><use href="#n4" stroke="#182477"/><use href="#n5" stroke="#85a7c4"/><use href="#n6" stroke="#1166a0"/><use href="#n7" stroke="#b0e0e6"/></pattern>
<pattern id="pn4" width="48" height="48" patternUnits="userSpaceOnUse"><rect width="48" height="48" fill="#202276"/><use href="#n1" stroke="#3d488c"/><use href="#n2" stroke="#182477"/><use href="#n3" stroke="#4b5b97"/><use href="#n4" stroke="#135092"/><use href="#n5" stroke="#6881ae"/><use href="#n6" stroke="#0c91bb"/><use href="#n7" stroke="#93bad0"/></pattern>
<pattern id="pn5" width="48" height="48" patternUnits="userSpaceOnUse"><rect width="48" height="48" fill="#153a84"/><use href="#n1" stroke="#182477"/><use href="#n2" stroke="#135092"/><use href="#n3" stroke="#2f3581"/><use href="#n4" stroke="#0e7cad"/><use href="#n5" stroke="#4b5b97"/><use href="#n6" stroke="#05d3e4"/><use href="#n7" stroke="#7694b9"/></pattern>
<pattern id="pn6" width="48" height="48" patternUnits="userSpaceOnUse"><rect width="48" height="48" fill="#1166a0"/><use href="#n1" stroke="#135092"/><use href="#n2" stroke="#0c91bb"/><use href="#n3" stroke="#182477"/><use href="#n4" stroke="#0aa7c9"/><use href="#n5" stroke="#202276"/><use href="#n6" stroke="#00ffff"/><use href="#n7" stroke="#5a6ea3"/></pattern>
<pattern id="pn7" width="48" height="48" patternUnits="userSpaceOnUse"><rect width="48" height="48" fill="#0c91bb"/><use href="#n1" stroke="#0e7cad"/><use href="#n2" stroke="#07bdd6"/><use href="#n3" stroke="#1166a0"/><use href="#n4" stroke="#02e9f1"/><use href="#n5" stroke="#153a84"/><use href="#n6" stroke="#00e1ce"/><use href="#n7" stroke="#3d488c"/></pattern>
<pattern id="pn8" width="48" height="48" patternUnits="userSpaceOnUse"><rect width="48" height="48" fill="#05d3e4"/><use href="#n1" stroke="#0aa7c9"/><use href="#n2" stroke="#02e9f1"/><use href="#n3" stroke="#0c91bb"/><use href="#n4" stroke="#00f0e7"/><use href="#n5" stroke="#1166a0"/><use href="#n6" stroke="#00c49e"/><use href="#n7" stroke="#182477"/></pattern>
<pattern id="pn9" width="48" height="48" patternUnits="userSpaceOnUse"><rect width="48" height="48" fill="#00ffff"/><use href="#n1" stroke="#02e9f1"/><use href="#n2" stroke="#00f0e7"/><use href="#n3" stroke="#07bdd6"/><use href="#n4" stroke="#00d3b6"/><use href="#n5" stroke="#0c91bb"/><use href="#n6" stroke="#009855"/><use href="#n7" stroke="#135092"/></pattern>
<pattern id="pn10" width="48" height="48" patternUnits="userSpaceOnUse"><rect width="48" height="48" fill="#00e1ce"/><use href="#n1" stroke="#00f0e7"/><use href="#n2" stroke="#00c49e"/><use href="#n3" stroke="#02e9f1"/><use href="#n4" stroke="#00b586"/><use href="#n5" stroke="#05d3e4"/><use href="#n6" stroke="#007a24"/><use href="#n7" stroke="#0e7cad"/></pattern>
<pattern id="pn11" width="48" height="48" patternUnits="userSpaceOnUse"><rect width="48" height="48" fill="#00c49e"/><use href="#n1" stroke="#00d3b6"/><use href="#n2" stroke="#00a66d"/><use href="#n3" stroke="#00e1ce"/><use href="#n4" stroke="#00893d"/><use href="#n5" stroke="#00ffff"/><use href="#n6" stroke="#0c6b00"/><use href="#n7" stroke="#0aa7c9"/></pattern>
<pattern id="pn12" width="48" height="48" patternUnits="userSpaceOnUse"><rect width="48" height="48" fill="#009855"/><use href="#n1" stroke="#00b586"/><use href="#n2" stroke="#00893d"/><use href="#n3" stroke="#00c49e"/><use href="#n4" stroke="#006b0c"/><use href="#n5" stroke="#00e1ce"/><use href="#n6" stroke="#3d8900"/><use href="#n7" stroke="#02e9f1"/></pattern>
<pattern id="pn13" width="48" height="48" patternUnits="userSpaceOnUse"><rect width="48" height="48" fill="#007a24"/><use href="#n1" stroke="#00893d"/><use href="#n2" stroke="#006b0c"/><use href="#n3" stroke="#00a66d"/><use href="#n4" stroke="#247a00"/><use href="#n5" stroke="#00c49e"/><use href="#n6" stroke="#86b500"/><use href="#n7" stroke="#00f0e7"/></pattern>
<pattern id="pn14" width="48" height="48" patternUnits="userSpaceOnUse"><rect width="48" height="48" fill="#0c6b00"/><use href="#n1" stroke="#006b0c"/><use href="#n2" stroke="#3d8900"/><use href="#n3" stroke="#00893d"/><use href="#n4" stroke="#559800"/><use href="#n5" stroke="#009855"/><use href="#n6" stroke="#b6d300"/><use href="#n7" stroke="#00d3b6"/></pattern>
<pattern id="pn15" width="48" height="48" patternUnits="userSpaceOnUse"><rect width="48" height="48" fill="#3d8900"/><use href="#n1" stroke="#247a00"/><use href="#n2" stroke="#6da600"/><use href="#n3" stroke="#0c6b00"/><use href="#n4" stroke="#9ec400"/><use href="#n5" stroke="#007a24"/><use href="#n6" stroke="#e7f000"/><use href="#n7" stroke="#00b586"/></pattern>
<pattern id="pn16" width="48" height="48" patternUnits="userSpaceOnUse"><rect width="48" height="48" fill="#86b500"/><use href="#n1" stroke="#559800"/><use href="#n2" stroke="#9ec400"/><use href="#n3" stroke="#3d8900"/><use href="#n4" stroke="#cee100"/><use href="#n5" stroke="#0c6b00"/><use href="#n6" stroke="#ffe700"/><use href="#n7" stroke="#00893d"/></pattern>
<pattern id="pn17" width="48" height="48" patternUnits="userSpaceOnUse"><rect width="48" height="48" fill="#b6d300"/><use href="#n1" stroke="#9ec400"/><use href="#n2" stroke="#cee100"/><use href="#n3" stroke="#6da600"/><use href="#n4" stroke="#ffff00"/><use href="#n5" stroke="#3d8900"/><use href="#n6" stroke="#ff9e00"/><use href="#n7" stroke="#006b0c"/></pattern>
<pattern id="pn18" width="48" height="48" patternUnits="userSpaceOnUse"><rect width="48" height="48" fill="#e7f000"/><use href="#n1" stroke="#cee100"/><use href="#n2" stroke="#ffe700"/><use href="#n3" stroke="#9ec400"/><use href="#n4" stroke="#ffce00"/><use href="#n5" stroke="#86b500"/><use href="#n6" stroke="#ff6d00"/><use href="#n7" stroke="#247a00"/></pattern>
<pattern id="pn19" width="48" height="48" patternUnits="userSpaceOnUse"><rect width="48" height="48" fill="#ffe700"/><use href="#n1" stroke="#ffff00"/><use href="#n2" stroke="#ffb600"/><use href="#n3" stroke="#e7f000"/><use href="#n4" stroke="#ff8600"/><use href="#n5" stroke="#b6d300"/><use href="#n6" stroke="#ff3d00"/><use href="#n7" stroke="#559800"/></pattern>
<pattern id="pn20" width="48" height="48" patternUnits="userSpaceOnUse"><rect width="48" height="48" fill="#ff9e00"/><use href="#n1" stroke="#ffce00"/><use href="#n2" stroke="#ff8600"/><use href="#n3" stroke="#ffe700"/><use href="#n4" stroke="#ff5500"/><use href="#n5" stroke="#e7f000"/><use href="#n6" stroke="#ff0c00"/><use href="#n7" stroke="#9ec400"/></pattern>
<pattern id="pn21" width="48" height="48" patternUnits="userSpaceOnUse"><rect width="48" height="48" fill="#ff6d00"/><use href="#n1" stroke="#ff8600"/><use href="#n2" stroke="#ff5500"/><use href="#n3" stroke="#ffb600"/><use href="#n4" stroke="#ff2400"/><use href="#n5" stroke="#ffe700"/><use href="#n6" stroke="#e30000"/><use href="#n7" stroke="#cee100"/></pattern>
<pattern id="pn22" width="48" height="48" patternUnits="userSpaceOnUse"><rect width="48" height="48" fill="#ff3d00"/><use href="#n1" stroke="#ff5500"/><use href="#n2" stroke="#ff0c00"/><use href="#n3" stroke="#ff8600"/><use href="#n4" stroke="#f90000"/><use href="#n5" stroke="#ff9e00"/><use href="#n6" stroke="#cd0000"/><use href="#n7" stroke="#ffff00"/></pattern>
<pattern id="pn23" width="48" height="48" patternUnits="userSpaceOnUse"><rect width="48" height="48" fill="#ff0c00"/><use href="#n1" stroke="#ff2400"/><use href="#n2" stroke="#ee0000"/><use href="#n3" stroke="#ff3d00"/><use href="#n4" stroke="#d80000"/><use href="#n5" stroke="#ff6d00"/><use href="#n6" stroke="#b70000"/><use href="#n7" stroke="#ffce00"/></pattern>
<pattern id="pn24" width="48" height="48" patternUnits="userSpaceOnUse"><rect width="48" height="48" fill="#e30000"/><use href="#n1" stroke="#f90000"/><use href="#n2" stroke="#d80000"/><use href="#n3" stroke="#ff0c00"/><use href="#n4" stroke="#c20000"/><use href="#n5" stroke="#ff3d00"/><use href="#n6" stroke="#a10000"/><use href="#n7" stroke="#ff8600"/></pattern>
<pattern id="pn25" width="48" height="48" patternUnits="userSpaceOnUse"><rect width="48" height="48" fill="#cd0000"/><use href="#n1" stroke="#d80000"/><use href="#n2" stroke="#c20000"/><use href="#n3" stroke="#ee0000"/><use href="#n4" stroke="#ac0000"/><use href="#n5" stroke="#ff0c00"/><use href="#n6" stroke="#8b0000"/><use href="#n7" stroke="#ff5500"/></pattern>
<pattern id="pn26" width="48" height="48" patternUnits="userSpaceOnUse"><rect width="48" height="48" fill="#b70000"/><use href="#n1" stroke="#c20000"/><use href="#n2" stroke="#a10000"/><use href="#n3" stroke="#d80000"/><use href="#n4" stroke="#960000"/><use href="#n5" stroke="#e30000"/><use href="#n6" stroke="#8b0000"/><use href="#n7" stroke="#ff2400"/></pattern>
<pattern id="pn27" width="48" height="48" patternUnits="userSpaceOnUse"><rect width="48" height="48" fill="#a10000"/><use href="#n1" stroke="#ac0000"/><use href="#n2" stroke="#8b0000"/><use href="#n3" stroke="#b70000"/><use href="#n4" stroke="#8b0000"/><use href="#n5" stroke="#cd0000"/><use href="#n6" stroke="#8b0000"/><use href="#n7" stroke="#f90000"/></pattern>
<pattern id="pn28" width="48" height="48" patternUnits="userSpaceOnUse"><rect width="48" height="48" fill="#8b0000"/><use href="#n1" stroke="#960000"/><use href="#n2" stroke="#8b0000"/><use href="#n3" stroke="#a10000"/><use href="#n4" stroke="#8b0000"/><use href="#n5" stroke="#b70000"/><use href="#n6" stroke="#8b0000"/><use href="#n7" stroke="#d80000"/></pattern>
<clipPath id="za"><rect x="-910" y="198.3" width="1820" height="28.2"/></clipPath>
<pattern id="pa4" width="48" height="48" patternUnits="userSpaceOnUse"><rect width="48" height="48" fill="#202276"/><use href="#n1" stroke="#3d488c"/><use href="#n2" stroke="#182477"/><use href="#n3" stroke="#4b5b97"/><use href="#n4" stroke="#135092"/><use href="#n5" stroke="#6881ae"/><use href="#n6" stroke="#0aa7c9"/><use href="#n7" stroke="#a2cddb"/></pattern>
<pattern id="pa5" width="48" height="48" patternUnits="userSpaceOnUse"><rect width="48" height="48" fill="#153a84"/><use href="#n1" stroke="#202276"/><use href="#n2" stroke="#1166a0"/><use href="#n3" stroke="#2f3581"/><use href="#n4" stroke="#0c91bb"/><use href="#n5" stroke="#4b5b97"/><use href="#n6" stroke="#05d3e4"/><use href="#n7" stroke="#85a7c4"/></pattern>
<pattern id="pa6" width="48" height="48" patternUnits="userSpaceOnUse"><rect width="48" height="48" fill="#1166a0"/><use href="#n1" stroke="#135092"/><use href="#n2" stroke="#0c91bb"/><use href="#n3" stroke="#182477"/><use href="#n4" stroke="#07bdd6"/><use href="#n5" stroke="#2f3581"/><use href="#n6" stroke="#00f0e7"/><use href="#n7" stroke="#6881ae"/></pattern>
<pattern id="pa7" width="48" height="48" patternUnits="userSpaceOnUse"><rect width="48" height="48" fill="#0aa7c9"/><use href="#n1" stroke="#0e7cad"/><use href="#n2" stroke="#07bdd6"/><use href="#n3" stroke="#135092"/><use href="#n4" stroke="#02e9f1"/><use href="#n5" stroke="#182477"/><use href="#n6" stroke="#00d3b6"/><use href="#n7" stroke="#3d488c"/></pattern>
<pattern id="pa8" width="48" height="48" patternUnits="userSpaceOnUse"><rect width="48" height="48" fill="#05d3e4"/><use href="#n1" stroke="#0aa7c9"/><use href="#n2" stroke="#02e9f1"/><use href="#n3" stroke="#0c91bb"/><use href="#n4" stroke="#00f0e7"/><use href="#n5" stroke="#1166a0"/><use href="#n6" stroke="#00b586"/><use href="#n7" stroke="#202276"/></pattern>
<pattern id="pa9" width="48" height="48" patternUnits="userSpaceOnUse"><rect width="48" height="48" fill="#00ffff"/><use href="#n1" stroke="#05d3e4"/><use href="#n2" stroke="#00e1ce"/><use href="#n3" stroke="#07bdd6"/><use href="#n4" stroke="#00c49e"/><use href="#n5" stroke="#0c91bb"/><use href="#n6" stroke="#009855"/><use href="#n7" stroke="#153a84"/></pattern>
<pattern id="pa10" width="48" height="48" patternUnits="userSpaceOnUse"><rect width="48" height="48" fill="#00e1ce"/><use href="#n1" stroke="#00f0e7"/><use href="#n2" stroke="#00c49e"/><use href="#n3" stroke="#02e9f1"/><use href="#n4" stroke="#00a66d"/><use href="#n5" stroke="#07bdd6"/><use href="#n6" stroke="#006b0c"/><use href="#n7" stroke="#1166a0"/></pattern>
<pattern id="pa11" width="48" height="48" patternUnits="userSpaceOnUse"><rect width="48" height="48" fill="#00b586"/><use href="#n1" stroke="#00d3b6"/><use href="#n2" stroke="#00a66d"/><use href="#n3" stroke="#00f0e7"/><use href="#n4" stroke="#00893d"/><use href="#n5" stroke="#02e9f1"/><use href="#n6" stroke="#247a00"/><use href="#n7" stroke="#0aa7c9"/></pattern>
<pattern id="pa12" width="48" height="48" patternUnits="userSpaceOnUse"><rect width="48" height="48" fill="#009855"/><use href="#n1" stroke="#00b586"/><use href="#n2" stroke="#00893d"/><use href="#n3" stroke="#00c49e"/><use href="#n4" stroke="#006b0c"/><use href="#n5" stroke="#00e1ce"/><use href="#n6" stroke="#559800"/><use href="#n7" stroke="#05d3e4"/></pattern>
<pattern id="pa13" width="48" height="48" patternUnits="userSpaceOnUse"><rect width="48" height="48" fill="#007a24"/><use href="#n1" stroke="#009855"/><use href="#n2" stroke="#0c6b00"/><use href="#n3" stroke="#00a66d"/><use href="#n4" stroke="#3d8900"/><use href="#n5" stroke="#00c49e"/><use href="#n6" stroke="#86b500"/><use href="#n7" stroke="#00ffff"/></pattern>
<pattern id="pa14" width="48" height="48" patternUnits="userSpaceOnUse"><rect width="48" height="48" fill="#0c6b00"/><use href="#n1" stroke="#006b0c"/><use href="#n2" stroke="#3d8900"/><use href="#n3" stroke="#00893d"/><use href="#n4" stroke="#6da600"/><use href="#n5" stroke="#00a66d"/><use href="#n6" stroke="#cee100"/><use href="#n7" stroke="#00e1ce"/></pattern>
<pattern id="pa15" width="48" height="48" patternUnits="userSpaceOnUse"><rect width="48" height="48" fill="#559800"/><use href="#n1" stroke="#247a00"/><use href="#n2" stroke="#6da600"/><use href="#n3" stroke="#006b0c"/><use href="#n4" stroke="#9ec400"/><use href="#n5" stroke="#00893d"/><use href="#n6" stroke="#ffff00"/><use href="#n7" stroke="#00b586"/></pattern>
<clipPath id="zb"><rect x="-910" y="226.6" width="1820" height="28.0"/></clipPath>
<pattern id="pb7" width="48" height="48" patternUnits="userSpaceOnUse"><rect width="48" height="48" fill="#0aa7c9"/><use href="#n1" stroke="#0e7cad"/><use href="#n2" stroke="#05d3e4"/><use href="#n3" stroke="#135092"/><use href="#n4" stroke="#00ffff"/><use href="#n5" stroke="#202276"/><use href="#n6" stroke="#00b586"/><use href="#n7" stroke="#5a6ea3"/></pattern>
<pattern id="pb8" width="48" height="48" patternUnits="userSpaceOnUse"><rect width="48" height="48" fill="#05d3e4"/><use href="#n1" stroke="#0aa7c9"/><use href="#n2" stroke="#00ffff"/><use href="#n3" stroke="#0e7cad"/><use href="#n4" stroke="#00e1ce"/><use href="#n5" stroke="#135092"/><use href="#n6" stroke="#009855"/><use href="#n7" stroke="#3d488c"/></pattern>
<pattern id="pb9" width="48" height="48" patternUnits="userSpaceOnUse"><rect width="48" height="48" fill="#00ffff"/><use href="#n1" stroke="#05d3e4"/><use href="#n2" stroke="#00e1ce"/><use href="#n3" stroke="#0aa7c9"/><use href="#n4" stroke="#00b586"/><use href="#n5" stroke="#0e7cad"/><use href="#n6" stroke="#007a24"/><use href="#n7" stroke="#202276"/></pattern>
<pattern id="pb10" width="48" height="48" patternUnits="userSpaceOnUse"><rect width="48" height="48" fill="#00e1ce"/><use href="#n1" stroke="#00f0e7"/><use href="#n2" stroke="#00c49e"/><use href="#n3" stroke="#02e9f1"/><use href="#n4" stroke="#009855"/><use href="#n5" stroke="#0aa7c9"/><use href="#n6" stroke="#247a00"/><use href="#n7" stroke="#153a84"/></pattern>
<pattern id="pb11" width="48" height="48" patternUnits="userSpaceOnUse"><rect width="48" height="48" fill="#00b586"/><use href="#n1" stroke="#00d3b6"/><use href="#n2" stroke="#009855"/><use href="#n3" stroke="#00f0e7"/><use href="#n4" stroke="#007a24"/><use href="#n5" stroke="#05d3e4"/><use href="#n6" stroke="#559800"/><use href="#n7" stroke="#0e7cad"/></pattern>
<pattern id="pb12" width="48" height="48" patternUnits="userSpaceOnUse"><rect width="48" height="48" fill="#009855"/><use href="#n1" stroke="#00b586"/><use href="#n2" stroke="#007a24"/><use href="#n3" stroke="#00d3b6"/><use href="#n4" stroke="#0c6b00"/><use href="#n5" stroke="#00f0e7"/><use href="#n6" stroke="#86b500"/><use href="#n7" stroke="#0aa7c9"/></pattern>
<pattern id="pb13" width="48" height="48" patternUnits="userSpaceOnUse"><rect width="48" height="48" fill="#007a24"/><use href="#n1" stroke="#009855"/><use href="#n2" stroke="#0c6b00"/><use href="#n3" stroke="#00b586"/><use href="#n4" stroke="#559800"/><use href="#n5" stroke="#00d3b6"/><use href="#n6" stroke="#b6d300"/><use href="#n7" stroke="#05d3e4"/></pattern>
<pattern id="pb14" width="48" height="48" patternUnits="userSpaceOnUse"><rect width="48" height="48" fill="#0c6b00"/><use href="#n1" stroke="#006b0c"/><use href="#n2" stroke="#3d8900"/><use href="#n3" stroke="#00893d"/><use href="#n4" stroke="#86b500"/><use href="#n5" stroke="#00b586"/><use href="#n6" stroke="#ffff00"/><use href="#n7" stroke="#00ffff"/></pattern>
<clipPath id="zc"><rect x="-910" y="254.6" width="1820" height="33.1"/></clipPath>
<pattern id="pc7" width="48" height="48" patternUnits="userSpaceOnUse"><rect width="48" height="48" fill="#0aa7c9"/><use href="#n1" stroke="#0e7cad"/><use href="#n2" stroke="#05d3e4"/><use href="#n3" stroke="#153a84"/><use href="#n4" stroke="#00f0e7"/><use href="#n5" stroke="#2f3581"/><use href="#n6" stroke="#009855"/><use href="#n7" stroke="#7694b9"/></pattern>
<pattern id="pc8" width="48" height="48" patternUnits="userSpaceOnUse"><rect width="48" height="48" fill="#05d3e4"/><use href="#n1" stroke="#0aa7c9"/><use href="#n2" stroke="#00f0e7"/><use href="#n3" stroke="#1166a0"/><use href="#n4" stroke="#00d3b6"/><use href="#n5" stroke="#153a84"/><use href="#n6" stroke="#007a24"/><use href="#n7" stroke="#5a6ea3"/></pattern>
<pattern id="pc9" width="48" height="48" patternUnits="userSpaceOnUse"><rect width="48" height="48" fill="#00ffff"/><use href="#n1" stroke="#05d3e4"/><use href="#n2" stroke="#00d3b6"/><use href="#n3" stroke="#0aa7c9"/><use href="#n4" stroke="#00a66d"/><use href="#n5" stroke="#1166a0"/><use href="#n6" stroke="#0c6b00"/><use href="#n7" stroke="#3d488c"/></pattern>
<pattern id="pc10" width="48" height="48" patternUnits="userSpaceOnUse"><rect width="48" height="48" fill="#00d3b6"/><use href="#n1" stroke="#00ffff"/><use href="#n2" stroke="#00b586"/><use href="#n3" stroke="#05d3e4"/><use href="#n4" stroke="#00893d"/><use href="#n5" stroke="#0c91bb"/><use href="#n6" stroke="#3d8900"/><use href="#n7" stroke="#182477"/></pattern>
<pattern id="pc11" width="48" height="48" patternUnits="userSpaceOnUse"><rect width="48" height="48" fill="#00b586"/><use href="#n1" stroke="#00d3b6"/><use href="#n2" stroke="#009855"/><use href="#n3" stroke="#00ffff"/><use href="#n4" stroke="#006b0c"/><use href="#n5" stroke="#07bdd6"/><use href="#n6" stroke="#86b500"/><use href="#n7" stroke="#135092"/></pattern>
<pattern id="pc12" width="48" height="48" patternUnits="userSpaceOnUse"><rect width="48" height="48" fill="#009855"/><use href="#n1" stroke="#00b586"/><use href="#n2" stroke="#006b0c"/><use href="#n3" stroke="#00e1ce"/><use href="#n4" stroke="#247a00"/><use href="#n5" stroke="#00ffff"/><use href="#n6" stroke="#b6d300"/><use href="#n7" stroke="#0e7cad"/></pattern>
<clipPath id="zh"><rect x="-910" y="287.7" width="1820" height="169.1"/></clipPath>
<pattern id="ph6" width="48" height="48" patternUnits="userSpaceOnUse"><rect width="48" height="48" fill="#0e7cad"/><use href="#n1" stroke="#153a84"/><use href="#n2" stroke="#0aa7c9"/><use href="#n3" stroke="#202276"/><use href="#n4" stroke="#00ffff"/><use href="#n5" stroke="#5a6ea3"/><use href="#n6" stroke="#00a66d"/><use href="#n7" stroke="#b0e0e6"/></pattern>
<pattern id="ph7" width="48" height="48" patternUnits="userSpaceOnUse"><rect width="48" height="48" fill="#0aa7c9"/><use href="#n1" stroke="#1166a0"/><use href="#n2" stroke="#02e9f1"/><use href="#n3" stroke="#153a84"/><use href="#n4" stroke="#00e1ce"/><use href="#n5" stroke="#2f3581"/><use href="#n6" stroke="#00893d"/><use href="#n7" stroke="#93bad0"/></pattern>
<pattern id="ph8" width="48" height="48" patternUnits="userSpaceOnUse"><rect width="48" height="48" fill="#05d3e4"/><use href="#n1" stroke="#0aa7c9"/><use href="#n2" stroke="#00f0e7"/><use href="#n3" stroke="#1166a0"/><use href="#n4" stroke="#00c49e"/><use href="#n5" stroke="#182477"/><use href="#n6" stroke="#006b0c"/><use href="#n7" stroke="#6881ae"/></pattern>
<pattern id="ph9" width="48" height="48" patternUnits="userSpaceOnUse"><rect width="48" height="48" fill="#00f0e7"/><use href="#n1" stroke="#05d3e4"/><use href="#n2" stroke="#00d3b6"/><use href="#n3" stroke="#0c91bb"/><use href="#n4" stroke="#00a66d"/><use href="#n5" stroke="#135092"/><use href="#n6" stroke="#3d8900"/><use href="#n7" stroke="#4b5b97"/></pattern>
<pattern id="ph10" width="48" height="48" patternUnits="userSpaceOnUse"><rect width="48" height="48" fill="#00d3b6"/><use href="#n1" stroke="#00ffff"/><use href="#n2" stroke="#00b586"/><use href="#n3" stroke="#05d3e4"/><use href="#n4" stroke="#007a24"/><use href="#n5" stroke="#0e7cad"/><use href="#n6" stroke="#6da600"/><use href="#n7" stroke="#2f3581"/></pattern>
</defs>
<g transform="translate(1033.3,530.4)">
<g clip-path="url(#clip)">
<g shape-rendering="crispEdges" fill-rule="evenodd"><use href="#cov1" fill="#191970"/><path fill="#0000ff" d="M519.6,-444.6l-1039.2,0-35.3,13.4-37.7,16.2-27.7,13.8-28.3,16.5-28.1,18.3-31.9,22.6-27,20.7-25.6,21.6-18.9,17.6-17,17.8-22.7,26.3-16.1,21.1-12.9,19.7-12,21.1-8.8,18.3-7.5,19.8-8.9,31-6.7,28.2-4.1,25.4-2.8,28 7.2-23 6.7-18.3 7.9-18.3 9-18.3 12.6-23.4 9.3-15.5 10.6-15.5 13.4-17.1 8-20.3 10.1-21 9.1-15.7 13.9-20.8 1.3-1.8-9.1,28.6-5.1,20.2 25.3-23.5 31.4-25.3-17.4,19.2-15.2,18.2-15.6,21-14.1,21.2-2.2,20.5-.6,18.1 .9,41.6 1.3,23.5 2.7,26.1 4.5,31.4 4,21 5.6,23.5 1.9-14.3-1,.3 1-.3 2.7-15.3 4.3-18.3 9.1-31.4 9.4-26.2 11.5-26.1 17.1-33.7 12.5-20.7 14-19.7 5.4-17.7 6.9-18.4 7.1-15.7 8.1-15.6 7-12.2-5.7,28.6-3.1,20.2 22.9-23.5 28.4-25.3-15.1,19.2-13.2,18.2-13.7,21-12.4,21.2-.9,20.5 .4,20.7 3,46.8 2.6,26.1 7,47.1 6.3,31.5 5.2-1.3 3.8-20.5 5.8-23.6 6.9-23.6 8-23.5 10.7-26.1 15.8-33.7 11.4-20.7 12.7-19.7 4.7-20.3 6.3-21 6.8-18.3 8.9-20-2.5,28.6-1.1,20.2 20.6-23.5 25.5-25.3-14.5,21.8-9.7,15.6-11.7,21-10.8,21.2 .4,17.9 1.2,18.1 7,67.7 9.5,60.2 8.8,41.8 2.2-14.3-1,.3-1,.2 2-.5 3.3-17.9 4.3-18.3 11.7-41.9 10-28.7 15.1-36.5 11.1-23.3 14.1-24.8 3.2-20.3 4.3-21 5-18.3 6.4-20 1.8,48.8 18.2-23.5 22.5-25.3-19.9,37.4-9.8,21-9.1,21.2 2.4,25.7 4,29.7-13.4,47-10.9,45.1-4.8-39-2.1-34.9-11,39.3-9.5,39.5-6.1,28.7-.9,.2 .9-.2-6.5,36.8-4.8,31.4-5.9,48.5 10,29.5 10.5,25.9-.9,30.8-12.3-16.8-11.7-17.7-.6,41.9 1.5,41.4-7.1-17.6-5.4-15.7-4.5-15.7-4.3-18.4-3.4-18.4-1.9-15.8-1.2-15.8-.3-17.6-12.3-28.9-9.5-26.1-8.7-28.8-7.8-31.4-4.9-26.8-4-31.5-1.9-26.3-.4-24.4-7.6,23.6-7.4,26.3-8.5,34.1-5,23.5 1.9-.5-1.9,.6-5.3,31.5-4.2,28.8-2.3,20.8-2.9,35.5 7.1,18.9 6.6,15.8 15.6,31.6 20,34.1 24,34.6-21.4-20.1-19.2-20-17.2-20.4-17.2-22.8 1,19 2,22.9 6,41.4-9.1-17.6-6-13.1-9.8-26.2-7.4-26.3-2.7-13.1-1.9-13.2-2-25.5-14.4-31.5-9.1-23.5-9.2-28.8-7.5-28.8-5-26.8-3.8-31.5-1.5-26.3 .3-27-7.5,20.9-6.6,21.1-9.8,36.8-6.4,28.7-1.2,.3 1.2-.3-5.5,34.2-3.7,31.4-1.5,18.3-1.4,32.8 7.8,18.9 7.4,15.8 8.5,15.8 9.3,15.8 12,18.4 11.1,15.7 12.2,15.7 15.7,18.9-23.7-20.1-21.4-20-19-20.4-18.9-22.8 2.4,19 4,22.9 4.1,17.6 6.5,23.8-14.2-22.8-11-21-9.8-23.6-7.5-23.7-4.5-21-2.7-22.9-14.3-28.9-10-23.5-9-26.2-8.8-31.4-5.2-26.7-3.7-34.2-1-26.3 1.2-27-9.1,23.6-8.6,26.3-9.3,34.1-5.2,23.5 1.9-.5-1.9,.6-4.8,31.5-3.2,28.8-1.3,23.5-.3,32.8 8.6,18.9 8.3,15.8 9.4,15.8 10.6,15.8 13.5,18.4 12.6,15.7 13.9,15.7 18,18.9-19.9-15.1-15.4-12.5-14.3-12.5-13.8-13.2 11.2,16.8 12.7,16.8 18.8,22.2 17.6,19.2 16.8,16.3 18.2,16.1 19.4,15.8 23.4,17.9 24.8,17.7 21.8,14.7 22.7,14.1 21,11.9 21.1,10.6 23.4,10.5 27.9,11.4 26,9.7 1039.2,0 35.2-13.3 37.5-16.2 29.8-14.9 28.4-16.7 33-21.8 31.5-22.7 29.7-23.4 24.6-21.4 22-21.8 22-24.8 17.8-22.3 15.3-22.4 6.2-30-19.2,21.5-23.1,22.9-20.2,17.6-27.2,21.3 16.4-17.6 13.6-15.7 12.5-15.7 13.3-18.4 12.1-18.4 9.1-15.8 8-15.8 7.9-17.6-.8-39.4-2.3-28.7-5.7-41.9-6.9-32-6.2-23.6-6.3-21-6.3-18.4-7.4-19.2 1,20.9-.2,18.4-1.7,23.7-2.9,23.6-3.7,20.9-8.6,2.2 8.6-2.2-1.2,5.4-8.6,31.4-8.9,26.2-9.8,23.5-14.7,30.2-2.7,24.2-4.4,21-7.4,23.7-9.6,23.7-10.7,20.9-13,21.5 6.3-25.1 3.2-15 3.8-22.9 2.3-20.3-17.5,21.5-21,22.9-18.4,17.6-24.7,21.3 14.4-17.6 11.9-15.7 10.9-15.7 11.8-18.4 10.6-18.4 8.2-15.8 7.2-15.8 7.1-17.6-1.7-34.1-1.9-20.9-4-31.4-5.2-31.5-5.3-24.1-8.8-34.1-7.1-23.7-8.5-24.4 .3,20.9-.9,21.1-3.5,34.1-5.3,31.4 1.9-.5-1.9,.5-8.8,34.2-10.1,31.4-9.3,23.5-12.5,27.6-1.9,26.8-4.5,26.3-7.9,29-9.8,26.2-12.9,26.7 5.1-40.1 1.7-22.9 .8-20.3-15.8,21.5-19,22.9-16.5,17.6-22.3,21.3 17.5-25.5 12.9-20.9 14.5-26.3 12.6-26.3 6.5-15.8 7.4-20.2-2.1-23.7-5.1-44.4-9.2-55-12.6-53-12.3-42.1-2-6-.3,18.3-1,18.4-4.1,37.2-12.1-46.9-14.2-45.2 2.7-28 1.2-27.4-10-20.3-11.4-21-10.9-18.3-12.9-20 25.6,26.1 19.5,22.7-2.6-48.8 8,19.2 6.6,18.2 6,21 4.7,21.2 12.9,20.5 12.5,23.3 15.3,33.8 11.2,28.7 8.4,26.1 7.7,28.8 4.5,21 3.7,23.5 3.4-14.3 1-.2-1,.2 7-36.2 4.4-28.8 3-23.6 4.9-65 .4-18.1-.6-19.7-11.7-20.3-13.2-21-12.9-18.3-15.3-20 28.7,26.1 21.7,22.7-2.8-21-5.1-27.8 3.5,6.2 9.5,18.2 7,15.7 7.7,21 5.5,18.5 14.2,20.5 12.2,20.7 15.6,31.2 11.5,26 9.4,26.2 9.2,31.4 5.4,23.6 4,26.1 3.5-14.3 1.1-.2 2.1-.6-3.2,.8 3.9-17.9 3.5-21 3.6-26.1 2.5-23.6 1.4-23.4 1.2-41.6-.6-18.1-1.9-19.7-13.2-20.3-15.2-21-14.8-18.3-17.6-20 31.7,26.1 24,22.7-5-21-8.2-27.8 15.8,24.4 7.2,13 6.4,13.2 6.7,15.7 4.8,13.3 15.6,20.5 13.3,20.7 16.8,31.2 12.3,26 10.1,26.2 9.6,31.4 5.5,23.6 3.7,26.1 3.7-14.3-1.1,.3 1.1-.3 3.4-15.3 4.3-26.7-3.5-33.6-2.8-17-3.1-14.1-11.3-42.3-4.3-12.7-5-12.7-11.8-23.9-10.8-18.4-12.1-18.2-11.7-15.5-16.3-19.4-16.1-18-14.9-15-17.8-16.2-19.3-16.2-23.3-18.3-24.8-18-27.2-18.5-24.1-15.1-20.2-11.5-20.4-10.3-22.9-10.4-26-10.8zM-260.7,-256.2l-13.9,34.8-12,34.2-9.9,31.5-9.4,34.5 10.4,58.7 11.9,62.9 12.4,58.2 10.2,44.4 2.8-27.3 3.6-26.3 5.1-31.5 5.1-26.2 6.6-28.9 7.4-28.7 7.6-26.1 9.6-29.2-2.6-33.6-.8-34.2 .8-34.2 2.5-33 9.3,36.1 10.9,47.2 10.6-22.6 10.6-20.3 11.6-20.1 13-20.3-9.9,34.8-9,34.2-15.4,66 28,137.3 2.1-.5-2.1,.5 17.6,86.9 8.2-56.2 10.7-57.8 13.4-57.5 14.7-52.7-4.1-33.6-3.2-34.2-2.3-34.2-1.2-33 14.2,38.7 14,44.6 8.9-22.6 9.9-22.8 9.6-20.1 9.4-17.8-23.6,135 11.7,48.3 12,54.9 11.4,58.2 11.2,62.8 8.2-48.3 8.8-46.8-1.4,.4-.4,.1 1.8-.5 14.6-68.6 14.8-60.5-11.7-70.5-10-64.5 9.4,18.6 9.2,20.1 9.5,22.8 8.3,21.8 14.9-45.4 14.7-37.9-1.8,32.2-2.8,34.1-3.6,34.2-4.5,34.5 9.2,32.6 8.6,34 8.3,36.6 6.9,34.1 7.4-1.8-7.4,1.8 7.8,45.2 6.1,41.7 18.9-95.1 .7-.2 2.1-.5-2.8,.7 13.9-68.6 12.9-60.5-14.5-65.2-17.9-69.8 11.6,18.6 11.3,20.1 11.6,22.8 9.9,21.8 11.1-45.4 10.5-37.9 1.8,32.2 .4,34.1-1.3,34.2-2.8,34.5 9.6,30 8.1,28.7 10.3,41.9 7.4,36.7 1.1-.2-1.1,.2 7.3,45.2 4.9,41.7 9.7-43.1 12.7-60.4 22.6-120.7-8.8-33.6-9.5-31.6-12.4-36.8-12.5-33 13.7,18.6 13.5,20.1 13.6,22.8 11.6,21.8 13.5-83.3 5.9,34.8 3.3,34.2 1,31.5-1.3,34.5 10.7,30 7.4,23.5 7.9,28.8 7.4,31.4 5.1,26.7 4.8,31.6 3,26.2 2,26 9.1-35.2 8.9-38.7 3.8,26.9 2.5,23.7 2.4,41.5-12.7,29.5-13.4,25.9-2,21.4-2.9,21-3.5,18.3-4.4,18.9-5.8-48.8-17.6,25-19.1,23.8 17.1-38.5 15.6-41.1-4.7-32.4-13.2-78-10.7-57.6-7.8-37.7-4.6,25.9-5,23.6-7.7,31.4-7.4,26.1-9.3,28.7-10.3,28.6-8.4,20.7-9.5,20.7-1.4,42.4-3.6,37.2-11.2-48.8-15,25-16.3,23.8 12.7-38.5 12.2-41.1-14.5-68.7-22.4-112.9-.9,.2 .9-.2-4.9-24.1-4.9,26.6-.7,.1-2.1,.6 2.8-.7-9,41.2-10,39.2-7.6,26.1-9,28.6-8.3,23.3-8.1,20.7 2.2,39.8 .6,39.8-8-22.6-8.4-26.2-12.5,25-13.6,23.8 17.1-79.6-12.8-47.9-10-41.6-9.8-44.5-9.8-47.6-1.1,.2 1.1-.2-4.7-24.1-5.1,26.6-.7,.1-1.4,.4 2.1-.5-9.3,43.8-9.3,39.2-13.3,49.5-14.6,46.6 10.7,79.6-10.7-22.6-11.1-26.2-10,25-10.7,23.8 4.1-38.5 5.1-41.1-14.7-45.3-14.3-52.1-12.9-54.9-10.6-53.4-12.5,62.6-11.9,54.9-9.1,39-12.7,49.2 18.5,79.6-14.7-25.1-12.3-23.7-8.3,27.5-7.2,21.3-.2-38.5 1.7-41.1-8.9-22-7.5-20.7-9.3-28.6-7.8-26.1-7-26.1-6.8-28.8-5.6-26.2-5-27.2-40.8,205.7 13.2,42.4 13.1,37.2-17.7-25.1-14.6-23.7-10.2,48.8-4.6-38.5-1.8-41.1-10.3-22-8.6-20.7-10.4-28.6-8.6-26.1-7.6-26.1-7.8-31.4-5.4-25.2-4.5-25.6-5.6,26.6 1.4-.4 1.3-.3-2.7,.7-13,70-12.3,75.4-4.6,33.7 16.8,42.4 17.3,37.2-20.6-25.1-17-23.7-4.9,48.8-5.1-20.2-3.7-18.3-3.2-21-2.2-20.1-14.3-27.2-12.3-28.2 2.5-45.5 2.2-21 3.6-25.6 9.3,40.1 9,33.8 1.9-27.3 3-26.3 6.6-41.5 .6-.2 .5-.1-1.1,.3 3.2-16.2 6.8-28.9 7.9-28.7 8.4-26.1 10.6-29.2-1-28.4 .7-27 18.1-30.8 5,34.5 12.4-22.6 14.1-22.8 12.1-17.6zM384,18.9l6.1-29.9 7.5-41.9 10.4-68.3-10.3-33.6-11.7-31.6-15.7-36.8-16.3-33 16,18.6 15.6,20.1 15.7,22.8 13.3,21.8 2.7-34.5 20.2,30.8 2.1,26.2 .1,29.2 13.6,35.2 10.2,31.4 10.3,39.2 6.3,31.5 27.2,17.5 1.1-4.5 .8,5.8 19.6,12.7 21.3-31.2-7.2,27.5-8.1,26.2-8.6,23.5-11.5,27.6-.4,18.9-1,15.8-1.9,15.8-2.6,15.8-4,18.4-4.2,15.7-5,15.7-7.1,18.9 .6-42.7-1.2-40.6-10.6,16.4-12.9,18.1-1.4-30.8 10.7-27.3 9.3-28.1-7.9-60.2-11.7-66-20.3,31.2-5.3-28.1-5.9-27.2-4.5,26.6-.6,.1-2.1,.6 2.7-.7-4.4,20.2-5.6,22.7zM-660.6,16.1l1.4,5.8 1.7,7.2 2.1-14.3z"/><path fill="#0072bd" d="M519.6,-444.6l-1039.2,0-26.1,9.7-26.7,10.9-22.6,10.1-19.9,9.9-20.5,11.3-19.2,11.8-21.9,14.4-23.8,16.7-35,26.5-30.9,26.2-6.7,18.2-7.6,22.7 14-18.7 15.2-17.8 19.7-20 23.1-21.1 27.6-11.1 28.1-10.3 1.3,9-.2,12.4-25.5,20.3-23.2,20-18.8,17.8-18.8,19.5 19-14 21-14.2 18.7-11.6 23.8-13.5-11.6,53.3 11.7-18.7 12.7-17.8 16.4-20 19.5-21.1 25.4-11.1 26.1-10.3 3.1,9 2.1,12.4-21.9,20.3-20,20-16.3,17.8-16.3,19.5 17.3-14 19-14.2 17-11.6 21.6-13.5-3.9,53.3 9.2-18.7 10.2-17.8 13.2-20 15.8-21.1 23.4-11.1 24.1-10.3 5.6,10.9 3.7,10.5-18.4,20.3-16.8,20-13.7,17.8-13.8,19.5 15.5-14 17.1-14.2 15.2-11.6 19.5-13.5 1.7,18.9 1.9,34.4 6.9-18.7 7.6-17.8 10.1-20 12-21.1 21.3-11.1 22.1-10.3 7.8,10.9 5.6,10.5-14.8,20.3-13.6,20-11.2,17.8-11.3,19.5 23.7-23.5 13.3-11.7 13.7-11.2-12,19.2-11.5,20.5-15.1,28.5-10.1,20.9-10.3,23.6-9.4,23.7-7.4,21-7.3,24 6,43 5.1,31.4 7.6,41.9 7.2,34 4.1-24.3 5-23.6 8-31.4 7.8-26.2 9-26.1 12.1-31.1 9.1-20.7 11.3-22.3 1.5-20.3 2.5-21 3-18.3 4.1-20 7,48.8 17.7-26 21.4-27.1 19.3-21.6 21.2-20.5-10.1,21.8-10.5,24.6 17.9-21.1 16.8-17.5 6.4,18.2 6.3,20.4 3.5-28.9 5.1-29.1 24.2-18.8 23.4-15.2 7.7,7.8 7.1,8.1 13.1,18.1-18.1,58 15.2-21.1 14.3-17.5 9.1,18.2 8.9,20.4-.4-28.9 .6-29.1 20.8-18.8 20.6-15.2 17.7,15.9 16.4,18.1-9.7,58 12.4-21.1 11.8-17.5 11.7,18.2 11.5,20.4-8.1-58 17.5-18.8 17.7-15.2 20.7,15.9 19.5,18.1-.2,28.3-1.1,29.7 9.8-21.1 9.2-17.5 14.4,18.2 14.1,20.4-16.6-58 14.3-18.8 14.8-15.2 23.7,15.9 22.7,18.1 4.2,28.3 2.9,29.7 6.2-18.8 7.5-19.8 17,18.2 16.8,20.4-11.8-28.9-13.2-29.1 11-18.8 11.9-15.2 26.7,15.9 25.9,18.1 8.7,28.3 6.7,29.7 8.5-38.6 19.7,18.2 19.3,20.4-12.7-23.8-13.3-22.6 24.6,21.3 21.6,21.6 23.9,27.1 19.2,25.2 2.7-48.8 5.8,19.2 4.6,18.2 4.1,21 3,21.2 12.9,23.1 11.1,23.3 14.9,36.4 10.9,31.3 6.8,23.6 6.6,26.2 3.8,18.3 3.9,23.5 7.5-34.8 7.2-41.9 4.5-31.4 4.7-42.2-7.9-23.1-8.4-21.1-10.7-23.6-12-23.7-11.8-20.9-17.8-28.5-13.8-20.5-14.9-20 27.8,21.3 28.2,25.1-12.8-18.7-13.2-17.8-16.2-20-18.4-21.1 4.3-11.1 5.7-10.3 25.1,10.9 21.7,10.5 14.5,20.3 12.8,20 9.7,17.8 9.3,19.5-2.7-53.3 18.9,12 20.1,13.8 15.6,11.9 19,15.6-15.2-18.7-15.7-17.8-19.4-20-22.1-21.1 2.2-11.1 3.7-10.3 27.2,10.9 23.7,10.5 18.1,20.3 16,20 12.3,17.8 11.7,19.5-10.2-53.3 20.8,12 22.2,13.8 17.2,11.9 21,15.6-17.6-18.7-18.3-17.8-22.6-20-25.8-21.1 .1-11.1 1.8-10.3 29.3,10.9 25.6,10.5 21.7,20.3 19.2,20 14.8,17.8 14.3,19.5-8.1-25.9-9.7-27.4 23.6,12.4-17.7-15.3-19.8-16.1-27.3-20.6-27.8-19.4-26.6-17.2-22.1-12.9-23.2-12.1-23.3-10.7-28.8-12zM550.1,16.4l13.9-21.4-5.4-24.1-3.7,23.2zM379.6,16.1l1.4,8.4 .7,4.6 2.3-10.2zM-639.9,390l25.3,14.2 27,13.1 33.2,14.2 34.8,13.1 1039.2,0 26-9.7 27.9-11.4 23.5-10.5 21.8-11 20.1-11.4 22.9-14.3 25.3-17 24.7-17.9-18,6.8 1.2-15 4.3-19 17.3-14.2 17.2-15.1 29.1-28.7-28.5,20.2-29.5,18.4 10.5-38.6-11.6,17.2-9.5,12.8-10.5,12.6-14.1,15.4-36.9,17.9-37.9,16.1-1.1-7-.5-8 .9-19 29.9-29.3 25.3-28.7-25.9,20.2-26.8,18.4 5.2-38.6-9.4,17.2-7.7,12.8-8.6,12.6-11.6,15.4-33.7,17.9-34.9,16.1-2.5-7-1.9-8-2.5-19 25.3-29.3 21.5-28.7-23.2,20.2-24.2,18.4 0-38.6-10.7,24.9-11.3,21.4-1.4-39.3-.7-55.8-20,25-21.9,23.8 11.6-20.2 9.8-18.3 10.2-21 8.9-20.1-2.8-32.4-7-54.5-10.1-63.5-14.5,21.4-11.2-7.2-12,40.1-15,40.7 .5,24.2-.7,21-2.2,23.7-3.3,23.7-4.8,23.5-6.8,25.9-6.4,20.4-7.2,19-4.3-22.7-3.7-23.7-5.3,19.8-5.7,17.7-7.6,20-8.7,20.1-18.2,10.3-22,11.1-8.8-10.1-7.8-11.3 23.7-41.3 17.9-36.3-13.6,15.4-11.4,11.8-14.6,13.9-14.2,12.2-8.2-22.5-8.9-30.8-2.8,19.8-3.1,17.7-4.4,20-5.2,20.1-16.3,10.3-19.9,11.1-10.7-10.1-9.9-11.3 16.7-41.3 13.1-36.3-11.7,15.4-9.8,11.8-12.6,13.9-12.1,12.2-12.8-24.9-12-28.4-.8,37.5-2.8,40.1-17.3,12.2-14.8,9.2-12.7-10.1-12-11.3 17.9-77.6-17.9,27.2-10.5,13.9-10.2,12.2-7.8-11-8.8-13.9-15.7-28.4 8.2,77.6-15,12.2-13.1,9.2-14.6-10.1-14.1-11.3 2.6-38.8 3.5-38.8-15.7,29.6-15.3,23.7-9.6-11-11-13.9-10.1-14.2-9.3-14.2 20,77.6-12.6,12.2-11.3,9.2-16.6-10.1-16.2-11.3-4-38.8-1.8-38.8-11.8,29.6-11.6,23.7-11.4-11-13-13.9-12.1-14.2-11-14.2 14.4,37.5 17.4,40.1-10.4,12.2-9.5,9.2-18.6-10.1-18.3-11.3-5.4-18.9-5.1-19.9-3.6-17.7-3.4-21.1-7.9,29.6-8,23.7-15.7-13.3-12.5-11.6-14-14.2-12.9-14.2 19.5,37.5 24.2,40.1-8.1,12.2-7.7,9.2-20.6-10.1-20.4-11.3-8.8-18.9-8.2-19.9-6.3-17.7-6.1-21.1-3.3,24.9-3.5,21.5-5.3-12.7-7.3-20.3-6.9-23.2-5.3-20.9-3.5-18.3-3.1-21-2.1-21.1-.8-21 .3-22.9-14.8-39.4-10.5-33.9-10.4-41.9-6.2-35.1-8.8,41.6-10,60.2-8.5,67.6-2.9,36.3 9.9,21.4 10.6,21 21.4,37.2-23.4-25.1-19.4-23.7 .4,54.5-.4,40.7-12.5-22.8-10.6-23.6 .9,38.6-23.2-17.2-25.2-21.4 23.2,30 25.1,28-1.7,17.9-1.6,8.1-2.5,8-33.3-15-36.4-19-11.1-14.2-10.7-15.1-8-12.8-9-15.9 6.2,38.6-25.7-17.2-28-21.4 27.2,30 29.5,28 1.5,20-1.1,14-38.4-16.1-37.5-17.9-13.4-14.2-13-15.1-9.7-12.8-11.1-15.9 11.5,38.6-28.2-17.2-30.7-21.4 17.4,17.2 13.7,12.8 33.9,28 4.2,15.9 2,11.3 37.3,26.5z"/><path fill="#00ffff" d="M519.6,-444.6l-1039.2,0-30.6,11.5-29,12.1-26.9,12.4-21.5,11.5-26.8,16.1-28.3,18.7-29.5,21.2-26.8,20.8 30.5-13.5 24-19.9 23.6-18.1 4.9,7.6 3.2,9 29.3-9.5 24.4-7.1-28.1,19.7-24.5,18.3-1.5,11.9-2.3,12.4 25-13 23.7-11.3 20.1-19.9 20-18.1 6.5,7.6 4.9,9 27.4-9.5 22.9-7.1-24.1,19.7-21,18.3 .7,11.9-.3,12.4 22.8-13 21.7-11.3 16.4-19.9 16.2-18.1 8.1,7.6 6.8,9 25.4-9.5 21.4-7.1-20,19.7-17.5,18.3 2.7,11.9 1.9,12.4 20.6-13 19.6-11.3 12.6-19.9 12.5-18.1 9.7,7.6 8.6,9 23.5-9.5 20-7.1-30.1,38 4.1,9.8 3.4,9.8-7.7,11.6 9.1-6.9 5.6,23.5 5.6,29.8 4.4-18.7 5.1-17.8 6.9-20 8.3-21.1 19.3-11.1 20.1-10.3 8.2,9 7.5,9.8 6.4,10.3 6.2,11.9-5.8,11.6 8-6.9 6.1,14.7 21.3-19.4 4.3-19.6 4.8-3.2 15.6-9.8 14.9-8.4 8,7 24.3-13.2 23.8-10.4-20.2,57.6 11.4,19.4 18.2-19.4 1.3-27.7 2.3-29.9 20,11 17.8,12.6 21.7-13.2 21.7-10.4-9.3,57.6 14.5,19.4 15.1-19.4-7.4-57.6 22.3,11 20.3,12.6 19.1-13.2 19.5-10.4 1.6,57.6 17.7,19.4 11.9-19.4-18.3-57.6 24.6,11 22.8,12.6 7-6.1 9.5-7.1 17.3-10.4 7,29.2 5.6,28.4 20.8,19.4 8.8-19.4-14.7-30.1-14.5-27.5 26.8,11 25.3,12.6 6.8-7 17.4,9 13.7,7.8 7.5,4.6 7.2,19.6 23.9,19.4 4.1-14.7 8.9,6.9-7.3-11.6 4.8-12.6 4.9-10.2 6-9.8 6.4-8.4 19.1,9 23.6,12.4 11,20.3 9.5,20 7.3,17.8 6.7,19.5 2.6-32.9 2.4-20.4 10,6.9-9.3-11.6 2.1-10.5 2.6-9.1-18.5-19.9-17.8-18.1 22.7,7.6 23.6,9 7.6-9.5 7.9-7.1 16.9,19.7 14.4,18.3 22.4,11.9 21.2,12.4 .2-13 1-11.3-22.2-19.9-21.5-18.1 24.2,7.6 25.4,9 5.7-9.5 6.4-7.1 20.9,19.7 17.9,18.3 24.6,11.9 23.3,12.4-2.1-13-1-11.3-26-19.9-25.2-18.1 25.8,7.6 27.3,9 3.7-9.5 4.9-7.1 25,19.7 21.3,18.3 26.8,11.9 25.4,12.4-3.6-10.8-8.4-6.7-21.8-16.7-22.5-16.1-21.7-14.7-21.6-13.6-26-14.8-26.4-13-35.8-15.4zM-623.6,399.3l22.1,11.5 23.2,10.6 28.7,12 30,11.2 1039.2,0 25.5-9.5 23.7-9.6 23.6-10.4 20.6-10.1 18.1-9.9 19.4-11.6 22.3-14.4 21.4-14.9-.4-6-36.3,12.4-37.8,11.2 40.3-27.8 39.3-29.8 5.6-19.4-35.2,19.4-14,14.2-15.3,14.5-33.6,28.9-4.3-5.3-3-5-3-7-1.6-6.3-33.8,12.4-35.5,11.2 34.7-27.8 33.9-29.8 2.5-19.4-32.1,19.4-24.1,28.7-27.8,28.9-5.4-5.3-4.1-5-4.3-7-2.9-6.3-16.9,7-4.1-8.2-2.8-7.8-1.5-5.4 18.4-19.6-.6-19.4-21.5,14.7-.5-7-7,11.7-1.5,1-17.9,10.7-18.8,10.3-19.6,9.8-20.2,9.2-6.8-10.1-5.6-11.3 16.3-21.3 14.3-20 11.6-17.8 11.2-18.5-23.3,22.5-22,18.6-16.1,12.2-1.6-6.9-5,11.6-30.3,19.6-8.9,18.5-10.4,19.5-12.1-8.6-8.8-8-20.3,8.8-20.5,7.8 24.2-38-6.1-11.1-6.1-13.2-15.4,12.2-17.2,12.1-11.8,38-13.9-8.6-10.5-8-18.5,8.8-18.9,7.8 16.8-38-8.1-11.1-8.3-13.2-13.4,12.2-15,12.1-4.4,38-15.6-8.6-12.1-8-16.7,8.8-17.3,7.8 9.3-38-10.1-11.1-10.6-13.2-11.3,12.2-12.8,12.1 3.1,38-17.5-8.6-13.7-8-14.9,8.8-15.6,7.8 1.8-38-12.1-11.1-12.8-13.2-9.3,12.2-10.7,12.1 10.7,38-19.3-8.6-15.3-8-13.2,8.8-14,7.8-5.6-38-14.1-11.1-15.1-13.2-7.2,12.2-8.5,12.1 18.1,38-21-8.6-17-8-11.3,8.8-12.4,7.8-13.2-38-16.1-11.1-17.3-13.2-5.1,12.2-6.3,12.1 25.6,38-22.8-8.6-18.6-8-9.6,8.8-10.7,7.8-10.5-18.3-10.2-19.7-30.9-19.6-5.3-11.6-1.4,6.9-14.9-11-25.4-20.9-22.5-21.4 12.5,19.8 12.2,17.7 14.8,20 16.1,20.1-5.8,12.2-5.9,9.2-18.5-8.2-20.1-9.8-19.1-10.2-18.4-10.7-3.3-2.1-7.3-11.6-.3,6.9-21.9-14.7-.1,19.4 19.1,19.6-1.6,6.4-2.7,7.8-3.4,7.2-17.2-7-3.1,7.2-3.1,5.2-3.7,5.1-5.9,6.1-27.8-27.8-13.1-14.4-13-15.4-32.6-19.4 3,19.4 33.4,28.7 37.2,28.9-33.3-10.3-36.9-13.3-1.7,7.2-2,5.2-2.7,5.1-4.6,6.1-33.4-27.8-15.8-14.4-15.7-15.4-35.7-19.4 6.1,19.4 38.6,28.7 42.9,28.9-29.9-8.6-27.8-9 36.1,24.5z"/><path fill="#327d32" d="M519.6,-444.6l-1039.2,0-44.3,17-37.4,16.7-30.6,16.2-31.9,19.7 2.9,3.2 15.5-11 43-7.5 11.1,3.7 8.8,3.8-16.6,11 24.6-6.3 7.8,6.3 13-11 41.3-7.5 12,3.7 9.6,3.8-14.2,11 23.3-6.3 9.1,6.3 10.7-11 39.5-7.5 12.8,3.7 10.6,3.8-11.9,11 21.9-6.3 10.5,6.3 8.3-11 37.8-7.5 13.7,3.7 11.4,3.8-9.4,11 20.5-6.3 2.9,1.4-24.4,31.7-21.6,30.8 1.4,4.7 18.3-13 17.6-11.3 8.8-19.9 8.9-18.1 11.2,7.6 10.5,9 21.6-9.5 20.9-8 16.7-5.4 3.2,1.4-18,31.7-16.1,30.8 2.2,4.7 16.2-13 15.5-11.3 10.2-38 12.8,7.6 12.3,9 27.2-12.8 27.3-10.1 3.5,1.4-1.9,4.9 7.1-2.7 5.9,2.7 .4-4.9 22.4-6.8 19.9-4.8 19.9,5.1 19.4,6.5-.8,4.9 6.5-2.7 6.4,2.7-.6-4.9 20.9-6.8 18.8-4.8 21.1,5.1 20.7,6.5 .3,4.9 5.9-2.7 7,2.7-1.6-4.9 19.4-6.8 17.7-4.8 22.2,5.1 22.2,6.5 1.3,4.9 5.4-2.7 7.6,2.7-2.7-4.9 3.2-1.4 30.4,10.6 28,12.3 11.5-9.5 10.8-7.1 8.9,19.7 7.4,18.3 18.2,11.9 17,12.4 1.6-4.7-21.8-32.4-22.2-30.1 3-1.4 14.5,4.4 22.5,7.8 26.1,10.7 9.6-9.5 9.3-7.1 12.9,19.7 10.9,18.3 20.4,11.9 19.1,12.4 .7-4.7-2.7-3.4-24.9-29-28.3-30.1 2.7-1.4 21.6,6.3-11.4-11 11.8-4.2 11.9-3.3 39.2,7.5 10.3,11 9.4-6.3 23,6.3-13.8-11 10.8-4.2 11.1-3.3 41,7.5 12.6,11 8-6.3 24.4,6.3-16.2-11 9.9-4.2 10.3-3.3 42.7,7.5 15,11 6.7-6.3 13,3.1-31.9-19.7-30.6-16.2-37.4-16.7zM-519.6,444.6l1039.2,0 35-13.3 37.4-16 26.4-13.1 27.3-15.7-11.1,1.8-3.5-1.2-10.2-4.7-8.7-5.7 7.5-4.9-10.2,2.7-2.7-2.7-6.2,4.9-28.2,6.3-28.3,5.3-12.4-4.6-12.6-7 6.5-4.9-9.6,2.7-3.3-2.7-5.2,4.9-5.5,1.4-7.6-5.3-5.3-4.7-5.8-6.6-4.2-6.3-23.9,8.8-23.8,7.8 19.5-18.3 19.8-19.7-2.2-11.1-1.5-13.2-7.5,4.7-20.6,31-12.3,16.4-12.1,15.1-5.2,1.4-6.6-3.8-12.2-9.4-9-9.7-22.1,8.8-22.1,7.8 31.8-38-4.2-11.1-3.8-13.2-6.6,4.7-15.1,31-18,31.5-4.9,1.4-11.6-6.3-6.4,11-36.5,7.5-12.7-3.2-13.7-4.3 7.6-11-19.5,6.3-12.9-6.3-4,11-34.8,7.5-13.5-3.2-14.6-4.3 5.1-11-18.1,6.3-14.3-6.3-1.6,11-15,3.7-18,3.8-14.2-3.2-15.7-4.3 2.8-11-16.8,6.3-15.6-6.3 .8,11-14.2,3.7-17.1,3.8-15-3.2-16.6-4.3 .4-11-15.4,6.3-17-6.3 3.2,11-13.3,3.7-16.3,3.8-33.4-7.5-2-11-14,6.3-18.4-6.3 5.6,11-12.4,3.7-15.4,3.8-35.1-7.5-4.4-11-12.7,6.3-19.7-6.3 8,11-11.6,3.7-14.6,3.8-36.7-7.5-6.8-11-11.4,6.3-4.9-1.4-18.5-30.3-16.8-32.2-6.7-4.7-3.1,12.2-4.1,12.1 15.6,18.5 17.5,19.5-24.6-8.6-20.2-8-9.5,10.5-10,7.8-7.4,4.6-5.3-1.4-24.7-30.3-12.2-16.8-10.3-15.4-7.6-4.7-1,12.2-1.9,12.1 19.1,18.5 21.4,19.5-26.4-8.6-21.8-8-4.6,7.2-4.2,4.9-6.8,6.2-6.5,4.6-5.6-1.4-5.3-4.9-3.2,2.7-9.7-2.7 6.7,4.9-11.1,6.3-13.5,5.3-31.5-5.9-25.5-5.7-6.3-4.9-2.7,2.7-10.3-2.7 7.8,4.9-7.4,5.1-9.6,4.7 27.3,15.7 26.4,13.1 37.4,16z"/><path fill="#e6ff1e" d="M519.6,-444.6l-1039.2,0-39.6,15.1-37.4,16.4-28.2,14.4-29.9,17.9 9.3-2 18.8-12.3 11.9,2 12.3,2.8 39.8-4.8-19.9,12.3 8,4.7 20.8-4.7 15.9-12.3 12.5,2 12.9,2.8 38.7-4.8-17.1,12.3 9.1,4.7 19.8-4.7 12.9-12.3 13,2 13.6,2.8 37.5-4.8-14.1,12.3 10,4.7 18.8-4.7 10.1-12.3 13.4,2 14.3,2.8 36.4-4.8-11.3,12.3 11.1,4.7 5.2-1.4-2.3,2.8 9,4.9 5.8-11 36.1-7.5 22.1,5.9 16.9,6.3 4.9-1.4-1.7,2.8 10,4.9 3.5-11 34.4-7.5 23.4,5.9 18.3,6.3 4.6-1.4-1.1,2.8 5.2,2.2 6.3-2.2 .6-6.1 16.8-4.2 15.9-3.3 9,2 23.3-4.3 18.9-2.5-2.9,18.4 5.7,2.2 5.8-2.2-2.2-18.4 20.4,2.8 21.5,4 22.2-4.3 18.4-2.5 1.2,18.4 6.2,2.2 5.4-2.2-6.5-18.4 21.2,2.8 22.4,4 8.6-2 18.1,3.7 16,3.8 1.7,6.1 6.7,2.2 4.9-2.2-1.6-2.8 4.8,1.4 18.3-6.6 21.2-5.6 35.7,7.5 5.5,11 9.1-4.9-2.2-2.8 5.2,1.4 16.8-6.6 19.9-5.6 37.5,7.5 7.8,11 8.1-4.9-2.8-2.8 5.5,1.4 10.2-4.7-13.6-12.3 37.3,4.8 10.9-2.3 15.9-2.5 12.4,12.3 19.7,4.7 9.2-4.7-16.6-12.3 38.5,4.8 10.3-2.3 15.3-2.5 15.4,12.3 20.6,4.7 8.2-4.7-19.5-12.3 39.7,4.8 9.8-2.3 14.7-2.5 18.2,12.3 21.7,4.7 3.9-2.7-29.9-17.9-28.2-14.4-37.4-16.4zM-519.6,444.6l1039.2,0 35-13.3 32.8-13.9 26.9-13 25.6-14.4-5.3-1.7-27.1,4-25.5,2.8 30.2-18.4-2.7-2.2-8.9,2.2-25,18.4-18.3-3.2-13.2-3.6-12,2-10.5-3.2-10.8-4.3 8.3-6.1-3.1-2.2-8.5,2.2-3,2.8-2.5-1.4-32.7,7.3-27.2,4.9-11.3-3.2-11.7-4.3 12.3-11-16.9,4.9-2.4,2.8-2.8-1.4-31.1,7.3-26.1,4.9-12.1-3.2-12.6-4.3 9.9-11-15.9,4.9-1.8,2.8-3.1-1.4-18,4.7-7.8,12.3-28.7-4.8-35.4,4.8 9-12.3-11.9-4.7-16.9,4.7-4.9,12.3-29.9-4.8-34.3,4.8 6.2-12.3-13-4.7-15.9,4.7-2,12.3-31-4.8-33.1,4.8 3.2-12.3-14-4.7-14.8,4.7 .9,12.3-32.2-4.8-31.9,4.8 .3-12.3-15-4.7-13.8,4.7 3.7,12.3-33.3-4.8-30.8,4.8-2.6-12.3-16-4.7-12.8,4.7 6.7,12.3-34.5-4.8-29.6,4.8-5.5-12.3-17.1-4.7-11.7,4.7 9.5,12.3-35.7-4.8-14.2,2.8-14.2,2-8.3-12.3-18.2-4.7-3,1.4-1.9-2.8-16.1-4.9 10.3,11-10.7,3.7-13.7,3.8-29-5.5-28.6-6.7-2.8,1.4-2.5-2.8-17.2-4.9 12.8,11-9.9,3.7-12.8,3.8-30.3-5.5-30.1-6.7-2.4,1.4-3.2-2.8-8.5-2.2-3,2.2 8.5,6.1-9.1,3.7-11.9,3.8-12.1-2-14.9,4-16.3,2.8-25.8-18.4-9-2.2-2.5,2.2 30.9,18.4-42.1-5.1 25.6,14.4 26.9,13 32.8,13.9z"/><path fill="#ffc300" d="M519.6,-444.6l-1039.2,0-30.2,11.3-32.3,13.5-24.4,11.5-23.8,12.7 3.7,.5 3.4-2.1 34.6-1 29.6,1-3.6,2.1 14.3-1.2 10.5,1.2 2.9-2.1 34.4-1 29.9,1-3.1,2.1 13.9-1.2 10.8,1.2 2.4-2.1 34.2-1 30.1,1-2.6,2.1 13.7-1.2 11.1,1.2 1.8-2.1 28.3-1 36,1-2,2.1 13.3-1.2 5.7,.5-14,16.3 12.5-3.3 7.2-12.3 28.9,4.8 37.3-5 10.9-1 5.9,.5-10.2,16.3 11.8-3.3 4.3-12.3 30.1,4.8 36-5 10.7-1 5.9,.5-6.3,16.3 11-3.3 1.4-12.3 31.3,4.8 24.1-3.8 21.1-2.2 6.1,.5-.1,.7 6.4,0-.1-.7 17.4-1.4 26.7-.9 28.1,1.4 10.3,.9 .1,.7 6.3,0-.2-.7 5.9-.5 23.3,2.4 23.2,3.6 30.3-4.8 3.8,12.3 11.7,3.3-9.5-16.3 5.8-.5 12.7,1.2 35.3,4.8 29.1-4.8 6.6,12.3 12.4,3.3-13.2-16.3 5.6-.5 13.1,1.2 36.4,4.8 11.4-2.3 16.5-2.5 9.6,12.3 13.1,3.3-17.1-16.3 5.6-.5 13.6,1.2-2.5-2.1 31.9-1 32.4,1 2.3,2.1 10.8-1.2 13.9,1.2-3-2.1 31.7-1 32.6,1 2.8,2.1 10.6-1.2 14.1,1.2-3.4-2.1 31.4-1 32.9,1 3.3,2.1 10.2-1.2 9.2,.7-23.8-12.7-24.4-11.5-32.3-13.5zM-519.6,444.6l1039.2,0 30.2-11.3 28.1-11.7 25.4-11.7 22.9-12-19.6-.1-25.8-2 1.2-.7-6.4,0-.9,.7-7,.5-17.1-2.2-18.5-3.8-39,4.8 17.7-12.3-6.3-3.3-18.5,16.3-6.9,.5-17.6-2.2-19.4-3.8-37.8,4.8 14.8-12.3-7-3.3-14.8,16.3-6.7,.5-8.9-.9-13.7-2-15.9-3.1-36.7,4.8 12-12.3-7.8-3.3-11,16.3-6.6,.5-11.3-1.2-1.4,2.1-14.3,.7-17.2,.3-22.2-.4-10.6-.6 1.6-2.1-13.1,1.2-11.6-1.2-1,2.1-19.8,.8-22.6,.1-21.8-.9 1-2.1-12.8,1.2-11.9-1.2-.4,2.1-36.6,1-27.7-1 .6-2.1-12.5,1.2-12.2-1.2 .1,2.1-36.4,1-27.9-1 .1-2.1-12.3,1.2-12.5-1.2 .7,2.1-36.1,1-28.2-1-.5-2.1-11.9,1.2-12.8-1.2 1.1,2.1-35.8,1-28.4-1-1-2.1-11.7,1.2-13.1-1.2 1.7,2.1-29.9,1-34.4-1-1.5-2.1-11.3,1.2-6.6-.5-11.6-16.3-7.7,3.3 12.5,12.3-36.9-4.8-13.6,2.8-13.4,2-11.3,1.2-6.7-.5-15.4-16.3-6.9,3.3 15.3,12.3-38-4.8-17.1,3.5-19.7,2.5-6.8-.5-19.2-16.3-6.2,3.3 18.2,12.3-39.2-4.8-16.3,3.5-17.4,2.4-8.6-.4-1-.7-6.4,0 1.2,.7-29.6,2.1 22.9,12 25.4,11.7 28.1,11.7z"/><path fill="#ff5a00" d="M-231.5,-444.6l-4,0-4.5,2.7-20.7,14.9-18.5,15.5-14.8,14.3 11.3,.9 6.6-.5-.9,1 5.7,.7 1.4-2.1 22.3-.9 22.6,0 30.8,1.8 6.6-.5-.7,1 5.9,.7 .8-2.1 39.1-1 36.9,1.9 6.4-.5-.5,1 6.1,.7 .3-2.1 21.9-.9 28.2,.2 26.1,1.6 6.3-.5-.2,1 3.1,.3 3.1-.3-.2-1.4 4.9-.3 46.3-.7 31.4,1 .1,1.4 3.2,.3 3-.3-.4-1 6.3,.5 22.1-1.5 22.4-.4 31.6,1 .7,2.1 6-.7-.7-1 6.5,.5 21.7-1.5 22.3-.4 31.9,1 1.2,2.1 5.8-.7-1-1 6.6,.5 21.4-1.5 22.2-.4 32.1,1 1.7,2.1 5.6-.7-1.1-1 6.7,.5 11.1-.9-17-13.7-16.9-11.8-19.8-12.5-17.3-9.4-3.9,0 18.9,15.8 13.1,11.7-24-16.4-19.2-11.1-62,0 22.5,27.5-18.6-16.4-15.1-11.1-61.9,0 12.8,27.5-13.2-16.4-10.8-11.1-62,0 .7,8.9 2.5,18.6-7.7-16.4-6.7-11.1-61.9,0-3.1,10.6-3.4,16.9-2.5-18.1-2.2-9.4-61.9,0-7.2,10.6-8.9,16.9 4.8-27.5-61.9,0-11.1,10.6-14.6,16.9 14.5-27.5-61.9,0-17.3,12.3-18.1,15.2zM302.8,396.4l-13.5,.8-7.6,10.4-8.4,10.1-25.8,26.9 4,0 8.1-4.8 14.6-9.9 16.7-12.8-28.2,27.5 61.9,0 22-11.3 27.1-16.2-15.6,11.9-22.3,15.6 61.9,0 26.3-11.3 32.4-16.2-22.5,13.7-24.9,13.8 61.9,0 34.7-13 33.6-14.5-27,13.7-30.1,13.8 37.5,0 30.2-11.3 29.4-12.3 25.7-11.9 20.8-10.9-42.6-.7-4.8-.3 2.5-1.4-2.6-.3-3.5,.3-1.6,1-5.4-.5-22.2,1.4-23.4,.5-32.1-1 3.1-2.1-7.1,.7-1.3,1-5.6-.5-21.9,1.4-23.2,.5-32.4-1 2.7-2.1-7,.7-1,1-5.7-.5-39,1.9-16.9-.1-21.4-.9 2.1-2.1-6.8,.7-.8,1zM-304.7,-444.6l-3.9,0-5.6,2.7-26,14.9-23.5,15.5-18.6,14.3 11.1,.9 12.9-.9 11-11.6 10.8-10zM215.6,396.5l-14.7,.7-9.1,18.5-17.4,28.9 3.9,0 15.4-13 16.7-16.9 14.6-17.5zM-377.8,-444.6l-3.9,0-10.1,4.2-31.6,15.2-24.8,13.7-22.4,14.3 10.8,.9 13.2-.9 11.4-9.6 13.6-10.1 19.9-13.2zM136.7,397.2l-11.8-.9-12.3,.9-3,14.5-8.4,32.9 4,0 8.1-9.6 12.3-18.3zM-451,-444.6l-3.9,0-11.7,4.2-37,15.2-29.1,13.7-26.3,14.3 10.7,.9 13.4-.9 13.9-9.6 16.6-10.1 24.2-13.2zM48.3,397.2l-11.9-.9-12.1,.9 2.1,35.3 1.7,12.1 3.9,0 3.2-6.4 6.3-17.6zM-570.8,-424.7l-32,14.5-25.1,13.3 4.7-.3 24-13.7zM-40,397.2l-12.2-.9-11.8,.9 7.6,22.5 7.4,17.7 4,7.2 3.9,0 .8-11.3zM627.9,-396.9l-30.6-15.9-26.7-12-45.5-16.6-10.1-3.2-3.9,0 28.6,12.3 27.6,12.8 19.4,10 20.9,12.3 13.5,.9zM-128.3,397.2l-12.4-.9-11.7,.9 11.4,18.5 13.4,18.5 9.4,10.4 3.9,0-10-31.9zM441.6,-444.6l-3.6,0 27.2,14 20.1,11.1 16.4,10 17.5,12.3 13.4,.9 10.7-.9-24.4-13.7-24.2-11.8-28.3-12.5zM-216.6,397.2l-12.7-.9-11.4,.9 14.5,16.5 17.6,17.1 17.3,13.8 3.9,0-18.6-27.9zM368.3,-444.6l-3.5,0 22.1,14 16.4,11.1 15.9,12.1 11.7,10.2 13.1,.9 10.9-.9-20.7-13.7-20.5-11.8-24.1-12.5zM-590,396.1l-4.1-.6-2.5,.3 2.6,1.4-2.3,.2-29.4,.8 20.8,10.9 25.7,11.9 29.4,12.3 30.2,11.3 24.5,0-32.9-14.7-25.9-12.8 36.6,15.4 33.4,12.1 61.9,0-27.4-14.7-21.8-12.8 31.6,15.4 28.9,12.1 61.9,0-22-14.7-17.6-12.8 26.5,15.4 24.3,12.1 61.9,0-29.9-27.5 16.2,11.9 15.2,10 9.7,5.6 4,0-26.6-25.9-9-10.1-8.9-11.4-12.8-.9-5.8,.5-.8-1-6.8-.7 2.2,2.1-18.6,.8-22.5,.1-36.3-1.8-5.6,.5-1.1-1-7-.7 2.8,2.1-35.2,1-23.4-.7-19-1.2-5.5,.5-1.3-1-7.2-.7 3.2,2.1-34.9,1-23.5-.7-19.3-1.2-5.4,.5z"/><path fill="#ee0808" d="M-276.1,-396.8l6.2-.4 6.3-9.6 7.9-10.3-10.3,9.7zM290.9,417.1l12.5-10.5 9.9-9.4-5.5-.4-8.4,10.8zM-187.6,-396.8l6-.4 8.7-19.9zM373.7,417.1l18.4-12.6 9.5-7.3-5.3-.4-11.3,10.8zM-93.3,-397.2l1.7-11.6 1.5-8.3-9.1,20.3zM475.1,406.6l14.9-9.4-5.3-.4-14.1,10.8-14.2,9.5zM-5,-397.2l-1.8-15.7-.6-4.2-3.4,20.3zM568.9,402.4l9.4-5.2-5.2-.4-16.9,10.8-17,9.5zM83.5,-396.8l-5.4-14.1-2.7-6.2 2.2,19.9zM-569.6,408.6l-19.2-11.8-5.2,.4 19.8,10.4 20.3,9.5zM171.9,-396.8l-10.6-16.1-3.1-4.2 7.7,19.9zM-488.6,407.6l17.4,9.5-16.1-10.5-13.1-9.8-5.3,.4zM-417.3,397.2l28.9,19.9-13-10.5-10.6-9.8zM-329,397.2l23.4,19.9-9.9-10.5-8.1-9.8zM348.8,-396.8l-25.1-20.3 9.8,9.7 9.1,10.2zM260.3,-396.8l-19.3-20.3 6.9,9.7 6.4,10.2z"/></g>
<use href="#land"/>
<use href="#grat"/>
</g>
<use href="#frame"/>
</g>
<text class="t" x="1032.3" y="69.7">CIMR coverage (Number of Visits) - January 1<tspan dy="-22.5" font-size="36">st</tspan><tspan dy="22.5">, 2016</tspan></text>
<text class="l ll" x="300.4" y="214.7" text-anchor="end">60<tspan dy="-17.5" font-size="35.5">o</tspan><tspan dy="17.5">N</tspan></text>
<text class="l ll" x="155" y="380.4" text-anchor="end">30<tspan dy="-17.5" font-size="35.5">o</tspan><tspan dy="17.5">N</tspan></text>
<text class="l ll" x="106" y="550.4" text-anchor="end">0<tspan dy="-17.5" font-size="35.5">o</tspan><tspan dy="17.5">​</tspan></text>
<text class="l ll" x="155" y="720.4" text-anchor="end">30<tspan dy="-17.5" font-size="35.5">o</tspan><tspan dy="17.5">S</tspan></text>
<text class="l ll" x="300.4" y="886.1" text-anchor="end">60<tspan dy="-17.5" font-size="35.5">o</tspan><tspan dy="17.5">S</tspan></text>
<text class="l" x="524.2" y="1027.7" text-anchor="middle">0<tspan dy="-17.5" font-size="35.5">o</tspan><tspan dy="17.5">​</tspan></text>
<text class="l" x="696" y="1027.7" text-anchor="middle">60<tspan dy="-17.5" font-size="35.5">o</tspan><tspan dy="17.5">E</tspan></text>
<text class="l" x="861.5" y="1027.7" text-anchor="middle">120<tspan dy="-17.5" font-size="35.5">o</tspan><tspan dy="17.5">E</tspan></text>
<text class="l" x="1033.3" y="1027.7" text-anchor="middle">180<tspan dy="-17.5" font-size="35.5">o</tspan><tspan dy="17.5">W</tspan></text>
<text class="l" x="1205.1" y="1027.7" text-anchor="middle">120<tspan dy="-17.5" font-size="35.5">o</tspan><tspan dy="17.5">W</tspan></text>
<text class="l" x="1383.2" y="1027.7" text-anchor="middle">60<tspan dy="-17.5" font-size="35.5">o</tspan><tspan dy="17.5">W</tspan></text>
<text class="l" x="1555" y="1027.7" text-anchor="middle">0<tspan dy="-17.5" font-size="35.5">o</tspan><tspan dy="17.5">​</tspan></text>
<g transform="translate(1012.8,1835.4)">
<g clip-path="url(#clip)">
<path d="M-882.6,-0 -882.5,-5.6 -882.4,-11.3 -882.1,-16.9 -881.8,-22.6 -881.4,-28.2 -880.9,-33.9 -880.4,-39.5 -879.9,-45.1 -879.2,-50.8 -878.6,-56.4 -877.8,-62.1 -876.9,-67.7 -876,-73.4 -875,-79 -873.8,-84.7 -872.6,-90.3 -871.3,-95.9 -869.9,-101.6 -868.5,-107.2 -867,-112.9 -865.5,-118.5 -864,-124.2 -862.4,-129.8 -860.7,-135.4 -858.9,-141.1 -857,-146.7 -854.9,-152.4 -852.6,-158 -850.2,-163.7 -847.6,-169.3 -844.9,-175 -842,-180.6 -838.9,-186.2 -835.8,-191.9 -832.5,-197.5 -829.1,-203.2 -825.6,-208.8 -821.9,-214.4 -818.1,-220 -814.1,-225.7 -809.9,-231.3 -805.6,-236.9 -801.1,-242.4 -796.5,-248 -791.8,-253.6 -787.1,-259.1 -782.3,-264.6 -777.4,-270.1 -772.3,-275.6 -767.1,-281.1 -761.7,-286.6 -756.1,-292 -750.3,-297.4 -744.4,-302.8 -738.3,-308.1 -732.2,-313.5 -725.9,-318.7 -719.5,-324 -713,-329.2 -706.5,-334.4 -699.8,-339.6 -693.1,-344.7 -686.2,-349.8 -679.3,-354.8 -672.4,-359.8 -665.3,-364.8 -658.2,-369.7 -651.1,-374.6 -643.8,-379.4 -636.4,-384.1 -628.9,-388.8 -621.2,-393.4 -613.3,-398 -601,-402.1 -588.7,-406 -576.3,-409.8 -564,-413.3 -551.7,-416.7 -539.3,-419.9 -527,-423 -514.7,-425.9 -502.3,-428.7 -490,-431.3 -477.7,-433.6 -465.3,-435.4 -453,-437 453,-437 465.3,-435.4 477.7,-433.6 490,-431.3 502.3,-428.7 514.7,-425.9 527,-423 539.3,-419.9 551.7,-416.7 564,-413.3 576.3,-409.8 588.7,-406 601,-402.1 613.3,-398 621.2,-393.4 628.9,-388.8 636.4,-384.1 643.8,-379.4 651.1,-374.6 658.2,-369.7 665.3,-364.8 672.4,-359.8 679.3,-354.8 686.2,-349.8 693.1,-344.7 699.8,-339.6 706.5,-334.4 713,-329.2 719.5,-324 725.9,-318.7 732.2,-313.5 738.3,-308.1 744.4,-302.8 750.3,-297.4 756.1,-292 761.7,-286.6 767.1,-281.1 772.3,-275.6 777.4,-270.1 782.3,-264.6 787.1,-259.1 791.8,-253.6 796.5,-248 801.1,-242.4 805.6,-236.9 809.9,-231.3 814.1,-225.7 818.1,-220 821.9,-214.4 825.6,-208.8 829.1,-203.2 832.5,-197.5 835.8,-191.9 838.9,-186.2 842,-180.6 844.9,-175 847.6,-169.3 850.2,-163.7 852.6,-158 854.9,-152.4 857,-146.7 858.9,-141.1 860.7,-135.4 862.4,-129.8 864,-124.2 865.5,-118.5 867,-112.9 868.5,-107.2 869.9,-101.6 871.3,-95.9 872.6,-90.3 873.8,-84.7 875,-79 876,-73.4 876.9,-67.7 877.8,-62.1 878.6,-56.4 879.2,-50.8 879.9,-45.1 880.4,-39.5 880.9,-33.9 881.4,-28.2 881.8,-22.6 882.1,-16.9 882.4,-11.3 882.5,-5.6 882.6,-0 882.5,5.6 882.4,11.3 882.1,16.9 881.8,22.6 881.4,28.2 880.9,33.9 880.4,39.5 879.9,45.1 879.2,50.8 878.6,56.4 877.8,62.1 876.9,67.7 876,73.4 875,79 873.8,84.7 872.6,90.3 871.3,95.9 869.9,101.6 868.5,107.2 867,112.9 865.5,118.5 864,124.2 862.4,129.8 860.7,135.4 858.9,141.1 857,146.7 854.9,152.4 852.6,158 850.2,163.7 847.6,169.3 844.9,175 842,180.6 838.9,186.2 835.8,191.9 832.5,197.5 829.1,203.2 825.6,208.8 821.9,214.4 818.1,220 814.1,225.7 809.9,231.3 805.6,236.9 801.1,242.4 796.5,248 791.8,253.6 787.1,259.1 782.3,264.6 777.4,270.1 772.3,275.6 767.1,281.1 761.7,286.6 756.1,292 750.3,297.4 744.4,302.8 738.3,308.1 732.2,313.5 725.9,318.7 719.5,324 713,329.2 706.5,334.4 699.8,339.6 693.1,344.7 686.2,349.8 679.3,354.8 672.4,359.8 665.3,364.8 658.2,369.7 651.1,374.6 643.8,379.4 636.4,384.1 628.9,388.8 621.2,393.4 613.3,398 601,402.1 588.7,406 576.3,409.8 564,413.3 551.7,416.7 539.3,419.9 527,423 514.7,425.9 502.3,428.7 490,431.3 477.7,433.6 465.3,435.4 453,437 -453,437 -465.3,435.4 -477.7,433.6 -490,431.3 -502.3,428.7 -514.7,425.9 -527,423 -539.3,419.9 -551.7,416.7 -564,413.3 -576.3,409.8 -588.7,406 -601,402.1 -613.3,398 -621.2,393.4 -628.9,388.8 -636.4,384.1 -643.8,379.4 -651.1,374.6 -658.2,369.7 -665.3,364.8 -672.4,359.8 -679.3,354.8 -686.2,349.8 -693.1,344.7 -699.8,339.6 -706.5,334.4 -713,329.2 -719.5,324 -725.9,318.7 -732.2,313.5 -738.3,308.1 -744.4,302.8 -750.3,297.4 -756.1,292 -761.7,286.6 -767.1,281.1 -772.3,275.6 -777.4,270.1 -782.3,264.6 -787.1,259.1 -791.8,253.6 -796.5,248 -801.1,242.4 -805.6,236.9 -809.9,231.3 -814.1,225.7 -818.1,220 -821.9,214.4 -825.6,208.8 -829.1,203.2 -832.5,197.5 -835.8,191.9 -838.9,186.2 -842,180.6 -844.9,175 -847.6,169.3 -850.2,163.7 -852.6,158 -854.9,152.4 -857,146.7 -858.9,141.1 -860.7,135.4 -862.4,129.8 -864,124.2 -865.5,118.5 -867,112.9 -868.5,107.2 -869.9,101.6 -871.3,95.9 -872.6,90.3 -873.8,84.7 -875,79 -876,73.4 -876.9,67.7 -877.8,62.1 -878.6,56.4 -879.2,50.8 -879.9,45.1 -880.4,39.5 -880.9,33.9 -881.4,28.2 -881.8,22.6 -882.1,16.9 -882.4,11.3 -882.5,5.6Z" fill="#00ff80"/>
<use href="#msk" fill="#0000ff" stroke="#0000ff"/>
<use href="#rp" fill="url(#pb)"/>
<use href="#land"/>
<use href="#grat"/>
</g>
<use href="#frame"/>
</g>
<text class="t" x="1012.8" y="1374">AMSR-2 derived NO-OBS mask - January 1<tspan dy="-22.5" font-size="36">st</tspan><tspan dy="22.5">, 2016</tspan></text>
<text class="l ll" x="279.9" y="1519.7" text-anchor="end">60<tspan dy="-17.5" font-size="35.5">o</tspan><tspan dy="17.5">N</tspan></text>
<text class="l ll" x="134.5" y="1685.4" text-anchor="end">30<tspan dy="-17.5" font-size="35.5">o</tspan><tspan dy="17.5">N</tspan></text>
<text class="l ll" x="85.5" y="1855.4" text-anchor="end">0<tspan dy="-17.5" font-size="35.5">o</tspan><tspan dy="17.5">​</tspan></text>
<text class="l ll" x="134.5" y="2025.4" text-anchor="end">30<tspan dy="-17.5" font-size="35.5">o</tspan><tspan dy="17.5">S</tspan></text>
<text class="l ll" x="279.9" y="2191.1" text-anchor="end">60<tspan dy="-17.5" font-size="35.5">o</tspan><tspan dy="17.5">S</tspan></text>
<text class="l" x="503.7" y="2332.7" text-anchor="middle">0<tspan dy="-17.5" font-size="35.5">o</tspan><tspan dy="17.5">​</tspan></text>
<text class="l" x="675.5" y="2332.7" text-anchor="middle">60<tspan dy="-17.5" font-size="35.5">o</tspan><tspan dy="17.5">E</tspan></text>
<text class="l" x="841" y="2332.7" text-anchor="middle">120<tspan dy="-17.5" font-size="35.5">o</tspan><tspan dy="17.5">E</tspan></text>
<text class="l" x="1012.8" y="2332.7" text-anchor="middle">180<tspan dy="-17.5" font-size="35.5">o</tspan><tspan dy="17.5">W</tspan></text>
<text class="l" x="1184.6" y="2332.7" text-anchor="middle">120<tspan dy="-17.5" font-size="35.5">o</tspan><tspan dy="17.5">W</tspan></text>
<text class="l" x="1362.7" y="2332.7" text-anchor="middle">60<tspan dy="-17.5" font-size="35.5">o</tspan><tspan dy="17.5">W</tspan></text>
<text class="l" x="1534.5" y="2332.7" text-anchor="middle">0<tspan dy="-17.5" font-size="35.5">o</tspan><tspan dy="17.5">​</tspan></text>
<g transform="translate(997.3,3140.1)">
<g clip-path="url(#clip)">
<g clip-path="url(#covclip)"><g shape-rendering="crispEdges"><g clip-path="url(#zl)"><rect x="-910" y="-450" width="1820" height="900" fill="url(#pl0)"/><use href="#s1" fill="url(#pl1)"/><use href="#s2" fill="url(#pl2)"/><use href="#s3" fill="url(#pl3)"/><use href="#s4" fill="url(#pl4)"/><use href="#s5" fill="url(#pl5)"/><use href="#s6" fill="url(#pl6)"/><use href="#s7" fill="url(#pl7)"/><use href="#s8" fill="url(#pl8)"/><use href="#s9" fill="url(#pl9)"/><use href="#s10" fill="url(#pl10)"/><use href="#s11" fill="url(#pl11)"/><use href="#s12" fill="url(#pl12)"/><use href="#s13" fill="url(#pl13)"/><use href="#s14" fill="url(#pl14)"/><use href="#s15" fill="url(#pl15)"/><use href="#s16" fill="url(#pl16)"/><use href="#s17" fill="url(#pl17)"/><use href="#s18" fill="url(#pl18)"/><use href="#s19" fill="url(#pl19)"/><use href="#s20" fill="url(#pl20)"/><use href="#s21" fill="url(#pl21)"/><use href="#s22" fill="url(#pl22)"/><use href="#s23" fill="url(#pl23)"/><use href="#s24" fill="url(#pl24)"/><use href="#s25" fill="url(#pl25)"/><use href="#s26" fill="url(#pl26)"/><use href="#s27" fill="url(#pl27)"/><use href="#s28" fill="url(#pl28)"/></g><g clip-path="url(#zn)"><rect x="-910" y="-450" width="1820" height="900" fill="url(#pn0)"/><use href="#s1" fill="url(#pn1)"/><use href="#s2" fill="url(#pn2)"/><use href="#s3" fill="url(#pn3)"/><use href="#s4" fill="url(#pn4)"/><use href="#s5" fill="url(#pn5)"/><use href="#s6" fill="url(#pn6)"/><use href="#s7" fill="url(#pn7)"/><use href="#s8" fill="url(#pn8)"/><use href="#s9" fill="url(#pn9)"/><use href="#s10" fill="url(#pn10)"/><use href="#s11" fill="url(#pn11)"/><use href="#s12" fill="url(#pn12)"/><use href="#s13" fill="url(#pn13)"/><use href="#s14" fill="url(#pn14)"/><use href="#s15" fill="url(#pn15)"/><use href="#s16" fill="url(#pn16)"/><use href="#s17" fill="url(#pn17)"/><use href="#s18" fill="url(#pn18)"/><use href="#s19" fill="url(#pn19)"/><use href="#s20" fill="url(#pn20)"/><use href="#s21" fill="url(#pn21)"/><use href="#s22" fill="url(#pn22)"/><use href="#s23" fill="url(#pn23)"/><use href="#s24" fill="url(#pn24)"/><use href="#s25" fill="url(#pn25)"/><use href="#s26" fill="url(#pn26)"/><use href="#s27" fill="url(#pn27)"/><use href="#s28" fill="url(#pn28)"/></g><g clip-path="url(#za)"><rect x="-910" y="-450" width="1820" height="900" fill="url(#pa4)"/><use href="#s5" fill="url(#pa5)"/><use href="#s6" fill="url(#pa6)"/><use href="#s7" fill="url(#pa7)"/><use href="#s8" fill="url(#pa8)"/><use href="#s9" fill="url(#pa9)"/><use href="#s10" fill="url(#pa10)"/><use href="#s11" fill="url(#pa11)"/><use href="#s12" fill="url(#pa12)"/><use href="#s13" fill="url(#pa13)"/><use href="#s14" fill="url(#pa14)"/><use href="#s15" fill="url(#pa15)"/></g><g clip-path="url(#zb)"><rect x="-910" y="-450" width="1820" height="900" fill="url(#pb7)"/><use href="#s8" fill="url(#pb8)"/><use href="#s9" fill="url(#pb9)"/><use href="#s10" fill="url(#pb10)"/><use href="#s11" fill="url(#pb11)"/><use href="#s12" fill="url(#pb12)"/><use href="#s13" fill="url(#pb13)"/><use href="#s14" fill="url(#pb14)"/></g><g clip-path="url(#zc)"><rect x="-910" y="-450" width="1820" height="900" fill="url(#pc7)"/><use href="#s8" fill="url(#pc8)"/><use href="#s9" fill="url(#pc9)"/><use href="#s10" fill="url(#pc10)"/><use href="#s11" fill="url(#pc11)"/><use href="#s12" fill="url(#pc12)"/></g><g clip-path="url(#zh)"><rect x="-910" y="-450" width="1820" height="900" fill="url(#ph6)"/><use href="#s7" fill="url(#ph7)"/><use href="#s8" fill="url(#ph8)"/><use href="#s9" fill="url(#ph9)"/><use href="#s10" fill="url(#ph10)"/></g></g></g>
<use href="#msk" fill="#fff" stroke="#fff"/>
<use href="#rp" fill="url(#pw)"/>
<use href="#land"/>
<use href="#grat"/>
</g>
<use href="#frame"/>
</g>
<text class="t" x="997.3" y="2678">CIMR synthetic L3 SSS (PSU) - January 1<tspan dy="-22.5" font-size="36">st</tspan><tspan dy="22.5">, 2016</tspan></text>
<text class="l ll" x="264.4" y="2824.4" text-anchor="end">60<tspan dy="-17.5" font-size="35.5">o</tspan><tspan dy="17.5">N</tspan></text>
<text class="l ll" x="119" y="2990.1" text-anchor="end">30<tspan dy="-17.5" font-size="35.5">o</tspan><tspan dy="17.5">N</tspan></text>
<text class="l ll" x="70" y="3160.1" text-anchor="end">0<tspan dy="-17.5" font-size="35.5">o</tspan><tspan dy="17.5">​</tspan></text>
<text class="l ll" x="119" y="3330.1" text-anchor="end">30<tspan dy="-17.5" font-size="35.5">o</tspan><tspan dy="17.5">S</tspan></text>
<text class="l ll" x="264.4" y="3495.8" text-anchor="end">60<tspan dy="-17.5" font-size="35.5">o</tspan><tspan dy="17.5">S</tspan></text>
<text class="l" x="488.2" y="3637.4" text-anchor="middle">0<tspan dy="-17.5" font-size="35.5">o</tspan><tspan dy="17.5">​</tspan></text>
<text class="l" x="660" y="3637.4" text-anchor="middle">60<tspan dy="-17.5" font-size="35.5">o</tspan><tspan dy="17.5">E</tspan></text>
<text class="l" x="825.5" y="3637.4" text-anchor="middle">120<tspan dy="-17.5" font-size="35.5">o</tspan><tspan dy="17.5">E</tspan></text>
<text class="l" x="997.3" y="3637.4" text-anchor="middle">180<tspan dy="-17.5" font-size="35.5">o</tspan><tspan dy="17.5">W</tspan></text>
<text class="l" x="1169.1" y="3637.4" text-anchor="middle">120<tspan dy="-17.5" font-size="35.5">o</tspan><tspan dy="17.5">W</tspan></text>
<text class="l" x="1347.2" y="3637.4" text-anchor="middle">60<tspan dy="-17.5" font-size="35.5">o</tspan><tspan dy="17.5">W</tspan></text>
<text class="l" x="1519" y="3637.4" text-anchor="middle">0<tspan dy="-17.5" font-size="35.5">o</tspan><tspan dy="17.5">​</tspan></text>
<g shape-rendering="crispEdges"><rect x="1963.3" y="886.6" width="59.4" height="89.9" fill="#191970"/><rect x="1963.3" y="797.2" width="59.4" height="89.9" fill="#0000ff"/><rect x="1963.3" y="707.8" width="59.4" height="89.9" fill="#0072bd"/><rect x="1963.3" y="618.4" width="59.4" height="89.9" fill="#00ffff"/><rect x="1963.3" y="529" width="59.4" height="89.9" fill="#327d32"/><rect x="1963.3" y="439.6" width="59.4" height="89.9" fill="#e6ff1e"/><rect x="1963.3" y="350.2" width="59.4" height="89.9" fill="#ffc300"/><rect x="1963.3" y="260.8" width="59.4" height="89.9" fill="#ff5a00"/><rect x="1963.3" y="171.4" width="59.4" height="89.9" fill="#ee0808"/><rect x="1963.3" y="82" width="59.4" height="89.9" fill="#b22222"/><rect x="1963.3" y="82" width="59.4" height="894" fill="none" stroke="#262626" stroke-width="1.6"/><path d="M2022.7,886.6 h-9M2022.7,797.2 h-9M2022.7,707.8 h-9M2022.7,618.4 h-9M2022.7,529 h-9M2022.7,439.6 h-9M2022.7,350.2 h-9M2022.7,260.8 h-9M2022.7,171.4 h-9" stroke="#262626" stroke-width="1.4" fill="none"/></g>
<text class="c" x="2037" y="989.2">1</text>
<text class="c" x="2037" y="899.8">2</text>
<text class="c" x="2037" y="810.4">3</text>
<text class="c" x="2037" y="721">4</text>
<text class="c" x="2037" y="631.6">5</text>
<text class="c" x="2037" y="542.2">6</text>
<text class="c" x="2037" y="452.8">7</text>
<text class="c" x="2037" y="363.4">8</text>
<text class="c" x="2037" y="274">9</text>
<text class="c" x="2037" y="184.6">10</text>
<text class="c" x="2037" y="95.2">11</text>
<g shape-rendering="crispEdges"><rect x="1927.8" y="3575.6" width="58.7" height="14.5" fill="#b0e0e6"/><rect x="1927.8" y="3561.5" width="58.7" height="14.5" fill="#a2cddb"/><rect x="1927.8" y="3547.5" width="58.7" height="14.5" fill="#93bad0"/><rect x="1927.8" y="3533.4" width="58.7" height="14.5" fill="#85a7c4"/><rect x="1927.8" y="3519.4" width="58.7" height="14.5" fill="#7694b9"/><rect x="1927.8" y="3505.3" width="58.7" height="14.5" fill="#6881ae"/><rect x="1927.8" y="3491.3" width="58.7" height="14.5" fill="#5a6ea3"/><rect x="1927.8" y="3477.2" width="58.7" height="14.5" fill="#4b5b97"/><rect x="1927.8" y="3463.2" width="58.7" height="14.5" fill="#3d488c"/><rect x="1927.8" y="3449.2" width="58.7" height="14.5" fill="#2f3581"/><rect x="1927.8" y="3435.1" width="58.7" height="14.5" fill="#202276"/><rect x="1927.8" y="3421.1" width="58.7" height="14.5" fill="#182477"/><rect x="1927.8" y="3407" width="58.7" height="14.5" fill="#153a84"/><rect x="1927.8" y="3393" width="58.7" height="14.5" fill="#135092"/><rect x="1927.8" y="3378.9" width="58.7" height="14.5" fill="#1166a0"/><rect x="1927.8" y="3364.9" width="58.7" height="14.5" fill="#0e7cad"/><rect x="1927.8" y="3350.9" width="58.7" height="14.5" fill="#0c91bb"/><rect x="1927.8" y="3336.8" width="58.7" height="14.5" fill="#0aa7c9"/><rect x="1927.8" y="3322.8" width="58.7" height="14.5" fill="#07bdd6"/><rect x="1927.8" y="3308.7" width="58.7" height="14.5" fill="#05d3e4"/><rect x="1927.8" y="3294.7" width="58.7" height="14.5" fill="#02e9f1"/><rect x="1927.8" y="3280.6" width="58.7" height="14.5" fill="#00ffff"/><rect x="1927.8" y="3266.6" width="58.7" height="14.5" fill="#00f0e7"/><rect x="1927.8" y="3252.6" width="58.7" height="14.5" fill="#00e1ce"/><rect x="1927.8" y="3238.5" width="58.7" height="14.5" fill="#00d3b6"/><rect x="1927.8" y="3224.5" width="58.7" height="14.5" fill="#00c49e"/><rect x="1927.8" y="3210.4" width="58.7" height="14.5" fill="#00b586"/><rect x="1927.8" y="3196.4" width="58.7" height="14.5" fill="#00a66d"/><rect x="1927.8" y="3182.3" width="58.7" height="14.5" fill="#009855"/><rect x="1927.8" y="3168.3" width="58.7" height="14.5" fill="#00893d"/><rect x="1927.8" y="3154.2" width="58.7" height="14.5" fill="#007a24"/><rect x="1927.8" y="3140.2" width="58.7" height="14.5" fill="#006b0c"/><rect x="1927.8" y="3126.2" width="58.7" height="14.5" fill="#0c6b00"/><rect x="1927.8" y="3112.1" width="58.7" height="14.5" fill="#247a00"/><rect x="1927.8" y="3098.1" width="58.7" height="14.5" fill="#3d8900"/><rect x="1927.8" y="3084" width="58.7" height="14.5" fill="#559800"/><rect x="1927.8" y="3070" width="58.7" height="14.5" fill="#6da600"/><rect x="1927.8" y="3055.9" width="58.7" height="14.5" fill="#86b500"/><rect x="1927.8" y="3041.9" width="58.7" height="14.5" fill="#9ec400"/><rect x="1927.8" y="3027.9" width="58.7" height="14.5" fill="#b6d300"/><rect x="1927.8" y="3013.8" width="58.7" height="14.5" fill="#cee100"/><rect x="1927.8" y="2999.8" width="58.7" height="14.5" fill="#e7f000"/><rect x="1927.8" y="2985.7" width="58.7" height="14.5" fill="#ffff00"/><rect x="1927.8" y="2971.7" width="58.7" height="14.5" fill="#ffe700"/><rect x="1927.8" y="2957.6" width="58.7" height="14.5" fill="#ffce00"/><rect x="1927.8" y="2943.6" width="58.7" height="14.5" fill="#ffb600"/><rect x="1927.8" y="2929.5" width="58.7" height="14.5" fill="#ff9e00"/><rect x="1927.8" y="2915.5" width="58.7" height="14.5" fill="#ff8600"/><rect x="1927.8" y="2901.5" width="58.7" height="14.5" fill="#ff6d00"/><rect x="1927.8" y="2887.4" width="58.7" height="14.5" fill="#ff5500"/><rect x="1927.8" y="2873.4" width="58.7" height="14.5" fill="#ff3d00"/><rect x="1927.8" y="2859.3" width="58.7" height="14.5" fill="#ff2400"/><rect x="1927.8" y="2845.3" width="58.7" height="14.5" fill="#ff0c00"/><rect x="1927.8" y="2831.2" width="58.7" height="14.5" fill="#f90000"/><rect x="1927.8" y="2817.2" width="58.7" height="14.5" fill="#ee0000"/><rect x="1927.8" y="2803.2" width="58.7" height="14.5" fill="#e30000"/><rect x="1927.8" y="2789.1" width="58.7" height="14.5" fill="#d80000"/><rect x="1927.8" y="2775.1" width="58.7" height="14.5" fill="#cd0000"/><rect x="1927.8" y="2761" width="58.7" height="14.5" fill="#c20000"/><rect x="1927.8" y="2747" width="58.7" height="14.5" fill="#b70000"/><rect x="1927.8" y="2732.9" width="58.7" height="14.5" fill="#ac0000"/><rect x="1927.8" y="2718.9" width="58.7" height="14.5" fill="#a10000"/><rect x="1927.8" y="2704.8" width="58.7" height="14.5" fill="#960000"/><rect x="1927.8" y="2690.8" width="58.7" height="14.5" fill="#8b0000"/><rect x="1927.8" y="2690.8" width="58.7" height="898.8" fill="none" stroke="#262626" stroke-width="1.6"/><path d="M1986.5,3461.2 h-9M1986.5,3332.8 h-9M1986.5,3204.4 h-9M1986.5,3076 h-9M1986.5,2947.6 h-9M1986.5,2819.2 h-9" stroke="#262626" stroke-width="1.4" fill="none"/></g>
<text class="c" x="2001.5" y="3602.8">32</text>
<text class="c" x="2001.5" y="3474.4">33</text>
<text class="c" x="2001.5" y="3346">34</text>
<text class="c" x="2001.5" y="3217.6">35</text>
<text class="c" x="2001.5" y="3089.2">36</text>
<text class="c" x="2001.5" y="2960.8">37</text>
<text class="c" x="2001.5" y="2832.4">38</text>
<text class="c" x="2001.5" y="2704">39</text>
<text class="cap" x="1043.2" y="1196">(<tspan font-weight="bold">a</tspan>)</text>
<text class="cap" x="1088.9" y="2500.7">(<tspan font-weight="bold">b</tspan>)</text>
<text class="cap" x="1007.5" y="3806">(<tspan font-weight="bold">c</tspan>)</text>
</svg>
</body></html>
